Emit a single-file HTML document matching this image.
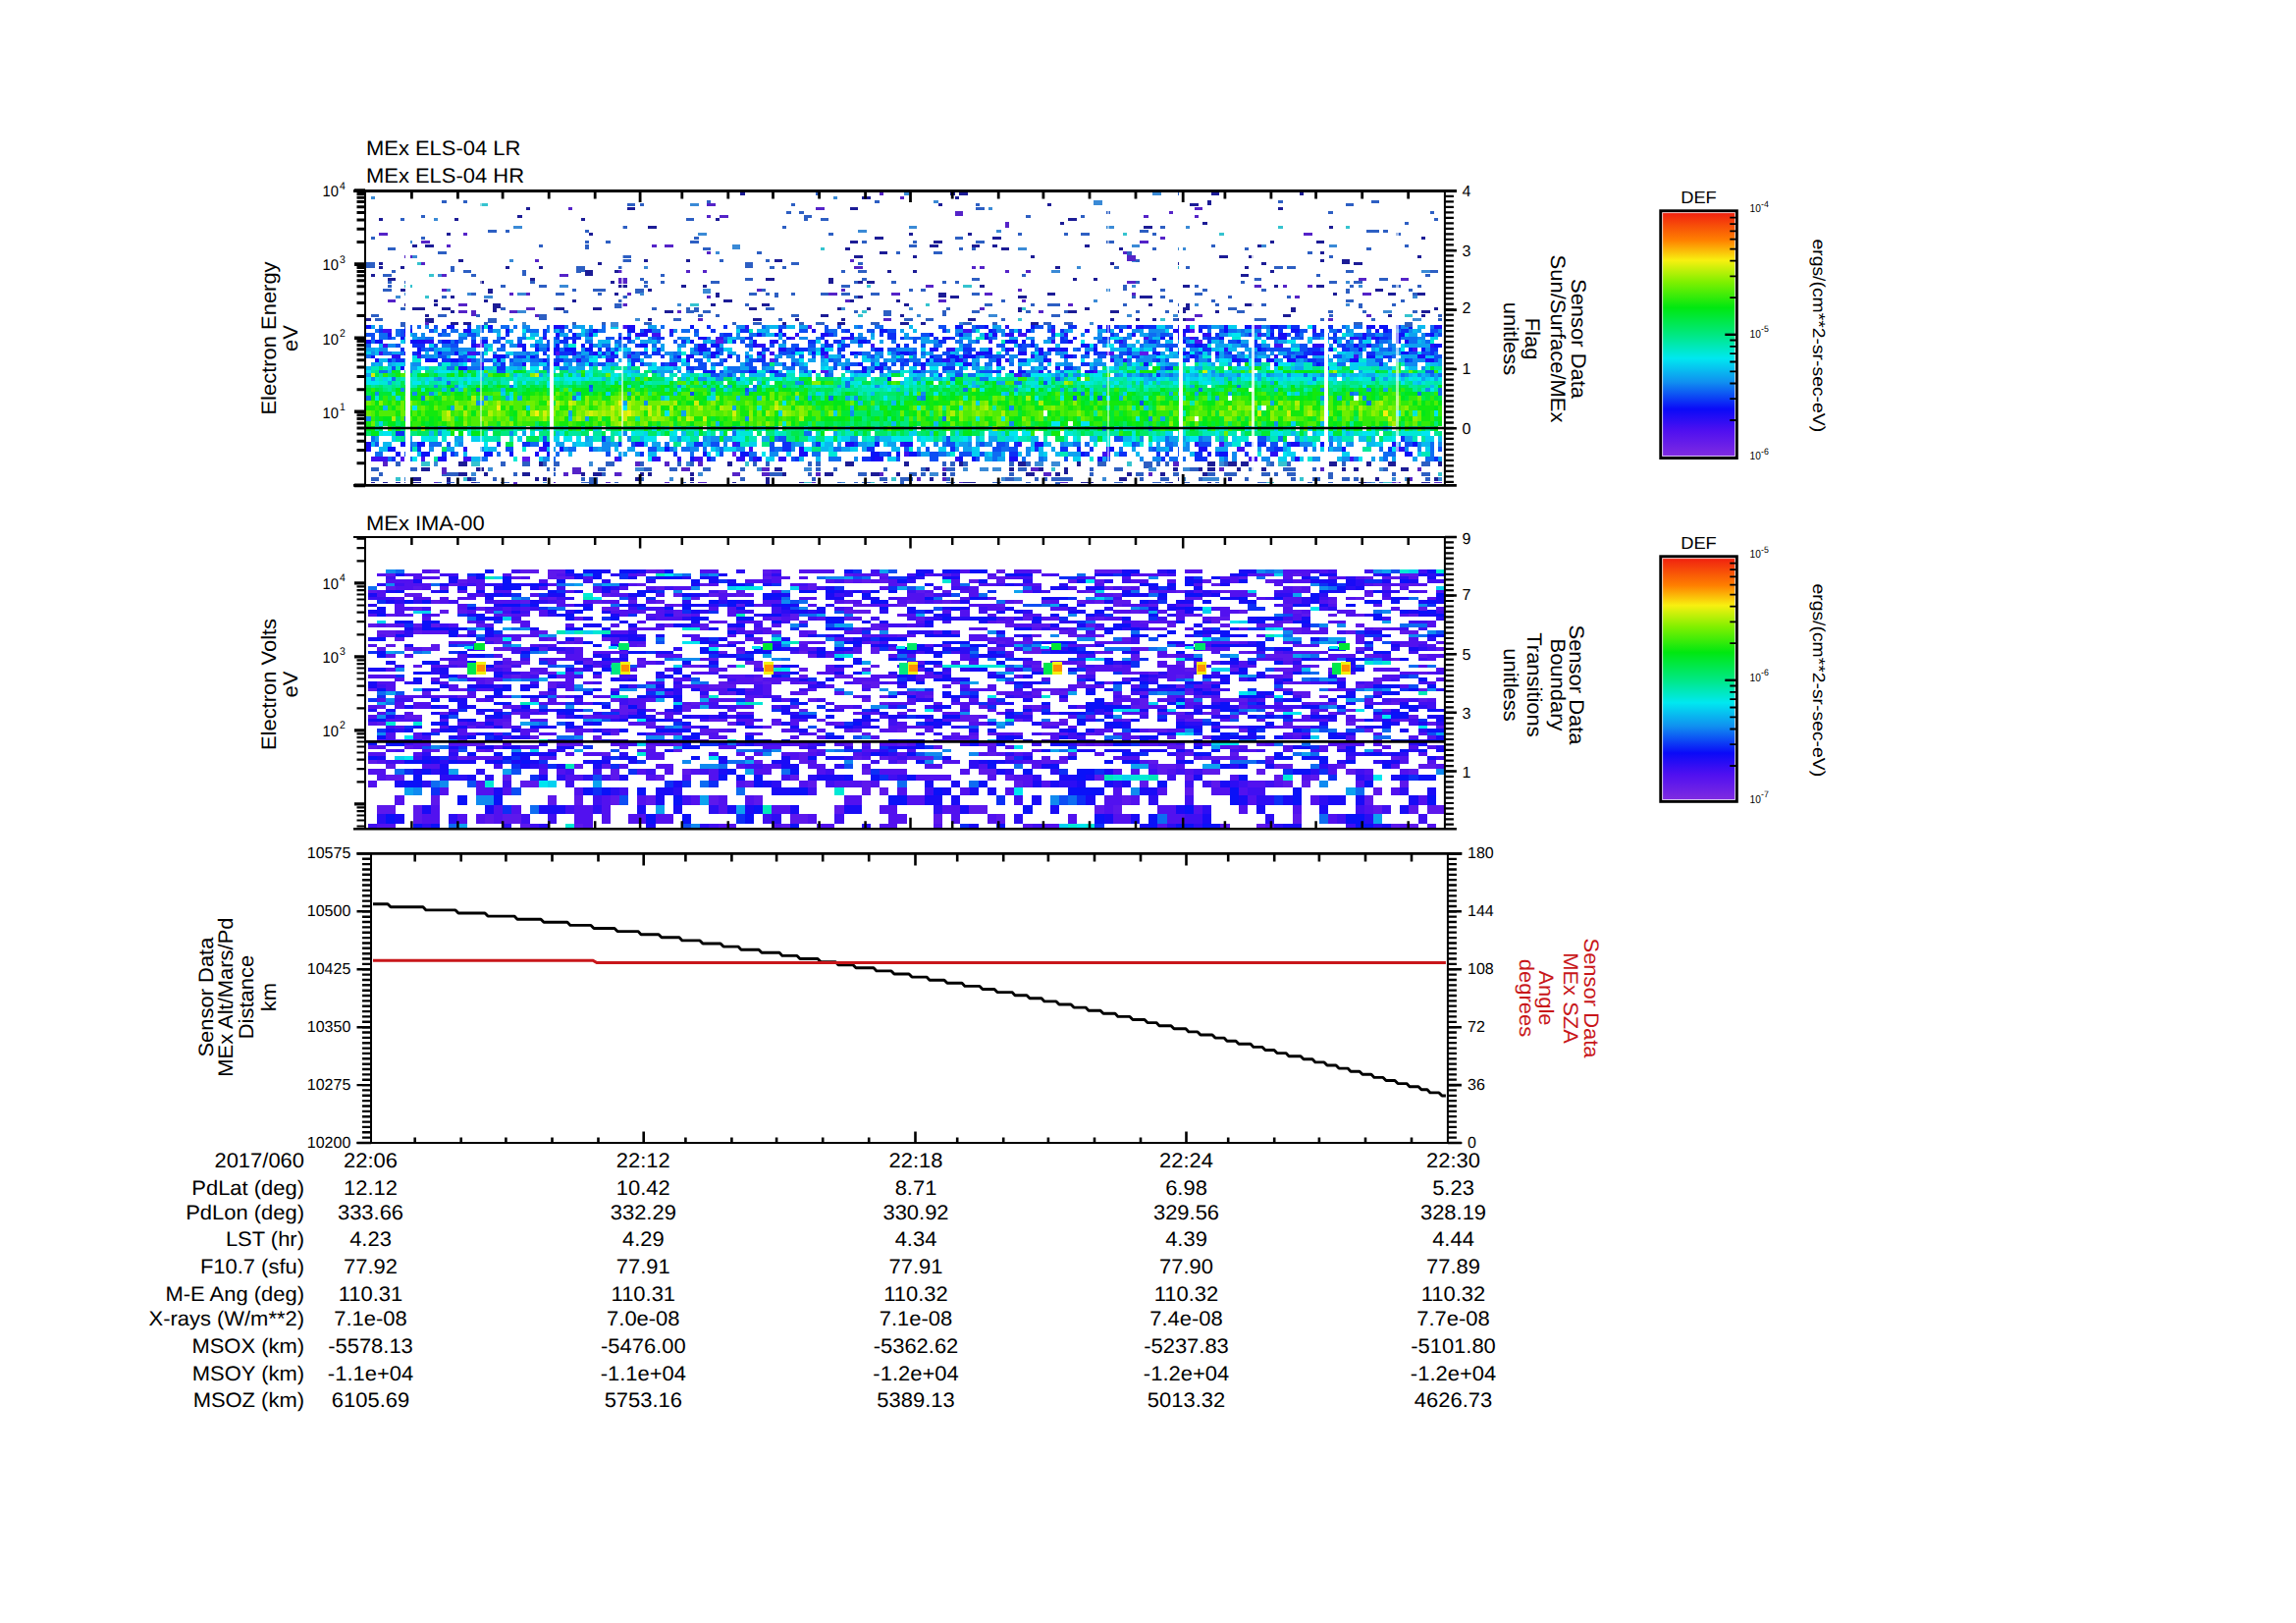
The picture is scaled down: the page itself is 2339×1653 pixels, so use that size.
<!DOCTYPE html>
<html lang="en"><head><meta charset="utf-8"><title>MEx ELS / IMA summary plot</title>
<style>html,body{margin:0;padding:0;background:#fff}svg{display:block}text{font-family:"Liberation Sans",sans-serif}</style></head>
<body>
<svg width="2339" height="1653" viewBox="0 0 2339 1653" text-rendering="geometricPrecision">
<rect width="2339" height="1653" fill="#fff"/>
<g shape-rendering="crispEdges">
<path fill="#00e6f0" d="M1212.4 331.4h4.3v3.8h-4.3zM1332.3 331.4h4.3v3.8h-4.3zM531.6 335.1h4.3v3.8h-4.3zM1255.2 338.9h8.6v3.8h-8.6zM1131.1 342.6h8.6v3.8h-8.6zM1101.1 346.4h4.3v3.8h-4.3zM1285.2 346.4h4.3v3.8h-4.3zM1310.9 346.4h8.6v3.8h-8.6zM1109.6 350.2h4.3v3.8h-4.3zM1126.8 350.2h8.6v3.8h-8.6zM1152.5 353.9h8.6v3.8h-8.6zM1315.2 353.9h4.3v3.8h-4.3zM1426.5 353.9h4.3v3.8h-4.3zM625.8 357.7h4.3v3.8h-4.3zM809.9 357.7h8.6v3.8h-8.6zM831.3 357.7h4.3v3.8h-4.3zM1054 357.7h4.3v3.8h-4.3zM1212.4 357.7h4.3v3.8h-4.3zM604.4 361.4h4.3v3.8h-4.3zM613 361.4h4.3v3.8h-4.3zM1178.1 361.4h8.6v3.8h-8.6zM1268.1 361.4h4.3v3.8h-4.3zM600.1 365.2h8.6v3.8h-8.6zM694.3 365.2h4.3v3.8h-4.3zM814.2 365.2h4.3v3.8h-4.3zM1101.1 365.2h4.3v3.8h-4.3zM1242.4 365.2h8.6v3.8h-8.6zM1272.3 365.2h4.3v3.8h-4.3zM471.7 369h4.3v3.8h-4.3zM595.8 369h4.3v3.8h-4.3zM638.7 369h4.3v3.8h-4.3zM972.6 369h8.6v3.8h-8.6zM1152.5 369h4.3v3.8h-4.3zM1272.3 369h4.3v3.8h-4.3zM1302.3 369h8.6v3.8h-8.6zM1310.9 369h4.3v3.8h-4.3zM1349.4 369h4.3v3.8h-4.3zM424.6 372.7h4.3v3.8h-4.3zM428.9 372.7h4.3v3.8h-4.3zM540.2 372.7h4.3v3.8h-4.3zM544.5 372.7h4.3v3.8h-4.3zM561.6 372.7h4.3v3.8h-4.3zM660.1 372.7h8.6v3.8h-8.6zM737.1 372.7h4.3v3.8h-4.3zM839.9 372.7h4.3v3.8h-4.3zM946.9 372.7h8.6v3.8h-8.6zM1015.4 372.7h4.3v3.8h-4.3zM1126.8 372.7h8.6v3.8h-8.6zM1212.4 372.7h4.3v3.8h-4.3zM1289.5 372.7h4.3v3.8h-4.3zM1353.7 372.7h8.6v3.8h-8.6zM1430.8 372.7h4.3v3.8h-4.3zM373.2 376.5h4.3v3.8h-4.3zM446 376.5h8.6v3.8h-8.6zM454.6 376.5h4.3v3.8h-4.3zM613 376.5h4.3v3.8h-4.3zM801.4 376.5h8.6v3.8h-8.6zM1139.6 376.5h4.3v3.8h-4.3zM1156.7 376.5h4.3v3.8h-4.3zM1195.3 376.5h8.6v3.8h-8.6zM1212.4 376.5h4.3v3.8h-4.3zM1413.6 376.5h4.3v3.8h-4.3zM1465 376.5h4.3v3.8h-4.3zM600.1 380.2h4.3v3.8h-4.3zM625.8 380.2h4.3v3.8h-4.3zM638.7 380.2h4.3v3.8h-4.3zM711.4 380.2h4.3v3.8h-4.3zM865.6 380.2h4.3v3.8h-4.3zM904.1 380.2h4.3v3.8h-4.3zM951.2 380.2h4.3v3.8h-4.3zM1015.4 380.2h4.3v3.8h-4.3zM1049.7 380.2h8.6v3.8h-8.6zM1058.3 380.2h8.6v3.8h-8.6zM1101.1 380.2h4.3v3.8h-4.3zM1113.9 380.2h8.6v3.8h-8.6zM1143.9 380.2h4.3v3.8h-4.3zM1263.8 380.2h4.3v3.8h-4.3zM1285.2 380.2h4.3v3.8h-4.3zM1306.6 380.2h4.3v3.8h-4.3zM1349.4 380.2h4.3v3.8h-4.3zM1362.3 380.2h4.3v3.8h-4.3zM373.2 384h4.3v3.8h-4.3zM394.6 384h4.3v3.8h-4.3zM476 384h4.3v3.8h-4.3zM484.5 384h4.3v3.8h-4.3zM523.1 384h4.3v3.8h-4.3zM565.9 384h4.3v3.8h-4.3zM574.4 384h4.3v3.8h-4.3zM578.7 384h4.3v3.8h-4.3zM583 384h4.3v3.8h-4.3zM587.3 384h4.3v3.8h-4.3zM595.8 384h4.3v3.8h-4.3zM621.5 384h4.3v3.8h-4.3zM754.3 384h4.3v3.8h-4.3zM792.8 384h4.3v3.8h-4.3zM857 384h8.6v3.8h-8.6zM921.2 384h4.3v3.8h-4.3zM959.8 384h4.3v3.8h-4.3zM1006.9 384h8.6v3.8h-8.6zM1156.7 384h4.3v3.8h-4.3zM1178.1 384h4.3v3.8h-4.3zM1208.1 384h4.3v3.8h-4.3zM1221 384h4.3v3.8h-4.3zM1268.1 384h4.3v3.8h-4.3zM1276.6 384h4.3v3.8h-4.3zM1289.5 384h4.3v3.8h-4.3zM1315.2 384h4.3v3.8h-4.3zM1340.9 384h4.3v3.8h-4.3zM1353.7 384h4.3v3.8h-4.3zM1383.7 384h4.3v3.8h-4.3zM1422.2 384h4.3v3.8h-4.3zM1435 384h4.3v3.8h-4.3zM1443.6 384h4.3v3.8h-4.3zM1456.5 384h4.3v3.8h-4.3zM1465 384h4.3v3.8h-4.3zM373.2 387.8h4.3v3.8h-4.3zM377.5 387.8h4.3v3.8h-4.3zM381.8 387.8h4.3v3.8h-4.3zM420.3 387.8h4.3v3.8h-4.3zM424.6 387.8h4.3v3.8h-4.3zM433.1 387.8h4.3v3.8h-4.3zM476 387.8h4.3v3.8h-4.3zM531.6 387.8h4.3v3.8h-4.3zM557.3 387.8h4.3v3.8h-4.3zM758.5 387.8h4.3v3.8h-4.3zM874.2 387.8h4.3v3.8h-4.3zM929.8 387.8h4.3v3.8h-4.3zM1105.4 387.8h4.3v3.8h-4.3zM1135.3 387.8h4.3v3.8h-4.3zM1169.6 387.8h4.3v3.8h-4.3zM1195.3 387.8h4.3v3.8h-4.3zM1225.2 387.8h4.3v3.8h-4.3zM1229.5 387.8h4.3v3.8h-4.3zM1426.5 387.8h4.3v3.8h-4.3zM467.4 391.5h4.3v3.8h-4.3zM523.1 391.5h4.3v3.8h-4.3zM557.3 391.5h4.3v3.8h-4.3zM732.9 391.5h4.3v3.8h-4.3zM887 391.5h4.3v3.8h-4.3zM921.2 391.5h4.3v3.8h-4.3zM964.1 391.5h4.3v3.8h-4.3zM1036.9 391.5h4.3v3.8h-4.3zM1131.1 391.5h4.3v3.8h-4.3zM1387.9 391.5h4.3v3.8h-4.3zM904.1 395.3h4.3v3.8h-4.3zM998.3 395.3h4.3v3.8h-4.3zM1456.5 395.3h4.3v3.8h-4.3zM951.2 399h4.3v3.8h-4.3zM1310.9 399h4.3v3.8h-4.3zM518.8 402.8h4.3v5.2h-4.3zM899.8 402.8h4.3v5.2h-4.3zM1054 402.8h4.3v5.2h-4.3zM1079.7 402.8h4.3v5.2h-4.3zM1126.8 402.8h4.3v5.2h-4.3zM797.1 408h4.3v5.2h-4.3zM420.3 413.2h4.3v5.2h-4.3zM634.4 413.2h4.3v5.2h-4.3zM934.1 413.2h4.3v5.2h-4.3zM677.2 418.4h4.3v5.2h-4.3zM1422.2 418.4h4.3v5.2h-4.3zM1460.7 418.4h4.3v5.2h-4.3zM1019.7 423.6h4.3v5.2h-4.3zM1156.7 423.6h4.3v5.2h-4.3zM1071.1 428.8h4.3v5.2h-4.3zM1075.4 428.8h4.3v5.2h-4.3zM1101.1 428.8h4.3v5.2h-4.3zM1105.4 428.8h4.3v5.2h-4.3zM664.4 434h4.3v5.2h-4.3zM818.5 434h4.3v5.2h-4.3zM1135.3 434h4.3v5.2h-4.3zM1268.1 434h4.3v5.2h-4.3zM1413.6 434h4.3v5.2h-4.3zM390.3 439.2h8.6v5.2h-8.6zM630.1 439.2h4.3v5.2h-4.3zM642.9 439.2h4.3v5.2h-4.3zM685.8 439.2h4.3v5.2h-4.3zM750 439.2h4.3v5.2h-4.3zM1028.3 439.2h8.6v5.2h-8.6zM1041.1 439.2h8.6v5.2h-8.6zM1238.1 439.2h4.3v5.2h-4.3zM1302.3 439.2h4.3v5.2h-4.3zM1340.9 439.2h8.6v5.2h-8.6zM1353.7 439.2h4.3v5.2h-4.3zM1387.9 439.2h8.6v5.2h-8.6zM1396.5 439.2h4.3v5.2h-4.3zM1447.9 439.2h8.6v5.2h-8.6zM428.9 444.4h8.6v5.2h-8.6zM488.8 444.4h4.3v5.2h-4.3zM574.4 444.4h4.3v5.2h-4.3zM578.7 444.4h4.3v5.2h-4.3zM587.3 444.4h4.3v5.2h-4.3zM655.8 444.4h4.3v5.2h-4.3zM660.1 444.4h8.6v5.2h-8.6zM698.6 444.4h4.3v5.2h-4.3zM750 444.4h8.6v5.2h-8.6zM822.8 444.4h4.3v5.2h-4.3zM839.9 444.4h4.3v5.2h-4.3zM844.2 444.4h4.3v5.2h-4.3zM852.7 444.4h4.3v5.2h-4.3zM908.4 444.4h4.3v5.2h-4.3zM912.7 444.4h4.3v5.2h-4.3zM938.4 444.4h4.3v5.2h-4.3zM981.2 444.4h4.3v5.2h-4.3zM1032.6 444.4h4.3v5.2h-4.3zM1092.5 444.4h4.3v5.2h-4.3zM1152.5 444.4h4.3v5.2h-4.3zM1173.9 444.4h4.3v5.2h-4.3zM1212.4 444.4h4.3v5.2h-4.3zM1216.7 444.4h4.3v5.2h-4.3zM1417.9 444.4h4.3v5.2h-4.3zM493.1 449.6h4.3v5.2h-4.3zM835.6 449.6h4.3v5.2h-4.3zM1143.9 449.6h8.6v5.2h-8.6zM1169.6 449.6h4.3v5.2h-4.3zM1336.6 449.6h4.3v5.2h-4.3zM818.5 454.8h8.6v5.2h-8.6zM1417.9 454.8h4.3v5.2h-4.3zM728.6 460h4.3v5.2h-4.3zM775.7 460h4.3v5.2h-4.3zM1306.6 460h4.3v5.2h-4.3zM420.3 465.2h4.3v5.2h-4.3zM660.1 465.2h4.3v5.2h-4.3zM1383.7 465.2h4.3v5.2h-4.3z"/>
<path fill="#00e81a" d="M1178.1 372.7h4.3v3.8h-4.3zM1250.9 372.7h4.3v3.8h-4.3zM467.4 376.5h4.3v3.8h-4.3zM523.1 376.5h8.6v3.8h-8.6zM1306.6 376.5h4.3v3.8h-4.3zM1310.9 376.5h4.3v3.8h-4.3zM1323.7 376.5h4.3v3.8h-4.3zM1328 376.5h8.6v3.8h-8.6zM1400.8 376.5h4.3v3.8h-4.3zM467.4 380.2h4.3v3.8h-4.3zM660.1 384h4.3v3.8h-4.3zM634.4 387.8h4.3v3.8h-4.3zM651.5 387.8h4.3v3.8h-4.3zM715.7 387.8h4.3v3.8h-4.3zM818.5 387.8h4.3v3.8h-4.3zM835.6 387.8h4.3v3.8h-4.3zM904.1 387.8h4.3v3.8h-4.3zM942.7 387.8h8.6v3.8h-8.6zM972.6 387.8h8.6v3.8h-8.6zM1002.6 387.8h4.3v3.8h-4.3zM1011.2 387.8h4.3v3.8h-4.3zM1250.9 387.8h4.3v3.8h-4.3zM1298 387.8h4.3v3.8h-4.3zM454.6 391.5h4.3v3.8h-4.3zM493.1 391.5h4.3v3.8h-4.3zM634.4 391.5h4.3v3.8h-4.3zM677.2 391.5h4.3v3.8h-4.3zM728.6 391.5h4.3v3.8h-4.3zM745.7 391.5h4.3v3.8h-4.3zM1011.2 391.5h4.3v3.8h-4.3zM1216.7 391.5h4.3v3.8h-4.3zM1285.2 391.5h4.3v3.8h-4.3zM1315.2 391.5h4.3v3.8h-4.3zM1465 391.5h4.3v3.8h-4.3zM403.2 395.3h4.3v3.8h-4.3zM433.1 395.3h4.3v3.8h-4.3zM480.2 395.3h4.3v3.8h-4.3zM488.8 395.3h4.3v3.8h-4.3zM493.1 395.3h4.3v3.8h-4.3zM514.5 395.3h4.3v3.8h-4.3zM518.8 395.3h4.3v3.8h-4.3zM535.9 395.3h4.3v3.8h-4.3zM544.5 395.3h4.3v3.8h-4.3zM591.6 395.3h4.3v3.8h-4.3zM595.8 395.3h4.3v3.8h-4.3zM617.3 395.3h4.3v3.8h-4.3zM625.8 395.3h4.3v3.8h-4.3zM634.4 395.3h4.3v3.8h-4.3zM651.5 395.3h4.3v3.8h-4.3zM698.6 395.3h4.3v3.8h-4.3zM750 395.3h4.3v3.8h-4.3zM771.4 395.3h4.3v3.8h-4.3zM797.1 395.3h4.3v3.8h-4.3zM801.4 395.3h4.3v3.8h-4.3zM1006.9 395.3h4.3v3.8h-4.3zM1011.2 395.3h4.3v3.8h-4.3zM1049.7 395.3h4.3v3.8h-4.3zM1058.3 395.3h4.3v3.8h-4.3zM1105.4 395.3h4.3v3.8h-4.3zM1182.4 395.3h4.3v3.8h-4.3zM1268.1 395.3h4.3v3.8h-4.3zM1276.6 395.3h4.3v3.8h-4.3zM1302.3 395.3h4.3v3.8h-4.3zM1366.5 395.3h4.3v3.8h-4.3zM1396.5 395.3h4.3v3.8h-4.3zM1422.2 395.3h4.3v3.8h-4.3zM377.5 399h4.3v3.8h-4.3zM416 399h4.3v3.8h-4.3zM428.9 399h4.3v3.8h-4.3zM450.3 399h4.3v3.8h-4.3zM463.1 399h4.3v3.8h-4.3zM467.4 399h4.3v3.8h-4.3zM484.5 399h4.3v3.8h-4.3zM531.6 399h4.3v3.8h-4.3zM535.9 399h4.3v3.8h-4.3zM574.4 399h4.3v3.8h-4.3zM591.6 399h4.3v3.8h-4.3zM595.8 399h4.3v3.8h-4.3zM604.4 399h4.3v3.8h-4.3zM613 399h4.3v3.8h-4.3zM720 399h4.3v3.8h-4.3zM762.8 399h4.3v3.8h-4.3zM775.7 399h4.3v3.8h-4.3zM780 399h4.3v3.8h-4.3zM805.6 399h4.3v3.8h-4.3zM861.3 399h4.3v3.8h-4.3zM968.3 399h4.3v3.8h-4.3zM989.8 399h4.3v3.8h-4.3zM994 399h4.3v3.8h-4.3zM1002.6 399h4.3v3.8h-4.3zM1006.9 399h4.3v3.8h-4.3zM1011.2 399h4.3v3.8h-4.3zM1015.4 399h4.3v3.8h-4.3zM1066.8 399h4.3v3.8h-4.3zM1096.8 399h4.3v3.8h-4.3zM1135.3 399h4.3v3.8h-4.3zM1152.5 399h4.3v3.8h-4.3zM1173.9 399h4.3v3.8h-4.3zM1178.1 399h4.3v3.8h-4.3zM1212.4 399h4.3v3.8h-4.3zM1225.2 399h4.3v3.8h-4.3zM1233.8 399h4.3v3.8h-4.3zM1263.8 399h4.3v3.8h-4.3zM1306.6 399h4.3v3.8h-4.3zM1332.3 399h4.3v3.8h-4.3zM1358 399h4.3v3.8h-4.3zM1383.7 399h4.3v3.8h-4.3zM1396.5 399h4.3v3.8h-4.3zM1430.8 399h4.3v3.8h-4.3zM1435 399h4.3v3.8h-4.3zM1439.3 399h4.3v3.8h-4.3zM377.5 402.8h4.3v5.2h-4.3zM416 402.8h4.3v5.2h-4.3zM420.3 402.8h4.3v5.2h-4.3zM441.7 402.8h4.3v5.2h-4.3zM476 402.8h4.3v5.2h-4.3zM638.7 402.8h4.3v5.2h-4.3zM647.2 402.8h4.3v5.2h-4.3zM715.7 402.8h4.3v5.2h-4.3zM780 402.8h4.3v5.2h-4.3zM818.5 402.8h4.3v5.2h-4.3zM827.1 402.8h4.3v5.2h-4.3zM848.5 402.8h4.3v5.2h-4.3zM929.8 402.8h4.3v5.2h-4.3zM942.7 402.8h4.3v5.2h-4.3zM959.8 402.8h4.3v5.2h-4.3zM968.3 402.8h4.3v5.2h-4.3zM994 402.8h4.3v5.2h-4.3zM1032.6 402.8h4.3v5.2h-4.3zM1049.7 402.8h4.3v5.2h-4.3zM1062.5 402.8h4.3v5.2h-4.3zM1105.4 402.8h4.3v5.2h-4.3zM1113.9 402.8h4.3v5.2h-4.3zM1122.5 402.8h4.3v5.2h-4.3zM1131.1 402.8h4.3v5.2h-4.3zM1135.3 402.8h4.3v5.2h-4.3zM1148.2 402.8h4.3v5.2h-4.3zM1199.6 402.8h4.3v5.2h-4.3zM1302.3 402.8h4.3v5.2h-4.3zM1315.2 402.8h4.3v5.2h-4.3zM1323.7 402.8h4.3v5.2h-4.3zM1332.3 402.8h4.3v5.2h-4.3zM1358 402.8h4.3v5.2h-4.3zM1396.5 402.8h4.3v5.2h-4.3zM1426.5 402.8h4.3v5.2h-4.3zM381.8 408h4.3v5.2h-4.3zM428.9 408h4.3v5.2h-4.3zM690 408h4.3v5.2h-4.3zM698.6 408h4.3v5.2h-4.3zM702.9 408h4.3v5.2h-4.3zM711.4 408h4.3v5.2h-4.3zM814.2 408h4.3v5.2h-4.3zM822.8 408h4.3v5.2h-4.3zM835.6 408h4.3v5.2h-4.3zM839.9 408h4.3v5.2h-4.3zM848.5 408h4.3v5.2h-4.3zM852.7 408h4.3v5.2h-4.3zM857 408h4.3v5.2h-4.3zM912.7 408h4.3v5.2h-4.3zM942.7 408h4.3v5.2h-4.3zM951.2 408h4.3v5.2h-4.3zM1006.9 408h4.3v5.2h-4.3zM1015.4 408h4.3v5.2h-4.3zM1024 408h4.3v5.2h-4.3zM1041.1 408h4.3v5.2h-4.3zM1071.1 408h4.3v5.2h-4.3zM1075.4 408h4.3v5.2h-4.3zM1101.1 408h4.3v5.2h-4.3zM1113.9 408h4.3v5.2h-4.3zM1156.7 408h4.3v5.2h-4.3zM1165.3 408h4.3v5.2h-4.3zM1173.9 408h4.3v5.2h-4.3zM1182.4 408h4.3v5.2h-4.3zM1186.7 408h4.3v5.2h-4.3zM1229.5 408h4.3v5.2h-4.3zM1233.8 408h4.3v5.2h-4.3zM1298 408h4.3v5.2h-4.3zM1340.9 408h4.3v5.2h-4.3zM1358 408h4.3v5.2h-4.3zM1439.3 408h4.3v5.2h-4.3zM1447.9 408h4.3v5.2h-4.3zM1465 408h4.3v5.2h-4.3zM398.9 413.2h4.3v5.2h-4.3zM454.6 413.2h4.3v5.2h-4.3zM471.7 413.2h4.3v5.2h-4.3zM518.8 413.2h4.3v5.2h-4.3zM672.9 413.2h4.3v5.2h-4.3zM728.6 413.2h4.3v5.2h-4.3zM805.6 413.2h4.3v5.2h-4.3zM848.5 413.2h4.3v5.2h-4.3zM857 413.2h4.3v5.2h-4.3zM908.4 413.2h4.3v5.2h-4.3zM912.7 413.2h4.3v5.2h-4.3zM917 413.2h4.3v5.2h-4.3zM921.2 413.2h4.3v5.2h-4.3zM1024 413.2h4.3v5.2h-4.3zM1036.9 413.2h4.3v5.2h-4.3zM1054 413.2h4.3v5.2h-4.3zM1058.3 413.2h4.3v5.2h-4.3zM1101.1 413.2h4.3v5.2h-4.3zM1109.6 413.2h4.3v5.2h-4.3zM1118.2 413.2h4.3v5.2h-4.3zM1203.8 413.2h4.3v5.2h-4.3zM1302.3 413.2h4.3v5.2h-4.3zM1323.7 413.2h4.3v5.2h-4.3zM1460.7 413.2h4.3v5.2h-4.3zM480.2 418.4h4.3v5.2h-4.3zM523.1 418.4h4.3v5.2h-4.3zM775.7 418.4h4.3v5.2h-4.3zM882.7 418.4h4.3v5.2h-4.3zM904.1 418.4h4.3v5.2h-4.3zM929.8 418.4h4.3v5.2h-4.3zM938.4 418.4h4.3v5.2h-4.3zM1066.8 418.4h4.3v5.2h-4.3zM1161 418.4h4.3v5.2h-4.3zM1165.3 418.4h4.3v5.2h-4.3zM1173.9 418.4h4.3v5.2h-4.3zM1362.3 418.4h4.3v5.2h-4.3zM1430.8 418.4h4.3v5.2h-4.3zM1447.9 418.4h4.3v5.2h-4.3zM390.3 423.6h4.3v5.2h-4.3zM394.6 423.6h4.3v5.2h-4.3zM437.4 423.6h4.3v5.2h-4.3zM446 423.6h4.3v5.2h-4.3zM685.8 423.6h4.3v5.2h-4.3zM788.5 423.6h4.3v5.2h-4.3zM839.9 423.6h4.3v5.2h-4.3zM844.2 423.6h4.3v5.2h-4.3zM852.7 423.6h4.3v5.2h-4.3zM857 423.6h4.3v5.2h-4.3zM869.9 423.6h4.3v5.2h-4.3zM874.2 423.6h4.3v5.2h-4.3zM899.8 423.6h4.3v5.2h-4.3zM908.4 423.6h4.3v5.2h-4.3zM942.7 423.6h4.3v5.2h-4.3zM972.6 423.6h4.3v5.2h-4.3zM1032.6 423.6h4.3v5.2h-4.3zM1036.9 423.6h4.3v5.2h-4.3zM1049.7 423.6h4.3v5.2h-4.3zM1084 423.6h4.3v5.2h-4.3zM1113.9 423.6h4.3v5.2h-4.3zM1118.2 423.6h4.3v5.2h-4.3zM1143.9 423.6h4.3v5.2h-4.3zM1165.3 423.6h4.3v5.2h-4.3zM1203.8 423.6h4.3v5.2h-4.3zM1225.2 423.6h4.3v5.2h-4.3zM1353.7 423.6h4.3v5.2h-4.3zM1426.5 423.6h4.3v5.2h-4.3zM394.6 428.8h4.3v5.2h-4.3zM398.9 428.8h4.3v5.2h-4.3zM428.9 428.8h4.3v5.2h-4.3zM437.4 428.8h4.3v5.2h-4.3zM548.7 428.8h4.3v5.2h-4.3zM591.6 428.8h4.3v5.2h-4.3zM617.3 428.8h4.3v5.2h-4.3zM660.1 428.8h4.3v5.2h-4.3zM702.9 428.8h4.3v5.2h-4.3zM720 428.8h4.3v5.2h-4.3zM732.9 428.8h4.3v5.2h-4.3zM745.7 428.8h4.3v5.2h-4.3zM750 428.8h4.3v5.2h-4.3zM788.5 428.8h4.3v5.2h-4.3zM805.6 428.8h4.3v5.2h-4.3zM929.8 428.8h4.3v5.2h-4.3zM1006.9 428.8h4.3v5.2h-4.3zM1032.6 428.8h4.3v5.2h-4.3zM1062.5 428.8h4.3v5.2h-4.3zM1079.7 428.8h4.3v5.2h-4.3zM1096.8 428.8h4.3v5.2h-4.3zM1126.8 428.8h4.3v5.2h-4.3zM1135.3 428.8h4.3v5.2h-4.3zM1148.2 428.8h4.3v5.2h-4.3zM1156.7 428.8h4.3v5.2h-4.3zM1182.4 428.8h4.3v5.2h-4.3zM1199.6 428.8h4.3v5.2h-4.3zM1212.4 428.8h4.3v5.2h-4.3zM1225.2 428.8h4.3v5.2h-4.3zM1263.8 428.8h4.3v5.2h-4.3zM1268.1 428.8h4.3v5.2h-4.3zM1289.5 428.8h4.3v5.2h-4.3zM1293.8 428.8h4.3v5.2h-4.3zM1340.9 428.8h4.3v5.2h-4.3zM1349.4 428.8h4.3v5.2h-4.3zM1358 428.8h4.3v5.2h-4.3zM1379.4 428.8h4.3v5.2h-4.3zM1383.7 428.8h4.3v5.2h-4.3zM1465 428.8h4.3v5.2h-4.3zM373.2 434h4.3v5.2h-4.3zM711.4 434h4.3v5.2h-4.3zM780 434h4.3v5.2h-4.3zM831.3 434h4.3v5.2h-4.3zM839.9 434h4.3v5.2h-4.3zM899.8 434h4.3v5.2h-4.3zM925.5 434h4.3v5.2h-4.3zM959.8 434h4.3v5.2h-4.3zM1049.7 434h4.3v5.2h-4.3zM1062.5 434h4.3v5.2h-4.3zM1118.2 434h4.3v5.2h-4.3zM1131.1 434h4.3v5.2h-4.3zM1173.9 434h4.3v5.2h-4.3zM1212.4 434h4.3v5.2h-4.3zM1263.8 434h4.3v5.2h-4.3zM1280.9 434h4.3v5.2h-4.3zM1336.6 434h4.3v5.2h-4.3zM1370.8 434h4.3v5.2h-4.3zM377.5 439.2h8.6v5.2h-8.6zM467.4 439.2h4.3v5.2h-4.3zM480.2 439.2h8.6v5.2h-8.6zM835.6 439.2h4.3v5.2h-4.3zM981.2 439.2h8.6v5.2h-8.6z"/>
<path fill="#00e834" d="M1422.2 372.7h4.3v3.8h-4.3zM1456.5 372.7h4.3v3.8h-4.3zM403.2 376.5h4.3v3.8h-4.3zM531.6 376.5h4.3v3.8h-4.3zM1148.2 376.5h8.6v3.8h-8.6zM1289.5 376.5h8.6v3.8h-8.6zM1336.6 376.5h4.3v3.8h-4.3zM1439.3 376.5h4.3v3.8h-4.3zM424.6 380.2h4.3v3.8h-4.3zM441.7 380.2h4.3v3.8h-4.3zM454.6 380.2h4.3v3.8h-4.3zM480.2 380.2h4.3v3.8h-4.3zM908.4 380.2h8.6v3.8h-8.6zM814.2 384h8.6v3.8h-8.6zM972.6 384h8.6v3.8h-8.6zM613 387.8h4.3v3.8h-4.3zM625.8 387.8h4.3v3.8h-4.3zM638.7 387.8h4.3v3.8h-4.3zM724.3 387.8h4.3v3.8h-4.3zM741.4 387.8h8.6v3.8h-8.6zM775.7 387.8h4.3v3.8h-4.3zM788.5 387.8h8.6v3.8h-8.6zM822.8 387.8h4.3v3.8h-4.3zM955.5 387.8h4.3v3.8h-4.3zM1058.3 387.8h4.3v3.8h-4.3zM411.7 391.5h4.3v3.8h-4.3zM458.8 391.5h4.3v3.8h-4.3zM510.2 391.5h4.3v3.8h-4.3zM531.6 391.5h4.3v3.8h-4.3zM540.2 391.5h4.3v3.8h-4.3zM553 391.5h4.3v3.8h-4.3zM561.6 391.5h4.3v3.8h-4.3zM583 391.5h4.3v3.8h-4.3zM613 391.5h4.3v3.8h-4.3zM642.9 391.5h4.3v3.8h-4.3zM660.1 391.5h4.3v3.8h-4.3zM668.6 391.5h4.3v3.8h-4.3zM681.5 391.5h4.3v3.8h-4.3zM720 391.5h4.3v3.8h-4.3zM758.5 391.5h4.3v3.8h-4.3zM771.4 391.5h4.3v3.8h-4.3zM814.2 391.5h4.3v3.8h-4.3zM981.2 391.5h4.3v3.8h-4.3zM1079.7 391.5h4.3v3.8h-4.3zM1088.2 391.5h4.3v3.8h-4.3zM1101.1 391.5h4.3v3.8h-4.3zM1242.4 391.5h4.3v3.8h-4.3zM1246.7 391.5h4.3v3.8h-4.3zM1255.2 391.5h4.3v3.8h-4.3zM1293.8 391.5h4.3v3.8h-4.3zM1340.9 391.5h4.3v3.8h-4.3zM1349.4 391.5h4.3v3.8h-4.3zM1392.2 391.5h4.3v3.8h-4.3zM1422.2 391.5h4.3v3.8h-4.3zM373.2 395.3h4.3v3.8h-4.3zM381.8 395.3h4.3v3.8h-4.3zM411.7 395.3h4.3v3.8h-4.3zM437.4 395.3h4.3v3.8h-4.3zM497.4 395.3h4.3v3.8h-4.3zM523.1 395.3h4.3v3.8h-4.3zM540.2 395.3h4.3v3.8h-4.3zM548.7 395.3h4.3v3.8h-4.3zM561.6 395.3h4.3v3.8h-4.3zM621.5 395.3h4.3v3.8h-4.3zM664.4 395.3h4.3v3.8h-4.3zM668.6 395.3h4.3v3.8h-4.3zM685.8 395.3h4.3v3.8h-4.3zM694.3 395.3h4.3v3.8h-4.3zM728.6 395.3h4.3v3.8h-4.3zM732.9 395.3h4.3v3.8h-4.3zM745.7 395.3h4.3v3.8h-4.3zM754.3 395.3h4.3v3.8h-4.3zM809.9 395.3h4.3v3.8h-4.3zM946.9 395.3h4.3v3.8h-4.3zM959.8 395.3h4.3v3.8h-4.3zM964.1 395.3h4.3v3.8h-4.3zM972.6 395.3h4.3v3.8h-4.3zM985.5 395.3h4.3v3.8h-4.3zM1002.6 395.3h4.3v3.8h-4.3zM1019.7 395.3h4.3v3.8h-4.3zM1024 395.3h4.3v3.8h-4.3zM1071.1 395.3h4.3v3.8h-4.3zM1084 395.3h4.3v3.8h-4.3zM1216.7 395.3h4.3v3.8h-4.3zM1233.8 395.3h4.3v3.8h-4.3zM1280.9 395.3h4.3v3.8h-4.3zM1323.7 395.3h4.3v3.8h-4.3zM1340.9 395.3h4.3v3.8h-4.3zM1387.9 395.3h4.3v3.8h-4.3zM1430.8 395.3h4.3v3.8h-4.3zM1435 395.3h4.3v3.8h-4.3zM386 399h4.3v3.8h-4.3zM390.3 399h4.3v3.8h-4.3zM394.6 399h4.3v3.8h-4.3zM433.1 399h4.3v3.8h-4.3zM707.2 399h4.3v3.8h-4.3zM741.4 399h4.3v3.8h-4.3zM925.5 399h4.3v3.8h-4.3zM942.7 399h4.3v3.8h-4.3zM955.5 399h4.3v3.8h-4.3zM998.3 399h4.3v3.8h-4.3zM1045.4 399h4.3v3.8h-4.3zM1088.2 399h4.3v3.8h-4.3zM1131.1 399h4.3v3.8h-4.3zM1186.7 399h4.3v3.8h-4.3zM1255.2 399h4.3v3.8h-4.3zM1268.1 399h4.3v3.8h-4.3zM1289.5 399h4.3v3.8h-4.3zM1298 399h4.3v3.8h-4.3zM1323.7 399h4.3v3.8h-4.3zM1362.3 399h4.3v3.8h-4.3zM1366.5 399h4.3v3.8h-4.3zM1387.9 399h4.3v3.8h-4.3zM1400.8 399h4.3v3.8h-4.3zM1426.5 399h4.3v3.8h-4.3zM1447.9 399h4.3v3.8h-4.3zM1452.2 399h4.3v3.8h-4.3zM386 402.8h4.3v5.2h-4.3zM407.5 402.8h4.3v5.2h-4.3zM446 402.8h4.3v5.2h-4.3zM613 402.8h4.3v5.2h-4.3zM801.4 402.8h4.3v5.2h-4.3zM857 402.8h4.3v5.2h-4.3zM874.2 402.8h4.3v5.2h-4.3zM925.5 402.8h4.3v5.2h-4.3zM964.1 402.8h4.3v5.2h-4.3zM1006.9 402.8h4.3v5.2h-4.3zM1024 402.8h4.3v5.2h-4.3zM1041.1 402.8h4.3v5.2h-4.3zM1071.1 402.8h4.3v5.2h-4.3zM1101.1 402.8h4.3v5.2h-4.3zM1156.7 402.8h4.3v5.2h-4.3zM1173.9 402.8h4.3v5.2h-4.3zM1186.7 402.8h4.3v5.2h-4.3zM1191 402.8h4.3v5.2h-4.3zM1233.8 402.8h4.3v5.2h-4.3zM1276.6 402.8h4.3v5.2h-4.3zM1293.8 402.8h4.3v5.2h-4.3zM1310.9 402.8h4.3v5.2h-4.3zM1340.9 402.8h4.3v5.2h-4.3zM1430.8 402.8h4.3v5.2h-4.3zM1452.2 402.8h4.3v5.2h-4.3zM1460.7 402.8h4.3v5.2h-4.3zM433.1 408h4.3v5.2h-4.3zM869.9 408h4.3v5.2h-4.3zM878.4 408h4.3v5.2h-4.3zM895.6 408h4.3v5.2h-4.3zM929.8 408h4.3v5.2h-4.3zM938.4 408h4.3v5.2h-4.3zM1054 408h4.3v5.2h-4.3zM1105.4 408h4.3v5.2h-4.3zM882.7 413.2h4.3v5.2h-4.3zM942.7 413.2h4.3v5.2h-4.3zM1122.5 413.2h4.3v5.2h-4.3zM1173.9 413.2h4.3v5.2h-4.3zM857 418.4h4.3v5.2h-4.3zM861.3 418.4h4.3v5.2h-4.3zM908.4 418.4h4.3v5.2h-4.3zM921.2 418.4h4.3v5.2h-4.3zM959.8 418.4h4.3v5.2h-4.3zM1036.9 418.4h4.3v5.2h-4.3zM1131.1 418.4h4.3v5.2h-4.3zM1139.6 418.4h4.3v5.2h-4.3zM1191 418.4h4.3v5.2h-4.3zM1238.1 418.4h4.3v5.2h-4.3zM1285.2 418.4h4.3v5.2h-4.3zM1379.4 418.4h4.3v5.2h-4.3zM381.8 423.6h4.3v5.2h-4.3zM613 423.6h4.3v5.2h-4.3zM724.3 423.6h4.3v5.2h-4.3zM827.1 423.6h4.3v5.2h-4.3zM887 423.6h4.3v5.2h-4.3zM946.9 423.6h4.3v5.2h-4.3zM1131.1 423.6h4.3v5.2h-4.3zM1186.7 423.6h4.3v5.2h-4.3zM1242.4 423.6h4.3v5.2h-4.3zM1259.5 423.6h4.3v5.2h-4.3zM1268.1 423.6h4.3v5.2h-4.3zM1336.6 423.6h4.3v5.2h-4.3zM1460.7 423.6h4.3v5.2h-4.3zM407.5 428.8h4.3v5.2h-4.3zM433.1 428.8h4.3v5.2h-4.3zM505.9 428.8h4.3v5.2h-4.3zM557.3 428.8h4.3v5.2h-4.3zM668.6 428.8h4.3v5.2h-4.3zM685.8 428.8h4.3v5.2h-4.3zM814.2 428.8h4.3v5.2h-4.3zM818.5 428.8h4.3v5.2h-4.3zM839.9 428.8h4.3v5.2h-4.3zM844.2 428.8h4.3v5.2h-4.3zM857 428.8h4.3v5.2h-4.3zM869.9 428.8h4.3v5.2h-4.3zM882.7 428.8h4.3v5.2h-4.3zM912.7 428.8h4.3v5.2h-4.3zM955.5 428.8h4.3v5.2h-4.3zM964.1 428.8h4.3v5.2h-4.3zM985.5 428.8h4.3v5.2h-4.3zM1054 428.8h4.3v5.2h-4.3zM1066.8 428.8h4.3v5.2h-4.3zM1131.1 428.8h4.3v5.2h-4.3zM1139.6 428.8h4.3v5.2h-4.3zM1169.6 428.8h4.3v5.2h-4.3zM1186.7 428.8h4.3v5.2h-4.3zM1221 428.8h4.3v5.2h-4.3zM1233.8 428.8h4.3v5.2h-4.3zM1242.4 428.8h4.3v5.2h-4.3zM1276.6 428.8h4.3v5.2h-4.3zM1319.4 428.8h4.3v5.2h-4.3zM1409.4 428.8h4.3v5.2h-4.3zM1443.6 428.8h4.3v5.2h-4.3zM433.1 434h4.3v5.2h-4.3zM463.1 434h4.3v5.2h-4.3zM724.3 434h4.3v5.2h-4.3zM741.4 434h4.3v5.2h-4.3zM767.1 434h4.3v5.2h-4.3zM797.1 434h4.3v5.2h-4.3zM827.1 434h4.3v5.2h-4.3zM878.4 434h4.3v5.2h-4.3zM917 434h4.3v5.2h-4.3zM938.4 434h4.3v5.2h-4.3zM981.2 434h4.3v5.2h-4.3zM998.3 434h4.3v5.2h-4.3zM1036.9 434h4.3v5.2h-4.3zM1045.4 434h4.3v5.2h-4.3zM1058.3 434h4.3v5.2h-4.3zM1105.4 434h4.3v5.2h-4.3zM1178.1 434h4.3v5.2h-4.3zM1186.7 434h4.3v5.2h-4.3zM1195.3 434h4.3v5.2h-4.3zM1229.5 434h4.3v5.2h-4.3zM1259.5 434h4.3v5.2h-4.3zM1302.3 434h4.3v5.2h-4.3zM1383.7 434h4.3v5.2h-4.3zM488.8 439.2h4.3v5.2h-4.3zM677.2 439.2h4.3v5.2h-4.3zM711.4 439.2h4.3v5.2h-4.3zM737.1 439.2h4.3v5.2h-4.3zM869.9 439.2h4.3v5.2h-4.3zM878.4 439.2h4.3v5.2h-4.3zM1143.9 439.2h8.6v5.2h-8.6zM1156.7 439.2h4.3v5.2h-4.3zM1285.2 439.2h8.6v5.2h-8.6zM1323.7 439.2h4.3v5.2h-4.3zM1358 439.2h8.6v5.2h-8.6zM732.9 444.4h4.3v5.2h-4.3zM784.2 444.4h4.3v5.2h-4.3zM809.9 444.4h4.3v5.2h-4.3zM1118.2 444.4h4.3v5.2h-4.3zM1306.6 444.4h4.3v5.2h-4.3z"/>
<path fill="#00e84d" d="M1422.2 369h4.3v3.8h-4.3zM1195.3 372.7h8.6v3.8h-8.6zM1366.5 372.7h8.6v3.8h-8.6zM480.2 376.5h4.3v3.8h-4.3zM548.7 376.5h8.6v3.8h-8.6zM1208.1 376.5h4.3v3.8h-4.3zM1221 376.5h4.3v3.8h-4.3zM1242.4 376.5h4.3v3.8h-4.3zM1345.1 376.5h4.3v3.8h-4.3zM1405.1 376.5h8.6v3.8h-8.6zM381.8 380.2h4.3v3.8h-4.3zM398.9 380.2h4.3v3.8h-4.3zM561.6 380.2h4.3v3.8h-4.3zM570.2 380.2h4.3v3.8h-4.3zM578.7 380.2h4.3v3.8h-4.3zM707.2 384h4.3v3.8h-4.3zM994 384h4.3v3.8h-4.3zM407.5 387.8h4.3v3.8h-4.3zM595.8 387.8h4.3v3.8h-4.3zM604.4 387.8h4.3v3.8h-4.3zM642.9 387.8h4.3v3.8h-4.3zM647.2 387.8h4.3v3.8h-4.3zM878.4 387.8h8.6v3.8h-8.6zM934.1 387.8h4.3v3.8h-4.3zM1006.9 387.8h4.3v3.8h-4.3zM1071.1 387.8h4.3v3.8h-4.3zM1272.3 387.8h4.3v3.8h-4.3zM407.5 391.5h4.3v3.8h-4.3zM424.6 391.5h4.3v3.8h-4.3zM476 391.5h4.3v3.8h-4.3zM501.6 391.5h4.3v3.8h-4.3zM544.5 391.5h4.3v3.8h-4.3zM570.2 391.5h4.3v3.8h-4.3zM578.7 391.5h4.3v3.8h-4.3zM591.6 391.5h4.3v3.8h-4.3zM595.8 391.5h4.3v3.8h-4.3zM604.4 391.5h4.3v3.8h-4.3zM608.7 391.5h4.3v3.8h-4.3zM617.3 391.5h4.3v3.8h-4.3zM647.2 391.5h4.3v3.8h-4.3zM655.8 391.5h4.3v3.8h-4.3zM707.2 391.5h4.3v3.8h-4.3zM711.4 391.5h4.3v3.8h-4.3zM737.1 391.5h4.3v3.8h-4.3zM788.5 391.5h4.3v3.8h-4.3zM951.2 391.5h4.3v3.8h-4.3zM976.9 391.5h4.3v3.8h-4.3zM998.3 391.5h4.3v3.8h-4.3zM1015.4 391.5h4.3v3.8h-4.3zM1028.3 391.5h4.3v3.8h-4.3zM1161 391.5h4.3v3.8h-4.3zM1203.8 391.5h4.3v3.8h-4.3zM1238.1 391.5h4.3v3.8h-4.3zM1276.6 391.5h4.3v3.8h-4.3zM1323.7 391.5h4.3v3.8h-4.3zM1332.3 391.5h4.3v3.8h-4.3zM1336.6 391.5h4.3v3.8h-4.3zM1366.5 391.5h4.3v3.8h-4.3zM1396.5 391.5h4.3v3.8h-4.3zM1405.1 391.5h4.3v3.8h-4.3zM1417.9 391.5h4.3v3.8h-4.3zM1426.5 391.5h4.3v3.8h-4.3zM1430.8 391.5h4.3v3.8h-4.3zM386 395.3h4.3v3.8h-4.3zM416 395.3h4.3v3.8h-4.3zM420.3 395.3h4.3v3.8h-4.3zM441.7 395.3h4.3v3.8h-4.3zM446 395.3h4.3v3.8h-4.3zM454.6 395.3h4.3v3.8h-4.3zM476 395.3h4.3v3.8h-4.3zM501.6 395.3h4.3v3.8h-4.3zM505.9 395.3h4.3v3.8h-4.3zM531.6 395.3h4.3v3.8h-4.3zM557.3 395.3h4.3v3.8h-4.3zM604.4 395.3h4.3v3.8h-4.3zM608.7 395.3h4.3v3.8h-4.3zM613 395.3h4.3v3.8h-4.3zM647.2 395.3h4.3v3.8h-4.3zM660.1 395.3h4.3v3.8h-4.3zM720 395.3h4.3v3.8h-4.3zM805.6 395.3h4.3v3.8h-4.3zM814.2 395.3h4.3v3.8h-4.3zM831.3 395.3h4.3v3.8h-4.3zM839.9 395.3h4.3v3.8h-4.3zM844.2 395.3h4.3v3.8h-4.3zM951.2 395.3h4.3v3.8h-4.3zM1015.4 395.3h4.3v3.8h-4.3zM1075.4 395.3h4.3v3.8h-4.3zM1126.8 395.3h4.3v3.8h-4.3zM1131.1 395.3h4.3v3.8h-4.3zM1139.6 395.3h4.3v3.8h-4.3zM1143.9 395.3h4.3v3.8h-4.3zM1161 395.3h4.3v3.8h-4.3zM1186.7 395.3h4.3v3.8h-4.3zM1212.4 395.3h4.3v3.8h-4.3zM1229.5 395.3h4.3v3.8h-4.3zM1293.8 395.3h4.3v3.8h-4.3zM1319.4 395.3h4.3v3.8h-4.3zM1370.8 395.3h4.3v3.8h-4.3zM1379.4 395.3h4.3v3.8h-4.3zM1400.8 395.3h4.3v3.8h-4.3zM1417.9 395.3h4.3v3.8h-4.3zM373.2 399h4.3v3.8h-4.3zM411.7 399h4.3v3.8h-4.3zM454.6 399h4.3v3.8h-4.3zM514.5 399h4.3v3.8h-4.3zM527.3 399h4.3v3.8h-4.3zM557.3 399h4.3v3.8h-4.3zM600.1 399h4.3v3.8h-4.3zM737.1 399h4.3v3.8h-4.3zM754.3 399h4.3v3.8h-4.3zM839.9 399h4.3v3.8h-4.3zM857 399h4.3v3.8h-4.3zM865.6 399h4.3v3.8h-4.3zM869.9 399h4.3v3.8h-4.3zM912.7 399h4.3v3.8h-4.3zM917 399h4.3v3.8h-4.3zM946.9 399h4.3v3.8h-4.3zM964.1 399h4.3v3.8h-4.3zM976.9 399h4.3v3.8h-4.3zM981.2 399h4.3v3.8h-4.3zM1036.9 399h4.3v3.8h-4.3zM1054 399h4.3v3.8h-4.3zM1118.2 399h4.3v3.8h-4.3zM1156.7 399h4.3v3.8h-4.3zM1165.3 399h4.3v3.8h-4.3zM1169.6 399h4.3v3.8h-4.3zM1203.8 399h4.3v3.8h-4.3zM1293.8 399h4.3v3.8h-4.3zM1456.5 399h4.3v3.8h-4.3zM394.6 402.8h4.3v5.2h-4.3zM510.2 402.8h4.3v5.2h-4.3zM831.3 402.8h4.3v5.2h-4.3zM852.7 402.8h4.3v5.2h-4.3zM887 402.8h4.3v5.2h-4.3zM912.7 402.8h4.3v5.2h-4.3zM921.2 402.8h4.3v5.2h-4.3zM1058.3 402.8h4.3v5.2h-4.3zM1152.5 402.8h4.3v5.2h-4.3zM1161 402.8h4.3v5.2h-4.3zM1349.4 402.8h4.3v5.2h-4.3zM1400.8 402.8h4.3v5.2h-4.3zM1447.9 402.8h4.3v5.2h-4.3zM1465 402.8h4.3v5.2h-4.3zM561.6 408h4.3v5.2h-4.3zM882.7 408h4.3v5.2h-4.3zM904.1 408h4.3v5.2h-4.3zM1169.6 408h4.3v5.2h-4.3zM1370.8 408h4.3v5.2h-4.3zM831.3 413.2h4.3v5.2h-4.3zM1135.3 413.2h4.3v5.2h-4.3zM835.6 418.4h4.3v5.2h-4.3zM912.7 418.4h4.3v5.2h-4.3zM403.2 423.6h4.3v5.2h-4.3zM463.1 423.6h4.3v5.2h-4.3zM518.8 423.6h4.3v5.2h-4.3zM882.7 423.6h4.3v5.2h-4.3zM895.6 423.6h4.3v5.2h-4.3zM912.7 423.6h4.3v5.2h-4.3zM929.8 423.6h4.3v5.2h-4.3zM955.5 423.6h4.3v5.2h-4.3zM1062.5 423.6h4.3v5.2h-4.3zM1079.7 423.6h4.3v5.2h-4.3zM1096.8 423.6h4.3v5.2h-4.3zM1362.3 423.6h4.3v5.2h-4.3zM390.3 428.8h4.3v5.2h-4.3zM852.7 428.8h4.3v5.2h-4.3zM861.3 428.8h4.3v5.2h-4.3zM874.2 428.8h4.3v5.2h-4.3zM895.6 428.8h4.3v5.2h-4.3zM934.1 428.8h4.3v5.2h-4.3zM1049.7 428.8h4.3v5.2h-4.3zM1122.5 428.8h4.3v5.2h-4.3zM1178.1 428.8h4.3v5.2h-4.3zM1426.5 428.8h4.3v5.2h-4.3zM441.7 434h4.3v5.2h-4.3zM454.6 434h4.3v5.2h-4.3zM471.7 434h4.3v5.2h-4.3zM510.2 434h4.3v5.2h-4.3zM583 434h4.3v5.2h-4.3zM595.8 434h4.3v5.2h-4.3zM621.5 434h4.3v5.2h-4.3zM625.8 434h4.3v5.2h-4.3zM642.9 434h4.3v5.2h-4.3zM737.1 434h4.3v5.2h-4.3zM758.5 434h4.3v5.2h-4.3zM784.2 434h4.3v5.2h-4.3zM874.2 434h4.3v5.2h-4.3zM887 434h4.3v5.2h-4.3zM955.5 434h4.3v5.2h-4.3zM994 434h4.3v5.2h-4.3zM1028.3 434h4.3v5.2h-4.3zM1088.2 434h4.3v5.2h-4.3zM1139.6 434h4.3v5.2h-4.3zM1156.7 434h4.3v5.2h-4.3zM1161 434h4.3v5.2h-4.3zM1255.2 434h4.3v5.2h-4.3zM1323.7 434h4.3v5.2h-4.3zM1345.1 434h4.3v5.2h-4.3zM1400.8 434h4.3v5.2h-4.3zM1447.9 434h4.3v5.2h-4.3zM424.6 439.2h4.3v5.2h-4.3zM501.6 439.2h8.6v5.2h-8.6zM574.4 439.2h4.3v5.2h-4.3zM613 439.2h4.3v5.2h-4.3zM805.6 439.2h8.6v5.2h-8.6zM908.4 439.2h4.3v5.2h-4.3zM917 439.2h4.3v5.2h-4.3zM942.7 439.2h4.3v5.2h-4.3zM989.8 439.2h8.6v5.2h-8.6zM1024 439.2h4.3v5.2h-4.3zM1101.1 439.2h4.3v5.2h-4.3zM1212.4 439.2h8.6v5.2h-8.6zM1268.1 439.2h8.6v5.2h-8.6zM535.9 444.4h4.3v5.2h-4.3zM540.2 444.4h8.6v5.2h-8.6zM848.5 444.4h4.3v5.2h-4.3zM1075.4 444.4h8.6v5.2h-8.6zM514.5 449.6h8.6v5.2h-8.6z"/>
<path fill="#00e867" d="M1143.9 369h4.3v3.8h-4.3zM386 372.7h4.3v3.8h-4.3zM463.1 372.7h4.3v3.8h-4.3zM621.5 372.7h4.3v3.8h-4.3zM1122.5 372.7h4.3v3.8h-4.3zM1139.6 372.7h8.6v3.8h-8.6zM1238.1 372.7h8.6v3.8h-8.6zM570.2 376.5h8.6v3.8h-8.6zM655.8 376.5h4.3v3.8h-4.3zM1096.8 376.5h4.3v3.8h-4.3zM1255.2 376.5h8.6v3.8h-8.6zM1315.2 376.5h4.3v3.8h-4.3zM1362.3 376.5h8.6v3.8h-8.6zM394.6 380.2h4.3v3.8h-4.3zM416 380.2h4.3v3.8h-4.3zM437.4 380.2h4.3v3.8h-4.3zM471.7 380.2h4.3v3.8h-4.3zM604.4 380.2h4.3v3.8h-4.3zM613 380.2h4.3v3.8h-4.3zM664.4 380.2h4.3v3.8h-4.3zM1122.5 380.2h4.3v3.8h-4.3zM638.7 384h4.3v3.8h-4.3zM664.4 384h4.3v3.8h-4.3zM668.6 384h8.6v3.8h-8.6zM698.6 384h4.3v3.8h-4.3zM737.1 384h8.6v3.8h-8.6zM831.3 384h8.6v3.8h-8.6zM839.9 384h8.6v3.8h-8.6zM852.7 384h4.3v3.8h-4.3zM1071.1 384h4.3v3.8h-4.3zM458.8 387.8h4.3v3.8h-4.3zM497.4 387.8h4.3v3.8h-4.3zM505.9 387.8h4.3v3.8h-4.3zM553 387.8h4.3v3.8h-4.3zM583 387.8h4.3v3.8h-4.3zM591.6 387.8h4.3v3.8h-4.3zM600.1 387.8h4.3v3.8h-4.3zM608.7 387.8h4.3v3.8h-4.3zM685.8 387.8h4.3v3.8h-4.3zM801.4 387.8h8.6v3.8h-8.6zM848.5 387.8h8.6v3.8h-8.6zM1152.5 387.8h4.3v3.8h-4.3zM1161 387.8h4.3v3.8h-4.3zM1216.7 387.8h4.3v3.8h-4.3zM1285.2 387.8h4.3v3.8h-4.3zM1349.4 387.8h4.3v3.8h-4.3zM1400.8 387.8h4.3v3.8h-4.3zM1422.2 387.8h4.3v3.8h-4.3zM373.2 391.5h4.3v3.8h-4.3zM386 391.5h4.3v3.8h-4.3zM428.9 391.5h4.3v3.8h-4.3zM433.1 391.5h4.3v3.8h-4.3zM446 391.5h4.3v3.8h-4.3zM480.2 391.5h4.3v3.8h-4.3zM488.8 391.5h4.3v3.8h-4.3zM514.5 391.5h4.3v3.8h-4.3zM527.3 391.5h4.3v3.8h-4.3zM548.7 391.5h4.3v3.8h-4.3zM574.4 391.5h4.3v3.8h-4.3zM587.3 391.5h4.3v3.8h-4.3zM664.4 391.5h4.3v3.8h-4.3zM702.9 391.5h4.3v3.8h-4.3zM754.3 391.5h4.3v3.8h-4.3zM784.2 391.5h4.3v3.8h-4.3zM801.4 391.5h4.3v3.8h-4.3zM942.7 391.5h4.3v3.8h-4.3zM968.3 391.5h4.3v3.8h-4.3zM1006.9 391.5h4.3v3.8h-4.3zM1019.7 391.5h4.3v3.8h-4.3zM1041.1 391.5h4.3v3.8h-4.3zM1075.4 391.5h4.3v3.8h-4.3zM1092.5 391.5h4.3v3.8h-4.3zM1126.8 391.5h4.3v3.8h-4.3zM1221 391.5h4.3v3.8h-4.3zM1272.3 391.5h4.3v3.8h-4.3zM1289.5 391.5h4.3v3.8h-4.3zM1298 391.5h4.3v3.8h-4.3zM1328 391.5h4.3v3.8h-4.3zM1370.8 391.5h4.3v3.8h-4.3zM1383.7 391.5h4.3v3.8h-4.3zM1413.6 391.5h4.3v3.8h-4.3zM398.9 395.3h4.3v3.8h-4.3zM527.3 395.3h4.3v3.8h-4.3zM570.2 395.3h4.3v3.8h-4.3zM822.8 395.3h4.3v3.8h-4.3zM835.6 395.3h4.3v3.8h-4.3zM925.5 395.3h4.3v3.8h-4.3zM934.1 395.3h4.3v3.8h-4.3zM942.7 395.3h4.3v3.8h-4.3zM968.3 395.3h4.3v3.8h-4.3zM976.9 395.3h4.3v3.8h-4.3zM1028.3 395.3h4.3v3.8h-4.3zM1062.5 395.3h4.3v3.8h-4.3zM1113.9 395.3h4.3v3.8h-4.3zM1122.5 395.3h4.3v3.8h-4.3zM1169.6 395.3h4.3v3.8h-4.3zM1191 395.3h4.3v3.8h-4.3zM1195.3 395.3h4.3v3.8h-4.3zM1208.1 395.3h4.3v3.8h-4.3zM1225.2 395.3h4.3v3.8h-4.3zM1238.1 395.3h4.3v3.8h-4.3zM1285.2 395.3h4.3v3.8h-4.3zM1289.5 395.3h4.3v3.8h-4.3zM1306.6 395.3h4.3v3.8h-4.3zM1310.9 395.3h4.3v3.8h-4.3zM1353.7 395.3h4.3v3.8h-4.3zM1362.3 395.3h4.3v3.8h-4.3zM1443.6 395.3h4.3v3.8h-4.3zM476 399h4.3v3.8h-4.3zM583 399h4.3v3.8h-4.3zM827.1 399h4.3v3.8h-4.3zM891.3 399h4.3v3.8h-4.3zM904.1 399h4.3v3.8h-4.3zM908.4 399h4.3v3.8h-4.3zM1041.1 399h4.3v3.8h-4.3zM1058.3 399h4.3v3.8h-4.3zM1062.5 399h4.3v3.8h-4.3zM1139.6 399h4.3v3.8h-4.3zM1161 399h4.3v3.8h-4.3zM1182.4 399h4.3v3.8h-4.3zM1259.5 399h4.3v3.8h-4.3zM1328 399h4.3v3.8h-4.3zM1353.7 399h4.3v3.8h-4.3zM484.5 402.8h4.3v5.2h-4.3zM878.4 402.8h4.3v5.2h-4.3zM891.3 402.8h4.3v5.2h-4.3zM1216.7 402.8h4.3v5.2h-4.3zM827.1 408h4.3v5.2h-4.3zM891.3 408h4.3v5.2h-4.3zM899.8 408h4.3v5.2h-4.3zM887 413.2h4.3v5.2h-4.3zM904.1 413.2h4.3v5.2h-4.3zM1169.6 413.2h4.3v5.2h-4.3zM869.9 418.4h4.3v5.2h-4.3zM874.2 418.4h4.3v5.2h-4.3zM878.4 418.4h4.3v5.2h-4.3zM887 418.4h4.3v5.2h-4.3zM891.3 418.4h4.3v5.2h-4.3zM895.6 418.4h4.3v5.2h-4.3zM865.6 423.6h4.3v5.2h-4.3zM1379.4 423.6h4.3v5.2h-4.3zM381.8 428.8h4.3v5.2h-4.3zM403.2 428.8h4.3v5.2h-4.3zM544.5 428.8h4.3v5.2h-4.3zM831.3 428.8h4.3v5.2h-4.3zM835.6 428.8h4.3v5.2h-4.3zM848.5 428.8h4.3v5.2h-4.3zM878.4 428.8h4.3v5.2h-4.3zM904.1 428.8h4.3v5.2h-4.3zM1143.9 428.8h4.3v5.2h-4.3zM1165.3 428.8h4.3v5.2h-4.3zM1250.9 428.8h4.3v5.2h-4.3zM1285.2 428.8h4.3v5.2h-4.3zM386 434h4.3v5.2h-4.3zM411.7 434h4.3v5.2h-4.3zM424.6 434h4.3v5.2h-4.3zM467.4 434h4.3v5.2h-4.3zM480.2 434h4.3v5.2h-4.3zM488.8 434h4.3v5.2h-4.3zM493.1 434h4.3v5.2h-4.3zM514.5 434h4.3v5.2h-4.3zM553 434h4.3v5.2h-4.3zM634.4 434h4.3v5.2h-4.3zM638.7 434h4.3v5.2h-4.3zM660.1 434h4.3v5.2h-4.3zM694.3 434h4.3v5.2h-4.3zM732.9 434h4.3v5.2h-4.3zM809.9 434h4.3v5.2h-4.3zM814.2 434h4.3v5.2h-4.3zM835.6 434h4.3v5.2h-4.3zM844.2 434h4.3v5.2h-4.3zM852.7 434h4.3v5.2h-4.3zM895.6 434h4.3v5.2h-4.3zM946.9 434h4.3v5.2h-4.3zM968.3 434h4.3v5.2h-4.3zM976.9 434h4.3v5.2h-4.3zM1002.6 434h4.3v5.2h-4.3zM1024 434h4.3v5.2h-4.3zM1071.1 434h4.3v5.2h-4.3zM1096.8 434h4.3v5.2h-4.3zM1101.1 434h4.3v5.2h-4.3zM1126.8 434h4.3v5.2h-4.3zM1216.7 434h4.3v5.2h-4.3zM1285.2 434h4.3v5.2h-4.3zM1289.5 434h4.3v5.2h-4.3zM1315.2 434h4.3v5.2h-4.3zM1349.4 434h4.3v5.2h-4.3zM1375.1 434h4.3v5.2h-4.3zM1435 434h4.3v5.2h-4.3zM1456.5 434h4.3v5.2h-4.3zM373.2 439.2h4.3v5.2h-4.3zM428.9 439.2h8.6v5.2h-8.6zM441.7 439.2h4.3v5.2h-4.3zM557.3 439.2h8.6v5.2h-8.6zM591.6 439.2h8.6v5.2h-8.6zM660.1 439.2h8.6v5.2h-8.6zM771.4 439.2h4.3v5.2h-4.3zM814.2 439.2h4.3v5.2h-4.3zM891.3 439.2h4.3v5.2h-4.3zM895.6 439.2h8.6v5.2h-8.6zM938.4 439.2h4.3v5.2h-4.3zM968.3 439.2h4.3v5.2h-4.3zM976.9 439.2h4.3v5.2h-4.3zM1109.6 439.2h4.3v5.2h-4.3zM1161 439.2h8.6v5.2h-8.6zM1208.1 439.2h4.3v5.2h-4.3zM1409.4 439.2h8.6v5.2h-8.6zM758.5 444.4h4.3v5.2h-4.3zM1169.6 444.4h4.3v5.2h-4.3zM1405.1 444.4h4.3v5.2h-4.3zM450.3 454.8h4.3v5.2h-4.3z"/>
<path fill="#00e880" d="M784.2 369h4.3v3.8h-4.3zM1161 369h4.3v3.8h-4.3zM1216.7 369h4.3v3.8h-4.3zM604.4 372.7h4.3v3.8h-4.3zM642.9 372.7h8.6v3.8h-8.6zM1272.3 372.7h4.3v3.8h-4.3zM1336.6 372.7h8.6v3.8h-8.6zM381.8 376.5h4.3v3.8h-4.3zM411.7 376.5h4.3v3.8h-4.3zM433.1 376.5h8.6v3.8h-8.6zM587.3 376.5h4.3v3.8h-4.3zM604.4 376.5h4.3v3.8h-4.3zM660.1 376.5h4.3v3.8h-4.3zM1268.1 376.5h4.3v3.8h-4.3zM1370.8 376.5h4.3v3.8h-4.3zM1426.5 376.5h8.6v3.8h-8.6zM518.8 380.2h4.3v3.8h-4.3zM535.9 380.2h4.3v3.8h-4.3zM565.9 380.2h4.3v3.8h-4.3zM608.7 380.2h4.3v3.8h-4.3zM1105.4 380.2h4.3v3.8h-4.3zM501.6 384h4.3v3.8h-4.3zM505.9 384h4.3v3.8h-4.3zM617.3 384h4.3v3.8h-4.3zM630.1 384h4.3v3.8h-4.3zM651.5 384h4.3v3.8h-4.3zM690 384h4.3v3.8h-4.3zM762.8 384h8.6v3.8h-8.6zM775.7 384h8.6v3.8h-8.6zM797.1 384h4.3v3.8h-4.3zM891.3 384h4.3v3.8h-4.3zM1024 384h8.6v3.8h-8.6zM1058.3 384h4.3v3.8h-4.3zM1084 384h4.3v3.8h-4.3zM1246.7 384h4.3v3.8h-4.3zM1259.5 384h4.3v3.8h-4.3zM463.1 387.8h4.3v3.8h-4.3zM471.7 387.8h4.3v3.8h-4.3zM527.3 387.8h4.3v3.8h-4.3zM535.9 387.8h4.3v3.8h-4.3zM540.2 387.8h4.3v3.8h-4.3zM548.7 387.8h4.3v3.8h-4.3zM570.2 387.8h4.3v3.8h-4.3zM728.6 387.8h8.6v3.8h-8.6zM762.8 387.8h4.3v3.8h-4.3zM797.1 387.8h4.3v3.8h-4.3zM959.8 387.8h4.3v3.8h-4.3zM1041.1 387.8h4.3v3.8h-4.3zM1092.5 387.8h4.3v3.8h-4.3zM1126.8 387.8h4.3v3.8h-4.3zM1139.6 387.8h4.3v3.8h-4.3zM1173.9 387.8h4.3v3.8h-4.3zM1182.4 387.8h4.3v3.8h-4.3zM1186.7 387.8h4.3v3.8h-4.3zM1212.4 387.8h4.3v3.8h-4.3zM1259.5 387.8h4.3v3.8h-4.3zM1268.1 387.8h4.3v3.8h-4.3zM1276.6 387.8h4.3v3.8h-4.3zM1289.5 387.8h4.3v3.8h-4.3zM1323.7 387.8h4.3v3.8h-4.3zM1340.9 387.8h4.3v3.8h-4.3zM1366.5 387.8h4.3v3.8h-4.3zM1375.1 387.8h4.3v3.8h-4.3zM1379.4 387.8h4.3v3.8h-4.3zM1435 387.8h4.3v3.8h-4.3zM381.8 391.5h4.3v3.8h-4.3zM398.9 391.5h4.3v3.8h-4.3zM437.4 391.5h4.3v3.8h-4.3zM450.3 391.5h4.3v3.8h-4.3zM497.4 391.5h4.3v3.8h-4.3zM535.9 391.5h4.3v3.8h-4.3zM565.9 391.5h4.3v3.8h-4.3zM685.8 391.5h4.3v3.8h-4.3zM724.3 391.5h4.3v3.8h-4.3zM750 391.5h4.3v3.8h-4.3zM805.6 391.5h4.3v3.8h-4.3zM822.8 391.5h4.3v3.8h-4.3zM848.5 391.5h4.3v3.8h-4.3zM865.6 391.5h4.3v3.8h-4.3zM917 391.5h4.3v3.8h-4.3zM959.8 391.5h4.3v3.8h-4.3zM972.6 391.5h4.3v3.8h-4.3zM1002.6 391.5h4.3v3.8h-4.3zM1024 391.5h4.3v3.8h-4.3zM1032.6 391.5h4.3v3.8h-4.3zM1062.5 391.5h4.3v3.8h-4.3zM1066.8 391.5h4.3v3.8h-4.3zM1084 391.5h4.3v3.8h-4.3zM1113.9 391.5h4.3v3.8h-4.3zM1118.2 391.5h4.3v3.8h-4.3zM1135.3 391.5h4.3v3.8h-4.3zM1152.5 391.5h4.3v3.8h-4.3zM1178.1 391.5h4.3v3.8h-4.3zM1225.2 391.5h4.3v3.8h-4.3zM1263.8 391.5h4.3v3.8h-4.3zM1268.1 391.5h4.3v3.8h-4.3zM1302.3 391.5h4.3v3.8h-4.3zM1310.9 391.5h4.3v3.8h-4.3zM1358 391.5h4.3v3.8h-4.3zM1362.3 391.5h4.3v3.8h-4.3zM1400.8 391.5h4.3v3.8h-4.3zM1443.6 391.5h4.3v3.8h-4.3zM1447.9 391.5h4.3v3.8h-4.3zM390.3 395.3h4.3v3.8h-4.3zM463.1 395.3h4.3v3.8h-4.3zM741.4 395.3h4.3v3.8h-4.3zM775.7 395.3h4.3v3.8h-4.3zM788.5 395.3h4.3v3.8h-4.3zM827.1 395.3h4.3v3.8h-4.3zM857 395.3h4.3v3.8h-4.3zM869.9 395.3h4.3v3.8h-4.3zM917 395.3h4.3v3.8h-4.3zM955.5 395.3h4.3v3.8h-4.3zM1101.1 395.3h4.3v3.8h-4.3zM1118.2 395.3h4.3v3.8h-4.3zM1156.7 395.3h4.3v3.8h-4.3zM1173.9 395.3h4.3v3.8h-4.3zM1178.1 395.3h4.3v3.8h-4.3zM1242.4 395.3h4.3v3.8h-4.3zM1255.2 395.3h4.3v3.8h-4.3zM1332.3 395.3h4.3v3.8h-4.3zM660.1 399h4.3v3.8h-4.3zM844.2 399h4.3v3.8h-4.3zM878.4 399h4.3v3.8h-4.3zM895.6 399h4.3v3.8h-4.3zM899.8 399h4.3v3.8h-4.3zM959.8 399h4.3v3.8h-4.3zM972.6 399h4.3v3.8h-4.3zM1229.5 399h4.3v3.8h-4.3zM895.6 402.8h4.3v5.2h-4.3zM904.1 402.8h4.3v5.2h-4.3zM908.4 402.8h4.3v5.2h-4.3zM917 402.8h4.3v5.2h-4.3zM1195.3 402.8h4.3v5.2h-4.3zM946.9 418.4h4.3v5.2h-4.3zM878.4 423.6h4.3v5.2h-4.3zM921.2 423.6h4.3v5.2h-4.3zM822.8 428.8h4.3v5.2h-4.3zM865.6 428.8h4.3v5.2h-4.3zM887 428.8h4.3v5.2h-4.3zM891.3 428.8h4.3v5.2h-4.3zM899.8 428.8h4.3v5.2h-4.3zM917 428.8h4.3v5.2h-4.3zM921.2 428.8h4.3v5.2h-4.3zM1460.7 428.8h4.3v5.2h-4.3zM398.9 434h4.3v5.2h-4.3zM407.5 434h4.3v5.2h-4.3zM437.4 434h4.3v5.2h-4.3zM501.6 434h4.3v5.2h-4.3zM505.9 434h4.3v5.2h-4.3zM518.8 434h4.3v5.2h-4.3zM540.2 434h4.3v5.2h-4.3zM570.2 434h4.3v5.2h-4.3zM617.3 434h4.3v5.2h-4.3zM651.5 434h4.3v5.2h-4.3zM672.9 434h4.3v5.2h-4.3zM728.6 434h4.3v5.2h-4.3zM801.4 434h4.3v5.2h-4.3zM805.6 434h4.3v5.2h-4.3zM822.8 434h4.3v5.2h-4.3zM857 434h4.3v5.2h-4.3zM869.9 434h4.3v5.2h-4.3zM921.2 434h4.3v5.2h-4.3zM942.7 434h4.3v5.2h-4.3zM1032.6 434h4.3v5.2h-4.3zM1066.8 434h4.3v5.2h-4.3zM1075.4 434h4.3v5.2h-4.3zM1113.9 434h4.3v5.2h-4.3zM1165.3 434h4.3v5.2h-4.3zM1293.8 434h4.3v5.2h-4.3zM1405.1 434h4.3v5.2h-4.3zM416 439.2h8.6v5.2h-8.6zM510.2 439.2h8.6v5.2h-8.6zM548.7 439.2h8.6v5.2h-8.6zM672.9 439.2h4.3v5.2h-4.3zM698.6 439.2h8.6v5.2h-8.6zM715.7 439.2h4.3v5.2h-4.3zM780 439.2h8.6v5.2h-8.6zM801.4 439.2h4.3v5.2h-4.3zM857 439.2h4.3v5.2h-4.3zM882.7 439.2h4.3v5.2h-4.3zM921.2 439.2h4.3v5.2h-4.3zM934.1 439.2h4.3v5.2h-4.3zM955.5 439.2h8.6v5.2h-8.6zM1062.5 439.2h8.6v5.2h-8.6zM1105.4 439.2h4.3v5.2h-4.3zM1178.1 439.2h4.3v5.2h-4.3zM1221 439.2h4.3v5.2h-4.3zM1276.6 439.2h8.6v5.2h-8.6zM1465 439.2h4.3v5.2h-4.3zM407.5 444.4h4.3v5.2h-4.3zM630.1 444.4h4.3v5.2h-4.3zM801.4 444.4h8.6v5.2h-8.6zM814.2 444.4h8.6v5.2h-8.6zM831.3 444.4h8.6v5.2h-8.6zM951.2 444.4h4.3v5.2h-4.3zM1246.7 444.4h4.3v5.2h-4.3zM1392.2 444.4h4.3v5.2h-4.3zM685.8 449.6h4.3v5.2h-4.3zM775.7 449.6h8.6v5.2h-8.6zM827.1 454.8h8.6v5.2h-8.6z"/>
<path fill="#00e89d" d="M1285.2 369h8.6v3.8h-8.6zM390.3 372.7h4.3v3.8h-4.3zM437.4 372.7h8.6v3.8h-8.6zM531.6 372.7h4.3v3.8h-4.3zM625.8 372.7h4.3v3.8h-4.3zM630.1 372.7h8.6v3.8h-8.6zM1152.5 372.7h4.3v3.8h-4.3zM1203.8 372.7h8.6v3.8h-8.6zM1225.2 372.7h8.6v3.8h-8.6zM1255.2 372.7h4.3v3.8h-4.3zM1285.2 372.7h4.3v3.8h-4.3zM1306.6 372.7h4.3v3.8h-4.3zM1310.9 372.7h4.3v3.8h-4.3zM1345.1 372.7h4.3v3.8h-4.3zM1396.5 372.7h8.6v3.8h-8.6zM1460.7 372.7h8.6v3.8h-8.6zM377.5 376.5h4.3v3.8h-4.3zM497.4 376.5h8.6v3.8h-8.6zM608.7 376.5h4.3v3.8h-4.3zM1131.1 376.5h8.6v3.8h-8.6zM1143.9 376.5h4.3v3.8h-4.3zM1191 376.5h4.3v3.8h-4.3zM1238.1 376.5h4.3v3.8h-4.3zM1280.9 376.5h8.6v3.8h-8.6zM1443.6 376.5h8.6v3.8h-8.6zM386 380.2h4.3v3.8h-4.3zM446 380.2h4.3v3.8h-4.3zM450.3 380.2h4.3v3.8h-4.3zM463.1 380.2h4.3v3.8h-4.3zM531.6 380.2h4.3v3.8h-4.3zM553 380.2h4.3v3.8h-4.3zM634.4 380.2h4.3v3.8h-4.3zM651.5 380.2h8.6v3.8h-8.6zM702.9 380.2h8.6v3.8h-8.6zM715.7 380.2h8.6v3.8h-8.6zM857 380.2h4.3v3.8h-4.3zM981.2 380.2h4.3v3.8h-4.3zM1088.2 380.2h4.3v3.8h-4.3zM403.2 384h4.3v3.8h-4.3zM424.6 384h4.3v3.8h-4.3zM493.1 384h4.3v3.8h-4.3zM497.4 384h4.3v3.8h-4.3zM514.5 384h4.3v3.8h-4.3zM518.8 384h4.3v3.8h-4.3zM557.3 384h4.3v3.8h-4.3zM634.4 384h4.3v3.8h-4.3zM848.5 384h4.3v3.8h-4.3zM869.9 384h4.3v3.8h-4.3zM874.2 384h8.6v3.8h-8.6zM895.6 384h8.6v3.8h-8.6zM938.4 384h4.3v3.8h-4.3zM981.2 384h8.6v3.8h-8.6zM989.8 384h4.3v3.8h-4.3zM1015.4 384h8.6v3.8h-8.6zM1045.4 384h4.3v3.8h-4.3zM1049.7 384h4.3v3.8h-4.3zM1143.9 384h4.3v3.8h-4.3zM1233.8 384h4.3v3.8h-4.3zM1285.2 384h4.3v3.8h-4.3zM1370.8 384h4.3v3.8h-4.3zM1400.8 384h4.3v3.8h-4.3zM398.9 387.8h4.3v3.8h-4.3zM428.9 387.8h4.3v3.8h-4.3zM437.4 387.8h4.3v3.8h-4.3zM441.7 387.8h4.3v3.8h-4.3zM480.2 387.8h4.3v3.8h-4.3zM484.5 387.8h4.3v3.8h-4.3zM488.8 387.8h4.3v3.8h-4.3zM561.6 387.8h4.3v3.8h-4.3zM565.9 387.8h4.3v3.8h-4.3zM617.3 387.8h4.3v3.8h-4.3zM655.8 387.8h4.3v3.8h-4.3zM664.4 387.8h4.3v3.8h-4.3zM668.6 387.8h4.3v3.8h-4.3zM672.9 387.8h4.3v3.8h-4.3zM698.6 387.8h4.3v3.8h-4.3zM711.4 387.8h4.3v3.8h-4.3zM720 387.8h4.3v3.8h-4.3zM891.3 387.8h8.6v3.8h-8.6zM985.5 387.8h4.3v3.8h-4.3zM994 387.8h8.6v3.8h-8.6zM1075.4 387.8h8.6v3.8h-8.6zM1118.2 387.8h4.3v3.8h-4.3zM1143.9 387.8h4.3v3.8h-4.3zM1191 387.8h4.3v3.8h-4.3zM1246.7 387.8h4.3v3.8h-4.3zM1263.8 387.8h4.3v3.8h-4.3zM1310.9 387.8h4.3v3.8h-4.3zM1345.1 387.8h4.3v3.8h-4.3zM1353.7 387.8h4.3v3.8h-4.3zM1362.3 387.8h4.3v3.8h-4.3zM1370.8 387.8h4.3v3.8h-4.3zM1383.7 387.8h4.3v3.8h-4.3zM1396.5 387.8h4.3v3.8h-4.3zM1413.6 387.8h4.3v3.8h-4.3zM1417.9 387.8h4.3v3.8h-4.3zM1430.8 387.8h4.3v3.8h-4.3zM1460.7 387.8h4.3v3.8h-4.3zM377.5 391.5h4.3v3.8h-4.3zM390.3 391.5h4.3v3.8h-4.3zM394.6 391.5h4.3v3.8h-4.3zM403.2 391.5h4.3v3.8h-4.3zM780 391.5h4.3v3.8h-4.3zM809.9 391.5h4.3v3.8h-4.3zM818.5 391.5h4.3v3.8h-4.3zM835.6 391.5h4.3v3.8h-4.3zM844.2 391.5h4.3v3.8h-4.3zM874.2 391.5h4.3v3.8h-4.3zM925.5 391.5h4.3v3.8h-4.3zM934.1 391.5h4.3v3.8h-4.3zM938.4 391.5h4.3v3.8h-4.3zM955.5 391.5h4.3v3.8h-4.3zM1045.4 391.5h4.3v3.8h-4.3zM1096.8 391.5h4.3v3.8h-4.3zM1109.6 391.5h4.3v3.8h-4.3zM1143.9 391.5h4.3v3.8h-4.3zM1156.7 391.5h4.3v3.8h-4.3zM1186.7 391.5h4.3v3.8h-4.3zM1195.3 391.5h4.3v3.8h-4.3zM1208.1 391.5h4.3v3.8h-4.3zM1233.8 391.5h4.3v3.8h-4.3zM1280.9 391.5h4.3v3.8h-4.3zM1319.4 391.5h4.3v3.8h-4.3zM1353.7 391.5h4.3v3.8h-4.3zM1375.1 391.5h4.3v3.8h-4.3zM1379.4 391.5h4.3v3.8h-4.3zM1409.4 391.5h4.3v3.8h-4.3zM1435 391.5h4.3v3.8h-4.3zM1439.3 391.5h4.3v3.8h-4.3zM1452.2 391.5h4.3v3.8h-4.3zM394.6 395.3h4.3v3.8h-4.3zM578.7 395.3h4.3v3.8h-4.3zM677.2 395.3h4.3v3.8h-4.3zM848.5 395.3h4.3v3.8h-4.3zM861.3 395.3h4.3v3.8h-4.3zM865.6 395.3h4.3v3.8h-4.3zM874.2 395.3h4.3v3.8h-4.3zM895.6 395.3h4.3v3.8h-4.3zM908.4 395.3h4.3v3.8h-4.3zM938.4 395.3h4.3v3.8h-4.3zM1036.9 395.3h4.3v3.8h-4.3zM1041.1 395.3h4.3v3.8h-4.3zM1088.2 395.3h4.3v3.8h-4.3zM1096.8 395.3h4.3v3.8h-4.3zM1358 395.3h4.3v3.8h-4.3zM1439.3 395.3h4.3v3.8h-4.3zM1460.7 395.3h4.3v3.8h-4.3zM441.7 399h4.3v3.8h-4.3zM822.8 399h4.3v3.8h-4.3zM852.7 399h4.3v3.8h-4.3zM1079.7 399h4.3v3.8h-4.3zM1315.2 399h4.3v3.8h-4.3zM497.4 402.8h4.3v5.2h-4.3zM835.6 402.8h4.3v5.2h-4.3zM882.7 402.8h4.3v5.2h-4.3zM1229.5 402.8h4.3v5.2h-4.3zM917 408h4.3v5.2h-4.3zM1345.1 408h4.3v5.2h-4.3zM959.8 413.2h4.3v5.2h-4.3zM1126.8 413.2h4.3v5.2h-4.3zM1113.9 418.4h4.3v5.2h-4.3zM647.2 423.6h4.3v5.2h-4.3zM904.1 423.6h4.3v5.2h-4.3zM1375.1 428.8h4.3v5.2h-4.3zM484.5 434h4.3v5.2h-4.3zM527.3 434h4.3v5.2h-4.3zM565.9 434h4.3v5.2h-4.3zM647.2 434h4.3v5.2h-4.3zM707.2 434h4.3v5.2h-4.3zM720 434h4.3v5.2h-4.3zM771.4 434h4.3v5.2h-4.3zM951.2 434h4.3v5.2h-4.3zM972.6 434h4.3v5.2h-4.3zM989.8 434h4.3v5.2h-4.3zM1109.6 434h4.3v5.2h-4.3zM1152.5 434h4.3v5.2h-4.3zM1208.1 434h4.3v5.2h-4.3zM1238.1 434h4.3v5.2h-4.3zM1246.7 434h4.3v5.2h-4.3zM1306.6 434h4.3v5.2h-4.3zM1340.9 434h4.3v5.2h-4.3zM1358 434h4.3v5.2h-4.3zM1439.3 434h4.3v5.2h-4.3zM1452.2 434h4.3v5.2h-4.3zM398.9 439.2h4.3v5.2h-4.3zM411.7 439.2h4.3v5.2h-4.3zM578.7 439.2h4.3v5.2h-4.3zM583 439.2h8.6v5.2h-8.6zM604.4 439.2h8.6v5.2h-8.6zM621.5 439.2h4.3v5.2h-4.3zM724.3 439.2h4.3v5.2h-4.3zM874.2 439.2h4.3v5.2h-4.3zM904.1 439.2h4.3v5.2h-4.3zM912.7 439.2h4.3v5.2h-4.3zM998.3 439.2h4.3v5.2h-4.3zM1096.8 439.2h4.3v5.2h-4.3zM1126.8 439.2h8.6v5.2h-8.6zM1135.3 439.2h4.3v5.2h-4.3zM1169.6 439.2h4.3v5.2h-4.3zM1182.4 439.2h4.3v5.2h-4.3zM1242.4 439.2h4.3v5.2h-4.3zM1263.8 439.2h4.3v5.2h-4.3zM1328 439.2h4.3v5.2h-4.3zM1400.8 439.2h4.3v5.2h-4.3zM1460.7 439.2h4.3v5.2h-4.3zM403.2 444.4h4.3v5.2h-4.3zM505.9 444.4h4.3v5.2h-4.3zM557.3 444.4h4.3v5.2h-4.3zM621.5 444.4h4.3v5.2h-4.3zM642.9 444.4h8.6v5.2h-8.6zM702.9 444.4h8.6v5.2h-8.6zM1045.4 444.4h4.3v5.2h-4.3zM1156.7 444.4h4.3v5.2h-4.3zM1336.6 444.4h8.6v5.2h-8.6zM1447.9 444.4h4.3v5.2h-4.3zM690 449.6h4.3v5.2h-4.3zM1387.9 454.8h8.6v5.2h-8.6zM441.7 465.2h4.3v5.2h-4.3z"/>
<path fill="#00e8b9" d="M762.8 335.1h4.3v3.8h-4.3zM994 342.6h8.6v3.8h-8.6zM1019.7 346.4h4.3v3.8h-4.3zM925.5 361.4h4.3v3.8h-4.3zM1169.6 369h4.3v3.8h-4.3zM1225.2 369h4.3v3.8h-4.3zM1315.2 369h4.3v3.8h-4.3zM1328 369h8.6v3.8h-8.6zM1426.5 369h4.3v3.8h-4.3zM377.5 372.7h8.6v3.8h-8.6zM403.2 372.7h4.3v3.8h-4.3zM450.3 372.7h4.3v3.8h-4.3zM501.6 372.7h4.3v3.8h-4.3zM565.9 372.7h4.3v3.8h-4.3zM998.3 372.7h4.3v3.8h-4.3zM1233.8 372.7h4.3v3.8h-4.3zM1328 372.7h8.6v3.8h-8.6zM1362.3 372.7h4.3v3.8h-4.3zM1383.7 372.7h8.6v3.8h-8.6zM1392.2 372.7h4.3v3.8h-4.3zM1452.2 372.7h4.3v3.8h-4.3zM420.3 376.5h8.6v3.8h-8.6zM458.8 376.5h4.3v3.8h-4.3zM514.5 376.5h8.6v3.8h-8.6zM535.9 376.5h4.3v3.8h-4.3zM621.5 376.5h4.3v3.8h-4.3zM1126.8 376.5h4.3v3.8h-4.3zM1186.7 376.5h4.3v3.8h-4.3zM1203.8 376.5h4.3v3.8h-4.3zM420.3 380.2h4.3v3.8h-4.3zM476 380.2h4.3v3.8h-4.3zM488.8 380.2h4.3v3.8h-4.3zM630.1 380.2h4.3v3.8h-4.3zM642.9 380.2h4.3v3.8h-4.3zM647.2 380.2h4.3v3.8h-4.3zM668.6 380.2h4.3v3.8h-4.3zM681.5 380.2h8.6v3.8h-8.6zM754.3 380.2h4.3v3.8h-4.3zM801.4 380.2h8.6v3.8h-8.6zM831.3 380.2h4.3v3.8h-4.3zM917 380.2h4.3v3.8h-4.3zM964.1 380.2h4.3v3.8h-4.3zM1024 380.2h8.6v3.8h-8.6zM1405.1 380.2h4.3v3.8h-4.3zM1409.4 380.2h4.3v3.8h-4.3zM386 384h4.3v3.8h-4.3zM407.5 384h4.3v3.8h-4.3zM411.7 384h4.3v3.8h-4.3zM428.9 384h4.3v3.8h-4.3zM454.6 384h4.3v3.8h-4.3zM463.1 384h4.3v3.8h-4.3zM510.2 384h4.3v3.8h-4.3zM527.3 384h4.3v3.8h-4.3zM531.6 384h4.3v3.8h-4.3zM540.2 384h4.3v3.8h-4.3zM544.5 384h4.3v3.8h-4.3zM553 384h4.3v3.8h-4.3zM570.2 384h4.3v3.8h-4.3zM600.1 384h4.3v3.8h-4.3zM625.8 384h4.3v3.8h-4.3zM724.3 384h4.3v3.8h-4.3zM758.5 384h4.3v3.8h-4.3zM771.4 384h4.3v3.8h-4.3zM805.6 384h8.6v3.8h-8.6zM925.5 384h4.3v3.8h-4.3zM942.7 384h8.6v3.8h-8.6zM964.1 384h4.3v3.8h-4.3zM1032.6 384h4.3v3.8h-4.3zM1109.6 384h4.3v3.8h-4.3zM1122.5 384h4.3v3.8h-4.3zM1135.3 384h4.3v3.8h-4.3zM1139.6 384h4.3v3.8h-4.3zM1199.6 384h4.3v3.8h-4.3zM1293.8 384h4.3v3.8h-4.3zM1417.9 384h4.3v3.8h-4.3zM1430.8 384h4.3v3.8h-4.3zM403.2 387.8h4.3v3.8h-4.3zM411.7 387.8h4.3v3.8h-4.3zM416 387.8h4.3v3.8h-4.3zM446 387.8h4.3v3.8h-4.3zM493.1 387.8h4.3v3.8h-4.3zM501.6 387.8h4.3v3.8h-4.3zM510.2 387.8h4.3v3.8h-4.3zM514.5 387.8h4.3v3.8h-4.3zM574.4 387.8h4.3v3.8h-4.3zM587.3 387.8h4.3v3.8h-4.3zM660.1 387.8h4.3v3.8h-4.3zM677.2 387.8h4.3v3.8h-4.3zM750 387.8h8.6v3.8h-8.6zM857 387.8h4.3v3.8h-4.3zM887 387.8h4.3v3.8h-4.3zM925.5 387.8h4.3v3.8h-4.3zM1096.8 387.8h4.3v3.8h-4.3zM1101.1 387.8h4.3v3.8h-4.3zM1113.9 387.8h4.3v3.8h-4.3zM1131.1 387.8h4.3v3.8h-4.3zM1148.2 387.8h4.3v3.8h-4.3zM1199.6 387.8h4.3v3.8h-4.3zM1203.8 387.8h4.3v3.8h-4.3zM1233.8 387.8h4.3v3.8h-4.3zM1238.1 387.8h4.3v3.8h-4.3zM1255.2 387.8h4.3v3.8h-4.3zM1280.9 387.8h4.3v3.8h-4.3zM1306.6 387.8h4.3v3.8h-4.3zM1315.2 387.8h4.3v3.8h-4.3zM1319.4 387.8h4.3v3.8h-4.3zM1328 387.8h4.3v3.8h-4.3zM1387.9 387.8h4.3v3.8h-4.3zM1392.2 387.8h4.3v3.8h-4.3zM1405.1 387.8h4.3v3.8h-4.3zM1409.4 387.8h4.3v3.8h-4.3zM1452.2 387.8h4.3v3.8h-4.3zM1456.5 387.8h4.3v3.8h-4.3zM1465 387.8h4.3v3.8h-4.3zM416 391.5h4.3v3.8h-4.3zM420.3 391.5h4.3v3.8h-4.3zM471.7 391.5h4.3v3.8h-4.3zM651.5 391.5h4.3v3.8h-4.3zM694.3 391.5h4.3v3.8h-4.3zM827.1 391.5h4.3v3.8h-4.3zM839.9 391.5h4.3v3.8h-4.3zM857 391.5h4.3v3.8h-4.3zM882.7 391.5h4.3v3.8h-4.3zM912.7 391.5h4.3v3.8h-4.3zM929.8 391.5h4.3v3.8h-4.3zM946.9 391.5h4.3v3.8h-4.3zM1058.3 391.5h4.3v3.8h-4.3zM1071.1 391.5h4.3v3.8h-4.3zM1105.4 391.5h4.3v3.8h-4.3zM1139.6 391.5h4.3v3.8h-4.3zM1169.6 391.5h4.3v3.8h-4.3zM1173.9 391.5h4.3v3.8h-4.3zM1182.4 391.5h4.3v3.8h-4.3zM1191 391.5h4.3v3.8h-4.3zM1199.6 391.5h4.3v3.8h-4.3zM1460.7 391.5h4.3v3.8h-4.3zM852.7 395.3h4.3v3.8h-4.3zM878.4 395.3h4.3v3.8h-4.3zM882.7 395.3h4.3v3.8h-4.3zM887 395.3h4.3v3.8h-4.3zM891.3 395.3h4.3v3.8h-4.3zM899.8 395.3h4.3v3.8h-4.3zM921.2 395.3h4.3v3.8h-4.3zM929.8 395.3h4.3v3.8h-4.3zM1054 395.3h4.3v3.8h-4.3zM1148.2 395.3h4.3v3.8h-4.3zM1152.5 395.3h4.3v3.8h-4.3zM1165.3 395.3h4.3v3.8h-4.3zM1328 395.3h4.3v3.8h-4.3zM1447.9 395.3h4.3v3.8h-4.3zM724.3 399h4.3v3.8h-4.3zM835.6 399h4.3v3.8h-4.3zM848.5 399h4.3v3.8h-4.3zM874.2 399h4.3v3.8h-4.3zM882.7 399h4.3v3.8h-4.3zM720 402.8h4.3v5.2h-4.3zM865.6 402.8h4.3v5.2h-4.3zM1212.4 408h4.3v5.2h-4.3zM891.3 413.2h4.3v5.2h-4.3zM1011.2 413.2h4.3v5.2h-4.3zM1152.5 413.2h4.3v5.2h-4.3zM1203.8 418.4h4.3v5.2h-4.3zM381.8 434h4.3v5.2h-4.3zM574.4 434h4.3v5.2h-4.3zM608.7 434h4.3v5.2h-4.3zM677.2 434h4.3v5.2h-4.3zM690 434h4.3v5.2h-4.3zM698.6 434h4.3v5.2h-4.3zM702.9 434h4.3v5.2h-4.3zM750 434h4.3v5.2h-4.3zM762.8 434h4.3v5.2h-4.3zM891.3 434h4.3v5.2h-4.3zM929.8 434h4.3v5.2h-4.3zM1006.9 434h4.3v5.2h-4.3zM1041.1 434h4.3v5.2h-4.3zM1084 434h4.3v5.2h-4.3zM1092.5 434h4.3v5.2h-4.3zM1148.2 434h4.3v5.2h-4.3zM1221 434h4.3v5.2h-4.3zM1272.3 434h4.3v5.2h-4.3zM1310.9 434h4.3v5.2h-4.3zM1396.5 434h4.3v5.2h-4.3zM1426.5 434h4.3v5.2h-4.3zM493.1 439.2h4.3v5.2h-4.3zM523.1 439.2h4.3v5.2h-4.3zM625.8 439.2h4.3v5.2h-4.3zM792.8 439.2h8.6v5.2h-8.6zM831.3 439.2h4.3v5.2h-4.3zM852.7 439.2h4.3v5.2h-4.3zM861.3 439.2h8.6v5.2h-8.6zM1015.4 439.2h4.3v5.2h-4.3zM1092.5 439.2h4.3v5.2h-4.3zM1113.9 439.2h4.3v5.2h-4.3zM1118.2 439.2h8.6v5.2h-8.6zM1173.9 439.2h4.3v5.2h-4.3zM1225.2 439.2h8.6v5.2h-8.6zM1233.8 439.2h4.3v5.2h-4.3zM1250.9 439.2h8.6v5.2h-8.6zM1306.6 439.2h8.6v5.2h-8.6zM1319.4 439.2h4.3v5.2h-4.3zM1379.4 439.2h4.3v5.2h-4.3zM1417.9 439.2h8.6v5.2h-8.6zM493.1 444.4h8.6v5.2h-8.6zM501.6 444.4h4.3v5.2h-4.3zM518.8 444.4h4.3v5.2h-4.3zM548.7 444.4h4.3v5.2h-4.3zM604.4 444.4h8.6v5.2h-8.6zM762.8 444.4h8.6v5.2h-8.6zM878.4 444.4h4.3v5.2h-4.3zM887 444.4h4.3v5.2h-4.3zM955.5 444.4h4.3v5.2h-4.3zM968.3 444.4h8.6v5.2h-8.6zM1015.4 444.4h4.3v5.2h-4.3zM1019.7 444.4h4.3v5.2h-4.3zM1036.9 444.4h8.6v5.2h-8.6zM1062.5 444.4h4.3v5.2h-4.3zM1084 444.4h4.3v5.2h-4.3zM1096.8 444.4h4.3v5.2h-4.3zM1199.6 444.4h4.3v5.2h-4.3zM1238.1 444.4h4.3v5.2h-4.3zM1293.8 444.4h4.3v5.2h-4.3zM1298 444.4h4.3v5.2h-4.3zM1323.7 444.4h4.3v5.2h-4.3zM1332.3 444.4h4.3v5.2h-4.3zM1349.4 444.4h4.3v5.2h-4.3zM1366.5 444.4h4.3v5.2h-4.3zM1370.8 444.4h8.6v5.2h-8.6zM1439.3 444.4h4.3v5.2h-4.3zM754.3 449.6h8.6v5.2h-8.6zM420.3 454.8h4.3v5.2h-4.3zM1079.7 460h8.6v5.2h-8.6zM1447.9 460h8.6v5.2h-8.6z"/>
<path fill="#00e8d6" d="M493.1 331.4h4.3v3.8h-4.3zM994 335.1h4.3v3.8h-4.3zM1075.4 338.9h4.3v3.8h-4.3zM1366.5 338.9h4.3v3.8h-4.3zM535.9 342.6h8.6v3.8h-8.6zM1255.2 342.6h8.6v3.8h-8.6zM741.4 346.4h4.3v3.8h-4.3zM1456.5 346.4h4.3v3.8h-4.3zM578.7 350.2h8.6v3.8h-8.6zM1229.5 350.2h4.3v3.8h-4.3zM497.4 353.9h4.3v3.8h-4.3zM1319.4 353.9h4.3v3.8h-4.3zM1358 353.9h4.3v3.8h-4.3zM493.1 357.7h4.3v3.8h-4.3zM694.3 357.7h4.3v3.8h-4.3zM1015.4 357.7h4.3v3.8h-4.3zM912.7 361.4h4.3v3.8h-4.3zM1225.2 361.4h8.6v3.8h-8.6zM420.3 365.2h8.6v3.8h-8.6zM1383.7 365.2h8.6v3.8h-8.6zM450.3 369h8.6v3.8h-8.6zM1178.1 369h4.3v3.8h-4.3zM1199.6 369h8.6v3.8h-8.6zM1242.4 369h8.6v3.8h-8.6zM1353.7 369h8.6v3.8h-8.6zM446 372.7h4.3v3.8h-4.3zM1148.2 372.7h4.3v3.8h-4.3zM1417.9 372.7h4.3v3.8h-4.3zM463.1 376.5h4.3v3.8h-4.3zM484.5 376.5h8.6v3.8h-8.6zM540.2 376.5h4.3v3.8h-4.3zM595.8 376.5h8.6v3.8h-8.6zM617.3 376.5h4.3v3.8h-4.3zM771.4 376.5h8.6v3.8h-8.6zM917 376.5h8.6v3.8h-8.6zM1084 376.5h8.6v3.8h-8.6zM1216.7 376.5h4.3v3.8h-4.3zM1246.7 376.5h4.3v3.8h-4.3zM1298 376.5h8.6v3.8h-8.6zM1349.4 376.5h4.3v3.8h-4.3zM1387.9 376.5h8.6v3.8h-8.6zM1396.5 376.5h4.3v3.8h-4.3zM484.5 380.2h4.3v3.8h-4.3zM527.3 380.2h4.3v3.8h-4.3zM574.4 380.2h4.3v3.8h-4.3zM583 380.2h4.3v3.8h-4.3zM621.5 380.2h4.3v3.8h-4.3zM784.2 380.2h4.3v3.8h-4.3zM814.2 380.2h8.6v3.8h-8.6zM994 380.2h8.6v3.8h-8.6zM1066.8 380.2h4.3v3.8h-4.3zM1109.6 380.2h4.3v3.8h-4.3zM1173.9 380.2h4.3v3.8h-4.3zM1221 380.2h4.3v3.8h-4.3zM381.8 384h4.3v3.8h-4.3zM416 384h4.3v3.8h-4.3zM420.3 384h4.3v3.8h-4.3zM437.4 384h4.3v3.8h-4.3zM458.8 384h4.3v3.8h-4.3zM467.4 384h4.3v3.8h-4.3zM480.2 384h4.3v3.8h-4.3zM535.9 384h4.3v3.8h-4.3zM548.7 384h4.3v3.8h-4.3zM561.6 384h4.3v3.8h-4.3zM604.4 384h4.3v3.8h-4.3zM608.7 384h4.3v3.8h-4.3zM677.2 384h8.6v3.8h-8.6zM702.9 384h4.3v3.8h-4.3zM745.7 384h4.3v3.8h-4.3zM784.2 384h8.6v3.8h-8.6zM801.4 384h4.3v3.8h-4.3zM887 384h4.3v3.8h-4.3zM1113.9 384h4.3v3.8h-4.3zM1118.2 384h4.3v3.8h-4.3zM1152.5 384h4.3v3.8h-4.3zM1161 384h4.3v3.8h-4.3zM1186.7 384h4.3v3.8h-4.3zM1225.2 384h4.3v3.8h-4.3zM1263.8 384h4.3v3.8h-4.3zM1272.3 384h4.3v3.8h-4.3zM1298 384h4.3v3.8h-4.3zM1306.6 384h4.3v3.8h-4.3zM1319.4 384h4.3v3.8h-4.3zM1323.7 384h4.3v3.8h-4.3zM1328 384h4.3v3.8h-4.3zM1332.3 384h4.3v3.8h-4.3zM1345.1 384h4.3v3.8h-4.3zM1379.4 384h4.3v3.8h-4.3zM1387.9 384h4.3v3.8h-4.3zM1392.2 384h4.3v3.8h-4.3zM1405.1 384h4.3v3.8h-4.3zM1413.6 384h4.3v3.8h-4.3zM1439.3 384h4.3v3.8h-4.3zM386 387.8h4.3v3.8h-4.3zM390.3 387.8h4.3v3.8h-4.3zM450.3 387.8h4.3v3.8h-4.3zM467.4 387.8h4.3v3.8h-4.3zM523.1 387.8h4.3v3.8h-4.3zM544.5 387.8h4.3v3.8h-4.3zM578.7 387.8h4.3v3.8h-4.3zM621.5 387.8h4.3v3.8h-4.3zM780 387.8h4.3v3.8h-4.3zM865.6 387.8h8.6v3.8h-8.6zM921.2 387.8h4.3v3.8h-4.3zM968.3 387.8h4.3v3.8h-4.3zM1045.4 387.8h4.3v3.8h-4.3zM1049.7 387.8h8.6v3.8h-8.6zM1066.8 387.8h4.3v3.8h-4.3zM1109.6 387.8h4.3v3.8h-4.3zM1122.5 387.8h4.3v3.8h-4.3zM1208.1 387.8h4.3v3.8h-4.3zM1221 387.8h4.3v3.8h-4.3zM1302.3 387.8h4.3v3.8h-4.3zM1336.6 387.8h4.3v3.8h-4.3zM1358 387.8h4.3v3.8h-4.3zM1447.9 387.8h4.3v3.8h-4.3zM775.7 391.5h4.3v3.8h-4.3zM831.3 391.5h4.3v3.8h-4.3zM869.9 391.5h4.3v3.8h-4.3zM878.4 391.5h4.3v3.8h-4.3zM899.8 391.5h4.3v3.8h-4.3zM908.4 391.5h4.3v3.8h-4.3zM985.5 391.5h4.3v3.8h-4.3zM1049.7 391.5h4.3v3.8h-4.3zM1165.3 391.5h4.3v3.8h-4.3zM1306.6 391.5h4.3v3.8h-4.3zM428.9 395.3h4.3v3.8h-4.3zM690 395.3h4.3v3.8h-4.3zM1045.4 395.3h4.3v3.8h-4.3zM1066.8 395.3h4.3v3.8h-4.3zM398.9 399h4.3v3.8h-4.3zM518.8 399h4.3v3.8h-4.3zM929.8 399h4.3v3.8h-4.3zM1032.6 399h4.3v3.8h-4.3zM381.8 402.8h4.3v5.2h-4.3zM587.3 402.8h4.3v5.2h-4.3zM677.2 402.8h4.3v5.2h-4.3zM981.2 402.8h4.3v5.2h-4.3zM1109.6 402.8h4.3v5.2h-4.3zM1165.3 402.8h4.3v5.2h-4.3zM1203.8 402.8h4.3v5.2h-4.3zM771.4 413.2h4.3v5.2h-4.3zM1280.9 413.2h4.3v5.2h-4.3zM1349.4 418.4h4.3v5.2h-4.3zM1439.3 418.4h4.3v5.2h-4.3zM994 423.6h4.3v5.2h-4.3zM797.1 428.8h4.3v5.2h-4.3zM450.3 434h4.3v5.2h-4.3zM476 434h4.3v5.2h-4.3zM523.1 434h4.3v5.2h-4.3zM531.6 434h4.3v5.2h-4.3zM557.3 434h4.3v5.2h-4.3zM561.6 434h4.3v5.2h-4.3zM591.6 434h4.3v5.2h-4.3zM685.8 434h4.3v5.2h-4.3zM775.7 434h4.3v5.2h-4.3zM1143.9 434h4.3v5.2h-4.3zM1203.8 434h4.3v5.2h-4.3zM1225.2 434h4.3v5.2h-4.3zM1242.4 434h4.3v5.2h-4.3zM1276.6 434h4.3v5.2h-4.3zM386 439.2h4.3v5.2h-4.3zM450.3 439.2h8.6v5.2h-8.6zM476 439.2h4.3v5.2h-4.3zM540.2 439.2h4.3v5.2h-4.3zM570.2 439.2h4.3v5.2h-4.3zM647.2 439.2h8.6v5.2h-8.6zM668.6 439.2h4.3v5.2h-4.3zM681.5 439.2h4.3v5.2h-4.3zM720 439.2h4.3v5.2h-4.3zM754.3 439.2h8.6v5.2h-8.6zM762.8 439.2h4.3v5.2h-4.3zM788.5 439.2h4.3v5.2h-4.3zM1084 439.2h8.6v5.2h-8.6zM1152.5 439.2h4.3v5.2h-4.3zM1199.6 439.2h8.6v5.2h-8.6zM1293.8 439.2h8.6v5.2h-8.6zM1366.5 439.2h4.3v5.2h-4.3zM1383.7 439.2h4.3v5.2h-4.3zM1426.5 439.2h8.6v5.2h-8.6zM1435 439.2h4.3v5.2h-4.3zM1439.3 439.2h8.6v5.2h-8.6zM437.4 444.4h8.6v5.2h-8.6zM450.3 444.4h4.3v5.2h-4.3zM694.3 444.4h4.3v5.2h-4.3zM745.7 444.4h4.3v5.2h-4.3zM882.7 444.4h4.3v5.2h-4.3zM917 444.4h4.3v5.2h-4.3zM921.2 444.4h4.3v5.2h-4.3zM925.5 444.4h4.3v5.2h-4.3zM942.7 444.4h8.6v5.2h-8.6zM976.9 444.4h4.3v5.2h-4.3zM998.3 444.4h4.3v5.2h-4.3zM1122.5 444.4h8.6v5.2h-8.6zM1259.5 444.4h8.6v5.2h-8.6zM1268.1 444.4h4.3v5.2h-4.3zM1409.4 444.4h4.3v5.2h-4.3zM1413.6 444.4h4.3v5.2h-4.3zM1113.9 449.6h4.3v5.2h-4.3zM1126.8 449.6h4.3v5.2h-4.3zM1161 449.6h4.3v5.2h-4.3zM1255.2 449.6h8.6v5.2h-8.6zM531.6 454.8h4.3v5.2h-4.3zM925.5 454.8h4.3v5.2h-4.3zM844.2 460h8.6v5.2h-8.6zM968.3 460h4.3v5.2h-4.3zM1280.9 460h4.3v5.2h-4.3zM523.1 465.2h4.3v5.2h-4.3zM1109.6 465.2h4.3v5.2h-4.3zM1332.3 465.2h4.3v5.2h-4.3z"/>
<path fill="#04d0f0" d="M621.5 331.4h8.6v3.8h-8.6zM1178.1 331.4h8.6v3.8h-8.6zM1250.9 331.4h8.6v3.8h-8.6zM591.6 335.1h4.3v3.8h-4.3zM750 335.1h4.3v3.8h-4.3zM1186.7 335.1h4.3v3.8h-4.3zM604.4 338.9h4.3v3.8h-4.3zM1250.9 338.9h4.3v3.8h-4.3zM1430.8 338.9h4.3v3.8h-4.3zM1332.3 342.6h4.3v3.8h-4.3zM1456.5 342.6h8.6v3.8h-8.6zM407.5 346.4h4.3v3.8h-4.3zM831.3 346.4h4.3v3.8h-4.3zM1349.4 346.4h4.3v3.8h-4.3zM1387.9 346.4h8.6v3.8h-8.6zM437.4 350.2h4.3v3.8h-4.3zM1250.9 350.2h4.3v3.8h-4.3zM1426.5 350.2h4.3v3.8h-4.3zM630.1 353.9h8.6v3.8h-8.6zM655.8 353.9h4.3v3.8h-4.3zM690 353.9h4.3v3.8h-4.3zM737.1 353.9h8.6v3.8h-8.6zM839.9 353.9h8.6v3.8h-8.6zM938.4 353.9h4.3v3.8h-4.3zM1165.3 353.9h8.6v3.8h-8.6zM1221 353.9h4.3v3.8h-4.3zM1242.4 353.9h4.3v3.8h-4.3zM1400.8 353.9h4.3v3.8h-4.3zM373.2 357.7h4.3v3.8h-4.3zM514.5 357.7h8.6v3.8h-8.6zM608.7 357.7h4.3v3.8h-4.3zM904.1 357.7h4.3v3.8h-4.3zM1225.2 357.7h4.3v3.8h-4.3zM1362.3 357.7h8.6v3.8h-8.6zM1443.6 357.7h4.3v3.8h-4.3zM420.3 361.4h4.3v3.8h-4.3zM476 361.4h8.6v3.8h-8.6zM878.4 361.4h4.3v3.8h-4.3zM1148.2 361.4h4.3v3.8h-4.3zM501.6 365.2h4.3v3.8h-4.3zM720 365.2h4.3v3.8h-4.3zM839.9 365.2h4.3v3.8h-4.3zM878.4 365.2h8.6v3.8h-8.6zM1045.4 365.2h8.6v3.8h-8.6zM1250.9 365.2h4.3v3.8h-4.3zM403.2 369h8.6v3.8h-8.6zM548.7 369h8.6v3.8h-8.6zM664.4 369h4.3v3.8h-4.3zM818.5 369h4.3v3.8h-4.3zM891.3 369h4.3v3.8h-4.3zM1045.4 369h4.3v3.8h-4.3zM1066.8 369h4.3v3.8h-4.3zM1156.7 369h4.3v3.8h-4.3zM1221 369h4.3v3.8h-4.3zM1229.5 369h4.3v3.8h-4.3zM1375.1 369h8.6v3.8h-8.6zM1383.7 369h8.6v3.8h-8.6zM1452.2 369h4.3v3.8h-4.3zM394.6 372.7h4.3v3.8h-4.3zM514.5 372.7h4.3v3.8h-4.3zM600.1 372.7h4.3v3.8h-4.3zM613 372.7h8.6v3.8h-8.6zM677.2 372.7h4.3v3.8h-4.3zM681.5 372.7h4.3v3.8h-4.3zM690 372.7h4.3v3.8h-4.3zM724.3 372.7h4.3v3.8h-4.3zM835.6 372.7h4.3v3.8h-4.3zM925.5 372.7h8.6v3.8h-8.6zM981.2 372.7h4.3v3.8h-4.3zM1259.5 372.7h8.6v3.8h-8.6zM1268.1 372.7h4.3v3.8h-4.3zM1298 372.7h4.3v3.8h-4.3zM1375.1 372.7h8.6v3.8h-8.6zM441.7 376.5h4.3v3.8h-4.3zM561.6 376.5h4.3v3.8h-4.3zM634.4 376.5h8.6v3.8h-8.6zM822.8 376.5h4.3v3.8h-4.3zM861.3 376.5h4.3v3.8h-4.3zM1075.4 376.5h4.3v3.8h-4.3zM1092.5 376.5h4.3v3.8h-4.3zM1118.2 376.5h8.6v3.8h-8.6zM1229.5 376.5h4.3v3.8h-4.3zM1250.9 376.5h4.3v3.8h-4.3zM557.3 380.2h4.3v3.8h-4.3zM595.8 380.2h4.3v3.8h-4.3zM694.3 380.2h8.6v3.8h-8.6zM874.2 380.2h8.6v3.8h-8.6zM882.7 380.2h4.3v3.8h-4.3zM925.5 380.2h8.6v3.8h-8.6zM968.3 380.2h4.3v3.8h-4.3zM1002.6 380.2h8.6v3.8h-8.6zM1079.7 380.2h4.3v3.8h-4.3zM1208.1 380.2h4.3v3.8h-4.3zM1229.5 380.2h4.3v3.8h-4.3zM1268.1 380.2h4.3v3.8h-4.3zM1272.3 380.2h4.3v3.8h-4.3zM1315.2 380.2h4.3v3.8h-4.3zM1319.4 380.2h4.3v3.8h-4.3zM1323.7 380.2h4.3v3.8h-4.3zM1332.3 380.2h4.3v3.8h-4.3zM1370.8 380.2h4.3v3.8h-4.3zM1383.7 380.2h4.3v3.8h-4.3zM1400.8 380.2h4.3v3.8h-4.3zM1413.6 380.2h4.3v3.8h-4.3zM1439.3 380.2h4.3v3.8h-4.3zM390.3 384h4.3v3.8h-4.3zM433.1 384h4.3v3.8h-4.3zM450.3 384h4.3v3.8h-4.3zM471.7 384h4.3v3.8h-4.3zM591.6 384h4.3v3.8h-4.3zM720 384h4.3v3.8h-4.3zM1062.5 384h8.6v3.8h-8.6zM1088.2 384h8.6v3.8h-8.6zM1126.8 384h4.3v3.8h-4.3zM1131.1 384h4.3v3.8h-4.3zM1148.2 384h4.3v3.8h-4.3zM1182.4 384h4.3v3.8h-4.3zM1212.4 384h4.3v3.8h-4.3zM1216.7 384h4.3v3.8h-4.3zM1229.5 384h4.3v3.8h-4.3zM1238.1 384h4.3v3.8h-4.3zM1242.4 384h4.3v3.8h-4.3zM1255.2 384h4.3v3.8h-4.3zM1302.3 384h4.3v3.8h-4.3zM1310.9 384h4.3v3.8h-4.3zM1349.4 384h4.3v3.8h-4.3zM1358 384h4.3v3.8h-4.3zM1366.5 384h4.3v3.8h-4.3zM1375.1 384h4.3v3.8h-4.3zM1452.2 384h4.3v3.8h-4.3zM630.1 387.8h4.3v3.8h-4.3zM899.8 387.8h4.3v3.8h-4.3zM938.4 387.8h4.3v3.8h-4.3zM981.2 387.8h4.3v3.8h-4.3zM1156.7 387.8h4.3v3.8h-4.3zM1242.4 387.8h4.3v3.8h-4.3zM1332.3 387.8h4.3v3.8h-4.3zM1439.3 387.8h4.3v3.8h-4.3zM638.7 391.5h4.3v3.8h-4.3zM895.6 391.5h4.3v3.8h-4.3zM904.1 391.5h4.3v3.8h-4.3zM1054 391.5h4.3v3.8h-4.3zM1148.2 391.5h4.3v3.8h-4.3zM737.1 395.3h4.3v3.8h-4.3zM1109.6 395.3h4.3v3.8h-4.3zM510.2 399h4.3v3.8h-4.3zM617.3 399h4.3v3.8h-4.3zM831.3 399h4.3v3.8h-4.3zM921.2 399h4.3v3.8h-4.3zM1019.7 399h4.3v3.8h-4.3zM1122.5 399h4.3v3.8h-4.3zM1143.9 399h4.3v3.8h-4.3zM1199.6 399h4.3v3.8h-4.3zM1319.4 399h4.3v3.8h-4.3zM403.2 402.8h4.3v5.2h-4.3zM724.3 402.8h4.3v5.2h-4.3zM809.9 402.8h4.3v5.2h-4.3zM994 408h4.3v5.2h-4.3zM535.9 413.2h4.3v5.2h-4.3zM976.9 413.2h4.3v5.2h-4.3zM792.8 418.4h4.3v5.2h-4.3zM848.5 418.4h4.3v5.2h-4.3zM386 428.8h4.3v5.2h-4.3zM1315.2 428.8h4.3v5.2h-4.3zM544.5 434h4.3v5.2h-4.3zM548.7 434h4.3v5.2h-4.3zM604.4 434h4.3v5.2h-4.3zM788.5 434h4.3v5.2h-4.3zM861.3 434h4.3v5.2h-4.3zM1298 434h4.3v5.2h-4.3zM1332.3 434h4.3v5.2h-4.3zM1366.5 434h4.3v5.2h-4.3zM655.8 439.2h4.3v5.2h-4.3zM707.2 439.2h4.3v5.2h-4.3zM732.9 439.2h4.3v5.2h-4.3zM925.5 439.2h8.6v5.2h-8.6zM972.6 439.2h4.3v5.2h-4.3zM1006.9 439.2h8.6v5.2h-8.6zM1019.7 439.2h4.3v5.2h-4.3zM1186.7 439.2h8.6v5.2h-8.6zM1375.1 439.2h4.3v5.2h-4.3zM398.9 444.4h4.3v5.2h-4.3zM480.2 444.4h8.6v5.2h-8.6zM527.3 444.4h4.3v5.2h-4.3zM561.6 444.4h8.6v5.2h-8.6zM681.5 444.4h8.6v5.2h-8.6zM827.1 444.4h4.3v5.2h-4.3zM857 444.4h8.6v5.2h-8.6zM934.1 444.4h4.3v5.2h-4.3zM1024 444.4h8.6v5.2h-8.6zM1178.1 444.4h8.6v5.2h-8.6zM1208.1 444.4h4.3v5.2h-4.3zM1255.2 444.4h4.3v5.2h-4.3zM1328 444.4h4.3v5.2h-4.3zM1358 444.4h4.3v5.2h-4.3zM1452.2 444.4h8.6v5.2h-8.6zM587.3 449.6h8.6v5.2h-8.6zM762.8 449.6h8.6v5.2h-8.6zM899.8 449.6h4.3v5.2h-4.3zM938.4 449.6h4.3v5.2h-4.3zM972.6 449.6h4.3v5.2h-4.3zM1400.8 449.6h8.6v5.2h-8.6zM493.1 454.8h4.3v5.2h-4.3zM724.3 454.8h4.3v5.2h-4.3zM737.1 454.8h8.6v5.2h-8.6zM745.7 454.8h4.3v5.2h-4.3zM844.2 454.8h4.3v5.2h-4.3zM865.6 454.8h8.6v5.2h-8.6zM955.5 454.8h8.6v5.2h-8.6zM989.8 454.8h8.6v5.2h-8.6zM1049.7 454.8h4.3v5.2h-4.3zM1310.9 454.8h4.3v5.2h-4.3zM1345.1 454.8h4.3v5.2h-4.3zM1452.2 454.8h4.3v5.2h-4.3zM720 460h4.3v5.2h-4.3zM801.4 460h4.3v5.2h-4.3zM989.8 460h8.6v5.2h-8.6zM1006.9 460h4.3v5.2h-4.3zM1062.5 460h4.3v5.2h-4.3zM1310.9 460h8.6v5.2h-8.6zM1366.5 460h8.6v5.2h-8.6zM1443.6 460h4.3v5.2h-4.3zM548.7 465.2h4.3v5.2h-4.3zM780 465.2h8.6v5.2h-8.6zM904.1 465.2h8.6v5.2h-8.6zM1092.5 465.2h8.6v5.2h-8.6zM1302.3 465.2h8.6v5.2h-8.6zM1323.7 465.2h4.3v5.2h-4.3z"/>
<path fill="#09b9f0" d="M784.2 331.4h8.6v3.8h-8.6zM801.4 331.4h8.6v3.8h-8.6zM925.5 331.4h4.3v3.8h-4.3zM1310.9 331.4h4.3v3.8h-4.3zM1443.6 331.4h8.6v3.8h-8.6zM480.2 335.1h8.6v3.8h-8.6zM565.9 335.1h4.3v3.8h-4.3zM771.4 335.1h8.6v3.8h-8.6zM929.8 335.1h4.3v3.8h-4.3zM1032.6 335.1h4.3v3.8h-4.3zM1439.3 335.1h4.3v3.8h-4.3zM416 338.9h4.3v3.8h-4.3zM505.9 338.9h4.3v3.8h-4.3zM540.2 338.9h8.6v3.8h-8.6zM591.6 338.9h4.3v3.8h-4.3zM780 338.9h8.6v3.8h-8.6zM998.3 338.9h4.3v3.8h-4.3zM1006.9 338.9h4.3v3.8h-4.3zM1289.5 338.9h4.3v3.8h-4.3zM1370.8 338.9h8.6v3.8h-8.6zM411.7 342.6h4.3v3.8h-4.3zM647.2 342.6h4.3v3.8h-4.3zM741.4 342.6h8.6v3.8h-8.6zM887 342.6h4.3v3.8h-4.3zM981.2 342.6h8.6v3.8h-8.6zM1139.6 342.6h4.3v3.8h-4.3zM1173.9 342.6h8.6v3.8h-8.6zM1276.6 342.6h8.6v3.8h-8.6zM1345.1 342.6h4.3v3.8h-4.3zM514.5 346.4h8.6v3.8h-8.6zM544.5 346.4h8.6v3.8h-8.6zM608.7 346.4h8.6v3.8h-8.6zM617.3 346.4h4.3v3.8h-4.3zM664.4 346.4h4.3v3.8h-4.3zM698.6 346.4h4.3v3.8h-4.3zM720 346.4h4.3v3.8h-4.3zM1156.7 346.4h4.3v3.8h-4.3zM1186.7 346.4h8.6v3.8h-8.6zM1212.4 346.4h4.3v3.8h-4.3zM1233.8 346.4h8.6v3.8h-8.6zM1332.3 346.4h4.3v3.8h-4.3zM1362.3 346.4h4.3v3.8h-4.3zM1443.6 346.4h4.3v3.8h-4.3zM386 350.2h4.3v3.8h-4.3zM493.1 350.2h8.6v3.8h-8.6zM608.7 350.2h4.3v3.8h-4.3zM625.8 350.2h4.3v3.8h-4.3zM852.7 350.2h4.3v3.8h-4.3zM1032.6 350.2h4.3v3.8h-4.3zM1075.4 350.2h4.3v3.8h-4.3zM1148.2 350.2h4.3v3.8h-4.3zM381.8 353.9h4.3v3.8h-4.3zM450.3 353.9h8.6v3.8h-8.6zM638.7 353.9h4.3v3.8h-4.3zM664.4 353.9h4.3v3.8h-4.3zM831.3 353.9h4.3v3.8h-4.3zM972.6 353.9h4.3v3.8h-4.3zM976.9 353.9h4.3v3.8h-4.3zM1131.1 353.9h8.6v3.8h-8.6zM1139.6 353.9h8.6v3.8h-8.6zM1186.7 353.9h4.3v3.8h-4.3zM1233.8 353.9h8.6v3.8h-8.6zM1250.9 353.9h4.3v3.8h-4.3zM1255.2 353.9h4.3v3.8h-4.3zM381.8 357.7h4.3v3.8h-4.3zM433.1 357.7h4.3v3.8h-4.3zM471.7 357.7h4.3v3.8h-4.3zM544.5 357.7h4.3v3.8h-4.3zM942.7 357.7h4.3v3.8h-4.3zM968.3 357.7h4.3v3.8h-4.3zM1191 357.7h4.3v3.8h-4.3zM1195.3 357.7h4.3v3.8h-4.3zM1370.8 357.7h8.6v3.8h-8.6zM454.6 361.4h4.3v3.8h-4.3zM535.9 361.4h4.3v3.8h-4.3zM570.2 361.4h4.3v3.8h-4.3zM574.4 361.4h4.3v3.8h-4.3zM600.1 361.4h4.3v3.8h-4.3zM762.8 361.4h4.3v3.8h-4.3zM844.2 361.4h8.6v3.8h-8.6zM891.3 361.4h4.3v3.8h-4.3zM1186.7 361.4h8.6v3.8h-8.6zM1203.8 361.4h4.3v3.8h-4.3zM1280.9 361.4h8.6v3.8h-8.6zM1370.8 361.4h8.6v3.8h-8.6zM1400.8 361.4h8.6v3.8h-8.6zM1452.2 361.4h8.6v3.8h-8.6zM386 365.2h8.6v3.8h-8.6zM510.2 365.2h4.3v3.8h-4.3zM651.5 365.2h4.3v3.8h-4.3zM946.9 365.2h4.3v3.8h-4.3zM1362.3 365.2h4.3v3.8h-4.3zM381.8 369h4.3v3.8h-4.3zM398.9 369h4.3v3.8h-4.3zM467.4 369h4.3v3.8h-4.3zM574.4 369h4.3v3.8h-4.3zM617.3 369h4.3v3.8h-4.3zM694.3 369h4.3v3.8h-4.3zM835.6 369h8.6v3.8h-8.6zM959.8 369h4.3v3.8h-4.3zM1036.9 369h8.6v3.8h-8.6zM1109.6 369h4.3v3.8h-4.3zM1139.6 369h4.3v3.8h-4.3zM1182.4 369h4.3v3.8h-4.3zM1319.4 369h8.6v3.8h-8.6zM1409.4 369h4.3v3.8h-4.3zM1456.5 369h8.6v3.8h-8.6zM373.2 372.7h4.3v3.8h-4.3zM433.1 372.7h4.3v3.8h-4.3zM493.1 372.7h8.6v3.8h-8.6zM518.8 372.7h8.6v3.8h-8.6zM578.7 372.7h8.6v3.8h-8.6zM668.6 372.7h8.6v3.8h-8.6zM844.2 372.7h4.3v3.8h-4.3zM1006.9 372.7h4.3v3.8h-4.3zM1054 372.7h8.6v3.8h-8.6zM1135.3 372.7h4.3v3.8h-4.3zM1315.2 372.7h4.3v3.8h-4.3zM1405.1 372.7h8.6v3.8h-8.6zM1435 372.7h8.6v3.8h-8.6zM394.6 376.5h4.3v3.8h-4.3zM471.7 376.5h4.3v3.8h-4.3zM544.5 376.5h4.3v3.8h-4.3zM578.7 376.5h4.3v3.8h-4.3zM583 376.5h4.3v3.8h-4.3zM642.9 376.5h4.3v3.8h-4.3zM882.7 376.5h4.3v3.8h-4.3zM925.5 376.5h4.3v3.8h-4.3zM1178.1 376.5h8.6v3.8h-8.6zM493.1 380.2h4.3v3.8h-4.3zM523.1 380.2h4.3v3.8h-4.3zM587.3 380.2h4.3v3.8h-4.3zM762.8 380.2h8.6v3.8h-8.6zM771.4 380.2h8.6v3.8h-8.6zM822.8 380.2h4.3v3.8h-4.3zM869.9 380.2h4.3v3.8h-4.3zM899.8 380.2h4.3v3.8h-4.3zM934.1 380.2h8.6v3.8h-8.6zM1071.1 380.2h4.3v3.8h-4.3zM1152.5 380.2h4.3v3.8h-4.3zM1203.8 380.2h4.3v3.8h-4.3zM1212.4 380.2h4.3v3.8h-4.3zM1225.2 380.2h4.3v3.8h-4.3zM1238.1 380.2h4.3v3.8h-4.3zM1246.7 380.2h4.3v3.8h-4.3zM1250.9 380.2h4.3v3.8h-4.3zM1255.2 380.2h4.3v3.8h-4.3zM1276.6 380.2h4.3v3.8h-4.3zM1298 380.2h4.3v3.8h-4.3zM1302.3 380.2h4.3v3.8h-4.3zM1336.6 380.2h4.3v3.8h-4.3zM1340.9 380.2h4.3v3.8h-4.3zM1375.1 380.2h4.3v3.8h-4.3zM1379.4 380.2h4.3v3.8h-4.3zM1387.9 380.2h4.3v3.8h-4.3zM1417.9 380.2h4.3v3.8h-4.3zM1422.2 380.2h4.3v3.8h-4.3zM1435 380.2h4.3v3.8h-4.3zM1447.9 380.2h4.3v3.8h-4.3zM488.8 384h4.3v3.8h-4.3zM613 384h4.3v3.8h-4.3zM642.9 384h4.3v3.8h-4.3zM694.3 384h4.3v3.8h-4.3zM951.2 384h8.6v3.8h-8.6zM1054 384h4.3v3.8h-4.3zM1165.3 384h4.3v3.8h-4.3zM1191 384h4.3v3.8h-4.3zM1195.3 384h4.3v3.8h-4.3zM1203.8 384h4.3v3.8h-4.3zM1426.5 384h4.3v3.8h-4.3zM771.4 387.8h4.3v3.8h-4.3zM917 387.8h4.3v3.8h-4.3zM989.8 387.8h4.3v3.8h-4.3zM1165.3 387.8h4.3v3.8h-4.3zM1178.1 387.8h4.3v3.8h-4.3zM1443.6 387.8h4.3v3.8h-4.3zM715.7 391.5h4.3v3.8h-4.3zM989.8 391.5h4.3v3.8h-4.3zM1456.5 391.5h4.3v3.8h-4.3zM450.3 395.3h4.3v3.8h-4.3zM467.4 395.3h4.3v3.8h-4.3zM510.2 395.3h4.3v3.8h-4.3zM762.8 395.3h4.3v3.8h-4.3zM912.7 395.3h4.3v3.8h-4.3zM1298 395.3h4.3v3.8h-4.3zM685.8 399h4.3v3.8h-4.3zM887 399h4.3v3.8h-4.3zM1024 399h4.3v3.8h-4.3zM1109.6 399h4.3v3.8h-4.3zM672.9 402.8h4.3v5.2h-4.3zM750 402.8h4.3v5.2h-4.3zM771.4 402.8h4.3v5.2h-4.3zM874.2 408h4.3v5.2h-4.3zM908.4 408h4.3v5.2h-4.3zM390.3 413.2h4.3v5.2h-4.3zM865.6 413.2h4.3v5.2h-4.3zM1165.3 413.2h4.3v5.2h-4.3zM578.7 423.6h4.3v5.2h-4.3zM728.6 428.8h4.3v5.2h-4.3zM908.4 428.8h4.3v5.2h-4.3zM951.2 428.8h4.3v5.2h-4.3zM1345.1 428.8h4.3v5.2h-4.3zM446 434h4.3v5.2h-4.3zM754.3 434h4.3v5.2h-4.3zM437.4 439.2h4.3v5.2h-4.3zM565.9 439.2h4.3v5.2h-4.3zM694.3 439.2h4.3v5.2h-4.3zM946.9 439.2h4.3v5.2h-4.3zM1315.2 439.2h4.3v5.2h-4.3zM1336.6 439.2h4.3v5.2h-4.3zM1349.4 439.2h4.3v5.2h-4.3zM1370.8 439.2h4.3v5.2h-4.3zM600.1 444.4h4.3v5.2h-4.3zM651.5 444.4h4.3v5.2h-4.3zM895.6 444.4h4.3v5.2h-4.3zM899.8 444.4h8.6v5.2h-8.6zM959.8 444.4h4.3v5.2h-4.3zM985.5 444.4h4.3v5.2h-4.3zM994 444.4h4.3v5.2h-4.3zM1049.7 444.4h8.6v5.2h-8.6zM1109.6 444.4h8.6v5.2h-8.6zM1143.9 444.4h8.6v5.2h-8.6zM1362.3 444.4h4.3v5.2h-4.3zM1383.7 444.4h4.3v5.2h-4.3zM1387.9 444.4h4.3v5.2h-4.3zM1396.5 444.4h4.3v5.2h-4.3zM1465 444.4h4.3v5.2h-4.3zM377.5 449.6h4.3v5.2h-4.3zM390.3 449.6h8.6v5.2h-8.6zM463.1 449.6h4.3v5.2h-4.3zM583 449.6h4.3v5.2h-4.3zM595.8 449.6h8.6v5.2h-8.6zM655.8 449.6h4.3v5.2h-4.3zM698.6 449.6h8.6v5.2h-8.6zM715.7 449.6h4.3v5.2h-4.3zM839.9 449.6h8.6v5.2h-8.6zM882.7 449.6h8.6v5.2h-8.6zM1049.7 449.6h4.3v5.2h-4.3zM1062.5 449.6h8.6v5.2h-8.6zM1203.8 449.6h4.3v5.2h-4.3zM1306.6 449.6h4.3v5.2h-4.3zM1362.3 449.6h4.3v5.2h-4.3zM1392.2 449.6h8.6v5.2h-8.6zM1447.9 449.6h8.6v5.2h-8.6zM386 454.8h8.6v5.2h-8.6zM497.4 454.8h8.6v5.2h-8.6zM557.3 454.8h4.3v5.2h-4.3zM625.8 454.8h4.3v5.2h-4.3zM668.6 454.8h8.6v5.2h-8.6zM835.6 454.8h8.6v5.2h-8.6zM908.4 454.8h8.6v5.2h-8.6zM1058.3 454.8h4.3v5.2h-4.3zM1186.7 454.8h4.3v5.2h-4.3zM1353.7 454.8h4.3v5.2h-4.3zM424.6 460h4.3v5.2h-4.3zM471.7 460h4.3v5.2h-4.3zM578.7 460h4.3v5.2h-4.3zM660.1 460h8.6v5.2h-8.6zM1002.6 460h4.3v5.2h-4.3zM1019.7 460h4.3v5.2h-4.3zM1036.9 460h4.3v5.2h-4.3zM1058.3 460h4.3v5.2h-4.3zM1075.4 460h4.3v5.2h-4.3zM1135.3 460h4.3v5.2h-4.3zM1156.7 460h4.3v5.2h-4.3zM1212.4 460h4.3v5.2h-4.3zM480.2 465.2h8.6v5.2h-8.6zM814.2 465.2h4.3v5.2h-4.3zM831.3 465.2h4.3v5.2h-4.3zM1362.3 465.2h4.3v5.2h-4.3z"/>
<path fill="#0a11f8" d="M373.2 331.4h4.3v3.8h-4.3zM454.6 331.4h8.6v3.8h-8.6zM497.4 331.4h4.3v3.8h-4.3zM702.9 331.4h4.3v3.8h-4.3zM972.6 331.4h8.6v3.8h-8.6zM1002.6 331.4h4.3v3.8h-4.3zM1049.7 331.4h4.3v3.8h-4.3zM1118.2 331.4h4.3v3.8h-4.3zM1268.1 331.4h8.6v3.8h-8.6zM1293.8 331.4h8.6v3.8h-8.6zM1396.5 331.4h4.3v3.8h-4.3zM1405.1 331.4h8.6v3.8h-8.6zM1435 331.4h4.3v3.8h-4.3zM411.7 335.1h8.6v3.8h-8.6zM514.5 335.1h4.3v3.8h-4.3zM604.4 335.1h4.3v3.8h-4.3zM638.7 335.1h8.6v3.8h-8.6zM792.8 335.1h4.3v3.8h-4.3zM895.6 335.1h8.6v3.8h-8.6zM1006.9 335.1h4.3v3.8h-4.3zM1045.4 335.1h4.3v3.8h-4.3zM1126.8 335.1h4.3v3.8h-4.3zM1139.6 335.1h4.3v3.8h-4.3zM1203.8 335.1h4.3v3.8h-4.3zM1208.1 335.1h4.3v3.8h-4.3zM1221 335.1h4.3v3.8h-4.3zM1246.7 335.1h4.3v3.8h-4.3zM1315.2 335.1h8.6v3.8h-8.6zM1409.4 335.1h4.3v3.8h-4.3zM583 338.9h4.3v3.8h-4.3zM771.4 338.9h4.3v3.8h-4.3zM788.5 338.9h4.3v3.8h-4.3zM865.6 338.9h4.3v3.8h-4.3zM946.9 338.9h4.3v3.8h-4.3zM976.9 338.9h4.3v3.8h-4.3zM1293.8 338.9h4.3v3.8h-4.3zM1426.5 338.9h4.3v3.8h-4.3zM1456.5 338.9h4.3v3.8h-4.3zM407.5 342.6h4.3v3.8h-4.3zM630.1 342.6h8.6v3.8h-8.6zM801.4 342.6h4.3v3.8h-4.3zM1002.6 342.6h4.3v3.8h-4.3zM1092.5 342.6h4.3v3.8h-4.3zM1182.4 342.6h4.3v3.8h-4.3zM1191 342.6h4.3v3.8h-4.3zM1199.6 342.6h4.3v3.8h-4.3zM1242.4 342.6h4.3v3.8h-4.3zM1387.9 342.6h4.3v3.8h-4.3zM1400.8 342.6h4.3v3.8h-4.3zM1422.2 342.6h4.3v3.8h-4.3zM381.8 346.4h8.6v3.8h-8.6zM420.3 346.4h4.3v3.8h-4.3zM450.3 346.4h8.6v3.8h-8.6zM488.8 346.4h8.6v3.8h-8.6zM702.9 346.4h4.3v3.8h-4.3zM874.2 346.4h4.3v3.8h-4.3zM878.4 346.4h4.3v3.8h-4.3zM1024 346.4h4.3v3.8h-4.3zM1028.3 346.4h8.6v3.8h-8.6zM1041.1 346.4h4.3v3.8h-4.3zM1203.8 346.4h4.3v3.8h-4.3zM1358 346.4h4.3v3.8h-4.3zM1422.2 346.4h4.3v3.8h-4.3zM531.6 350.2h4.3v3.8h-4.3zM565.9 350.2h4.3v3.8h-4.3zM591.6 350.2h4.3v3.8h-4.3zM651.5 350.2h8.6v3.8h-8.6zM724.3 350.2h8.6v3.8h-8.6zM912.7 350.2h4.3v3.8h-4.3zM1049.7 350.2h4.3v3.8h-4.3zM1101.1 350.2h8.6v3.8h-8.6zM1216.7 350.2h4.3v3.8h-4.3zM1221 350.2h4.3v3.8h-4.3zM1379.4 350.2h4.3v3.8h-4.3zM1460.7 350.2h8.6v3.8h-8.6zM424.6 353.9h4.3v3.8h-4.3zM531.6 353.9h4.3v3.8h-4.3zM544.5 353.9h4.3v3.8h-4.3zM557.3 353.9h8.6v3.8h-8.6zM574.4 353.9h8.6v3.8h-8.6zM583 353.9h4.3v3.8h-4.3zM595.8 353.9h4.3v3.8h-4.3zM600.1 353.9h4.3v3.8h-4.3zM809.9 353.9h4.3v3.8h-4.3zM891.3 353.9h8.6v3.8h-8.6zM1113.9 353.9h4.3v3.8h-4.3zM1280.9 353.9h4.3v3.8h-4.3zM1353.7 353.9h4.3v3.8h-4.3zM1383.7 353.9h4.3v3.8h-4.3zM1435 353.9h4.3v3.8h-4.3zM1447.9 353.9h4.3v3.8h-4.3zM446 357.7h4.3v3.8h-4.3zM463.1 357.7h4.3v3.8h-4.3zM561.6 357.7h4.3v3.8h-4.3zM724.3 357.7h8.6v3.8h-8.6zM827.1 357.7h4.3v3.8h-4.3zM865.6 357.7h8.6v3.8h-8.6zM917 357.7h8.6v3.8h-8.6zM1002.6 357.7h8.6v3.8h-8.6zM1105.4 357.7h4.3v3.8h-4.3zM1173.9 357.7h8.6v3.8h-8.6zM1199.6 357.7h8.6v3.8h-8.6zM1208.1 357.7h4.3v3.8h-4.3zM1426.5 357.7h8.6v3.8h-8.6zM377.5 361.4h4.3v3.8h-4.3zM505.9 361.4h8.6v3.8h-8.6zM540.2 361.4h4.3v3.8h-4.3zM690 361.4h4.3v3.8h-4.3zM946.9 361.4h4.3v3.8h-4.3zM968.3 361.4h8.6v3.8h-8.6zM985.5 361.4h8.6v3.8h-8.6zM1212.4 361.4h4.3v3.8h-4.3zM1319.4 361.4h8.6v3.8h-8.6zM1328 361.4h4.3v3.8h-4.3zM1392.2 361.4h8.6v3.8h-8.6zM433.1 365.2h8.6v3.8h-8.6zM441.7 365.2h4.3v3.8h-4.3zM458.8 365.2h8.6v3.8h-8.6zM553 365.2h4.3v3.8h-4.3zM942.7 365.2h4.3v3.8h-4.3zM972.6 365.2h4.3v3.8h-4.3zM1062.5 365.2h4.3v3.8h-4.3zM1259.5 365.2h4.3v3.8h-4.3zM1379.4 365.2h4.3v3.8h-4.3zM874.2 369h4.3v3.8h-4.3zM938.4 369h4.3v3.8h-4.3zM981.2 369h4.3v3.8h-4.3zM985.5 369h4.3v3.8h-4.3zM1165.3 369h4.3v3.8h-4.3zM1298 369h4.3v3.8h-4.3zM1340.9 369h4.3v3.8h-4.3zM407.5 372.7h4.3v3.8h-4.3zM488.8 372.7h4.3v3.8h-4.3zM878.4 372.7h4.3v3.8h-4.3zM715.7 376.5h8.6v3.8h-8.6zM724.3 376.5h4.3v3.8h-4.3zM762.8 376.5h8.6v3.8h-8.6zM784.2 376.5h8.6v3.8h-8.6zM1028.3 376.5h4.3v3.8h-4.3zM1036.9 376.5h4.3v3.8h-4.3zM1041.1 376.5h4.3v3.8h-4.3zM904.1 384h4.3v3.8h-4.3zM407.5 449.6h8.6v5.2h-8.6zM424.6 449.6h8.6v5.2h-8.6zM553 449.6h8.6v5.2h-8.6zM891.3 449.6h4.3v5.2h-4.3zM1345.1 449.6h4.3v5.2h-4.3zM1439.3 449.6h4.3v5.2h-4.3zM394.6 454.8h8.6v5.2h-8.6zM570.2 454.8h4.3v5.2h-4.3zM677.2 454.8h4.3v5.2h-4.3zM1096.8 454.8h4.3v5.2h-4.3zM1126.8 454.8h8.6v5.2h-8.6zM1366.5 454.8h4.3v5.2h-4.3zM403.2 460h4.3v5.2h-4.3zM428.9 460h8.6v5.2h-8.6zM493.1 460h8.6v5.2h-8.6zM518.8 460h4.3v5.2h-4.3zM557.3 460h4.3v5.2h-4.3zM715.7 460h4.3v5.2h-4.3zM754.3 460h8.6v5.2h-8.6zM818.5 460h4.3v5.2h-4.3zM887 460h8.6v5.2h-8.6zM912.7 460h4.3v5.2h-4.3zM925.5 460h8.6v5.2h-8.6zM1101.1 460h4.3v5.2h-4.3zM1229.5 460h4.3v5.2h-4.3zM1242.4 460h8.6v5.2h-8.6zM1430.8 460h8.6v5.2h-8.6zM702.9 465.2h4.3v5.2h-4.3zM720 465.2h4.3v5.2h-4.3zM771.4 465.2h4.3v5.2h-4.3zM887 465.2h4.3v5.2h-4.3zM976.9 465.2h4.3v5.2h-4.3zM989.8 465.2h4.3v5.2h-4.3z"/>
<path fill="#0c2ff6" d="M476 331.4h4.3v3.8h-4.3zM488.8 331.4h4.3v3.8h-4.3zM720 331.4h4.3v3.8h-4.3zM737.1 331.4h4.3v3.8h-4.3zM994 331.4h8.6v3.8h-8.6zM1071.1 331.4h4.3v3.8h-4.3zM1088.2 331.4h8.6v3.8h-8.6zM1135.3 331.4h4.3v3.8h-4.3zM1165.3 331.4h4.3v3.8h-4.3zM1169.6 331.4h8.6v3.8h-8.6zM1221 331.4h8.6v3.8h-8.6zM1302.3 331.4h8.6v3.8h-8.6zM1315.2 331.4h4.3v3.8h-4.3zM1319.4 331.4h4.3v3.8h-4.3zM1336.6 331.4h4.3v3.8h-4.3zM1349.4 331.4h8.6v3.8h-8.6zM1422.2 331.4h4.3v3.8h-4.3zM386 335.1h4.3v3.8h-4.3zM553 335.1h4.3v3.8h-4.3zM724.3 335.1h4.3v3.8h-4.3zM754.3 335.1h8.6v3.8h-8.6zM861.3 335.1h4.3v3.8h-4.3zM959.8 335.1h4.3v3.8h-4.3zM1011.2 335.1h4.3v3.8h-4.3zM1036.9 335.1h4.3v3.8h-4.3zM1079.7 335.1h4.3v3.8h-4.3zM1293.8 335.1h4.3v3.8h-4.3zM1302.3 335.1h4.3v3.8h-4.3zM1345.1 335.1h4.3v3.8h-4.3zM1362.3 335.1h4.3v3.8h-4.3zM1413.6 335.1h4.3v3.8h-4.3zM1426.5 335.1h4.3v3.8h-4.3zM1430.8 335.1h4.3v3.8h-4.3zM514.5 338.9h4.3v3.8h-4.3zM553 338.9h4.3v3.8h-4.3zM681.5 338.9h4.3v3.8h-4.3zM737.1 338.9h8.6v3.8h-8.6zM844.2 338.9h4.3v3.8h-4.3zM895.6 338.9h4.3v3.8h-4.3zM904.1 338.9h8.6v3.8h-8.6zM1071.1 338.9h4.3v3.8h-4.3zM1131.1 338.9h4.3v3.8h-4.3zM1238.1 338.9h4.3v3.8h-4.3zM1272.3 338.9h4.3v3.8h-4.3zM1319.4 338.9h4.3v3.8h-4.3zM1336.6 338.9h8.6v3.8h-8.6zM1358 338.9h4.3v3.8h-4.3zM1452.2 338.9h4.3v3.8h-4.3zM394.6 342.6h4.3v3.8h-4.3zM510.2 342.6h4.3v3.8h-4.3zM565.9 342.6h4.3v3.8h-4.3zM574.4 342.6h8.6v3.8h-8.6zM583 342.6h8.6v3.8h-8.6zM668.6 342.6h8.6v3.8h-8.6zM758.5 342.6h8.6v3.8h-8.6zM835.6 342.6h4.3v3.8h-4.3zM904.1 342.6h8.6v3.8h-8.6zM917 342.6h4.3v3.8h-4.3zM951.2 342.6h4.3v3.8h-4.3zM968.3 342.6h4.3v3.8h-4.3zM1079.7 342.6h4.3v3.8h-4.3zM1122.5 342.6h8.6v3.8h-8.6zM1216.7 342.6h4.3v3.8h-4.3zM1229.5 342.6h4.3v3.8h-4.3zM1289.5 342.6h8.6v3.8h-8.6zM1383.7 342.6h4.3v3.8h-4.3zM1405.1 342.6h4.3v3.8h-4.3zM1409.4 342.6h4.3v3.8h-4.3zM463.1 346.4h4.3v3.8h-4.3zM480.2 346.4h4.3v3.8h-4.3zM570.2 346.4h8.6v3.8h-8.6zM694.3 346.4h4.3v3.8h-4.3zM745.7 346.4h4.3v3.8h-4.3zM822.8 346.4h8.6v3.8h-8.6zM848.5 346.4h8.6v3.8h-8.6zM882.7 346.4h4.3v3.8h-4.3zM955.5 346.4h8.6v3.8h-8.6zM1049.7 346.4h4.3v3.8h-4.3zM1079.7 346.4h8.6v3.8h-8.6zM1169.6 346.4h8.6v3.8h-8.6zM1229.5 346.4h4.3v3.8h-4.3zM1259.5 346.4h4.3v3.8h-4.3zM1276.6 346.4h4.3v3.8h-4.3zM1400.8 346.4h4.3v3.8h-4.3zM420.3 350.2h4.3v3.8h-4.3zM424.6 350.2h8.6v3.8h-8.6zM544.5 350.2h4.3v3.8h-4.3zM647.2 350.2h4.3v3.8h-4.3zM839.9 350.2h8.6v3.8h-8.6zM857 350.2h8.6v3.8h-8.6zM921.2 350.2h4.3v3.8h-4.3zM1036.9 350.2h4.3v3.8h-4.3zM1113.9 350.2h4.3v3.8h-4.3zM1208.1 350.2h8.6v3.8h-8.6zM1225.2 350.2h4.3v3.8h-4.3zM1276.6 350.2h8.6v3.8h-8.6zM1366.5 350.2h4.3v3.8h-4.3zM407.5 353.9h4.3v3.8h-4.3zM608.7 353.9h4.3v3.8h-4.3zM617.3 353.9h4.3v3.8h-4.3zM668.6 353.9h4.3v3.8h-4.3zM720 353.9h4.3v3.8h-4.3zM775.7 353.9h8.6v3.8h-8.6zM814.2 353.9h8.6v3.8h-8.6zM852.7 353.9h8.6v3.8h-8.6zM981.2 353.9h8.6v3.8h-8.6zM1075.4 353.9h4.3v3.8h-4.3zM1191 353.9h4.3v3.8h-4.3zM1225.2 353.9h8.6v3.8h-8.6zM1285.2 353.9h4.3v3.8h-4.3zM1332.3 353.9h4.3v3.8h-4.3zM1336.6 353.9h8.6v3.8h-8.6zM1366.5 353.9h8.6v3.8h-8.6zM1456.5 353.9h8.6v3.8h-8.6zM420.3 357.7h4.3v3.8h-4.3zM484.5 357.7h4.3v3.8h-4.3zM553 357.7h4.3v3.8h-4.3zM570.2 357.7h4.3v3.8h-4.3zM574.4 357.7h4.3v3.8h-4.3zM578.7 357.7h4.3v3.8h-4.3zM600.1 357.7h4.3v3.8h-4.3zM613 357.7h4.3v3.8h-4.3zM642.9 357.7h4.3v3.8h-4.3zM651.5 357.7h8.6v3.8h-8.6zM664.4 357.7h8.6v3.8h-8.6zM711.4 357.7h4.3v3.8h-4.3zM805.6 357.7h4.3v3.8h-4.3zM874.2 357.7h4.3v3.8h-4.3zM912.7 357.7h4.3v3.8h-4.3zM925.5 357.7h8.6v3.8h-8.6zM985.5 357.7h4.3v3.8h-4.3zM1113.9 357.7h8.6v3.8h-8.6zM1122.5 357.7h4.3v3.8h-4.3zM1148.2 357.7h4.3v3.8h-4.3zM1221 357.7h4.3v3.8h-4.3zM1250.9 357.7h4.3v3.8h-4.3zM1328 357.7h8.6v3.8h-8.6zM1392.2 357.7h8.6v3.8h-8.6zM1456.5 357.7h4.3v3.8h-4.3zM527.3 361.4h8.6v3.8h-8.6zM621.5 361.4h8.6v3.8h-8.6zM672.9 361.4h4.3v3.8h-4.3zM857 361.4h4.3v3.8h-4.3zM964.1 361.4h4.3v3.8h-4.3zM1002.6 361.4h8.6v3.8h-8.6zM1092.5 361.4h4.3v3.8h-4.3zM1152.5 361.4h4.3v3.8h-4.3zM1156.7 361.4h4.3v3.8h-4.3zM1216.7 361.4h4.3v3.8h-4.3zM1255.2 361.4h4.3v3.8h-4.3zM1306.6 361.4h8.6v3.8h-8.6zM1409.4 361.4h4.3v3.8h-4.3zM1413.6 361.4h4.3v3.8h-4.3zM394.6 365.2h4.3v3.8h-4.3zM403.2 365.2h8.6v3.8h-8.6zM450.3 365.2h8.6v3.8h-8.6zM467.4 365.2h4.3v3.8h-4.3zM565.9 365.2h8.6v3.8h-8.6zM642.9 365.2h8.6v3.8h-8.6zM737.1 365.2h4.3v3.8h-4.3zM771.4 365.2h8.6v3.8h-8.6zM921.2 365.2h4.3v3.8h-4.3zM951.2 365.2h4.3v3.8h-4.3zM955.5 365.2h4.3v3.8h-4.3zM1036.9 365.2h8.6v3.8h-8.6zM1178.1 365.2h4.3v3.8h-4.3zM1203.8 365.2h8.6v3.8h-8.6zM1263.8 365.2h8.6v3.8h-8.6zM1276.6 365.2h8.6v3.8h-8.6zM1332.3 365.2h8.6v3.8h-8.6zM1430.8 365.2h4.3v3.8h-4.3zM510.2 369h4.3v3.8h-4.3zM600.1 369h4.3v3.8h-4.3zM642.9 369h4.3v3.8h-4.3zM651.5 369h4.3v3.8h-4.3zM672.9 369h4.3v3.8h-4.3zM805.6 369h4.3v3.8h-4.3zM895.6 369h8.6v3.8h-8.6zM917 369h4.3v3.8h-4.3zM929.8 369h4.3v3.8h-4.3zM1101.1 369h8.6v3.8h-8.6zM1345.1 369h4.3v3.8h-4.3zM1405.1 369h4.3v3.8h-4.3zM505.9 372.7h8.6v3.8h-8.6zM698.6 372.7h8.6v3.8h-8.6zM959.8 372.7h4.3v3.8h-4.3zM964.1 372.7h8.6v3.8h-8.6zM1084 372.7h8.6v3.8h-8.6zM1186.7 372.7h8.6v3.8h-8.6zM1349.4 372.7h4.3v3.8h-4.3zM887 376.5h4.3v3.8h-4.3zM895.6 376.5h4.3v3.8h-4.3zM929.8 376.5h8.6v3.8h-8.6zM1011.2 376.5h8.6v3.8h-8.6zM955.5 380.2h4.3v3.8h-4.3zM1178.1 380.2h4.3v3.8h-4.3zM403.2 439.2h8.6v5.2h-8.6zM613 444.4h4.3v5.2h-4.3zM1426.5 444.4h4.3v5.2h-4.3zM505.9 449.6h4.3v5.2h-4.3zM531.6 449.6h8.6v5.2h-8.6zM630.1 449.6h4.3v5.2h-4.3zM707.2 449.6h8.6v5.2h-8.6zM750 449.6h4.3v5.2h-4.3zM797.1 449.6h8.6v5.2h-8.6zM831.3 449.6h4.3v5.2h-4.3zM869.9 449.6h4.3v5.2h-4.3zM1032.6 449.6h4.3v5.2h-4.3zM1268.1 449.6h8.6v5.2h-8.6zM1280.9 449.6h8.6v5.2h-8.6zM1310.9 449.6h4.3v5.2h-4.3zM424.6 454.8h4.3v5.2h-4.3zM600.1 454.8h4.3v5.2h-4.3zM797.1 454.8h4.3v5.2h-4.3zM801.4 454.8h4.3v5.2h-4.3zM882.7 454.8h8.6v5.2h-8.6zM968.3 454.8h4.3v5.2h-4.3zM1054 454.8h4.3v5.2h-4.3zM1079.7 454.8h8.6v5.2h-8.6zM1109.6 454.8h4.3v5.2h-4.3zM1298 454.8h8.6v5.2h-8.6zM1413.6 454.8h4.3v5.2h-4.3zM450.3 460h4.3v5.2h-4.3zM458.8 460h4.3v5.2h-4.3zM651.5 460h4.3v5.2h-4.3zM685.8 460h4.3v5.2h-4.3zM904.1 460h4.3v5.2h-4.3zM1028.3 460h8.6v5.2h-8.6zM1105.4 460h4.3v5.2h-4.3zM1139.6 460h8.6v5.2h-8.6zM1178.1 460h4.3v5.2h-4.3zM1186.7 460h4.3v5.2h-4.3zM1216.7 460h8.6v5.2h-8.6zM1238.1 460h4.3v5.2h-4.3zM1268.1 460h4.3v5.2h-4.3zM398.9 465.2h4.3v5.2h-4.3zM630.1 465.2h4.3v5.2h-4.3zM809.9 465.2h4.3v5.2h-4.3zM878.4 465.2h8.6v5.2h-8.6zM1182.4 465.2h4.3v5.2h-4.3zM1216.7 465.2h4.3v5.2h-4.3zM1221 465.2h8.6v5.2h-8.6zM1460.7 465.2h4.3v5.2h-4.3z"/>
<path fill="#0d4ef4" d="M411.7 331.4h8.6v3.8h-8.6zM441.7 331.4h4.3v3.8h-4.3zM792.8 331.4h8.6v3.8h-8.6zM839.9 331.4h4.3v3.8h-4.3zM852.7 331.4h4.3v3.8h-4.3zM955.5 331.4h8.6v3.8h-8.6zM1054 331.4h8.6v3.8h-8.6zM1229.5 331.4h4.3v3.8h-4.3zM407.5 335.1h4.3v3.8h-4.3zM437.4 335.1h4.3v3.8h-4.3zM450.3 335.1h4.3v3.8h-4.3zM497.4 335.1h4.3v3.8h-4.3zM570.2 335.1h4.3v3.8h-4.3zM578.7 335.1h4.3v3.8h-4.3zM600.1 335.1h4.3v3.8h-4.3zM651.5 335.1h4.3v3.8h-4.3zM707.2 335.1h4.3v3.8h-4.3zM814.2 335.1h8.6v3.8h-8.6zM839.9 335.1h4.3v3.8h-4.3zM857 335.1h4.3v3.8h-4.3zM882.7 335.1h8.6v3.8h-8.6zM904.1 335.1h8.6v3.8h-8.6zM1028.3 335.1h4.3v3.8h-4.3zM1066.8 335.1h4.3v3.8h-4.3zM1242.4 335.1h4.3v3.8h-4.3zM1323.7 335.1h4.3v3.8h-4.3zM1328 335.1h4.3v3.8h-4.3zM1456.5 335.1h8.6v3.8h-8.6zM373.2 338.9h8.6v3.8h-8.6zM407.5 338.9h4.3v3.8h-4.3zM446 338.9h4.3v3.8h-4.3zM476 338.9h8.6v3.8h-8.6zM630.1 338.9h4.3v3.8h-4.3zM732.9 338.9h4.3v3.8h-4.3zM938.4 338.9h8.6v3.8h-8.6zM1182.4 338.9h8.6v3.8h-8.6zM1285.2 338.9h4.3v3.8h-4.3zM1310.9 338.9h4.3v3.8h-4.3zM1345.1 338.9h8.6v3.8h-8.6zM1392.2 338.9h8.6v3.8h-8.6zM1409.4 338.9h8.6v3.8h-8.6zM1465 338.9h4.3v3.8h-4.3zM377.5 342.6h4.3v3.8h-4.3zM617.3 342.6h8.6v3.8h-8.6zM664.4 342.6h4.3v3.8h-4.3zM929.8 342.6h8.6v3.8h-8.6zM1006.9 342.6h4.3v3.8h-4.3zM1084 342.6h4.3v3.8h-4.3zM1203.8 342.6h8.6v3.8h-8.6zM1225.2 342.6h4.3v3.8h-4.3zM1233.8 342.6h8.6v3.8h-8.6zM1298 342.6h4.3v3.8h-4.3zM1323.7 342.6h4.3v3.8h-4.3zM1349.4 342.6h4.3v3.8h-4.3zM1353.7 342.6h4.3v3.8h-4.3zM1358 342.6h4.3v3.8h-4.3zM1413.6 342.6h4.3v3.8h-4.3zM446 346.4h4.3v3.8h-4.3zM501.6 346.4h4.3v3.8h-4.3zM505.9 346.4h4.3v3.8h-4.3zM527.3 346.4h4.3v3.8h-4.3zM557.3 346.4h4.3v3.8h-4.3zM638.7 346.4h4.3v3.8h-4.3zM685.8 346.4h4.3v3.8h-4.3zM737.1 346.4h4.3v3.8h-4.3zM754.3 346.4h4.3v3.8h-4.3zM929.8 346.4h4.3v3.8h-4.3zM994 346.4h4.3v3.8h-4.3zM1118.2 346.4h8.6v3.8h-8.6zM1135.3 346.4h4.3v3.8h-4.3zM1143.9 346.4h4.3v3.8h-4.3zM1250.9 346.4h8.6v3.8h-8.6zM1370.8 346.4h4.3v3.8h-4.3zM1383.7 346.4h4.3v3.8h-4.3zM403.2 350.2h4.3v3.8h-4.3zM441.7 350.2h4.3v3.8h-4.3zM458.8 350.2h8.6v3.8h-8.6zM510.2 350.2h4.3v3.8h-4.3zM557.3 350.2h4.3v3.8h-4.3zM758.5 350.2h4.3v3.8h-4.3zM762.8 350.2h4.3v3.8h-4.3zM784.2 350.2h4.3v3.8h-4.3zM805.6 350.2h8.6v3.8h-8.6zM822.8 350.2h8.6v3.8h-8.6zM938.4 350.2h4.3v3.8h-4.3zM981.2 350.2h8.6v3.8h-8.6zM1015.4 350.2h8.6v3.8h-8.6zM1041.1 350.2h8.6v3.8h-8.6zM1139.6 350.2h8.6v3.8h-8.6zM1186.7 350.2h8.6v3.8h-8.6zM1195.3 350.2h4.3v3.8h-4.3zM1323.7 350.2h8.6v3.8h-8.6zM1362.3 350.2h4.3v3.8h-4.3zM428.9 353.9h4.3v3.8h-4.3zM437.4 353.9h4.3v3.8h-4.3zM625.8 353.9h4.3v3.8h-4.3zM707.2 353.9h4.3v3.8h-4.3zM728.6 353.9h8.6v3.8h-8.6zM801.4 353.9h8.6v3.8h-8.6zM887 353.9h4.3v3.8h-4.3zM904.1 353.9h8.6v3.8h-8.6zM989.8 353.9h4.3v3.8h-4.3zM1036.9 353.9h8.6v3.8h-8.6zM1096.8 353.9h4.3v3.8h-4.3zM1148.2 353.9h4.3v3.8h-4.3zM1173.9 353.9h4.3v3.8h-4.3zM1289.5 353.9h8.6v3.8h-8.6zM1298 353.9h8.6v3.8h-8.6zM1306.6 353.9h8.6v3.8h-8.6zM1323.7 353.9h8.6v3.8h-8.6zM1413.6 353.9h4.3v3.8h-4.3zM587.3 357.7h4.3v3.8h-4.3zM792.8 357.7h4.3v3.8h-4.3zM797.1 357.7h8.6v3.8h-8.6zM852.7 357.7h4.3v3.8h-4.3zM959.8 357.7h8.6v3.8h-8.6zM981.2 357.7h4.3v3.8h-4.3zM1024 357.7h4.3v3.8h-4.3zM1139.6 357.7h8.6v3.8h-8.6zM1216.7 357.7h4.3v3.8h-4.3zM1246.7 357.7h4.3v3.8h-4.3zM1310.9 357.7h8.6v3.8h-8.6zM1435 357.7h8.6v3.8h-8.6zM1447.9 357.7h8.6v3.8h-8.6zM446 361.4h8.6v3.8h-8.6zM467.4 361.4h8.6v3.8h-8.6zM523.1 361.4h4.3v3.8h-4.3zM544.5 361.4h4.3v3.8h-4.3zM591.6 361.4h4.3v3.8h-4.3zM617.3 361.4h4.3v3.8h-4.3zM685.8 361.4h4.3v3.8h-4.3zM750 361.4h4.3v3.8h-4.3zM758.5 361.4h4.3v3.8h-4.3zM814.2 361.4h4.3v3.8h-4.3zM827.1 361.4h4.3v3.8h-4.3zM887 361.4h4.3v3.8h-4.3zM951.2 361.4h8.6v3.8h-8.6zM1011.2 361.4h4.3v3.8h-4.3zM1015.4 361.4h8.6v3.8h-8.6zM1062.5 361.4h4.3v3.8h-4.3zM1118.2 361.4h8.6v3.8h-8.6zM1139.6 361.4h4.3v3.8h-4.3zM1238.1 361.4h4.3v3.8h-4.3zM1358 361.4h8.6v3.8h-8.6zM1460.7 361.4h8.6v3.8h-8.6zM471.7 365.2h4.3v3.8h-4.3zM480.2 365.2h4.3v3.8h-4.3zM493.1 365.2h8.6v3.8h-8.6zM518.8 365.2h4.3v3.8h-4.3zM548.7 365.2h4.3v3.8h-4.3zM561.6 365.2h4.3v3.8h-4.3zM707.2 365.2h8.6v3.8h-8.6zM750 365.2h4.3v3.8h-4.3zM762.8 365.2h8.6v3.8h-8.6zM788.5 365.2h4.3v3.8h-4.3zM844.2 365.2h4.3v3.8h-4.3zM912.7 365.2h8.6v3.8h-8.6zM1173.9 365.2h4.3v3.8h-4.3zM1186.7 365.2h4.3v3.8h-4.3zM1216.7 365.2h4.3v3.8h-4.3zM1229.5 365.2h4.3v3.8h-4.3zM1340.9 365.2h8.6v3.8h-8.6zM1400.8 365.2h8.6v3.8h-8.6zM1435 365.2h4.3v3.8h-4.3zM1460.7 365.2h4.3v3.8h-4.3zM557.3 369h4.3v3.8h-4.3zM608.7 369h8.6v3.8h-8.6zM677.2 369h4.3v3.8h-4.3zM711.4 369h8.6v3.8h-8.6zM728.6 369h8.6v3.8h-8.6zM758.5 369h8.6v3.8h-8.6zM775.7 369h8.6v3.8h-8.6zM797.1 369h4.3v3.8h-4.3zM848.5 369h4.3v3.8h-4.3zM865.6 369h8.6v3.8h-8.6zM887 369h4.3v3.8h-4.3zM908.4 369h4.3v3.8h-4.3zM921.2 369h4.3v3.8h-4.3zM934.1 369h4.3v3.8h-4.3zM1259.5 369h4.3v3.8h-4.3zM1336.6 369h4.3v3.8h-4.3zM398.9 372.7h4.3v3.8h-4.3zM707.2 372.7h4.3v3.8h-4.3zM711.4 372.7h8.6v3.8h-8.6zM762.8 372.7h8.6v3.8h-8.6zM848.5 372.7h4.3v3.8h-4.3zM904.1 372.7h4.3v3.8h-4.3zM1036.9 372.7h4.3v3.8h-4.3zM1062.5 372.7h4.3v3.8h-4.3zM1113.9 372.7h4.3v3.8h-4.3zM505.9 376.5h8.6v3.8h-8.6zM702.9 376.5h4.3v3.8h-4.3zM732.9 376.5h4.3v3.8h-4.3zM754.3 376.5h8.6v3.8h-8.6zM818.5 376.5h4.3v3.8h-4.3zM869.9 376.5h8.6v3.8h-8.6zM998.3 376.5h4.3v3.8h-4.3zM1002.6 376.5h8.6v3.8h-8.6zM1066.8 376.5h4.3v3.8h-4.3zM1452.2 376.5h8.6v3.8h-8.6zM724.3 380.2h8.6v3.8h-8.6zM741.4 380.2h4.3v3.8h-4.3zM788.5 380.2h8.6v3.8h-8.6zM797.1 380.2h4.3v3.8h-4.3zM839.9 380.2h4.3v3.8h-4.3zM972.6 380.2h8.6v3.8h-8.6zM1045.4 380.2h4.3v3.8h-4.3zM968.3 384h4.3v3.8h-4.3zM1075.4 384h4.3v3.8h-4.3zM1062.5 387.8h4.3v3.8h-4.3zM600.1 391.5h4.3v3.8h-4.3zM758.5 395.3h4.3v3.8h-4.3zM702.9 399h4.3v3.8h-4.3zM1092.5 402.8h4.3v5.2h-4.3zM1118.2 402.8h4.3v5.2h-4.3zM1161 408h4.3v5.2h-4.3zM553 444.4h4.3v5.2h-4.3zM792.8 444.4h8.6v5.2h-8.6zM964.1 444.4h4.3v5.2h-4.3zM1135.3 444.4h8.6v5.2h-8.6zM1280.9 444.4h8.6v5.2h-8.6zM381.8 449.6h4.3v5.2h-4.3zM454.6 449.6h4.3v5.2h-4.3zM642.9 449.6h4.3v5.2h-4.3zM724.3 449.6h8.6v5.2h-8.6zM784.2 449.6h4.3v5.2h-4.3zM964.1 449.6h8.6v5.2h-8.6zM998.3 449.6h4.3v5.2h-4.3zM1015.4 449.6h8.6v5.2h-8.6zM1152.5 449.6h4.3v5.2h-4.3zM1221 449.6h4.3v5.2h-4.3zM1225.2 449.6h8.6v5.2h-8.6zM1293.8 449.6h8.6v5.2h-8.6zM1430.8 449.6h4.3v5.2h-4.3zM1435 449.6h4.3v5.2h-4.3zM416 454.8h4.3v5.2h-4.3zM514.5 454.8h8.6v5.2h-8.6zM660.1 454.8h8.6v5.2h-8.6zM784.2 454.8h4.3v5.2h-4.3zM921.2 454.8h4.3v5.2h-4.3zM942.7 454.8h4.3v5.2h-4.3zM1011.2 454.8h8.6v5.2h-8.6zM1028.3 454.8h8.6v5.2h-8.6zM1173.9 454.8h4.3v5.2h-4.3zM1191 454.8h4.3v5.2h-4.3zM1199.6 454.8h4.3v5.2h-4.3zM1289.5 454.8h8.6v5.2h-8.6zM1328 454.8h4.3v5.2h-4.3zM1349.4 454.8h4.3v5.2h-4.3zM1465 454.8h4.3v5.2h-4.3zM411.7 460h4.3v5.2h-4.3zM617.3 460h4.3v5.2h-4.3zM732.9 460h4.3v5.2h-4.3zM895.6 460h8.6v5.2h-8.6zM934.1 460h4.3v5.2h-4.3zM946.9 460h8.6v5.2h-8.6zM976.9 460h8.6v5.2h-8.6zM985.5 460h4.3v5.2h-4.3zM998.3 460h4.3v5.2h-4.3zM1199.6 460h4.3v5.2h-4.3zM724.3 465.2h4.3v5.2h-4.3zM762.8 465.2h4.3v5.2h-4.3zM805.6 465.2h4.3v5.2h-4.3zM912.7 465.2h4.3v5.2h-4.3zM946.9 465.2h8.6v5.2h-8.6zM994 465.2h4.3v5.2h-4.3zM1084 465.2h4.3v5.2h-4.3zM1126.8 465.2h4.3v5.2h-4.3z"/>
<path fill="#0da2f0" d="M377.5 331.4h4.3v3.8h-4.3zM484.5 331.4h4.3v3.8h-4.3zM587.3 331.4h8.6v3.8h-8.6zM600.1 331.4h4.3v3.8h-4.3zM660.1 331.4h8.6v3.8h-8.6zM780 331.4h4.3v3.8h-4.3zM814.2 331.4h8.6v3.8h-8.6zM1011.2 331.4h8.6v3.8h-8.6zM1233.8 331.4h8.6v3.8h-8.6zM1370.8 331.4h4.3v3.8h-4.3zM441.7 335.1h4.3v3.8h-4.3zM501.6 335.1h8.6v3.8h-8.6zM518.8 335.1h4.3v3.8h-4.3zM780 335.1h4.3v3.8h-4.3zM917 335.1h4.3v3.8h-4.3zM1088.2 335.1h4.3v3.8h-4.3zM1118.2 335.1h8.6v3.8h-8.6zM1131.1 335.1h4.3v3.8h-4.3zM1161 335.1h4.3v3.8h-4.3zM1268.1 335.1h8.6v3.8h-8.6zM1289.5 335.1h4.3v3.8h-4.3zM1375.1 335.1h4.3v3.8h-4.3zM1443.6 335.1h4.3v3.8h-4.3zM467.4 338.9h8.6v3.8h-8.6zM484.5 338.9h4.3v3.8h-4.3zM531.6 338.9h4.3v3.8h-4.3zM570.2 338.9h8.6v3.8h-8.6zM792.8 338.9h4.3v3.8h-4.3zM887 338.9h4.3v3.8h-4.3zM921.2 338.9h4.3v3.8h-4.3zM1161 338.9h8.6v3.8h-8.6zM1276.6 338.9h4.3v3.8h-4.3zM1435 338.9h8.6v3.8h-8.6zM420.3 342.6h4.3v3.8h-4.3zM548.7 342.6h4.3v3.8h-4.3zM595.8 342.6h8.6v3.8h-8.6zM792.8 342.6h4.3v3.8h-4.3zM938.4 342.6h4.3v3.8h-4.3zM942.7 342.6h4.3v3.8h-4.3zM976.9 342.6h4.3v3.8h-4.3zM1028.3 342.6h8.6v3.8h-8.6zM1045.4 342.6h4.3v3.8h-4.3zM1392.2 342.6h4.3v3.8h-4.3zM651.5 346.4h4.3v3.8h-4.3zM655.8 346.4h8.6v3.8h-8.6zM715.7 346.4h4.3v3.8h-4.3zM857 346.4h4.3v3.8h-4.3zM895.6 346.4h4.3v3.8h-4.3zM938.4 346.4h8.6v3.8h-8.6zM946.9 346.4h4.3v3.8h-4.3zM1062.5 346.4h8.6v3.8h-8.6zM1199.6 346.4h4.3v3.8h-4.3zM1263.8 346.4h8.6v3.8h-8.6zM1302.3 346.4h8.6v3.8h-8.6zM1375.1 346.4h4.3v3.8h-4.3zM1447.9 346.4h4.3v3.8h-4.3zM540.2 350.2h4.3v3.8h-4.3zM672.9 350.2h4.3v3.8h-4.3zM732.9 350.2h4.3v3.8h-4.3zM792.8 350.2h8.6v3.8h-8.6zM835.6 350.2h4.3v3.8h-4.3zM976.9 350.2h4.3v3.8h-4.3zM1152.5 350.2h4.3v3.8h-4.3zM1165.3 350.2h4.3v3.8h-4.3zM1169.6 350.2h8.6v3.8h-8.6zM1238.1 350.2h8.6v3.8h-8.6zM1246.7 350.2h4.3v3.8h-4.3zM1255.2 350.2h8.6v3.8h-8.6zM1315.2 350.2h8.6v3.8h-8.6zM1405.1 350.2h4.3v3.8h-4.3zM1430.8 350.2h8.6v3.8h-8.6zM1439.3 350.2h8.6v3.8h-8.6zM1447.9 350.2h8.6v3.8h-8.6zM373.2 353.9h8.6v3.8h-8.6zM441.7 353.9h8.6v3.8h-8.6zM621.5 353.9h4.3v3.8h-4.3zM672.9 353.9h4.3v3.8h-4.3zM702.9 353.9h4.3v3.8h-4.3zM998.3 353.9h8.6v3.8h-8.6zM1019.7 353.9h4.3v3.8h-4.3zM1161 353.9h4.3v3.8h-4.3zM1268.1 353.9h8.6v3.8h-8.6zM1276.6 353.9h4.3v3.8h-4.3zM1387.9 353.9h4.3v3.8h-4.3zM1396.5 353.9h4.3v3.8h-4.3zM398.9 357.7h8.6v3.8h-8.6zM441.7 357.7h4.3v3.8h-4.3zM467.4 357.7h4.3v3.8h-4.3zM540.2 357.7h4.3v3.8h-4.3zM591.6 357.7h8.6v3.8h-8.6zM715.7 357.7h8.6v3.8h-8.6zM741.4 357.7h8.6v3.8h-8.6zM758.5 357.7h4.3v3.8h-4.3zM822.8 357.7h4.3v3.8h-4.3zM972.6 357.7h4.3v3.8h-4.3zM1084 357.7h4.3v3.8h-4.3zM1182.4 357.7h4.3v3.8h-4.3zM1242.4 357.7h4.3v3.8h-4.3zM1259.5 357.7h4.3v3.8h-4.3zM1302.3 357.7h8.6v3.8h-8.6zM1409.4 357.7h8.6v3.8h-8.6zM1417.9 357.7h8.6v3.8h-8.6zM441.7 361.4h4.3v3.8h-4.3zM557.3 361.4h4.3v3.8h-4.3zM681.5 361.4h4.3v3.8h-4.3zM715.7 361.4h4.3v3.8h-4.3zM728.6 361.4h4.3v3.8h-4.3zM771.4 361.4h4.3v3.8h-4.3zM788.5 361.4h4.3v3.8h-4.3zM852.7 361.4h4.3v3.8h-4.3zM938.4 361.4h4.3v3.8h-4.3zM998.3 361.4h4.3v3.8h-4.3zM1054 361.4h8.6v3.8h-8.6zM1161 361.4h4.3v3.8h-4.3zM1195.3 361.4h8.6v3.8h-8.6zM1242.4 361.4h4.3v3.8h-4.3zM1336.6 361.4h8.6v3.8h-8.6zM1345.1 361.4h4.3v3.8h-4.3zM1349.4 361.4h4.3v3.8h-4.3zM1366.5 361.4h4.3v3.8h-4.3zM1383.7 361.4h4.3v3.8h-4.3zM1426.5 361.4h8.6v3.8h-8.6zM1435 361.4h8.6v3.8h-8.6zM411.7 365.2h4.3v3.8h-4.3zM531.6 365.2h8.6v3.8h-8.6zM630.1 365.2h4.3v3.8h-4.3zM638.7 365.2h4.3v3.8h-4.3zM758.5 365.2h4.3v3.8h-4.3zM822.8 365.2h8.6v3.8h-8.6zM835.6 365.2h4.3v3.8h-4.3zM861.3 365.2h4.3v3.8h-4.3zM891.3 365.2h4.3v3.8h-4.3zM904.1 365.2h8.6v3.8h-8.6zM989.8 365.2h8.6v3.8h-8.6zM1054 365.2h8.6v3.8h-8.6zM1113.9 365.2h8.6v3.8h-8.6zM1135.3 365.2h8.6v3.8h-8.6zM1182.4 365.2h4.3v3.8h-4.3zM1238.1 365.2h4.3v3.8h-4.3zM1298 365.2h8.6v3.8h-8.6zM1323.7 365.2h4.3v3.8h-4.3zM1349.4 365.2h8.6v3.8h-8.6zM1366.5 365.2h4.3v3.8h-4.3zM1392.2 365.2h4.3v3.8h-4.3zM1396.5 365.2h4.3v3.8h-4.3zM1422.2 365.2h8.6v3.8h-8.6zM1465 365.2h4.3v3.8h-4.3zM377.5 369h4.3v3.8h-4.3zM386 369h4.3v3.8h-4.3zM394.6 369h4.3v3.8h-4.3zM411.7 369h8.6v3.8h-8.6zM505.9 369h4.3v3.8h-4.3zM621.5 369h8.6v3.8h-8.6zM698.6 369h4.3v3.8h-4.3zM754.3 369h4.3v3.8h-4.3zM788.5 369h8.6v3.8h-8.6zM814.2 369h4.3v3.8h-4.3zM852.7 369h8.6v3.8h-8.6zM942.7 369h4.3v3.8h-4.3zM946.9 369h4.3v3.8h-4.3zM951.2 369h8.6v3.8h-8.6zM989.8 369h4.3v3.8h-4.3zM1075.4 369h8.6v3.8h-8.6zM1186.7 369h4.3v3.8h-4.3zM1233.8 369h4.3v3.8h-4.3zM1276.6 369h8.6v3.8h-8.6zM1392.2 369h8.6v3.8h-8.6zM1400.8 369h4.3v3.8h-4.3zM1465 369h4.3v3.8h-4.3zM416 372.7h8.6v3.8h-8.6zM527.3 372.7h4.3v3.8h-4.3zM587.3 372.7h8.6v3.8h-8.6zM638.7 372.7h4.3v3.8h-4.3zM685.8 372.7h4.3v3.8h-4.3zM754.3 372.7h8.6v3.8h-8.6zM780 372.7h8.6v3.8h-8.6zM989.8 372.7h4.3v3.8h-4.3zM994 372.7h4.3v3.8h-4.3zM1002.6 372.7h4.3v3.8h-4.3zM1156.7 372.7h4.3v3.8h-4.3zM1161 372.7h8.6v3.8h-8.6zM1216.7 372.7h8.6v3.8h-8.6zM1319.4 372.7h4.3v3.8h-4.3zM1323.7 372.7h4.3v3.8h-4.3zM1413.6 372.7h4.3v3.8h-4.3zM647.2 376.5h4.3v3.8h-4.3zM668.6 376.5h8.6v3.8h-8.6zM677.2 376.5h4.3v3.8h-4.3zM698.6 376.5h4.3v3.8h-4.3zM737.1 376.5h4.3v3.8h-4.3zM792.8 376.5h4.3v3.8h-4.3zM814.2 376.5h4.3v3.8h-4.3zM904.1 376.5h4.3v3.8h-4.3zM942.7 376.5h4.3v3.8h-4.3zM964.1 376.5h8.6v3.8h-8.6zM1383.7 376.5h4.3v3.8h-4.3zM373.2 380.2h4.3v3.8h-4.3zM548.7 380.2h4.3v3.8h-4.3zM672.9 380.2h4.3v3.8h-4.3zM745.7 380.2h4.3v3.8h-4.3zM895.6 380.2h4.3v3.8h-4.3zM1139.6 380.2h4.3v3.8h-4.3zM1156.7 380.2h4.3v3.8h-4.3zM1182.4 380.2h4.3v3.8h-4.3zM1195.3 380.2h4.3v3.8h-4.3zM1199.6 380.2h4.3v3.8h-4.3zM1216.7 380.2h4.3v3.8h-4.3zM1233.8 380.2h4.3v3.8h-4.3zM1280.9 380.2h4.3v3.8h-4.3zM1293.8 380.2h4.3v3.8h-4.3zM1366.5 380.2h4.3v3.8h-4.3zM1392.2 380.2h4.3v3.8h-4.3zM1396.5 380.2h4.3v3.8h-4.3zM1452.2 380.2h4.3v3.8h-4.3zM1460.7 380.2h4.3v3.8h-4.3zM441.7 384h4.3v3.8h-4.3zM934.1 384h4.3v3.8h-4.3zM1079.7 384h4.3v3.8h-4.3zM1169.6 384h4.3v3.8h-4.3zM1173.9 384h4.3v3.8h-4.3zM1250.9 384h4.3v3.8h-4.3zM1280.9 384h4.3v3.8h-4.3zM1409.4 384h4.3v3.8h-4.3zM1447.9 384h4.3v3.8h-4.3zM1460.7 384h4.3v3.8h-4.3zM394.6 387.8h4.3v3.8h-4.3zM1015.4 387.8h8.6v3.8h-8.6zM1293.8 387.8h4.3v3.8h-4.3zM741.4 391.5h4.3v3.8h-4.3zM797.1 391.5h4.3v3.8h-4.3zM852.7 391.5h4.3v3.8h-4.3zM994 391.5h4.3v3.8h-4.3zM1122.5 391.5h4.3v3.8h-4.3zM1212.4 391.5h4.3v3.8h-4.3zM1079.7 395.3h4.3v3.8h-4.3zM1409.4 395.3h4.3v3.8h-4.3zM638.7 399h4.3v3.8h-4.3zM1191 399h4.3v3.8h-4.3zM1216.7 399h4.3v3.8h-4.3zM1250.9 399h4.3v3.8h-4.3zM514.5 402.8h4.3v5.2h-4.3zM527.3 402.8h4.3v5.2h-4.3zM822.8 402.8h4.3v5.2h-4.3zM861.3 402.8h4.3v5.2h-4.3zM1139.6 402.8h4.3v5.2h-4.3zM1238.1 402.8h4.3v5.2h-4.3zM1362.3 402.8h4.3v5.2h-4.3zM488.8 408h4.3v5.2h-4.3zM634.4 408h4.3v5.2h-4.3zM1293.8 408h4.3v5.2h-4.3zM458.8 413.2h4.3v5.2h-4.3zM745.7 413.2h4.3v5.2h-4.3zM578.7 418.4h4.3v5.2h-4.3zM694.3 418.4h4.3v5.2h-4.3zM595.8 423.6h4.3v5.2h-4.3zM1182.4 423.6h4.3v5.2h-4.3zM497.4 434h4.3v5.2h-4.3zM745.7 434h4.3v5.2h-4.3zM1409.4 434h4.3v5.2h-4.3zM531.6 439.2h4.3v5.2h-4.3zM848.5 439.2h4.3v5.2h-4.3zM381.8 444.4h4.3v5.2h-4.3zM411.7 444.4h8.6v5.2h-8.6zM463.1 444.4h8.6v5.2h-8.6zM595.8 444.4h4.3v5.2h-4.3zM617.3 444.4h4.3v5.2h-4.3zM720 444.4h4.3v5.2h-4.3zM737.1 444.4h8.6v5.2h-8.6zM775.7 444.4h8.6v5.2h-8.6zM1006.9 444.4h8.6v5.2h-8.6zM1191 444.4h8.6v5.2h-8.6zM1203.8 444.4h4.3v5.2h-4.3zM1242.4 444.4h4.3v5.2h-4.3zM1289.5 444.4h4.3v5.2h-4.3zM1319.4 444.4h4.3v5.2h-4.3zM1430.8 444.4h8.6v5.2h-8.6zM565.9 449.6h8.6v5.2h-8.6zM621.5 449.6h8.6v5.2h-8.6zM664.4 449.6h8.6v5.2h-8.6zM720 449.6h4.3v5.2h-4.3zM809.9 449.6h8.6v5.2h-8.6zM852.7 449.6h4.3v5.2h-4.3zM874.2 449.6h8.6v5.2h-8.6zM904.1 449.6h4.3v5.2h-4.3zM908.4 449.6h4.3v5.2h-4.3zM976.9 449.6h8.6v5.2h-8.6zM1084 449.6h8.6v5.2h-8.6zM1178.1 449.6h4.3v5.2h-4.3zM1246.7 449.6h8.6v5.2h-8.6zM1370.8 449.6h4.3v5.2h-4.3zM454.6 454.8h8.6v5.2h-8.6zM561.6 454.8h4.3v5.2h-4.3zM608.7 454.8h4.3v5.2h-4.3zM638.7 454.8h8.6v5.2h-8.6zM685.8 454.8h4.3v5.2h-4.3zM728.6 454.8h4.3v5.2h-4.3zM857 454.8h8.6v5.2h-8.6zM878.4 454.8h4.3v5.2h-4.3zM934.1 454.8h4.3v5.2h-4.3zM972.6 454.8h4.3v5.2h-4.3zM981.2 454.8h8.6v5.2h-8.6zM1071.1 454.8h4.3v5.2h-4.3zM1152.5 454.8h4.3v5.2h-4.3zM1178.1 454.8h8.6v5.2h-8.6zM1238.1 454.8h8.6v5.2h-8.6zM1246.7 454.8h4.3v5.2h-4.3zM1280.9 454.8h4.3v5.2h-4.3zM1306.6 454.8h4.3v5.2h-4.3zM630.1 460h8.6v5.2h-8.6zM647.2 460h4.3v5.2h-4.3zM938.4 460h8.6v5.2h-8.6zM964.1 460h4.3v5.2h-4.3zM1088.2 460h8.6v5.2h-8.6zM1096.8 460h4.3v5.2h-4.3zM1002.6 465.2h8.6v5.2h-8.6zM1015.4 465.2h8.6v5.2h-8.6zM1122.5 465.2h4.3v5.2h-4.3zM1242.4 465.2h4.3v5.2h-4.3zM1315.2 465.2h4.3v5.2h-4.3zM1396.5 465.2h4.3v5.2h-4.3zM1405.1 465.2h4.3v5.2h-4.3zM1417.9 465.2h4.3v5.2h-4.3zM1439.3 465.2h4.3v5.2h-4.3zM1465 465.2h4.3v5.2h-4.3z"/>
<path fill="#0e6cf2" d="M424.6 331.4h4.3v3.8h-4.3zM510.2 331.4h8.6v3.8h-8.6zM523.1 331.4h4.3v3.8h-4.3zM557.3 331.4h4.3v3.8h-4.3zM574.4 331.4h4.3v3.8h-4.3zM613 331.4h4.3v3.8h-4.3zM672.9 331.4h4.3v3.8h-4.3zM775.7 331.4h4.3v3.8h-4.3zM874.2 331.4h4.3v3.8h-4.3zM891.3 331.4h8.6v3.8h-8.6zM989.8 331.4h4.3v3.8h-4.3zM1066.8 331.4h4.3v3.8h-4.3zM1139.6 331.4h8.6v3.8h-8.6zM1186.7 331.4h8.6v3.8h-8.6zM1289.5 331.4h4.3v3.8h-4.3zM1366.5 331.4h4.3v3.8h-4.3zM1379.4 331.4h8.6v3.8h-8.6zM1456.5 331.4h4.3v3.8h-4.3zM381.8 335.1h4.3v3.8h-4.3zM403.2 335.1h4.3v3.8h-4.3zM458.8 335.1h8.6v3.8h-8.6zM488.8 335.1h4.3v3.8h-4.3zM535.9 335.1h8.6v3.8h-8.6zM544.5 335.1h4.3v3.8h-4.3zM608.7 335.1h8.6v3.8h-8.6zM664.4 335.1h8.6v3.8h-8.6zM694.3 335.1h8.6v3.8h-8.6zM844.2 335.1h8.6v3.8h-8.6zM989.8 335.1h4.3v3.8h-4.3zM1049.7 335.1h4.3v3.8h-4.3zM1229.5 335.1h4.3v3.8h-4.3zM1250.9 335.1h8.6v3.8h-8.6zM1263.8 335.1h4.3v3.8h-4.3zM1276.6 335.1h8.6v3.8h-8.6zM1353.7 335.1h8.6v3.8h-8.6zM1392.2 335.1h4.3v3.8h-4.3zM1422.2 335.1h4.3v3.8h-4.3zM386 338.9h8.6v3.8h-8.6zM403.2 338.9h4.3v3.8h-4.3zM450.3 338.9h8.6v3.8h-8.6zM595.8 338.9h4.3v3.8h-4.3zM638.7 338.9h4.3v3.8h-4.3zM707.2 338.9h4.3v3.8h-4.3zM762.8 338.9h8.6v3.8h-8.6zM775.7 338.9h4.3v3.8h-4.3zM848.5 338.9h4.3v3.8h-4.3zM972.6 338.9h4.3v3.8h-4.3zM1135.3 338.9h4.3v3.8h-4.3zM1169.6 338.9h8.6v3.8h-8.6zM1191 338.9h4.3v3.8h-4.3zM1268.1 338.9h4.3v3.8h-4.3zM1323.7 338.9h4.3v3.8h-4.3zM1379.4 338.9h8.6v3.8h-8.6zM386 342.6h8.6v3.8h-8.6zM398.9 342.6h4.3v3.8h-4.3zM433.1 342.6h4.3v3.8h-4.3zM437.4 342.6h4.3v3.8h-4.3zM467.4 342.6h8.6v3.8h-8.6zM480.2 342.6h4.3v3.8h-4.3zM488.8 342.6h8.6v3.8h-8.6zM505.9 342.6h4.3v3.8h-4.3zM527.3 342.6h8.6v3.8h-8.6zM561.6 342.6h4.3v3.8h-4.3zM690 342.6h4.3v3.8h-4.3zM720 342.6h4.3v3.8h-4.3zM737.1 342.6h4.3v3.8h-4.3zM831.3 342.6h4.3v3.8h-4.3zM874.2 342.6h8.6v3.8h-8.6zM925.5 342.6h4.3v3.8h-4.3zM1011.2 342.6h4.3v3.8h-4.3zM1066.8 342.6h8.6v3.8h-8.6zM1143.9 342.6h4.3v3.8h-4.3zM1169.6 342.6h4.3v3.8h-4.3zM1315.2 342.6h8.6v3.8h-8.6zM1336.6 342.6h8.6v3.8h-8.6zM1426.5 342.6h4.3v3.8h-4.3zM1430.8 342.6h8.6v3.8h-8.6zM1439.3 342.6h4.3v3.8h-4.3zM377.5 346.4h4.3v3.8h-4.3zM458.8 346.4h4.3v3.8h-4.3zM467.4 346.4h4.3v3.8h-4.3zM595.8 346.4h8.6v3.8h-8.6zM625.8 346.4h8.6v3.8h-8.6zM668.6 346.4h4.3v3.8h-4.3zM797.1 346.4h4.3v3.8h-4.3zM908.4 346.4h4.3v3.8h-4.3zM972.6 346.4h8.6v3.8h-8.6zM1126.8 346.4h4.3v3.8h-4.3zM1165.3 346.4h4.3v3.8h-4.3zM1178.1 346.4h4.3v3.8h-4.3zM1298 346.4h4.3v3.8h-4.3zM1405.1 346.4h8.6v3.8h-8.6zM1435 346.4h8.6v3.8h-8.6zM1452.2 346.4h4.3v3.8h-4.3zM373.2 350.2h4.3v3.8h-4.3zM450.3 350.2h4.3v3.8h-4.3zM454.6 350.2h4.3v3.8h-4.3zM613 350.2h8.6v3.8h-8.6zM630.1 350.2h8.6v3.8h-8.6zM664.4 350.2h4.3v3.8h-4.3zM707.2 350.2h4.3v3.8h-4.3zM951.2 350.2h8.6v3.8h-8.6zM1161 350.2h4.3v3.8h-4.3zM1178.1 350.2h4.3v3.8h-4.3zM1182.4 350.2h4.3v3.8h-4.3zM1263.8 350.2h8.6v3.8h-8.6zM1370.8 350.2h8.6v3.8h-8.6zM1383.7 350.2h8.6v3.8h-8.6zM1396.5 350.2h8.6v3.8h-8.6zM1413.6 350.2h4.3v3.8h-4.3zM433.1 353.9h4.3v3.8h-4.3zM458.8 353.9h8.6v3.8h-8.6zM505.9 353.9h8.6v3.8h-8.6zM548.7 353.9h8.6v3.8h-8.6zM570.2 353.9h4.3v3.8h-4.3zM822.8 353.9h8.6v3.8h-8.6zM929.8 353.9h4.3v3.8h-4.3zM1054 353.9h4.3v3.8h-4.3zM1092.5 353.9h4.3v3.8h-4.3zM1345.1 353.9h8.6v3.8h-8.6zM1375.1 353.9h8.6v3.8h-8.6zM1405.1 353.9h8.6v3.8h-8.6zM390.3 357.7h8.6v3.8h-8.6zM407.5 357.7h4.3v3.8h-4.3zM450.3 357.7h4.3v3.8h-4.3zM454.6 357.7h8.6v3.8h-8.6zM488.8 357.7h4.3v3.8h-4.3zM535.9 357.7h4.3v3.8h-4.3zM638.7 357.7h4.3v3.8h-4.3zM647.2 357.7h4.3v3.8h-4.3zM685.8 357.7h4.3v3.8h-4.3zM732.9 357.7h4.3v3.8h-4.3zM878.4 357.7h8.6v3.8h-8.6zM908.4 357.7h4.3v3.8h-4.3zM938.4 357.7h4.3v3.8h-4.3zM1062.5 357.7h4.3v3.8h-4.3zM1066.8 357.7h4.3v3.8h-4.3zM1229.5 357.7h4.3v3.8h-4.3zM1263.8 357.7h4.3v3.8h-4.3zM1276.6 357.7h4.3v3.8h-4.3zM1319.4 357.7h8.6v3.8h-8.6zM1460.7 357.7h4.3v3.8h-4.3zM373.2 361.4h4.3v3.8h-4.3zM428.9 361.4h4.3v3.8h-4.3zM488.8 361.4h4.3v3.8h-4.3zM514.5 361.4h4.3v3.8h-4.3zM565.9 361.4h4.3v3.8h-4.3zM608.7 361.4h4.3v3.8h-4.3zM642.9 361.4h8.6v3.8h-8.6zM655.8 361.4h8.6v3.8h-8.6zM720 361.4h4.3v3.8h-4.3zM835.6 361.4h4.3v3.8h-4.3zM882.7 361.4h4.3v3.8h-4.3zM895.6 361.4h4.3v3.8h-4.3zM929.8 361.4h4.3v3.8h-4.3zM994 361.4h4.3v3.8h-4.3zM1101.1 361.4h8.6v3.8h-8.6zM1131.1 361.4h4.3v3.8h-4.3zM1208.1 361.4h4.3v3.8h-4.3zM1246.7 361.4h4.3v3.8h-4.3zM1250.9 361.4h4.3v3.8h-4.3zM1417.9 361.4h4.3v3.8h-4.3zM398.9 365.2h4.3v3.8h-4.3zM540.2 365.2h8.6v3.8h-8.6zM557.3 365.2h4.3v3.8h-4.3zM574.4 365.2h8.6v3.8h-8.6zM591.6 365.2h8.6v3.8h-8.6zM685.8 365.2h8.6v3.8h-8.6zM732.9 365.2h4.3v3.8h-4.3zM848.5 365.2h8.6v3.8h-8.6zM925.5 365.2h8.6v3.8h-8.6zM934.1 365.2h4.3v3.8h-4.3zM968.3 365.2h4.3v3.8h-4.3zM981.2 365.2h4.3v3.8h-4.3zM1006.9 365.2h8.6v3.8h-8.6zM1148.2 365.2h4.3v3.8h-4.3zM1328 365.2h4.3v3.8h-4.3zM1413.6 365.2h4.3v3.8h-4.3zM446 369h4.3v3.8h-4.3zM501.6 369h4.3v3.8h-4.3zM523.1 369h8.6v3.8h-8.6zM724.3 369h4.3v3.8h-4.3zM809.9 369h4.3v3.8h-4.3zM964.1 369h8.6v3.8h-8.6zM994 369h4.3v3.8h-4.3zM1002.6 369h8.6v3.8h-8.6zM1028.3 369h4.3v3.8h-4.3zM1058.3 369h4.3v3.8h-4.3zM1362.3 369h8.6v3.8h-8.6zM454.6 372.7h8.6v3.8h-8.6zM476 372.7h4.3v3.8h-4.3zM480.2 372.7h8.6v3.8h-8.6zM553 372.7h8.6v3.8h-8.6zM570.2 372.7h8.6v3.8h-8.6zM741.4 372.7h4.3v3.8h-4.3zM745.7 372.7h8.6v3.8h-8.6zM801.4 372.7h8.6v3.8h-8.6zM814.2 372.7h8.6v3.8h-8.6zM917 372.7h4.3v3.8h-4.3zM976.9 372.7h4.3v3.8h-4.3zM1092.5 372.7h4.3v3.8h-4.3zM1182.4 372.7h4.3v3.8h-4.3zM386 376.5h8.6v3.8h-8.6zM664.4 376.5h4.3v3.8h-4.3zM745.7 376.5h8.6v3.8h-8.6zM780 376.5h4.3v3.8h-4.3zM938.4 376.5h4.3v3.8h-4.3zM959.8 376.5h4.3v3.8h-4.3zM972.6 376.5h8.6v3.8h-8.6zM1079.7 376.5h4.3v3.8h-4.3zM844.2 380.2h4.3v3.8h-4.3zM985.5 380.2h8.6v3.8h-8.6zM1041.1 380.2h4.3v3.8h-4.3zM1084 380.2h4.3v3.8h-4.3zM1161 380.2h4.3v3.8h-4.3zM1169.6 380.2h4.3v3.8h-4.3zM1191 380.2h4.3v3.8h-4.3zM1328 380.2h4.3v3.8h-4.3zM1426.5 380.2h4.3v3.8h-4.3zM1456.5 380.2h4.3v3.8h-4.3zM1465 380.2h4.3v3.8h-4.3zM398.9 384h4.3v3.8h-4.3zM750 384h4.3v3.8h-4.3zM998.3 384h8.6v3.8h-8.6zM1336.6 384h4.3v3.8h-4.3zM1396.5 384h4.3v3.8h-4.3zM454.6 387.8h4.3v3.8h-4.3zM861.3 387.8h4.3v3.8h-4.3zM1032.6 387.8h8.6v3.8h-8.6zM518.8 391.5h4.3v3.8h-4.3zM767.1 391.5h4.3v3.8h-4.3zM861.3 391.5h4.3v3.8h-4.3zM1259.5 391.5h4.3v3.8h-4.3zM458.8 395.3h4.3v3.8h-4.3zM484.5 395.3h4.3v3.8h-4.3zM600.1 395.3h4.3v3.8h-4.3zM981.2 395.3h4.3v3.8h-4.3zM1221 395.3h4.3v3.8h-4.3zM1465 395.3h4.3v3.8h-4.3zM758.5 399h4.3v3.8h-4.3zM1101.1 399h4.3v3.8h-4.3zM1375.1 399h4.3v3.8h-4.3zM1443.6 399h4.3v3.8h-4.3zM1465 399h4.3v3.8h-4.3zM373.2 402.8h4.3v5.2h-4.3zM428.9 402.8h4.3v5.2h-4.3zM583 402.8h4.3v5.2h-4.3zM844.2 402.8h4.3v5.2h-4.3zM938.4 402.8h4.3v5.2h-4.3zM1392.2 408h4.3v5.2h-4.3zM411.7 423.6h4.3v5.2h-4.3zM959.8 423.6h4.3v5.2h-4.3zM1122.5 434h4.3v5.2h-4.3zM745.7 439.2h4.3v5.2h-4.3zM818.5 439.2h8.6v5.2h-8.6zM377.5 444.4h4.3v5.2h-4.3zM788.5 444.4h4.3v5.2h-4.3zM1186.7 444.4h4.3v5.2h-4.3zM1221 444.4h4.3v5.2h-4.3zM1302.3 444.4h4.3v5.2h-4.3zM416 449.6h4.3v5.2h-4.3zM437.4 449.6h4.3v5.2h-4.3zM441.7 449.6h8.6v5.2h-8.6zM540.2 449.6h8.6v5.2h-8.6zM677.2 449.6h4.3v5.2h-4.3zM959.8 449.6h4.3v5.2h-4.3zM1024 449.6h4.3v5.2h-4.3zM1092.5 449.6h8.6v5.2h-8.6zM1105.4 449.6h4.3v5.2h-4.3zM1156.7 449.6h4.3v5.2h-4.3zM1186.7 449.6h4.3v5.2h-4.3zM1191 449.6h4.3v5.2h-4.3zM1353.7 449.6h4.3v5.2h-4.3zM1456.5 449.6h4.3v5.2h-4.3zM578.7 454.8h8.6v5.2h-8.6zM681.5 454.8h4.3v5.2h-4.3zM694.3 454.8h8.6v5.2h-8.6zM715.7 454.8h4.3v5.2h-4.3zM732.9 454.8h4.3v5.2h-4.3zM788.5 454.8h8.6v5.2h-8.6zM848.5 454.8h8.6v5.2h-8.6zM1019.7 454.8h8.6v5.2h-8.6zM1139.6 454.8h4.3v5.2h-4.3zM1169.6 454.8h4.3v5.2h-4.3zM1405.1 454.8h4.3v5.2h-4.3zM1456.5 454.8h4.3v5.2h-4.3zM381.8 460h8.6v5.2h-8.6zM463.1 460h4.3v5.2h-4.3zM505.9 460h4.3v5.2h-4.3zM565.9 460h4.3v5.2h-4.3zM702.9 460h4.3v5.2h-4.3zM762.8 460h8.6v5.2h-8.6zM827.1 460h8.6v5.2h-8.6zM955.5 460h8.6v5.2h-8.6zM1011.2 460h8.6v5.2h-8.6zM1409.4 460h4.3v5.2h-4.3zM1413.6 460h8.6v5.2h-8.6zM1456.5 460h4.3v5.2h-4.3zM394.6 465.2h4.3v5.2h-4.3zM416 465.2h4.3v5.2h-4.3zM488.8 465.2h8.6v5.2h-8.6zM561.6 465.2h4.3v5.2h-4.3zM844.2 465.2h4.3v5.2h-4.3zM848.5 465.2h8.6v5.2h-8.6zM1011.2 465.2h4.3v5.2h-4.3zM1041.1 465.2h4.3v5.2h-4.3zM1058.3 465.2h4.3v5.2h-4.3zM1191 465.2h8.6v5.2h-8.6zM1203.8 465.2h4.3v5.2h-4.3zM1246.7 465.2h4.3v5.2h-4.3zM1379.4 465.2h4.3v5.2h-4.3zM1409.4 465.2h4.3v5.2h-4.3zM1452.2 465.2h8.6v5.2h-8.6z"/>
<path fill="#108af0" d="M386 331.4h4.3v3.8h-4.3zM433.1 331.4h4.3v3.8h-4.3zM531.6 331.4h8.6v3.8h-8.6zM583 331.4h4.3v3.8h-4.3zM750 331.4h8.6v3.8h-8.6zM869.9 331.4h4.3v3.8h-4.3zM1242.4 331.4h4.3v3.8h-4.3zM1285.2 331.4h4.3v3.8h-4.3zM1426.5 331.4h8.6v3.8h-8.6zM557.3 335.1h8.6v3.8h-8.6zM595.8 335.1h4.3v3.8h-4.3zM685.8 335.1h4.3v3.8h-4.3zM964.1 335.1h4.3v3.8h-4.3zM972.6 335.1h8.6v3.8h-8.6zM1015.4 335.1h8.6v3.8h-8.6zM1084 335.1h4.3v3.8h-4.3zM1152.5 335.1h8.6v3.8h-8.6zM1169.6 335.1h8.6v3.8h-8.6zM1178.1 335.1h8.6v3.8h-8.6zM1259.5 335.1h4.3v3.8h-4.3zM1370.8 335.1h4.3v3.8h-4.3zM1435 335.1h4.3v3.8h-4.3zM1465 335.1h4.3v3.8h-4.3zM420.3 338.9h4.3v3.8h-4.3zM428.9 338.9h4.3v3.8h-4.3zM587.3 338.9h4.3v3.8h-4.3zM750 338.9h4.3v3.8h-4.3zM874.2 338.9h4.3v3.8h-4.3zM981.2 338.9h8.6v3.8h-8.6zM1019.7 338.9h4.3v3.8h-4.3zM1079.7 338.9h4.3v3.8h-4.3zM1101.1 338.9h4.3v3.8h-4.3zM1118.2 338.9h4.3v3.8h-4.3zM1148.2 338.9h4.3v3.8h-4.3zM1178.1 338.9h4.3v3.8h-4.3zM1242.4 338.9h8.6v3.8h-8.6zM1263.8 338.9h4.3v3.8h-4.3zM1400.8 338.9h8.6v3.8h-8.6zM1447.9 338.9h4.3v3.8h-4.3zM1460.7 338.9h4.3v3.8h-4.3zM424.6 342.6h8.6v3.8h-8.6zM660.1 342.6h4.3v3.8h-4.3zM694.3 342.6h8.6v3.8h-8.6zM750 342.6h8.6v3.8h-8.6zM814.2 342.6h8.6v3.8h-8.6zM869.9 342.6h4.3v3.8h-4.3zM921.2 342.6h4.3v3.8h-4.3zM1049.7 342.6h4.3v3.8h-4.3zM1113.9 342.6h8.6v3.8h-8.6zM1148.2 342.6h4.3v3.8h-4.3zM1362.3 342.6h8.6v3.8h-8.6zM1443.6 342.6h8.6v3.8h-8.6zM411.7 346.4h4.3v3.8h-4.3zM561.6 346.4h4.3v3.8h-4.3zM565.9 346.4h4.3v3.8h-4.3zM642.9 346.4h4.3v3.8h-4.3zM724.3 346.4h4.3v3.8h-4.3zM762.8 346.4h4.3v3.8h-4.3zM865.6 346.4h8.6v3.8h-8.6zM951.2 346.4h4.3v3.8h-4.3zM985.5 346.4h8.6v3.8h-8.6zM1208.1 346.4h4.3v3.8h-4.3zM1242.4 346.4h4.3v3.8h-4.3zM1413.6 346.4h4.3v3.8h-4.3zM394.6 350.2h4.3v3.8h-4.3zM398.9 350.2h4.3v3.8h-4.3zM518.8 350.2h8.6v3.8h-8.6zM548.7 350.2h8.6v3.8h-8.6zM561.6 350.2h4.3v3.8h-4.3zM574.4 350.2h4.3v3.8h-4.3zM604.4 350.2h4.3v3.8h-4.3zM690 350.2h8.6v3.8h-8.6zM874.2 350.2h4.3v3.8h-4.3zM1054 350.2h4.3v3.8h-4.3zM1122.5 350.2h4.3v3.8h-4.3zM1285.2 350.2h8.6v3.8h-8.6zM1353.7 350.2h4.3v3.8h-4.3zM1417.9 350.2h4.3v3.8h-4.3zM386 353.9h8.6v3.8h-8.6zM467.4 353.9h4.3v3.8h-4.3zM471.7 353.9h8.6v3.8h-8.6zM480.2 353.9h4.3v3.8h-4.3zM493.1 353.9h4.3v3.8h-4.3zM591.6 353.9h4.3v3.8h-4.3zM762.8 353.9h4.3v3.8h-4.3zM912.7 353.9h8.6v3.8h-8.6zM921.2 353.9h4.3v3.8h-4.3zM925.5 353.9h4.3v3.8h-4.3zM1105.4 353.9h8.6v3.8h-8.6zM1199.6 353.9h8.6v3.8h-8.6zM1212.4 353.9h8.6v3.8h-8.6zM1417.9 353.9h8.6v3.8h-8.6zM1452.2 353.9h4.3v3.8h-4.3zM377.5 357.7h4.3v3.8h-4.3zM501.6 357.7h4.3v3.8h-4.3zM523.1 357.7h4.3v3.8h-4.3zM527.3 357.7h8.6v3.8h-8.6zM617.3 357.7h4.3v3.8h-4.3zM634.4 357.7h4.3v3.8h-4.3zM677.2 357.7h8.6v3.8h-8.6zM690 357.7h4.3v3.8h-4.3zM702.9 357.7h8.6v3.8h-8.6zM775.7 357.7h4.3v3.8h-4.3zM891.3 357.7h8.6v3.8h-8.6zM946.9 357.7h4.3v3.8h-4.3zM1049.7 357.7h4.3v3.8h-4.3zM1075.4 357.7h8.6v3.8h-8.6zM1152.5 357.7h8.6v3.8h-8.6zM1272.3 357.7h4.3v3.8h-4.3zM1280.9 357.7h8.6v3.8h-8.6zM1293.8 357.7h4.3v3.8h-4.3zM1379.4 357.7h8.6v3.8h-8.6zM1400.8 357.7h8.6v3.8h-8.6zM433.1 361.4h8.6v3.8h-8.6zM583 361.4h8.6v3.8h-8.6zM595.8 361.4h4.3v3.8h-4.3zM634.4 361.4h4.3v3.8h-4.3zM792.8 361.4h4.3v3.8h-4.3zM801.4 361.4h8.6v3.8h-8.6zM869.9 361.4h4.3v3.8h-4.3zM908.4 361.4h4.3v3.8h-4.3zM917 361.4h4.3v3.8h-4.3zM976.9 361.4h4.3v3.8h-4.3zM1028.3 361.4h4.3v3.8h-4.3zM1032.6 361.4h4.3v3.8h-4.3zM1079.7 361.4h4.3v3.8h-4.3zM1135.3 361.4h4.3v3.8h-4.3zM1165.3 361.4h4.3v3.8h-4.3zM1169.6 361.4h8.6v3.8h-8.6zM1221 361.4h4.3v3.8h-4.3zM1259.5 361.4h8.6v3.8h-8.6zM1272.3 361.4h8.6v3.8h-8.6zM1289.5 361.4h4.3v3.8h-4.3zM1315.2 361.4h4.3v3.8h-4.3zM484.5 365.2h8.6v3.8h-8.6zM523.1 365.2h4.3v3.8h-4.3zM527.3 365.2h4.3v3.8h-4.3zM583 365.2h4.3v3.8h-4.3zM681.5 365.2h4.3v3.8h-4.3zM805.6 365.2h8.6v3.8h-8.6zM887 365.2h4.3v3.8h-4.3zM899.8 365.2h4.3v3.8h-4.3zM1028.3 365.2h4.3v3.8h-4.3zM1084 365.2h4.3v3.8h-4.3zM1156.7 365.2h8.6v3.8h-8.6zM1165.3 365.2h8.6v3.8h-8.6zM1221 365.2h8.6v3.8h-8.6zM1319.4 365.2h4.3v3.8h-4.3zM1370.8 365.2h4.3v3.8h-4.3zM1439.3 365.2h4.3v3.8h-4.3zM1443.6 365.2h8.6v3.8h-8.6zM420.3 369h4.3v3.8h-4.3zM424.6 369h4.3v3.8h-4.3zM458.8 369h8.6v3.8h-8.6zM480.2 369h8.6v3.8h-8.6zM518.8 369h4.3v3.8h-4.3zM540.2 369h8.6v3.8h-8.6zM578.7 369h4.3v3.8h-4.3zM587.3 369h8.6v3.8h-8.6zM604.4 369h4.3v3.8h-4.3zM655.8 369h8.6v3.8h-8.6zM861.3 369h4.3v3.8h-4.3zM1084 369h8.6v3.8h-8.6zM1113.9 369h4.3v3.8h-4.3zM1118.2 369h8.6v3.8h-8.6zM1135.3 369h4.3v3.8h-4.3zM1148.2 369h4.3v3.8h-4.3zM1191 369h8.6v3.8h-8.6zM1250.9 369h4.3v3.8h-4.3zM1430.8 369h4.3v3.8h-4.3zM1435 369h8.6v3.8h-8.6zM775.7 372.7h4.3v3.8h-4.3zM797.1 372.7h4.3v3.8h-4.3zM857 372.7h4.3v3.8h-4.3zM882.7 372.7h8.6v3.8h-8.6zM899.8 372.7h4.3v3.8h-4.3zM1019.7 372.7h4.3v3.8h-4.3zM1049.7 372.7h4.3v3.8h-4.3zM1096.8 372.7h4.3v3.8h-4.3zM1109.6 372.7h4.3v3.8h-4.3zM1447.9 372.7h4.3v3.8h-4.3zM416 376.5h4.3v3.8h-4.3zM557.3 376.5h4.3v3.8h-4.3zM681.5 376.5h4.3v3.8h-4.3zM690 376.5h4.3v3.8h-4.3zM741.4 376.5h4.3v3.8h-4.3zM844.2 376.5h4.3v3.8h-4.3zM865.6 376.5h4.3v3.8h-4.3zM908.4 376.5h8.6v3.8h-8.6zM946.9 376.5h4.3v3.8h-4.3zM951.2 376.5h4.3v3.8h-4.3zM994 376.5h4.3v3.8h-4.3zM1045.4 376.5h8.6v3.8h-8.6zM1054 376.5h4.3v3.8h-4.3zM1233.8 376.5h4.3v3.8h-4.3zM732.9 380.2h4.3v3.8h-4.3zM737.1 380.2h4.3v3.8h-4.3zM946.9 380.2h4.3v3.8h-4.3zM1075.4 380.2h4.3v3.8h-4.3zM1092.5 380.2h8.6v3.8h-8.6zM1135.3 380.2h4.3v3.8h-4.3zM1148.2 380.2h4.3v3.8h-4.3zM1165.3 380.2h4.3v3.8h-4.3zM1186.7 380.2h4.3v3.8h-4.3zM1242.4 380.2h4.3v3.8h-4.3zM1259.5 380.2h4.3v3.8h-4.3zM1289.5 380.2h4.3v3.8h-4.3zM1310.9 380.2h4.3v3.8h-4.3zM1345.1 380.2h4.3v3.8h-4.3zM1353.7 380.2h4.3v3.8h-4.3zM1358 380.2h4.3v3.8h-4.3zM1430.8 380.2h4.3v3.8h-4.3zM1443.6 380.2h4.3v3.8h-4.3zM377.5 384h4.3v3.8h-4.3zM446 384h4.3v3.8h-4.3zM711.4 384h8.6v3.8h-8.6zM728.6 384h8.6v3.8h-8.6zM865.6 384h4.3v3.8h-4.3zM929.8 384h4.3v3.8h-4.3zM809.9 387.8h8.6v3.8h-8.6zM441.7 391.5h4.3v3.8h-4.3zM463.1 391.5h4.3v3.8h-4.3zM690 391.5h4.3v3.8h-4.3zM891.3 391.5h4.3v3.8h-4.3zM407.5 395.3h4.3v3.8h-4.3zM724.3 395.3h4.3v3.8h-4.3zM767.1 395.3h4.3v3.8h-4.3zM1032.6 395.3h4.3v3.8h-4.3zM1092.5 395.3h4.3v3.8h-4.3zM1345.1 395.3h4.3v3.8h-4.3zM1392.2 395.3h4.3v3.8h-4.3zM1452.2 395.3h4.3v3.8h-4.3zM381.8 399h4.3v3.8h-4.3zM420.3 399h4.3v3.8h-4.3zM437.4 399h4.3v3.8h-4.3zM587.3 399h4.3v3.8h-4.3zM938.4 399h4.3v3.8h-4.3zM1379.4 399h4.3v3.8h-4.3zM493.1 402.8h4.3v5.2h-4.3zM869.9 402.8h4.3v5.2h-4.3zM934.1 402.8h4.3v5.2h-4.3zM1345.1 402.8h4.3v5.2h-4.3zM1387.9 402.8h4.3v5.2h-4.3zM484.5 408h4.3v5.2h-4.3zM655.8 408h4.3v5.2h-4.3zM1028.3 413.2h4.3v5.2h-4.3zM865.6 418.4h4.3v5.2h-4.3zM373.2 423.6h4.3v5.2h-4.3zM758.5 423.6h4.3v5.2h-4.3zM1169.6 423.6h4.3v5.2h-4.3zM1028.3 428.8h4.3v5.2h-4.3zM1298 428.8h4.3v5.2h-4.3zM1169.6 434h4.3v5.2h-4.3zM446 439.2h4.3v5.2h-4.3zM518.8 439.2h4.3v5.2h-4.3zM634.4 439.2h4.3v5.2h-4.3zM638.7 444.4h4.3v5.2h-4.3zM690 444.4h4.3v5.2h-4.3zM715.7 444.4h4.3v5.2h-4.3zM724.3 444.4h8.6v5.2h-8.6zM865.6 444.4h8.6v5.2h-8.6zM891.3 444.4h4.3v5.2h-4.3zM1161 444.4h4.3v5.2h-4.3zM1225.2 444.4h8.6v5.2h-8.6zM1353.7 444.4h4.3v5.2h-4.3zM420.3 449.6h4.3v5.2h-4.3zM467.4 449.6h4.3v5.2h-4.3zM613 449.6h8.6v5.2h-8.6zM737.1 449.6h4.3v5.2h-4.3zM805.6 449.6h4.3v5.2h-4.3zM827.1 449.6h4.3v5.2h-4.3zM951.2 449.6h4.3v5.2h-4.3zM985.5 449.6h4.3v5.2h-4.3zM994 449.6h4.3v5.2h-4.3zM1002.6 449.6h4.3v5.2h-4.3zM1006.9 449.6h4.3v5.2h-4.3zM1079.7 449.6h4.3v5.2h-4.3zM1195.3 449.6h4.3v5.2h-4.3zM1208.1 449.6h4.3v5.2h-4.3zM1323.7 449.6h4.3v5.2h-4.3zM1328 449.6h4.3v5.2h-4.3zM1332.3 449.6h4.3v5.2h-4.3zM1375.1 449.6h4.3v5.2h-4.3zM1422.2 449.6h4.3v5.2h-4.3zM1443.6 449.6h4.3v5.2h-4.3zM1465 449.6h4.3v5.2h-4.3zM437.4 454.8h4.3v5.2h-4.3zM488.8 454.8h4.3v5.2h-4.3zM574.4 454.8h4.3v5.2h-4.3zM604.4 454.8h4.3v5.2h-4.3zM613 454.8h8.6v5.2h-8.6zM702.9 454.8h8.6v5.2h-8.6zM750 454.8h8.6v5.2h-8.6zM805.6 454.8h4.3v5.2h-4.3zM1045.4 454.8h4.3v5.2h-4.3zM1203.8 454.8h8.6v5.2h-8.6zM1336.6 454.8h4.3v5.2h-4.3zM1358 454.8h8.6v5.2h-8.6zM1430.8 454.8h4.3v5.2h-4.3zM1443.6 454.8h4.3v5.2h-4.3zM784.2 460h8.6v5.2h-8.6zM1045.4 460h4.3v5.2h-4.3zM1255.2 460h4.3v5.2h-4.3zM553 465.2h8.6v5.2h-8.6zM869.9 465.2h4.3v5.2h-4.3zM1062.5 465.2h4.3v5.2h-4.3zM1161 465.2h4.3v5.2h-4.3zM1173.9 465.2h8.6v5.2h-8.6zM1255.2 465.2h4.3v5.2h-4.3zM1285.2 465.2h8.6v5.2h-8.6zM1336.6 465.2h8.6v5.2h-8.6zM1366.5 465.2h8.6v5.2h-8.6z"/>
<path fill="#12e90e" d="M1268.1 369h4.3v3.8h-4.3zM1173.9 372.7h4.3v3.8h-4.3zM1276.6 372.7h8.6v3.8h-8.6zM1302.3 372.7h4.3v3.8h-4.3zM398.9 376.5h4.3v3.8h-4.3zM476 376.5h4.3v3.8h-4.3zM1161 376.5h8.6v3.8h-8.6zM1169.6 376.5h8.6v3.8h-8.6zM1319.4 376.5h4.3v3.8h-4.3zM1340.9 376.5h4.3v3.8h-4.3zM1375.1 376.5h4.3v3.8h-4.3zM403.2 380.2h4.3v3.8h-4.3zM428.9 380.2h4.3v3.8h-4.3zM433.1 380.2h4.3v3.8h-4.3zM458.8 380.2h4.3v3.8h-4.3zM501.6 380.2h4.3v3.8h-4.3zM505.9 380.2h4.3v3.8h-4.3zM510.2 380.2h4.3v3.8h-4.3zM591.6 380.2h4.3v3.8h-4.3zM822.8 384h4.3v3.8h-4.3zM1096.8 384h4.3v3.8h-4.3zM681.5 387.8h4.3v3.8h-4.3zM702.9 387.8h4.3v3.8h-4.3zM484.5 391.5h4.3v3.8h-4.3zM505.9 391.5h4.3v3.8h-4.3zM621.5 391.5h4.3v3.8h-4.3zM625.8 391.5h4.3v3.8h-4.3zM630.1 391.5h4.3v3.8h-4.3zM672.9 391.5h4.3v3.8h-4.3zM792.8 391.5h4.3v3.8h-4.3zM1250.9 391.5h4.3v3.8h-4.3zM424.6 395.3h4.3v3.8h-4.3zM553 395.3h4.3v3.8h-4.3zM565.9 395.3h4.3v3.8h-4.3zM583 395.3h4.3v3.8h-4.3zM587.3 395.3h4.3v3.8h-4.3zM638.7 395.3h4.3v3.8h-4.3zM672.9 395.3h4.3v3.8h-4.3zM681.5 395.3h4.3v3.8h-4.3zM780 395.3h4.3v3.8h-4.3zM784.2 395.3h4.3v3.8h-4.3zM792.8 395.3h4.3v3.8h-4.3zM818.5 395.3h4.3v3.8h-4.3zM994 395.3h4.3v3.8h-4.3zM1199.6 395.3h4.3v3.8h-4.3zM1203.8 395.3h4.3v3.8h-4.3zM1246.7 395.3h4.3v3.8h-4.3zM1259.5 395.3h4.3v3.8h-4.3zM1263.8 395.3h4.3v3.8h-4.3zM1315.2 395.3h4.3v3.8h-4.3zM1336.6 395.3h4.3v3.8h-4.3zM1349.4 395.3h4.3v3.8h-4.3zM1375.1 395.3h4.3v3.8h-4.3zM1383.7 395.3h4.3v3.8h-4.3zM1405.1 395.3h4.3v3.8h-4.3zM403.2 399h4.3v3.8h-4.3zM407.5 399h4.3v3.8h-4.3zM424.6 399h4.3v3.8h-4.3zM540.2 399h4.3v3.8h-4.3zM548.7 399h4.3v3.8h-4.3zM561.6 399h4.3v3.8h-4.3zM621.5 399h4.3v3.8h-4.3zM651.5 399h4.3v3.8h-4.3zM668.6 399h4.3v3.8h-4.3zM672.9 399h4.3v3.8h-4.3zM677.2 399h4.3v3.8h-4.3zM681.5 399h4.3v3.8h-4.3zM690 399h4.3v3.8h-4.3zM711.4 399h4.3v3.8h-4.3zM728.6 399h4.3v3.8h-4.3zM732.9 399h4.3v3.8h-4.3zM767.1 399h4.3v3.8h-4.3zM771.4 399h4.3v3.8h-4.3zM788.5 399h4.3v3.8h-4.3zM814.2 399h4.3v3.8h-4.3zM818.5 399h4.3v3.8h-4.3zM985.5 399h4.3v3.8h-4.3zM1028.3 399h4.3v3.8h-4.3zM1049.7 399h4.3v3.8h-4.3zM1071.1 399h4.3v3.8h-4.3zM1084 399h4.3v3.8h-4.3zM1092.5 399h4.3v3.8h-4.3zM1113.9 399h4.3v3.8h-4.3zM1126.8 399h4.3v3.8h-4.3zM1148.2 399h4.3v3.8h-4.3zM1221 399h4.3v3.8h-4.3zM1238.1 399h4.3v3.8h-4.3zM1246.7 399h4.3v3.8h-4.3zM1272.3 399h4.3v3.8h-4.3zM1276.6 399h4.3v3.8h-4.3zM1336.6 399h4.3v3.8h-4.3zM1340.9 399h4.3v3.8h-4.3zM1345.1 399h4.3v3.8h-4.3zM1349.4 399h4.3v3.8h-4.3zM1392.2 399h4.3v3.8h-4.3zM1409.4 399h4.3v3.8h-4.3zM424.6 402.8h4.3v5.2h-4.3zM463.1 402.8h4.3v5.2h-4.3zM467.4 402.8h4.3v5.2h-4.3zM535.9 402.8h4.3v5.2h-4.3zM570.2 402.8h4.3v5.2h-4.3zM591.6 402.8h4.3v5.2h-4.3zM617.3 402.8h4.3v5.2h-4.3zM664.4 402.8h4.3v5.2h-4.3zM694.3 402.8h4.3v5.2h-4.3zM707.2 402.8h4.3v5.2h-4.3zM711.4 402.8h4.3v5.2h-4.3zM732.9 402.8h4.3v5.2h-4.3zM767.1 402.8h4.3v5.2h-4.3zM788.5 402.8h4.3v5.2h-4.3zM839.9 402.8h4.3v5.2h-4.3zM946.9 402.8h4.3v5.2h-4.3zM955.5 402.8h4.3v5.2h-4.3zM972.6 402.8h4.3v5.2h-4.3zM985.5 402.8h4.3v5.2h-4.3zM998.3 402.8h4.3v5.2h-4.3zM1002.6 402.8h4.3v5.2h-4.3zM1066.8 402.8h4.3v5.2h-4.3zM1084 402.8h4.3v5.2h-4.3zM1088.2 402.8h4.3v5.2h-4.3zM1169.6 402.8h4.3v5.2h-4.3zM1208.1 402.8h4.3v5.2h-4.3zM1212.4 402.8h4.3v5.2h-4.3zM1272.3 402.8h4.3v5.2h-4.3zM1280.9 402.8h4.3v5.2h-4.3zM1285.2 402.8h4.3v5.2h-4.3zM1319.4 402.8h4.3v5.2h-4.3zM1328 402.8h4.3v5.2h-4.3zM1336.6 402.8h4.3v5.2h-4.3zM1366.5 402.8h4.3v5.2h-4.3zM1375.1 402.8h4.3v5.2h-4.3zM1392.2 402.8h4.3v5.2h-4.3zM1405.1 402.8h4.3v5.2h-4.3zM394.6 408h4.3v5.2h-4.3zM403.2 408h4.3v5.2h-4.3zM411.7 408h4.3v5.2h-4.3zM437.4 408h4.3v5.2h-4.3zM446 408h4.3v5.2h-4.3zM548.7 408h4.3v5.2h-4.3zM553 408h4.3v5.2h-4.3zM715.7 408h4.3v5.2h-4.3zM732.9 408h4.3v5.2h-4.3zM767.1 408h4.3v5.2h-4.3zM809.9 408h4.3v5.2h-4.3zM831.3 408h4.3v5.2h-4.3zM844.2 408h4.3v5.2h-4.3zM921.2 408h4.3v5.2h-4.3zM925.5 408h4.3v5.2h-4.3zM934.1 408h4.3v5.2h-4.3zM946.9 408h4.3v5.2h-4.3zM955.5 408h4.3v5.2h-4.3zM959.8 408h4.3v5.2h-4.3zM964.1 408h4.3v5.2h-4.3zM1019.7 408h4.3v5.2h-4.3zM1032.6 408h4.3v5.2h-4.3zM1049.7 408h4.3v5.2h-4.3zM1062.5 408h4.3v5.2h-4.3zM1066.8 408h4.3v5.2h-4.3zM1084 408h4.3v5.2h-4.3zM1131.1 408h4.3v5.2h-4.3zM1135.3 408h4.3v5.2h-4.3zM1139.6 408h4.3v5.2h-4.3zM1143.9 408h4.3v5.2h-4.3zM1152.5 408h4.3v5.2h-4.3zM1195.3 408h4.3v5.2h-4.3zM1199.6 408h4.3v5.2h-4.3zM1225.2 408h4.3v5.2h-4.3zM1246.7 408h4.3v5.2h-4.3zM1250.9 408h4.3v5.2h-4.3zM1280.9 408h4.3v5.2h-4.3zM1323.7 408h4.3v5.2h-4.3zM1362.3 408h4.3v5.2h-4.3zM1387.9 408h4.3v5.2h-4.3zM1456.5 408h4.3v5.2h-4.3zM373.2 413.2h4.3v5.2h-4.3zM377.5 413.2h4.3v5.2h-4.3zM386 413.2h4.3v5.2h-4.3zM411.7 413.2h4.3v5.2h-4.3zM437.4 413.2h4.3v5.2h-4.3zM510.2 413.2h4.3v5.2h-4.3zM531.6 413.2h4.3v5.2h-4.3zM570.2 413.2h4.3v5.2h-4.3zM574.4 413.2h4.3v5.2h-4.3zM600.1 413.2h4.3v5.2h-4.3zM677.2 413.2h4.3v5.2h-4.3zM685.8 413.2h4.3v5.2h-4.3zM754.3 413.2h4.3v5.2h-4.3zM835.6 413.2h4.3v5.2h-4.3zM861.3 413.2h4.3v5.2h-4.3zM869.9 413.2h4.3v5.2h-4.3zM895.6 413.2h4.3v5.2h-4.3zM899.8 413.2h4.3v5.2h-4.3zM946.9 413.2h4.3v5.2h-4.3zM968.3 413.2h4.3v5.2h-4.3zM972.6 413.2h4.3v5.2h-4.3zM1088.2 413.2h4.3v5.2h-4.3zM1105.4 413.2h4.3v5.2h-4.3zM1131.1 413.2h4.3v5.2h-4.3zM1156.7 413.2h4.3v5.2h-4.3zM1208.1 413.2h4.3v5.2h-4.3zM1229.5 413.2h4.3v5.2h-4.3zM1336.6 413.2h4.3v5.2h-4.3zM1340.9 413.2h4.3v5.2h-4.3zM1358 413.2h4.3v5.2h-4.3zM1443.6 413.2h4.3v5.2h-4.3zM1447.9 413.2h4.3v5.2h-4.3zM1452.2 413.2h4.3v5.2h-4.3zM1456.5 413.2h4.3v5.2h-4.3zM381.8 418.4h4.3v5.2h-4.3zM403.2 418.4h4.3v5.2h-4.3zM416 418.4h4.3v5.2h-4.3zM424.6 418.4h4.3v5.2h-4.3zM433.1 418.4h4.3v5.2h-4.3zM437.4 418.4h4.3v5.2h-4.3zM441.7 418.4h4.3v5.2h-4.3zM518.8 418.4h4.3v5.2h-4.3zM535.9 418.4h4.3v5.2h-4.3zM655.8 418.4h4.3v5.2h-4.3zM754.3 418.4h4.3v5.2h-4.3zM758.5 418.4h4.3v5.2h-4.3zM767.1 418.4h4.3v5.2h-4.3zM788.5 418.4h4.3v5.2h-4.3zM822.8 418.4h4.3v5.2h-4.3zM899.8 418.4h4.3v5.2h-4.3zM925.5 418.4h4.3v5.2h-4.3zM1041.1 418.4h4.3v5.2h-4.3zM1075.4 418.4h4.3v5.2h-4.3zM1105.4 418.4h4.3v5.2h-4.3zM1126.8 418.4h4.3v5.2h-4.3zM1143.9 418.4h4.3v5.2h-4.3zM1208.1 418.4h4.3v5.2h-4.3zM1229.5 418.4h4.3v5.2h-4.3zM1276.6 418.4h4.3v5.2h-4.3zM1289.5 418.4h4.3v5.2h-4.3zM1315.2 418.4h4.3v5.2h-4.3zM1319.4 418.4h4.3v5.2h-4.3zM1323.7 418.4h4.3v5.2h-4.3zM1358 418.4h4.3v5.2h-4.3zM1452.2 418.4h4.3v5.2h-4.3zM386 423.6h4.3v5.2h-4.3zM420.3 423.6h4.3v5.2h-4.3zM428.9 423.6h4.3v5.2h-4.3zM441.7 423.6h4.3v5.2h-4.3zM467.4 423.6h4.3v5.2h-4.3zM523.1 423.6h4.3v5.2h-4.3zM574.4 423.6h4.3v5.2h-4.3zM600.1 423.6h4.3v5.2h-4.3zM617.3 423.6h4.3v5.2h-4.3zM707.2 423.6h4.3v5.2h-4.3zM711.4 423.6h4.3v5.2h-4.3zM720 423.6h4.3v5.2h-4.3zM728.6 423.6h4.3v5.2h-4.3zM737.1 423.6h4.3v5.2h-4.3zM780 423.6h4.3v5.2h-4.3zM805.6 423.6h4.3v5.2h-4.3zM818.5 423.6h4.3v5.2h-4.3zM822.8 423.6h4.3v5.2h-4.3zM835.6 423.6h4.3v5.2h-4.3zM848.5 423.6h4.3v5.2h-4.3zM861.3 423.6h4.3v5.2h-4.3zM891.3 423.6h4.3v5.2h-4.3zM917 423.6h4.3v5.2h-4.3zM968.3 423.6h4.3v5.2h-4.3zM1002.6 423.6h4.3v5.2h-4.3zM1006.9 423.6h4.3v5.2h-4.3zM1028.3 423.6h4.3v5.2h-4.3zM1071.1 423.6h4.3v5.2h-4.3zM1092.5 423.6h4.3v5.2h-4.3zM1135.3 423.6h4.3v5.2h-4.3zM1139.6 423.6h4.3v5.2h-4.3zM1148.2 423.6h4.3v5.2h-4.3zM1161 423.6h4.3v5.2h-4.3zM1195.3 423.6h4.3v5.2h-4.3zM1233.8 423.6h4.3v5.2h-4.3zM1238.1 423.6h4.3v5.2h-4.3zM1280.9 423.6h4.3v5.2h-4.3zM1289.5 423.6h4.3v5.2h-4.3zM1302.3 423.6h4.3v5.2h-4.3zM1332.3 423.6h4.3v5.2h-4.3zM1435 423.6h4.3v5.2h-4.3zM1447.9 423.6h4.3v5.2h-4.3zM1452.2 423.6h4.3v5.2h-4.3zM1465 423.6h4.3v5.2h-4.3zM373.2 428.8h4.3v5.2h-4.3zM411.7 428.8h4.3v5.2h-4.3zM416 428.8h4.3v5.2h-4.3zM441.7 428.8h4.3v5.2h-4.3zM450.3 428.8h4.3v5.2h-4.3zM463.1 428.8h4.3v5.2h-4.3zM467.4 428.8h4.3v5.2h-4.3zM523.1 428.8h4.3v5.2h-4.3zM553 428.8h4.3v5.2h-4.3zM570.2 428.8h4.3v5.2h-4.3zM574.4 428.8h4.3v5.2h-4.3zM587.3 428.8h4.3v5.2h-4.3zM600.1 428.8h4.3v5.2h-4.3zM608.7 428.8h4.3v5.2h-4.3zM758.5 428.8h4.3v5.2h-4.3zM925.5 428.8h4.3v5.2h-4.3zM946.9 428.8h4.3v5.2h-4.3zM959.8 428.8h4.3v5.2h-4.3zM972.6 428.8h4.3v5.2h-4.3zM981.2 428.8h4.3v5.2h-4.3zM1011.2 428.8h4.3v5.2h-4.3zM1036.9 428.8h4.3v5.2h-4.3zM1058.3 428.8h4.3v5.2h-4.3zM1084 428.8h4.3v5.2h-4.3zM1092.5 428.8h4.3v5.2h-4.3zM1109.6 428.8h4.3v5.2h-4.3zM1152.5 428.8h4.3v5.2h-4.3zM1161 428.8h4.3v5.2h-4.3zM1195.3 428.8h4.3v5.2h-4.3zM1229.5 428.8h4.3v5.2h-4.3zM1238.1 428.8h4.3v5.2h-4.3zM1302.3 428.8h4.3v5.2h-4.3zM1310.9 428.8h4.3v5.2h-4.3zM1323.7 428.8h4.3v5.2h-4.3zM1353.7 428.8h4.3v5.2h-4.3zM1362.3 428.8h4.3v5.2h-4.3zM1370.8 428.8h4.3v5.2h-4.3zM1396.5 428.8h4.3v5.2h-4.3zM1405.1 428.8h4.3v5.2h-4.3zM1422.2 428.8h4.3v5.2h-4.3zM1456.5 428.8h4.3v5.2h-4.3zM377.5 434h4.3v5.2h-4.3zM403.2 434h4.3v5.2h-4.3zM416 434h4.3v5.2h-4.3zM578.7 434h4.3v5.2h-4.3zM600.1 434h4.3v5.2h-4.3zM630.1 434h4.3v5.2h-4.3zM655.8 434h4.3v5.2h-4.3zM668.6 434h4.3v5.2h-4.3zM882.7 434h4.3v5.2h-4.3zM908.4 434h4.3v5.2h-4.3zM912.7 434h4.3v5.2h-4.3zM985.5 434h4.3v5.2h-4.3zM1019.7 434h4.3v5.2h-4.3zM1191 434h4.3v5.2h-4.3zM1353.7 434h4.3v5.2h-4.3zM1379.4 434h4.3v5.2h-4.3zM1392.2 434h4.3v5.2h-4.3zM1422.2 434h4.3v5.2h-4.3zM1460.7 434h4.3v5.2h-4.3zM458.8 439.2h4.3v5.2h-4.3zM951.2 439.2h4.3v5.2h-4.3zM1071.1 439.2h8.6v5.2h-8.6z"/>
<path fill="#190bf6" d="M561.6 331.4h8.6v3.8h-8.6zM570.2 331.4h4.3v3.8h-4.3zM638.7 331.4h8.6v3.8h-8.6zM1126.8 331.4h4.3v3.8h-4.3zM1148.2 331.4h4.3v3.8h-4.3zM1156.7 331.4h4.3v3.8h-4.3zM1161 331.4h4.3v3.8h-4.3zM1246.7 331.4h4.3v3.8h-4.3zM1392.2 331.4h4.3v3.8h-4.3zM1460.7 331.4h8.6v3.8h-8.6zM471.7 335.1h8.6v3.8h-8.6zM655.8 335.1h8.6v3.8h-8.6zM827.1 335.1h4.3v3.8h-4.3zM1105.4 335.1h4.3v3.8h-4.3zM1195.3 335.1h8.6v3.8h-8.6zM1400.8 335.1h4.3v3.8h-4.3zM394.6 338.9h4.3v3.8h-4.3zM565.9 338.9h4.3v3.8h-4.3zM600.1 338.9h4.3v3.8h-4.3zM651.5 338.9h8.6v3.8h-8.6zM797.1 338.9h4.3v3.8h-4.3zM835.6 338.9h8.6v3.8h-8.6zM1011.2 338.9h4.3v3.8h-4.3zM1152.5 338.9h4.3v3.8h-4.3zM1302.3 338.9h8.6v3.8h-8.6zM1387.9 338.9h4.3v3.8h-4.3zM1422.2 338.9h4.3v3.8h-4.3zM638.7 342.6h4.3v3.8h-4.3zM711.4 342.6h8.6v3.8h-8.6zM959.8 342.6h8.6v3.8h-8.6zM1302.3 342.6h8.6v3.8h-8.6zM373.2 346.4h4.3v3.8h-4.3zM416 346.4h4.3v3.8h-4.3zM424.6 346.4h8.6v3.8h-8.6zM583 346.4h4.3v3.8h-4.3zM767.1 346.4h4.3v3.8h-4.3zM784.2 346.4h8.6v3.8h-8.6zM839.9 346.4h4.3v3.8h-4.3zM1088.2 346.4h4.3v3.8h-4.3zM1430.8 346.4h4.3v3.8h-4.3zM480.2 350.2h4.3v3.8h-4.3zM600.1 350.2h4.3v3.8h-4.3zM711.4 350.2h8.6v3.8h-8.6zM767.1 350.2h4.3v3.8h-4.3zM1392.2 350.2h4.3v3.8h-4.3zM565.9 353.9h4.3v3.8h-4.3zM711.4 353.9h8.6v3.8h-8.6zM792.8 353.9h8.6v3.8h-8.6zM835.6 353.9h4.3v3.8h-4.3zM946.9 353.9h8.6v3.8h-8.6zM1006.9 353.9h4.3v3.8h-4.3zM1024 353.9h4.3v3.8h-4.3zM1058.3 353.9h4.3v3.8h-4.3zM1066.8 353.9h8.6v3.8h-8.6zM1079.7 353.9h8.6v3.8h-8.6zM424.6 357.7h4.3v3.8h-4.3zM583 357.7h4.3v3.8h-4.3zM604.4 357.7h4.3v3.8h-4.3zM621.5 357.7h4.3v3.8h-4.3zM771.4 357.7h4.3v3.8h-4.3zM835.6 357.7h8.6v3.8h-8.6zM994 357.7h8.6v3.8h-8.6zM1036.9 357.7h8.6v3.8h-8.6zM1058.3 357.7h4.3v3.8h-4.3zM1238.1 357.7h4.3v3.8h-4.3zM1336.6 357.7h8.6v3.8h-8.6zM1345.1 357.7h4.3v3.8h-4.3zM501.6 361.4h4.3v3.8h-4.3zM698.6 361.4h8.6v3.8h-8.6zM724.3 361.4h4.3v3.8h-4.3zM741.4 361.4h4.3v3.8h-4.3zM981.2 361.4h4.3v3.8h-4.3zM1084 361.4h4.3v3.8h-4.3zM1088.2 361.4h4.3v3.8h-4.3zM1443.6 361.4h8.6v3.8h-8.6zM381.8 365.2h4.3v3.8h-4.3zM505.9 365.2h4.3v3.8h-4.3zM698.6 365.2h4.3v3.8h-4.3zM1015.4 365.2h4.3v3.8h-4.3zM1255.2 365.2h4.3v3.8h-4.3zM1289.5 365.2h8.6v3.8h-8.6zM1310.9 365.2h8.6v3.8h-8.6zM1375.1 365.2h4.3v3.8h-4.3zM1452.2 365.2h8.6v3.8h-8.6zM531.6 369h4.3v3.8h-4.3zM561.6 369h8.6v3.8h-8.6zM1015.4 369h4.3v3.8h-4.3zM467.4 372.7h8.6v3.8h-8.6zM861.3 372.7h4.3v3.8h-4.3zM891.3 372.7h8.6v3.8h-8.6zM1075.4 372.7h4.3v3.8h-4.3zM827.1 376.5h4.3v3.8h-4.3zM878.4 376.5h4.3v3.8h-4.3zM1105.4 376.5h8.6v3.8h-8.6zM373.2 449.6h4.3v5.2h-4.3zM647.2 449.6h8.6v5.2h-8.6zM861.3 449.6h8.6v5.2h-8.6zM921.2 449.6h8.6v5.2h-8.6zM1054 449.6h8.6v5.2h-8.6zM1315.2 449.6h8.6v5.2h-8.6zM1417.9 449.6h4.3v5.2h-4.3zM373.2 454.8h4.3v5.2h-4.3zM814.2 454.8h4.3v5.2h-4.3zM1221 454.8h8.6v5.2h-8.6zM544.5 460h4.3v5.2h-4.3zM814.2 460h4.3v5.2h-4.3zM446 465.2h8.6v5.2h-8.6zM891.3 465.2h8.6v5.2h-8.6zM1028.3 465.2h8.6v5.2h-8.6zM1118.2 465.2h4.3v5.2h-4.3zM1319.4 465.2h4.3v5.2h-4.3z"/>
<path fill="#1c1c96" d="M754.3 196h4.3v3h-4.3zM968.3 196h4.3v3h-4.3zM976.9 196h8.6v3h-8.6zM1233.8 196h8.6v3h-8.6zM1323.7 196h4.3v3h-4.3zM878.4 199.8h8.6v3h-8.6zM972.6 199.8h4.3v3h-4.3zM1229.5 203.5h4.3v5.6h-4.3zM955.5 207.3h4.3v3h-4.3zM1066.8 207.3h4.3v3h-4.3zM1212.4 207.3h8.6v3h-8.6zM535.9 211h4.3v3h-4.3zM638.7 211h8.6v3h-8.6zM865.6 211h8.6v3h-8.6zM1302.3 211h4.3v3h-4.3zM527.3 218.6h4.3v3h-4.3zM386 222.3h4.3v3h-4.3zM463.1 222.3h4.3v3h-4.3zM591.6 222.3h4.3v3h-4.3zM728.6 222.3h4.3v3h-4.3zM1088.2 222.3h8.6v3h-8.6zM1079.7 226.1h4.3v3h-4.3zM1225.2 226.1h4.3v3h-4.3zM660.1 229.8h8.6v3h-8.6zM1165.3 229.8h8.6v3h-8.6zM1353.7 229.8h4.3v3h-4.3zM454.6 237.4h4.3v3h-4.3zM600.1 237.4h4.3v3h-4.3zM925.5 237.4h4.3v3h-4.3zM985.5 237.4h4.3v3h-4.3zM891.3 241.1h8.6v3h-8.6zM1011.2 241.1h8.6v3h-8.6zM1447.9 241.1h4.3v3h-4.3zM865.6 244.9h8.6v3h-8.6zM951.2 244.9h8.6v3h-8.6zM1293.8 244.9h4.3v3h-4.3zM1340.9 244.9h8.6v3h-8.6zM420.3 248.6h4.3v3h-4.3zM433.1 248.6h8.6v3h-8.6zM946.9 248.6h8.6v3h-8.6zM989.8 248.6h8.6v3h-8.6zM1011.2 248.6h4.3v3h-4.3zM1105.4 248.6h4.3v3h-4.3zM1280.9 248.6h4.3v3h-4.3zM861.3 252.4h4.3v3h-4.3zM1019.7 252.4h8.6v3h-8.6zM1139.6 252.4h4.3v3h-4.3zM895.6 256.2h8.6v3h-8.6zM1345.1 256.2h4.3v3h-4.3zM869.9 259.9h8.6v3h-8.6zM929.8 259.9h4.3v3h-4.3zM1049.7 259.9h4.3v3h-4.3zM1242.4 259.9h8.6v3h-8.6zM1272.3 259.9h4.3v3h-4.3zM1443.6 259.9h4.3v3h-4.3zM467.4 263.7h4.3v3h-4.3zM655.8 263.7h4.3v3h-4.3zM698.6 263.7h4.3v3h-4.3zM788.5 263.7h8.6v3h-8.6zM1345.1 263.7h4.3v3h-4.3zM1366.5 263.7h8.6v5.6h-8.6zM386 267.4h4.3v3h-4.3zM608.7 267.4h4.3v3h-4.3zM1131.1 267.4h4.3v3h-4.3zM1199.6 267.4h4.3v3h-4.3zM1285.2 267.4h4.3v3h-4.3zM1379.4 267.4h8.6v3h-8.6zM386 271.2h4.3v3h-4.3zM407.5 271.2h4.3v3h-4.3zM514.5 271.2h4.3v3h-4.3zM548.7 271.2h4.3v3h-4.3zM1075.4 271.2h4.3v3h-4.3zM1268.1 271.2h4.3v3h-4.3zM595.8 275h8.6v5.6h-8.6zM625.8 275h4.3v3h-4.3zM904.1 275h4.3v3h-4.3zM929.8 275h4.3v3h-4.3zM1293.8 275h4.3v3h-4.3zM377.5 278.7h4.3v3h-4.3zM1263.8 278.7h8.6v3h-8.6zM394.6 282.5h8.6v3h-8.6zM540.2 282.5h4.3v3h-4.3zM780 282.5h8.6v3h-8.6zM844.2 282.5h4.3v3h-4.3zM1092.5 282.5h4.3v3h-4.3zM1113.9 282.5h4.3v3h-4.3zM1173.9 282.5h4.3v3h-4.3zM488.8 286.2h4.3v3h-4.3zM621.5 286.2h4.3v3h-4.3zM844.2 286.2h4.3v3h-4.3zM874.2 286.2h4.3v3h-4.3zM882.7 286.2h8.6v3h-8.6zM630.1 290h8.6v3h-8.6zM694.3 290h4.3v3h-4.3zM715.7 290h4.3v3h-4.3zM998.3 290h4.3v3h-4.3zM1203.8 290h8.6v3h-8.6zM1298 290h4.3v3h-4.3zM1340.9 290h8.6v3h-8.6zM407.5 293.8h8.6v3h-8.6zM497.4 293.8h4.3v5.6h-4.3zM660.1 293.8h4.3v3h-4.3zM1400.8 293.8h8.6v3h-8.6zM625.8 297.5h4.3v3h-4.3zM728.6 297.5h4.3v5.6h-4.3zM955.5 297.5h8.6v5.6h-8.6zM1066.8 297.5h8.6v3h-8.6zM1358 297.5h4.3v3h-4.3zM1413.6 297.5h8.6v3h-8.6zM1443.6 297.5h8.6v3h-8.6zM458.8 301.3h4.3v3h-4.3zM874.2 301.3h4.3v3h-4.3zM968.3 301.3h4.3v3h-4.3zM972.6 301.3h4.3v3h-4.3zM1036.9 301.3h8.6v3h-8.6zM1161 301.3h4.3v3h-4.3zM1165.3 301.3h8.6v3h-8.6zM441.7 305h4.3v3h-4.3zM493.1 305h4.3v3h-4.3zM583 305h4.3v3h-4.3zM737.1 305h8.6v3h-8.6zM865.6 305h4.3v3h-4.3zM912.7 305h4.3v3h-4.3zM411.7 308.8h4.3v3h-4.3zM441.7 308.8h4.3v3h-4.3zM501.6 308.8h8.6v5.6h-8.6zM724.3 308.8h4.3v3h-4.3zM775.7 308.8h8.6v3h-8.6zM921.2 308.8h4.3v3h-4.3zM1169.6 308.8h4.3v3h-4.3zM1208.1 308.8h4.3v5.6h-4.3zM1268.1 308.8h4.3v3h-4.3zM1272.3 308.8h4.3v3h-4.3zM420.3 312.6h4.3v3h-4.3zM424.6 312.6h8.6v3h-8.6zM450.3 312.6h8.6v3h-8.6zM501.6 312.6h4.3v5.6h-4.3zM565.9 312.6h8.6v3h-8.6zM604.4 312.6h8.6v3h-8.6zM762.8 312.6h8.6v3h-8.6zM852.7 312.6h4.3v3h-4.3zM882.7 312.6h4.3v3h-4.3zM1036.9 312.6h4.3v5.6h-4.3zM1105.4 312.6h4.3v3h-4.3zM1203.8 312.6h8.6v3h-8.6zM1315.2 312.6h4.3v5.6h-4.3zM1460.7 312.6h4.3v3h-4.3zM458.8 316.3h4.3v3h-4.3zM677.2 316.3h8.6v3h-8.6zM1088.2 316.3h8.6v3h-8.6zM1131.1 316.3h8.6v3h-8.6zM1199.6 316.3h8.6v3h-8.6zM1238.1 316.3h4.3v3h-4.3zM1447.9 316.3h8.6v3h-8.6zM433.1 320.1h4.3v3h-4.3zM835.6 320.1h8.6v3h-8.6zM917 320.1h4.3v3h-4.3zM1306.6 320.1h8.6v3h-8.6zM1413.6 320.1h4.3v3h-4.3zM1447.9 320.1h4.3v3h-4.3zM373.2 323.8h4.3v3h-4.3zM433.1 323.8h8.6v5.6h-8.6zM660.1 323.8h4.3v3h-4.3zM767.1 323.8h4.3v3h-4.3zM771.4 323.8h4.3v3h-4.3zM809.9 323.8h4.3v3h-4.3zM857 323.8h4.3v3h-4.3zM985.5 323.8h8.6v3h-8.6zM1131.1 323.8h4.3v3h-4.3zM1156.7 323.8h4.3v3h-4.3zM1173.9 323.8h4.3v3h-4.3zM1199.6 323.8h8.6v3h-8.6zM458.8 327.6h8.6v3h-8.6zM471.7 327.6h8.6v3h-8.6zM797.1 327.6h4.3v3h-4.3zM852.7 327.6h8.6v3h-8.6zM917 327.6h8.6v3h-8.6zM938.4 327.6h4.3v3h-4.3zM1049.7 327.6h8.6v3h-8.6zM467.4 470.4h8.6v4.4h-8.6zM548.7 470.4h4.3v4.4h-4.3zM741.4 470.4h4.3v4.4h-4.3zM861.3 470.4h4.3v4.4h-4.3zM865.6 470.4h4.3v4.4h-4.3zM921.2 470.4h4.3v4.4h-4.3zM976.9 470.4h4.3v4.4h-4.3zM1036.9 470.4h8.6v4.4h-8.6zM1096.8 470.4h4.3v4.4h-4.3zM1229.5 470.4h8.6v4.4h-8.6zM1250.9 470.4h8.6v4.4h-8.6zM1263.8 470.4h8.6v4.4h-8.6zM1353.7 470.4h8.6v4.4h-8.6zM1392.2 470.4h4.3v4.4h-4.3zM1413.6 470.4h8.6v4.4h-8.6zM1465 470.4h4.3v4.4h-4.3zM428.9 475.6h8.6v4.4h-8.6zM484.5 475.6h8.6v4.4h-8.6zM788.5 475.6h8.6v4.4h-8.6zM942.7 475.6h4.3v4.4h-4.3zM1028.3 475.6h4.3v4.4h-4.3zM1058.3 475.6h4.3v4.4h-4.3zM1084 475.6h4.3v7h-4.3zM1195.3 475.6h4.3v4.4h-4.3zM1221 475.6h4.3v4.4h-4.3zM1229.5 475.6h8.6v4.4h-8.6zM1259.5 475.6h4.3v4.4h-4.3zM1285.2 475.6h4.3v4.4h-4.3zM1366.5 475.6h4.3v4.4h-4.3zM1379.4 475.6h4.3v4.4h-4.3zM1426.5 475.6h8.6v4.4h-8.6zM467.4 480.8h8.6v4.4h-8.6zM493.1 480.8h4.3v4.4h-4.3zM531.6 480.8h8.6v4.4h-8.6zM591.6 480.8h4.3v4.4h-4.3zM604.4 480.8h8.6v4.4h-8.6zM651.5 480.8h4.3v4.4h-4.3zM660.1 480.8h4.3v4.4h-4.3zM702.9 480.8h4.3v4.4h-4.3zM797.1 480.8h4.3v4.4h-4.3zM839.9 480.8h8.6v4.4h-8.6zM887 480.8h8.6v4.4h-8.6zM912.7 480.8h4.3v4.4h-4.3zM959.8 480.8h4.3v4.4h-4.3zM1045.4 480.8h8.6v4.4h-8.6zM1075.4 480.8h4.3v4.4h-4.3zM1148.2 480.8h4.3v4.4h-4.3zM1182.4 480.8h4.3v4.4h-4.3zM1225.2 480.8h4.3v4.4h-4.3zM420.3 486h8.6v4.4h-8.6zM454.6 486h4.3v7h-4.3zM476 486h4.3v4.4h-4.3zM544.5 486h4.3v4.4h-4.3zM553 486h4.3v4.4h-4.3zM647.2 486h4.3v4.4h-4.3zM702.9 486h4.3v4.4h-4.3zM780 486h4.3v7h-4.3zM946.9 486h4.3v4.4h-4.3zM1139.6 486h8.6v4.4h-8.6zM1199.6 486h4.3v4.4h-4.3zM1250.9 486h4.3v4.4h-4.3zM1400.8 486h4.3v4.4h-4.3zM1460.7 486h4.3v4.4h-4.3zM377.5 491.2h4.3v1.1h-4.3zM390.3 491.2h4.3v1.1h-4.3zM403.2 491.2h4.3v1.1h-4.3zM411.7 491.2h4.3v1.1h-4.3zM420.3 491.2h8.6v1.1h-8.6zM480.2 491.2h4.3v1.1h-4.3zM702.9 491.2h4.3v1.1h-4.3zM745.7 491.2h4.3v1.1h-4.3zM814.2 491.2h4.3v1.1h-4.3zM899.8 491.2h4.3v1.1h-4.3zM917 491.2h4.3v1.1h-4.3zM981.2 491.2h4.3v1.1h-4.3zM985.5 491.2h8.6v1.1h-8.6zM1101.1 491.2h8.6v1.1h-8.6zM1109.6 491.2h4.3v1.1h-4.3zM1191 491.2h4.3v1.1h-4.3zM1229.5 491.2h4.3v1.1h-4.3zM1383.7 491.2h8.6v1.1h-8.6zM1447.9 491.2h8.6v1.1h-8.6z"/>
<path fill="#2c0df4" d="M758.5 331.4h4.3v3.8h-4.3zM1024 331.4h4.3v3.8h-4.3zM1199.6 331.4h4.3v3.8h-4.3zM681.5 335.1h4.3v3.8h-4.3zM1336.6 335.1h4.3v3.8h-4.3zM647.2 338.9h4.3v3.8h-4.3zM809.9 338.9h4.3v3.8h-4.3zM1002.6 338.9h4.3v3.8h-4.3zM1024 338.9h8.6v3.8h-8.6zM1084 338.9h4.3v3.8h-4.3zM1199.6 338.9h8.6v3.8h-8.6zM1225.2 338.9h4.3v3.8h-4.3zM1229.5 338.9h4.3v3.8h-4.3zM553 342.6h4.3v3.8h-4.3zM857 342.6h8.6v3.8h-8.6zM865.6 342.6h4.3v3.8h-4.3zM1375.1 342.6h8.6v3.8h-8.6zM1396.5 342.6h4.3v3.8h-4.3zM433.1 346.4h8.6v3.8h-8.6zM1006.9 346.4h4.3v3.8h-4.3zM1071.1 346.4h4.3v3.8h-4.3zM1139.6 346.4h4.3v3.8h-4.3zM527.3 350.2h4.3v3.8h-4.3zM771.4 350.2h8.6v3.8h-8.6zM1336.6 350.2h8.6v3.8h-8.6zM1345.1 350.2h4.3v3.8h-4.3zM1456.5 350.2h4.3v3.8h-4.3zM964.1 353.9h8.6v3.8h-8.6zM1028.3 353.9h4.3v3.8h-4.3zM1246.7 353.9h4.3v3.8h-4.3zM411.7 357.7h4.3v3.8h-4.3zM398.9 361.4h8.6v3.8h-8.6zM775.7 361.4h4.3v3.8h-4.3zM1049.7 361.4h4.3v3.8h-4.3zM1298 361.4h4.3v3.8h-4.3zM587.3 365.2h4.3v3.8h-4.3zM617.3 365.2h8.6v3.8h-8.6zM959.8 365.2h8.6v3.8h-8.6zM976.9 365.2h4.3v3.8h-4.3zM1024 365.2h4.3v3.8h-4.3zM1066.8 365.2h4.3v3.8h-4.3zM1131.1 365.2h4.3v3.8h-4.3zM1143.9 365.2h4.3v3.8h-4.3zM681.5 369h8.6v3.8h-8.6zM938.4 372.7h4.3v3.8h-4.3zM1058.3 376.5h4.3v3.8h-4.3zM917 449.6h4.3v5.2h-4.3zM1036.9 449.6h4.3v5.2h-4.3zM1216.7 449.6h4.3v5.2h-4.3zM471.7 454.8h4.3v5.2h-4.3zM548.7 454.8h8.6v5.2h-8.6zM1422.2 454.8h8.6v5.2h-8.6zM1293.8 460h8.6v5.2h-8.6zM664.4 465.2h8.6v5.2h-8.6zM690 465.2h4.3v5.2h-4.3zM750 465.2h8.6v5.2h-8.6zM767.1 465.2h4.3v5.2h-4.3zM792.8 465.2h8.6v5.2h-8.6zM972.6 465.2h4.3v5.2h-4.3z"/>
<path fill="#2d5fc3" d="M831.3 196h4.3v3h-4.3zM1199.6 196h4.3v3h-4.3zM450.3 203.5h4.3v3h-4.3zM471.7 203.5h4.3v3h-4.3zM720 203.5h4.3v3h-4.3zM891.3 203.5h4.3v3h-4.3zM1302.3 203.5h4.3v3h-4.3zM1396.5 203.5h8.6v3h-8.6zM638.7 207.3h8.6v3h-8.6zM651.5 207.3h4.3v3h-4.3zM805.6 207.3h4.3v3h-4.3zM994 207.3h4.3v3h-4.3zM1370.8 207.3h8.6v3h-8.6zM994 211h8.6v3h-8.6zM801.4 214.8h4.3v3h-4.3zM814.2 214.8h4.3v3h-4.3zM1126.8 214.8h4.3v3h-4.3zM1349.4 214.8h8.6v3h-8.6zM1456.5 214.8h4.3v3h-4.3zM428.9 218.6h4.3v3h-4.3zM818.5 218.6h8.6v3h-8.6zM1045.4 218.6h4.3v3h-4.3zM1101.1 218.6h4.3v3h-4.3zM407.5 222.3h4.3v3h-4.3zM698.6 222.3h8.6v3h-8.6zM818.5 222.3h4.3v3h-4.3zM835.6 222.3h8.6v3h-8.6zM1460.7 222.3h4.3v3h-4.3zM1430.8 226.1h4.3v3h-4.3zM634.4 229.8h4.3v3h-4.3zM797.1 229.8h4.3v3h-4.3zM1182.4 229.8h4.3v3h-4.3zM497.4 233.6h8.6v3h-8.6zM514.5 233.6h4.3v3h-4.3zM595.8 233.6h4.3v3h-4.3zM1161 233.6h8.6v3h-8.6zM1392.2 233.6h8.6v3h-8.6zM1400.8 233.6h4.3v3h-4.3zM1409.4 233.6h4.3v3h-4.3zM844.2 237.4h4.3v3h-4.3zM1036.9 237.4h4.3v3h-4.3zM1084 237.4h4.3v3h-4.3zM1101.1 237.4h8.6v3h-8.6zM1173.9 237.4h4.3v3h-4.3zM1422.2 237.4h4.3v3h-4.3zM377.5 241.1h4.3v3h-4.3zM428.9 241.1h4.3v3h-4.3zM707.2 241.1h4.3v3h-4.3zM972.6 241.1h8.6v3h-8.6zM595.8 244.9h4.3v3h-4.3zM617.3 244.9h4.3v3h-4.3zM702.9 244.9h8.6v3h-8.6zM878.4 244.9h4.3v3h-4.3zM929.8 244.9h4.3v3h-4.3zM994 244.9h8.6v3h-8.6zM1126.8 244.9h8.6v3h-8.6zM548.7 248.6h4.3v3h-4.3zM595.8 248.6h4.3v5.6h-4.3zM925.5 248.6h8.6v3h-8.6zM1233.8 248.6h4.3v3h-4.3zM1430.8 248.6h4.3v3h-4.3zM394.6 252.4h8.6v3h-8.6zM715.7 252.4h8.6v3h-8.6zM976.9 252.4h4.3v3h-4.3zM989.8 252.4h4.3v3h-4.3zM1173.9 252.4h4.3v3h-4.3zM1268.1 252.4h4.3v3h-4.3zM1392.2 252.4h4.3v3h-4.3zM446 256.2h8.6v3h-8.6zM771.4 256.2h4.3v3h-4.3zM912.7 256.2h4.3v3h-4.3zM951.2 256.2h8.6v3h-8.6zM1148.2 256.2h4.3v5.6h-4.3zM1332.3 256.2h4.3v3h-4.3zM634.4 259.9h8.6v3h-8.6zM1353.7 259.9h4.3v3h-4.3zM634.4 263.7h8.6v3h-8.6zM732.9 263.7h4.3v3h-4.3zM780 263.7h4.3v3h-4.3zM1156.7 263.7h4.3v3h-4.3zM373.2 267.4h8.6v5.6h-8.6zM758.5 267.4h8.6v5.6h-8.6zM805.6 267.4h8.6v3h-8.6zM874.2 267.4h4.3v3h-4.3zM458.8 271.2h4.3v5.6h-4.3zM587.3 271.2h8.6v5.6h-8.6zM630.1 271.2h4.3v3h-4.3zM784.2 271.2h4.3v3h-4.3zM797.1 271.2h4.3v3h-4.3zM1135.3 271.2h4.3v3h-4.3zM1208.1 271.2h4.3v3h-4.3zM1298 271.2h8.6v3h-8.6zM1310.9 271.2h8.6v3h-8.6zM398.9 275h4.3v3h-4.3zM471.7 275h8.6v3h-8.6zM531.6 275h4.3v5.6h-4.3zM587.3 275h4.3v3h-4.3zM857 275h4.3v3h-4.3zM874.2 275h8.6v3h-8.6zM1370.8 275h8.6v3h-8.6zM1456.5 275h8.6v3h-8.6zM390.3 278.7h8.6v3h-8.6zM480.2 278.7h4.3v3h-4.3zM672.9 278.7h4.3v3h-4.3zM1041.1 278.7h4.3v3h-4.3zM1340.9 278.7h4.3v3h-4.3zM1452.2 278.7h4.3v3h-4.3zM651.5 282.5h4.3v3h-4.3zM758.5 282.5h8.6v3h-8.6zM878.4 282.5h4.3v3h-4.3zM989.8 282.5h8.6v3h-8.6zM1276.6 282.5h8.6v3h-8.6zM1405.1 282.5h8.6v3h-8.6zM394.6 286.2h4.3v3h-4.3zM411.7 286.2h4.3v3h-4.3zM540.2 286.2h4.3v3h-4.3zM655.8 286.2h4.3v3h-4.3zM672.9 286.2h4.3v3h-4.3zM724.3 286.2h4.3v3h-4.3zM728.6 286.2h4.3v3h-4.3zM869.9 286.2h4.3v3h-4.3zM908.4 286.2h4.3v3h-4.3zM959.8 286.2h4.3v3h-4.3zM972.6 286.2h4.3v3h-4.3zM1156.7 286.2h4.3v3h-4.3zM1263.8 286.2h4.3v3h-4.3zM1353.7 286.2h8.6v3h-8.6zM1379.4 286.2h8.6v3h-8.6zM394.6 290h4.3v3h-4.3zM510.2 290h4.3v3h-4.3zM548.7 290h8.6v3h-8.6zM655.8 290h4.3v3h-4.3zM857 290h8.6v3h-8.6zM1143.9 290h4.3v5.6h-4.3zM1216.7 290h4.3v3h-4.3zM1375.1 290h4.3v3h-4.3zM1417.9 290h8.6v3h-8.6zM1443.6 290h4.3v3h-4.3zM390.3 293.8h8.6v3h-8.6zM583 293.8h4.3v3h-4.3zM604.4 293.8h8.6v3h-8.6zM613 293.8h4.3v3h-4.3zM647.2 293.8h8.6v5.6h-8.6zM775.7 293.8h4.3v3h-4.3zM925.5 293.8h4.3v3h-4.3zM938.4 293.8h4.3v3h-4.3zM1182.4 293.8h4.3v3h-4.3zM1225.2 293.8h4.3v3h-4.3zM1285.2 293.8h4.3v3h-4.3zM1370.8 293.8h4.3v5.6h-4.3zM1435 293.8h4.3v3h-4.3zM480.2 297.5h4.3v3h-4.3zM565.9 297.5h4.3v3h-4.3zM570.2 297.5h4.3v3h-4.3zM608.7 297.5h4.3v3h-4.3zM762.8 297.5h8.6v3h-8.6zM780 297.5h4.3v3h-4.3zM788.5 297.5h4.3v5.6h-4.3zM805.6 297.5h4.3v3h-4.3zM835.6 297.5h4.3v3h-4.3zM839.9 297.5h4.3v3h-4.3zM857 297.5h8.6v3h-8.6zM887 297.5h8.6v3h-8.6zM989.8 297.5h8.6v3h-8.6zM1216.7 297.5h8.6v3h-8.6zM1439.3 297.5h4.3v3h-4.3zM450.3 301.3h4.3v3h-4.3zM634.4 301.3h4.3v3h-4.3zM869.9 301.3h4.3v3h-4.3zM1152.5 301.3h4.3v3h-4.3zM1182.4 301.3h4.3v3h-4.3zM1250.9 301.3h4.3v3h-4.3zM1310.9 301.3h4.3v3h-4.3zM630.1 305h4.3v3h-4.3zM1019.7 305h4.3v3h-4.3zM1191 305h4.3v3h-4.3zM1233.8 305h4.3v3h-4.3zM1370.8 305h8.6v3h-8.6zM1426.5 305h4.3v3h-4.3zM625.8 308.8h8.6v5.6h-8.6zM758.5 308.8h4.3v3h-4.3zM1002.6 308.8h8.6v3h-8.6zM1049.7 308.8h4.3v3h-4.3zM1066.8 308.8h4.3v3h-4.3zM1071.1 308.8h8.6v3h-8.6zM1143.9 308.8h4.3v3h-4.3zM1199.6 308.8h4.3v3h-4.3zM1238.1 308.8h4.3v3h-4.3zM1285.2 308.8h4.3v3h-4.3zM1383.7 308.8h4.3v5.6h-4.3zM1417.9 308.8h4.3v3h-4.3zM407.5 312.6h8.6v3h-8.6zM510.2 312.6h4.3v3h-4.3zM561.6 312.6h4.3v3h-4.3zM664.4 312.6h4.3v3h-4.3zM698.6 312.6h4.3v5.6h-4.3zM707.2 312.6h4.3v5.6h-4.3zM780 312.6h8.6v3h-8.6zM964.1 312.6h4.3v3h-4.3zM1250.9 312.6h8.6v3h-8.6zM574.4 316.3h4.3v3h-4.3zM698.6 316.3h8.6v3h-8.6zM715.7 316.3h8.6v3h-8.6zM869.9 316.3h4.3v3h-4.3zM899.8 316.3h8.6v5.6h-8.6zM959.8 316.3h4.3v5.6h-4.3zM989.8 316.3h4.3v3h-4.3zM994 316.3h4.3v3h-4.3zM1045.4 316.3h4.3v3h-4.3zM1084 316.3h4.3v3h-4.3zM1156.7 316.3h4.3v3h-4.3zM1186.7 316.3h4.3v3h-4.3zM1259.5 316.3h8.6v3h-8.6zM1349.4 316.3h8.6v3h-8.6zM1387.9 316.3h4.3v3h-4.3zM1439.3 316.3h4.3v3h-4.3zM377.5 320.1h8.6v3h-8.6zM446 320.1h8.6v3h-8.6zM484.5 320.1h4.3v3h-4.3zM548.7 320.1h8.6v5.6h-8.6zM711.4 320.1h4.3v3h-4.3zM728.6 320.1h4.3v3h-4.3zM805.6 320.1h8.6v3h-8.6zM1071.1 320.1h8.6v3h-8.6zM1353.7 320.1h4.3v3h-4.3zM1465 320.1h4.3v3h-4.3zM381.8 323.8h4.3v3h-4.3zM386 323.8h4.3v3h-4.3zM497.4 323.8h8.6v5.6h-8.6zM685.8 323.8h8.6v3h-8.6zM792.8 323.8h4.3v3h-4.3zM921.2 323.8h8.6v3h-8.6zM942.7 323.8h8.6v3h-8.6zM1019.7 323.8h4.3v3h-4.3zM1195.3 323.8h4.3v3h-4.3zM1276.6 323.8h8.6v3h-8.6zM1285.2 323.8h4.3v3h-4.3zM1345.1 323.8h4.3v3h-4.3zM1396.5 323.8h4.3v3h-4.3zM1465 323.8h4.3v3h-4.3zM407.5 327.6h8.6v5.6h-8.6zM493.1 327.6h4.3v3h-4.3zM583 327.6h4.3v3h-4.3zM613 327.6h4.3v3h-4.3zM655.8 327.6h8.6v3h-8.6zM745.7 327.6h4.3v3h-4.3zM767.1 327.6h8.6v3h-8.6zM814.2 327.6h4.3v3h-4.3zM831.3 327.6h8.6v3h-8.6zM887 327.6h8.6v3h-8.6zM981.2 327.6h8.6v3h-8.6zM1011.2 327.6h4.3v3h-4.3zM1062.5 327.6h8.6v3h-8.6zM1084 327.6h8.6v3h-8.6zM1379.4 327.6h8.6v3h-8.6zM1430.8 327.6h8.6v5.6h-8.6zM403.2 470.4h4.3v4.4h-4.3zM510.2 470.4h4.3v4.4h-4.3zM531.6 470.4h8.6v4.4h-8.6zM553 470.4h4.3v4.4h-4.3zM561.6 470.4h8.6v4.4h-8.6zM617.3 470.4h8.6v4.4h-8.6zM651.5 470.4h4.3v4.4h-4.3zM690 470.4h4.3v4.4h-4.3zM702.9 470.4h4.3v4.4h-4.3zM767.1 470.4h4.3v4.4h-4.3zM780 470.4h4.3v4.4h-4.3zM822.8 470.4h4.3v4.4h-4.3zM831.3 470.4h4.3v4.4h-4.3zM959.8 470.4h4.3v4.4h-4.3zM968.3 470.4h4.3v4.4h-4.3zM981.2 470.4h4.3v4.4h-4.3zM1028.3 470.4h4.3v4.4h-4.3zM1045.4 470.4h4.3v4.4h-4.3zM1118.2 470.4h8.6v4.4h-8.6zM1165.3 470.4h8.6v7h-8.6zM1178.1 470.4h4.3v4.4h-4.3zM1186.7 470.4h4.3v4.4h-4.3zM1246.7 470.4h4.3v4.4h-4.3zM1293.8 470.4h4.3v4.4h-4.3zM1310.9 470.4h4.3v4.4h-4.3zM1366.5 470.4h4.3v4.4h-4.3zM1447.9 470.4h8.6v4.4h-8.6zM377.5 475.6h8.6v4.4h-8.6zM416 475.6h8.6v4.4h-8.6zM557.3 475.6h8.6v4.4h-8.6zM608.7 475.6h8.6v4.4h-8.6zM655.8 475.6h8.6v4.4h-8.6zM681.5 475.6h8.6v4.4h-8.6zM715.7 475.6h8.6v4.4h-8.6zM754.3 475.6h4.3v4.4h-4.3zM831.3 475.6h4.3v4.4h-4.3zM848.5 475.6h4.3v4.4h-4.3zM899.8 475.6h4.3v4.4h-4.3zM938.4 475.6h4.3v4.4h-4.3zM964.1 475.6h8.6v4.4h-8.6zM1036.9 475.6h8.6v4.4h-8.6zM1109.6 475.6h4.3v4.4h-4.3zM1135.3 475.6h8.6v4.4h-8.6zM1212.4 475.6h8.6v4.4h-8.6zM1272.3 475.6h4.3v4.4h-4.3zM1306.6 475.6h4.3v4.4h-4.3zM1310.9 475.6h8.6v4.4h-8.6zM1336.6 475.6h4.3v4.4h-4.3zM1409.4 475.6h4.3v4.4h-4.3zM386 480.8h4.3v4.4h-4.3zM450.3 480.8h8.6v4.4h-8.6zM458.8 480.8h8.6v4.4h-8.6zM523.1 480.8h4.3v4.4h-4.3zM561.6 480.8h4.3v4.4h-4.3zM613 480.8h4.3v4.4h-4.3zM784.2 480.8h8.6v4.4h-8.6zM792.8 480.8h4.3v4.4h-4.3zM822.8 480.8h4.3v4.4h-4.3zM874.2 480.8h8.6v4.4h-8.6zM925.5 480.8h8.6v4.4h-8.6zM938.4 480.8h4.3v4.4h-4.3zM968.3 480.8h4.3v4.4h-4.3zM1028.3 480.8h4.3v4.4h-4.3zM1109.6 480.8h4.3v4.4h-4.3zM1156.7 480.8h8.6v4.4h-8.6zM1195.3 480.8h8.6v4.4h-8.6zM1229.5 480.8h8.6v4.4h-8.6zM1246.7 480.8h4.3v4.4h-4.3zM1250.9 480.8h8.6v4.4h-8.6zM1285.2 480.8h8.6v4.4h-8.6zM1298 480.8h4.3v4.4h-4.3zM1310.9 480.8h8.6v4.4h-8.6zM1349.4 480.8h8.6v7h-8.6zM1417.9 480.8h4.3v4.4h-4.3zM1447.9 480.8h8.6v4.4h-8.6zM377.5 486h8.6v4.4h-8.6zM480.2 486h4.3v4.4h-4.3zM501.6 486h4.3v4.4h-4.3zM591.6 486h4.3v4.4h-4.3zM600.1 486h8.6v7h-8.6zM651.5 486h4.3v4.4h-4.3zM754.3 486h4.3v4.4h-4.3zM827.1 486h4.3v4.4h-4.3zM895.6 486h8.6v4.4h-8.6zM917 486h4.3v7h-4.3zM921.2 486h8.6v4.4h-8.6zM964.1 486h4.3v4.4h-4.3zM1024 486h8.6v4.4h-8.6zM1054 486h4.3v4.4h-4.3zM1062.5 486h4.3v4.4h-4.3zM1071.1 486h8.6v4.4h-8.6zM1079.7 486h8.6v4.4h-8.6zM1088.2 486h4.3v4.4h-4.3zM1161 486h4.3v4.4h-4.3zM1182.4 486h8.6v4.4h-8.6zM1221 486h4.3v4.4h-4.3zM1268.1 486h4.3v4.4h-4.3zM1315.2 486h4.3v4.4h-4.3zM1336.6 486h8.6v4.4h-8.6zM1366.5 486h8.6v4.4h-8.6zM1379.4 486h4.3v4.4h-4.3zM1452.2 486h4.3v4.4h-4.3zM446 491.2h4.3v1.1h-4.3zM454.6 491.2h8.6v1.1h-8.6zM484.5 491.2h4.3v1.1h-4.3zM510.2 491.2h8.6v1.1h-8.6zM591.6 491.2h8.6v1.1h-8.6zM625.8 491.2h4.3v1.1h-4.3zM694.3 491.2h4.3v1.1h-4.3zM852.7 491.2h4.3v1.1h-4.3zM869.9 491.2h4.3v1.1h-4.3zM878.4 491.2h8.6v1.1h-8.6zM964.1 491.2h8.6v1.1h-8.6zM1011.2 491.2h8.6v1.1h-8.6zM1045.4 491.2h4.3v1.1h-4.3zM1075.4 491.2h4.3v3.7h-4.3zM1135.3 491.2h8.6v1.1h-8.6zM1173.9 491.2h8.6v1.1h-8.6zM1186.7 491.2h4.3v1.1h-4.3zM1203.8 491.2h8.6v1.1h-8.6zM1238.1 491.2h4.3v1.1h-4.3zM1280.9 491.2h8.6v1.1h-8.6zM1332.3 491.2h4.3v1.1h-4.3zM1349.4 491.2h8.6v1.1h-8.6zM1392.2 491.2h4.3v1.1h-4.3zM1405.1 491.2h4.3v1.1h-4.3z"/>
<path fill="#31eb0a" d="M591.6 376.5h4.3v3.8h-4.3zM1263.8 376.5h4.3v3.8h-4.3zM1460.7 376.5h4.3v3.8h-4.3zM390.3 380.2h4.3v3.8h-4.3zM1126.8 380.2h4.3v3.8h-4.3zM647.2 384h4.3v3.8h-4.3zM1036.9 384h8.6v3.8h-8.6zM839.9 387.8h8.6v3.8h-8.6zM912.7 387.8h4.3v3.8h-4.3zM964.1 387.8h4.3v3.8h-4.3zM698.6 391.5h4.3v3.8h-4.3zM1345.1 391.5h4.3v3.8h-4.3zM377.5 395.3h4.3v3.8h-4.3zM630.1 395.3h4.3v3.8h-4.3zM655.8 395.3h4.3v3.8h-4.3zM707.2 395.3h4.3v3.8h-4.3zM711.4 395.3h4.3v3.8h-4.3zM715.7 395.3h4.3v3.8h-4.3zM1135.3 395.3h4.3v3.8h-4.3zM1250.9 395.3h4.3v3.8h-4.3zM1413.6 395.3h4.3v3.8h-4.3zM1426.5 395.3h4.3v3.8h-4.3zM458.8 399h4.3v3.8h-4.3zM471.7 399h4.3v3.8h-4.3zM480.2 399h4.3v3.8h-4.3zM488.8 399h4.3v3.8h-4.3zM493.1 399h4.3v3.8h-4.3zM497.4 399h4.3v3.8h-4.3zM523.1 399h4.3v3.8h-4.3zM544.5 399h4.3v3.8h-4.3zM553 399h4.3v3.8h-4.3zM570.2 399h4.3v3.8h-4.3zM608.7 399h4.3v3.8h-4.3zM625.8 399h4.3v3.8h-4.3zM642.9 399h4.3v3.8h-4.3zM745.7 399h4.3v3.8h-4.3zM750 399h4.3v3.8h-4.3zM801.4 399h4.3v3.8h-4.3zM1105.4 399h4.3v3.8h-4.3zM1195.3 399h4.3v3.8h-4.3zM1208.1 399h4.3v3.8h-4.3zM1242.4 399h4.3v3.8h-4.3zM1280.9 399h4.3v3.8h-4.3zM1302.3 399h4.3v3.8h-4.3zM1370.8 399h4.3v3.8h-4.3zM1405.1 399h4.3v3.8h-4.3zM1413.6 399h4.3v3.8h-4.3zM1422.2 399h4.3v3.8h-4.3zM1460.7 399h4.3v3.8h-4.3zM390.3 402.8h4.3v5.2h-4.3zM398.9 402.8h4.3v5.2h-4.3zM437.4 402.8h4.3v5.2h-4.3zM454.6 402.8h4.3v5.2h-4.3zM471.7 402.8h4.3v5.2h-4.3zM501.6 402.8h4.3v5.2h-4.3zM505.9 402.8h4.3v5.2h-4.3zM523.1 402.8h4.3v5.2h-4.3zM531.6 402.8h4.3v5.2h-4.3zM548.7 402.8h4.3v5.2h-4.3zM565.9 402.8h4.3v5.2h-4.3zM574.4 402.8h4.3v5.2h-4.3zM600.1 402.8h4.3v5.2h-4.3zM604.4 402.8h4.3v5.2h-4.3zM660.1 402.8h4.3v5.2h-4.3zM668.6 402.8h4.3v5.2h-4.3zM681.5 402.8h4.3v5.2h-4.3zM685.8 402.8h4.3v5.2h-4.3zM690 402.8h4.3v5.2h-4.3zM741.4 402.8h4.3v5.2h-4.3zM745.7 402.8h4.3v5.2h-4.3zM754.3 402.8h4.3v5.2h-4.3zM758.5 402.8h4.3v5.2h-4.3zM762.8 402.8h4.3v5.2h-4.3zM797.1 402.8h4.3v5.2h-4.3zM805.6 402.8h4.3v5.2h-4.3zM814.2 402.8h4.3v5.2h-4.3zM976.9 402.8h4.3v5.2h-4.3zM1028.3 402.8h4.3v5.2h-4.3zM1036.9 402.8h4.3v5.2h-4.3zM1075.4 402.8h4.3v5.2h-4.3zM1096.8 402.8h4.3v5.2h-4.3zM1221 402.8h4.3v5.2h-4.3zM1242.4 402.8h4.3v5.2h-4.3zM1246.7 402.8h4.3v5.2h-4.3zM1255.2 402.8h4.3v5.2h-4.3zM1263.8 402.8h4.3v5.2h-4.3zM1268.1 402.8h4.3v5.2h-4.3zM1289.5 402.8h4.3v5.2h-4.3zM1298 402.8h4.3v5.2h-4.3zM1306.6 402.8h4.3v5.2h-4.3zM1370.8 402.8h4.3v5.2h-4.3zM1413.6 402.8h4.3v5.2h-4.3zM1417.9 402.8h4.3v5.2h-4.3zM1435 402.8h4.3v5.2h-4.3zM1439.3 402.8h4.3v5.2h-4.3zM1456.5 402.8h4.3v5.2h-4.3zM390.3 408h4.3v5.2h-4.3zM424.6 408h4.3v5.2h-4.3zM441.7 408h4.3v5.2h-4.3zM450.3 408h4.3v5.2h-4.3zM454.6 408h4.3v5.2h-4.3zM458.8 408h4.3v5.2h-4.3zM574.4 408h4.3v5.2h-4.3zM591.6 408h4.3v5.2h-4.3zM600.1 408h4.3v5.2h-4.3zM617.3 408h4.3v5.2h-4.3zM694.3 408h4.3v5.2h-4.3zM728.6 408h4.3v5.2h-4.3zM750 408h4.3v5.2h-4.3zM754.3 408h4.3v5.2h-4.3zM780 408h4.3v5.2h-4.3zM784.2 408h4.3v5.2h-4.3zM792.8 408h4.3v5.2h-4.3zM801.4 408h4.3v5.2h-4.3zM818.5 408h4.3v5.2h-4.3zM861.3 408h4.3v5.2h-4.3zM972.6 408h4.3v5.2h-4.3zM981.2 408h4.3v5.2h-4.3zM985.5 408h4.3v5.2h-4.3zM1036.9 408h4.3v5.2h-4.3zM1045.4 408h4.3v5.2h-4.3zM1088.2 408h4.3v5.2h-4.3zM1096.8 408h4.3v5.2h-4.3zM1109.6 408h4.3v5.2h-4.3zM1122.5 408h4.3v5.2h-4.3zM1126.8 408h4.3v5.2h-4.3zM1148.2 408h4.3v5.2h-4.3zM1178.1 408h4.3v5.2h-4.3zM1221 408h4.3v5.2h-4.3zM1268.1 408h4.3v5.2h-4.3zM1272.3 408h4.3v5.2h-4.3zM1315.2 408h4.3v5.2h-4.3zM1328 408h4.3v5.2h-4.3zM1332.3 408h4.3v5.2h-4.3zM1383.7 408h4.3v5.2h-4.3zM1413.6 408h4.3v5.2h-4.3zM1426.5 408h4.3v5.2h-4.3zM1430.8 408h4.3v5.2h-4.3zM1452.2 408h4.3v5.2h-4.3zM381.8 413.2h4.3v5.2h-4.3zM394.6 413.2h4.3v5.2h-4.3zM433.1 413.2h4.3v5.2h-4.3zM446 413.2h4.3v5.2h-4.3zM450.3 413.2h4.3v5.2h-4.3zM484.5 413.2h4.3v5.2h-4.3zM544.5 413.2h4.3v5.2h-4.3zM583 413.2h4.3v5.2h-4.3zM604.4 413.2h4.3v5.2h-4.3zM758.5 413.2h4.3v5.2h-4.3zM767.1 413.2h4.3v5.2h-4.3zM775.7 413.2h4.3v5.2h-4.3zM780 413.2h4.3v5.2h-4.3zM827.1 413.2h4.3v5.2h-4.3zM844.2 413.2h4.3v5.2h-4.3zM852.7 413.2h4.3v5.2h-4.3zM874.2 413.2h4.3v5.2h-4.3zM878.4 413.2h4.3v5.2h-4.3zM925.5 413.2h4.3v5.2h-4.3zM1019.7 413.2h4.3v5.2h-4.3zM1032.6 413.2h4.3v5.2h-4.3zM1041.1 413.2h4.3v5.2h-4.3zM1084 413.2h4.3v5.2h-4.3zM1092.5 413.2h4.3v5.2h-4.3zM1143.9 413.2h4.3v5.2h-4.3zM1195.3 413.2h4.3v5.2h-4.3zM1212.4 413.2h4.3v5.2h-4.3zM1225.2 413.2h4.3v5.2h-4.3zM1233.8 413.2h4.3v5.2h-4.3zM1242.4 413.2h4.3v5.2h-4.3zM1246.7 413.2h4.3v5.2h-4.3zM1255.2 413.2h4.3v5.2h-4.3zM1289.5 413.2h4.3v5.2h-4.3zM1293.8 413.2h4.3v5.2h-4.3zM1315.2 413.2h4.3v5.2h-4.3zM1349.4 413.2h4.3v5.2h-4.3zM1379.4 413.2h4.3v5.2h-4.3zM1435 413.2h4.3v5.2h-4.3zM1439.3 413.2h4.3v5.2h-4.3zM1465 413.2h4.3v5.2h-4.3zM446 418.4h4.3v5.2h-4.3zM458.8 418.4h4.3v5.2h-4.3zM467.4 418.4h4.3v5.2h-4.3zM488.8 418.4h4.3v5.2h-4.3zM493.1 418.4h4.3v5.2h-4.3zM514.5 418.4h4.3v5.2h-4.3zM565.9 418.4h4.3v5.2h-4.3zM583 418.4h4.3v5.2h-4.3zM672.9 418.4h4.3v5.2h-4.3zM690 418.4h4.3v5.2h-4.3zM839.9 418.4h4.3v5.2h-4.3zM951.2 418.4h4.3v5.2h-4.3zM972.6 418.4h4.3v5.2h-4.3zM1024 418.4h4.3v5.2h-4.3zM1045.4 418.4h4.3v5.2h-4.3zM1071.1 418.4h4.3v5.2h-4.3zM1084 418.4h4.3v5.2h-4.3zM1109.6 418.4h4.3v5.2h-4.3zM1122.5 418.4h4.3v5.2h-4.3zM1135.3 418.4h4.3v5.2h-4.3zM1148.2 418.4h4.3v5.2h-4.3zM1178.1 418.4h4.3v5.2h-4.3zM1182.4 418.4h4.3v5.2h-4.3zM1186.7 418.4h4.3v5.2h-4.3zM1199.6 418.4h4.3v5.2h-4.3zM1263.8 418.4h4.3v5.2h-4.3zM1340.9 418.4h4.3v5.2h-4.3zM1387.9 418.4h4.3v5.2h-4.3zM1405.1 418.4h4.3v5.2h-4.3zM1456.5 418.4h4.3v5.2h-4.3zM1465 418.4h4.3v5.2h-4.3zM377.5 423.6h4.3v5.2h-4.3zM433.1 423.6h4.3v5.2h-4.3zM476 423.6h4.3v5.2h-4.3zM501.6 423.6h4.3v5.2h-4.3zM604.4 423.6h4.3v5.2h-4.3zM630.1 423.6h4.3v5.2h-4.3zM681.5 423.6h4.3v5.2h-4.3zM694.3 423.6h4.3v5.2h-4.3zM732.9 423.6h4.3v5.2h-4.3zM741.4 423.6h4.3v5.2h-4.3zM754.3 423.6h4.3v5.2h-4.3zM767.1 423.6h4.3v5.2h-4.3zM784.2 423.6h4.3v5.2h-4.3zM792.8 423.6h4.3v5.2h-4.3zM801.4 423.6h4.3v5.2h-4.3zM809.9 423.6h4.3v5.2h-4.3zM938.4 423.6h4.3v5.2h-4.3zM951.2 423.6h4.3v5.2h-4.3zM985.5 423.6h4.3v5.2h-4.3zM1066.8 423.6h4.3v5.2h-4.3zM1075.4 423.6h4.3v5.2h-4.3zM1088.2 423.6h4.3v5.2h-4.3zM1109.6 423.6h4.3v5.2h-4.3zM1122.5 423.6h4.3v5.2h-4.3zM1126.8 423.6h4.3v5.2h-4.3zM1152.5 423.6h4.3v5.2h-4.3zM1178.1 423.6h4.3v5.2h-4.3zM1229.5 423.6h4.3v5.2h-4.3zM1285.2 423.6h4.3v5.2h-4.3zM1328 423.6h4.3v5.2h-4.3zM1349.4 423.6h4.3v5.2h-4.3zM1375.1 423.6h4.3v5.2h-4.3zM1387.9 423.6h4.3v5.2h-4.3zM1392.2 423.6h4.3v5.2h-4.3zM1396.5 423.6h4.3v5.2h-4.3zM1430.8 423.6h4.3v5.2h-4.3zM1456.5 423.6h4.3v5.2h-4.3zM420.3 428.8h4.3v5.2h-4.3zM424.6 428.8h4.3v5.2h-4.3zM446 428.8h4.3v5.2h-4.3zM476 428.8h4.3v5.2h-4.3zM488.8 428.8h4.3v5.2h-4.3zM497.4 428.8h4.3v5.2h-4.3zM501.6 428.8h4.3v5.2h-4.3zM531.6 428.8h4.3v5.2h-4.3zM535.9 428.8h4.3v5.2h-4.3zM540.2 428.8h4.3v5.2h-4.3zM565.9 428.8h4.3v5.2h-4.3zM583 428.8h4.3v5.2h-4.3zM595.8 428.8h4.3v5.2h-4.3zM647.2 428.8h4.3v5.2h-4.3zM664.4 428.8h4.3v5.2h-4.3zM690 428.8h4.3v5.2h-4.3zM698.6 428.8h4.3v5.2h-4.3zM737.1 428.8h4.3v5.2h-4.3zM741.4 428.8h4.3v5.2h-4.3zM767.1 428.8h4.3v5.2h-4.3zM775.7 428.8h4.3v5.2h-4.3zM809.9 428.8h4.3v5.2h-4.3zM827.1 428.8h4.3v5.2h-4.3zM938.4 428.8h4.3v5.2h-4.3zM942.7 428.8h4.3v5.2h-4.3zM976.9 428.8h4.3v5.2h-4.3zM994 428.8h4.3v5.2h-4.3zM1113.9 428.8h4.3v5.2h-4.3zM1118.2 428.8h4.3v5.2h-4.3zM1173.9 428.8h4.3v5.2h-4.3zM1208.1 428.8h4.3v5.2h-4.3zM1255.2 428.8h4.3v5.2h-4.3zM1306.6 428.8h4.3v5.2h-4.3zM1328 428.8h4.3v5.2h-4.3zM1387.9 428.8h4.3v5.2h-4.3zM1392.2 428.8h4.3v5.2h-4.3zM1435 428.8h4.3v5.2h-4.3zM1447.9 428.8h4.3v5.2h-4.3zM1452.2 428.8h4.3v5.2h-4.3zM587.3 434h4.3v5.2h-4.3zM865.6 434h4.3v5.2h-4.3zM964.1 434h4.3v5.2h-4.3zM1015.4 434h4.3v5.2h-4.3zM1182.4 434h4.3v5.2h-4.3zM1199.6 434h4.3v5.2h-4.3zM1233.8 434h4.3v5.2h-4.3zM1250.9 434h4.3v5.2h-4.3zM1362.3 434h4.3v5.2h-4.3zM1430.8 434h4.3v5.2h-4.3zM1049.7 439.2h4.3v5.2h-4.3zM1139.6 439.2h4.3v5.2h-4.3z"/>
<path fill="#35c3cf" d="M488.8 207.3h8.6v3h-8.6zM1302.3 229.8h4.3v3h-4.3zM1370.8 229.8h4.3v3h-4.3zM1143.9 237.4h4.3v3h-4.3zM1242.4 237.4h4.3v3h-4.3zM835.6 252.4h4.3v3h-4.3zM424.6 267.4h4.3v3h-4.3zM1199.6 271.2h4.3v3h-4.3zM437.4 278.7h4.3v3h-4.3zM411.7 290h8.6v3h-8.6zM882.7 290h4.3v3h-4.3zM981.2 290h8.6v3h-8.6zM433.1 301.3h4.3v3h-4.3zM702.9 308.8h8.6v3h-8.6zM942.7 308.8h4.3v3h-4.3zM1041.1 312.6h4.3v3h-4.3zM878.4 316.3h4.3v3h-4.3zM874.2 320.1h4.3v3h-4.3zM1430.8 320.1h8.6v3h-8.6zM518.8 323.8h4.3v3h-4.3zM1036.9 323.8h4.3v3h-4.3zM1182.4 323.8h4.3v3h-4.3zM428.9 470.4h8.6v4.4h-8.6zM480.2 470.4h8.6v4.4h-8.6zM758.5 470.4h4.3v4.4h-4.3zM1148.2 470.4h4.3v4.4h-4.3zM1302.3 470.4h8.6v4.4h-8.6zM1071.1 475.6h4.3v4.4h-4.3zM1465 480.8h4.3v4.4h-4.3zM403.2 486h4.3v4.4h-4.3zM471.7 486h4.3v4.4h-4.3zM908.4 486h4.3v4.4h-4.3zM1323.7 486h4.3v4.4h-4.3zM818.5 491.2h8.6v1.1h-8.6zM887 491.2h4.3v1.1h-4.3zM1289.5 491.2h8.6v1.1h-8.6zM1409.4 491.2h8.6v1.1h-8.6z"/>
<path fill="#3a8ad6" d="M921.2 196h4.3v3h-4.3zM1173.9 196h8.6v3h-8.6zM377.5 199.8h4.3v3h-4.3zM848.5 199.8h4.3v3h-4.3zM951.2 203.5h4.3v3h-4.3zM1113.9 203.5h8.6v5.6h-8.6zM702.9 207.3h8.6v3h-8.6zM1006.9 211h4.3v3h-4.3zM441.7 222.3h4.3v3h-4.3zM523.1 229.8h8.6v3h-8.6zM925.5 229.8h8.6v3h-8.6zM1126.8 229.8h8.6v3h-8.6zM1208.1 229.8h4.3v3h-4.3zM874.2 233.6h8.6v3h-8.6zM1015.4 233.6h4.3v3h-4.3zM711.4 237.4h8.6v3h-8.6zM416 244.9h4.3v3h-4.3zM745.7 248.6h8.6v5.6h-8.6zM1152.5 248.6h8.6v3h-8.6zM1285.2 248.6h4.3v3h-4.3zM1353.7 248.6h8.6v3h-8.6zM1036.9 252.4h8.6v3h-8.6zM1199.6 252.4h8.6v3h-8.6zM728.6 256.2h4.3v3h-4.3zM420.3 259.9h4.3v3h-4.3zM518.8 263.7h4.3v3h-4.3zM1152.5 263.7h4.3v3h-4.3zM655.8 271.2h4.3v3h-4.3zM1096.8 271.2h4.3v3h-4.3zM1071.1 275h8.6v3h-8.6zM1447.9 275h8.6v3h-8.6zM446 278.7h4.3v3h-4.3zM1370.8 286.2h4.3v3h-4.3zM570.2 290h8.6v3h-8.6zM1152.5 290h4.3v3h-4.3zM1383.7 290h4.3v3h-4.3zM454.6 293.8h4.3v3h-4.3zM715.7 293.8h8.6v5.6h-8.6zM1126.8 293.8h4.3v3h-4.3zM411.7 297.5h4.3v3h-4.3zM476 297.5h4.3v3h-4.3zM527.3 297.5h8.6v3h-8.6zM651.5 297.5h4.3v3h-4.3zM403.2 301.3h4.3v3h-4.3zM493.1 301.3h8.6v3h-8.6zM1439.3 301.3h4.3v3h-4.3zM1113.9 305h4.3v3h-4.3zM690 308.8h4.3v3h-4.3zM1216.7 308.8h4.3v3h-4.3zM1370.8 308.8h4.3v3h-4.3zM857 312.6h4.3v3h-4.3zM925.5 312.6h4.3v3h-4.3zM527.3 316.3h8.6v3h-8.6zM1409.4 316.3h8.6v3h-8.6zM934.1 320.1h4.3v3h-4.3zM1006.9 320.1h8.6v3h-8.6zM1148.2 320.1h4.3v3h-4.3zM1195.3 320.1h4.3v3h-4.3zM647.2 323.8h4.3v3h-4.3zM1439.3 323.8h8.6v3h-8.6zM531.6 327.6h4.3v3h-4.3zM621.5 327.6h8.6v5.6h-8.6zM976.9 327.6h4.3v3h-4.3zM1109.6 327.6h4.3v3h-4.3zM441.7 470.4h4.3v4.4h-4.3zM600.1 470.4h4.3v4.4h-4.3zM698.6 470.4h4.3v4.4h-4.3zM1054 470.4h8.6v4.4h-8.6zM1071.1 470.4h8.6v4.4h-8.6zM1242.4 470.4h4.3v4.4h-4.3zM1289.5 470.4h4.3v4.4h-4.3zM497.4 475.6h4.3v4.4h-4.3zM647.2 475.6h8.6v4.4h-8.6zM771.4 475.6h4.3v4.4h-4.3zM818.5 475.6h8.6v4.4h-8.6zM981.2 475.6h4.3v4.4h-4.3zM998.3 475.6h8.6v4.4h-8.6zM1011.2 475.6h8.6v4.4h-8.6zM1169.6 475.6h8.6v4.4h-8.6zM1203.8 475.6h8.6v4.4h-8.6zM1405.1 475.6h4.3v4.4h-4.3zM480.2 480.8h4.3v4.4h-4.3zM711.4 480.8h4.3v4.4h-4.3zM946.9 480.8h8.6v4.4h-8.6zM411.7 486h8.6v4.4h-8.6zM681.5 486h4.3v4.4h-4.3zM1019.7 486h4.3v4.4h-4.3zM1032.6 486h8.6v4.4h-8.6zM1122.5 486h4.3v4.4h-4.3zM1203.8 486h4.3v4.4h-4.3zM1225.2 486h8.6v4.4h-8.6zM1233.8 486h4.3v4.4h-4.3zM1238.1 486h4.3v4.4h-4.3zM1417.9 486h4.3v4.4h-4.3zM1430.8 486h4.3v4.4h-4.3zM1465 486h4.3v4.4h-4.3zM553 491.2h4.3v1.1h-4.3zM857 491.2h4.3v1.1h-4.3zM1396.5 491.2h4.3v1.1h-4.3z"/>
<path fill="#400ff2" d="M634.4 331.4h4.3v3.8h-4.3zM1276.6 331.4h8.6v3.8h-8.6zM390.3 335.1h8.6v3.8h-8.6zM981.2 335.1h8.6v3.8h-8.6zM1071.1 335.1h4.3v3.8h-4.3zM411.7 338.9h4.3v3.8h-4.3zM664.4 338.9h8.6v3.8h-8.6zM1036.9 338.9h8.6v3.8h-8.6zM1280.9 338.9h4.3v3.8h-4.3zM728.6 342.6h8.6v3.8h-8.6zM805.6 342.6h4.3v3.8h-4.3zM1165.3 342.6h4.3v3.8h-4.3zM1212.4 342.6h4.3v3.8h-4.3zM390.3 350.2h4.3v3.8h-4.3zM887 350.2h4.3v3.8h-4.3zM1298 350.2h8.6v3.8h-8.6zM1439.3 353.9h4.3v3.8h-4.3zM386 357.7h4.3v3.8h-4.3zM476 357.7h8.6v3.8h-8.6zM784.2 357.7h4.3v3.8h-4.3zM424.6 361.4h4.3v3.8h-4.3zM638.7 361.4h4.3v3.8h-4.3zM1379.4 361.4h4.3v3.8h-4.3zM476 365.2h4.3v3.8h-4.3zM488.8 369h4.3v3.8h-4.3zM1113.9 376.5h4.3v3.8h-4.3zM1032.6 380.2h8.6v3.8h-8.6zM745.7 449.6h4.3v5.2h-4.3zM1242.4 449.6h4.3v5.2h-4.3zM762.8 454.8h4.3v5.2h-4.3zM1259.5 454.8h8.6v5.2h-8.6zM921.2 460h4.3v5.2h-4.3zM1122.5 460h8.6v5.2h-8.6zM377.5 465.2h8.6v5.2h-8.6zM386 465.2h8.6v5.2h-8.6zM428.9 465.2h4.3v5.2h-4.3zM471.7 465.2h8.6v5.2h-8.6zM625.8 465.2h4.3v5.2h-4.3zM707.2 465.2h8.6v5.2h-8.6zM1272.3 465.2h8.6v5.2h-8.6zM1375.1 465.2h4.3v5.2h-4.3z"/>
<path fill="#4fed06" d="M493.1 376.5h4.3v3.8h-4.3zM1353.7 376.5h4.3v3.8h-4.3zM1417.9 376.5h8.6v3.8h-8.6zM407.5 380.2h4.3v3.8h-4.3zM497.4 380.2h4.3v3.8h-4.3zM655.8 384h4.3v3.8h-4.3zM1105.4 384h4.3v3.8h-4.3zM690 387.8h4.3v3.8h-4.3zM694.3 387.8h4.3v3.8h-4.3zM707.2 387.8h4.3v3.8h-4.3zM908.4 387.8h4.3v3.8h-4.3zM1024 387.8h8.6v3.8h-8.6zM471.7 395.3h4.3v3.8h-4.3zM574.4 395.3h4.3v3.8h-4.3zM642.9 395.3h4.3v3.8h-4.3zM446 399h4.3v3.8h-4.3zM501.6 399h4.3v3.8h-4.3zM505.9 399h4.3v3.8h-4.3zM578.7 399h4.3v3.8h-4.3zM634.4 399h4.3v3.8h-4.3zM655.8 399h4.3v3.8h-4.3zM664.4 399h4.3v3.8h-4.3zM694.3 399h4.3v3.8h-4.3zM698.6 399h4.3v3.8h-4.3zM715.7 399h4.3v3.8h-4.3zM792.8 399h4.3v3.8h-4.3zM797.1 399h4.3v3.8h-4.3zM934.1 399h4.3v3.8h-4.3zM1075.4 399h4.3v3.8h-4.3zM1285.2 399h4.3v3.8h-4.3zM1417.9 399h4.3v3.8h-4.3zM411.7 402.8h4.3v5.2h-4.3zM458.8 402.8h4.3v5.2h-4.3zM540.2 402.8h4.3v5.2h-4.3zM544.5 402.8h4.3v5.2h-4.3zM557.3 402.8h4.3v5.2h-4.3zM578.7 402.8h4.3v5.2h-4.3zM608.7 402.8h4.3v5.2h-4.3zM655.8 402.8h4.3v5.2h-4.3zM698.6 402.8h4.3v5.2h-4.3zM702.9 402.8h4.3v5.2h-4.3zM737.1 402.8h4.3v5.2h-4.3zM951.2 402.8h4.3v5.2h-4.3zM989.8 402.8h4.3v5.2h-4.3zM1015.4 402.8h4.3v5.2h-4.3zM1143.9 402.8h4.3v5.2h-4.3zM1182.4 402.8h4.3v5.2h-4.3zM1225.2 402.8h4.3v5.2h-4.3zM1259.5 402.8h4.3v5.2h-4.3zM1353.7 402.8h4.3v5.2h-4.3zM377.5 408h4.3v5.2h-4.3zM398.9 408h4.3v5.2h-4.3zM420.3 408h4.3v5.2h-4.3zM467.4 408h4.3v5.2h-4.3zM471.7 408h4.3v5.2h-4.3zM497.4 408h4.3v5.2h-4.3zM510.2 408h4.3v5.2h-4.3zM514.5 408h4.3v5.2h-4.3zM523.1 408h4.3v5.2h-4.3zM527.3 408h4.3v5.2h-4.3zM531.6 408h4.3v5.2h-4.3zM544.5 408h4.3v5.2h-4.3zM587.3 408h4.3v5.2h-4.3zM608.7 408h4.3v5.2h-4.3zM621.5 408h4.3v5.2h-4.3zM720 408h4.3v5.2h-4.3zM737.1 408h4.3v5.2h-4.3zM745.7 408h4.3v5.2h-4.3zM762.8 408h4.3v5.2h-4.3zM771.4 408h4.3v5.2h-4.3zM775.7 408h4.3v5.2h-4.3zM887 408h4.3v5.2h-4.3zM1011.2 408h4.3v5.2h-4.3zM1028.3 408h4.3v5.2h-4.3zM1118.2 408h4.3v5.2h-4.3zM1191 408h4.3v5.2h-4.3zM1208.1 408h4.3v5.2h-4.3zM1238.1 408h4.3v5.2h-4.3zM1255.2 408h4.3v5.2h-4.3zM1306.6 408h4.3v5.2h-4.3zM1336.6 408h4.3v5.2h-4.3zM1349.4 408h4.3v5.2h-4.3zM1353.7 408h4.3v5.2h-4.3zM1396.5 408h4.3v5.2h-4.3zM1409.4 408h4.3v5.2h-4.3zM1417.9 408h4.3v5.2h-4.3zM1435 408h4.3v5.2h-4.3zM1443.6 408h4.3v5.2h-4.3zM1460.7 408h4.3v5.2h-4.3zM403.2 413.2h4.3v5.2h-4.3zM416 413.2h4.3v5.2h-4.3zM424.6 413.2h4.3v5.2h-4.3zM480.2 413.2h4.3v5.2h-4.3zM493.1 413.2h4.3v5.2h-4.3zM523.1 413.2h4.3v5.2h-4.3zM527.3 413.2h4.3v5.2h-4.3zM548.7 413.2h4.3v5.2h-4.3zM553 413.2h4.3v5.2h-4.3zM664.4 413.2h4.3v5.2h-4.3zM694.3 413.2h4.3v5.2h-4.3zM702.9 413.2h4.3v5.2h-4.3zM715.7 413.2h4.3v5.2h-4.3zM724.3 413.2h4.3v5.2h-4.3zM750 413.2h4.3v5.2h-4.3zM818.5 413.2h4.3v5.2h-4.3zM839.9 413.2h4.3v5.2h-4.3zM951.2 413.2h4.3v5.2h-4.3zM985.5 413.2h4.3v5.2h-4.3zM994 413.2h4.3v5.2h-4.3zM1006.9 413.2h4.3v5.2h-4.3zM1015.4 413.2h4.3v5.2h-4.3zM1045.4 413.2h4.3v5.2h-4.3zM1049.7 413.2h4.3v5.2h-4.3zM1075.4 413.2h4.3v5.2h-4.3zM1079.7 413.2h4.3v5.2h-4.3zM1096.8 413.2h4.3v5.2h-4.3zM1113.9 413.2h4.3v5.2h-4.3zM1139.6 413.2h4.3v5.2h-4.3zM1161 413.2h4.3v5.2h-4.3zM1186.7 413.2h4.3v5.2h-4.3zM1191 413.2h4.3v5.2h-4.3zM1199.6 413.2h4.3v5.2h-4.3zM1216.7 413.2h4.3v5.2h-4.3zM1238.1 413.2h4.3v5.2h-4.3zM1276.6 413.2h4.3v5.2h-4.3zM1310.9 413.2h4.3v5.2h-4.3zM1353.7 413.2h4.3v5.2h-4.3zM1370.8 413.2h4.3v5.2h-4.3zM1392.2 413.2h4.3v5.2h-4.3zM1409.4 413.2h4.3v5.2h-4.3zM1422.2 413.2h4.3v5.2h-4.3zM377.5 418.4h4.3v5.2h-4.3zM386 418.4h4.3v5.2h-4.3zM390.3 418.4h4.3v5.2h-4.3zM394.6 418.4h4.3v5.2h-4.3zM398.9 418.4h4.3v5.2h-4.3zM411.7 418.4h4.3v5.2h-4.3zM420.3 418.4h4.3v5.2h-4.3zM428.9 418.4h4.3v5.2h-4.3zM463.1 418.4h4.3v5.2h-4.3zM476 418.4h4.3v5.2h-4.3zM570.2 418.4h4.3v5.2h-4.3zM685.8 418.4h4.3v5.2h-4.3zM702.9 418.4h4.3v5.2h-4.3zM715.7 418.4h4.3v5.2h-4.3zM720 418.4h4.3v5.2h-4.3zM728.6 418.4h4.3v5.2h-4.3zM732.9 418.4h4.3v5.2h-4.3zM741.4 418.4h4.3v5.2h-4.3zM750 418.4h4.3v5.2h-4.3zM809.9 418.4h4.3v5.2h-4.3zM827.1 418.4h4.3v5.2h-4.3zM831.3 418.4h4.3v5.2h-4.3zM852.7 418.4h4.3v5.2h-4.3zM942.7 418.4h4.3v5.2h-4.3zM981.2 418.4h4.3v5.2h-4.3zM985.5 418.4h4.3v5.2h-4.3zM1002.6 418.4h4.3v5.2h-4.3zM1011.2 418.4h4.3v5.2h-4.3zM1015.4 418.4h4.3v5.2h-4.3zM1028.3 418.4h4.3v5.2h-4.3zM1032.6 418.4h4.3v5.2h-4.3zM1049.7 418.4h4.3v5.2h-4.3zM1054 418.4h4.3v5.2h-4.3zM1079.7 418.4h4.3v5.2h-4.3zM1088.2 418.4h4.3v5.2h-4.3zM1092.5 418.4h4.3v5.2h-4.3zM1101.1 418.4h4.3v5.2h-4.3zM1152.5 418.4h4.3v5.2h-4.3zM1156.7 418.4h4.3v5.2h-4.3zM1169.6 418.4h4.3v5.2h-4.3zM1212.4 418.4h4.3v5.2h-4.3zM1221 418.4h4.3v5.2h-4.3zM1225.2 418.4h4.3v5.2h-4.3zM1246.7 418.4h4.3v5.2h-4.3zM1250.9 418.4h4.3v5.2h-4.3zM1259.5 418.4h4.3v5.2h-4.3zM1272.3 418.4h4.3v5.2h-4.3zM1298 418.4h4.3v5.2h-4.3zM1302.3 418.4h4.3v5.2h-4.3zM1306.6 418.4h4.3v5.2h-4.3zM1375.1 418.4h4.3v5.2h-4.3zM1392.2 418.4h4.3v5.2h-4.3zM1413.6 418.4h4.3v5.2h-4.3zM1435 418.4h4.3v5.2h-4.3zM407.5 423.6h4.3v5.2h-4.3zM416 423.6h4.3v5.2h-4.3zM424.6 423.6h4.3v5.2h-4.3zM480.2 423.6h4.3v5.2h-4.3zM484.5 423.6h4.3v5.2h-4.3zM510.2 423.6h4.3v5.2h-4.3zM531.6 423.6h4.3v5.2h-4.3zM540.2 423.6h4.3v5.2h-4.3zM544.5 423.6h4.3v5.2h-4.3zM557.3 423.6h4.3v5.2h-4.3zM561.6 423.6h4.3v5.2h-4.3zM565.9 423.6h4.3v5.2h-4.3zM638.7 423.6h4.3v5.2h-4.3zM642.9 423.6h4.3v5.2h-4.3zM655.8 423.6h4.3v5.2h-4.3zM750 423.6h4.3v5.2h-4.3zM771.4 423.6h4.3v5.2h-4.3zM775.7 423.6h4.3v5.2h-4.3zM797.1 423.6h4.3v5.2h-4.3zM831.3 423.6h4.3v5.2h-4.3zM925.5 423.6h4.3v5.2h-4.3zM981.2 423.6h4.3v5.2h-4.3zM989.8 423.6h4.3v5.2h-4.3zM998.3 423.6h4.3v5.2h-4.3zM1011.2 423.6h4.3v5.2h-4.3zM1045.4 423.6h4.3v5.2h-4.3zM1054 423.6h4.3v5.2h-4.3zM1105.4 423.6h4.3v5.2h-4.3zM1173.9 423.6h4.3v5.2h-4.3zM1191 423.6h4.3v5.2h-4.3zM1199.6 423.6h4.3v5.2h-4.3zM1255.2 423.6h4.3v5.2h-4.3zM1263.8 423.6h4.3v5.2h-4.3zM1272.3 423.6h4.3v5.2h-4.3zM1276.6 423.6h4.3v5.2h-4.3zM1319.4 423.6h4.3v5.2h-4.3zM1323.7 423.6h4.3v5.2h-4.3zM1340.9 423.6h4.3v5.2h-4.3zM1358 423.6h4.3v5.2h-4.3zM1366.5 423.6h4.3v5.2h-4.3zM1400.8 423.6h4.3v5.2h-4.3zM1405.1 423.6h4.3v5.2h-4.3zM1409.4 423.6h4.3v5.2h-4.3zM1422.2 423.6h4.3v5.2h-4.3zM454.6 428.8h4.3v5.2h-4.3zM480.2 428.8h4.3v5.2h-4.3zM484.5 428.8h4.3v5.2h-4.3zM514.5 428.8h4.3v5.2h-4.3zM527.3 428.8h4.3v5.2h-4.3zM561.6 428.8h4.3v5.2h-4.3zM578.7 428.8h4.3v5.2h-4.3zM604.4 428.8h4.3v5.2h-4.3zM613 428.8h4.3v5.2h-4.3zM634.4 428.8h4.3v5.2h-4.3zM672.9 428.8h4.3v5.2h-4.3zM677.2 428.8h4.3v5.2h-4.3zM694.3 428.8h4.3v5.2h-4.3zM707.2 428.8h4.3v5.2h-4.3zM711.4 428.8h4.3v5.2h-4.3zM724.3 428.8h4.3v5.2h-4.3zM754.3 428.8h4.3v5.2h-4.3zM762.8 428.8h4.3v5.2h-4.3zM784.2 428.8h4.3v5.2h-4.3zM989.8 428.8h4.3v5.2h-4.3zM998.3 428.8h4.3v5.2h-4.3zM1024 428.8h4.3v5.2h-4.3zM1041.1 428.8h4.3v5.2h-4.3zM1246.7 428.8h4.3v5.2h-4.3zM1259.5 428.8h4.3v5.2h-4.3zM1280.9 428.8h4.3v5.2h-4.3zM1332.3 428.8h4.3v5.2h-4.3zM1336.6 428.8h4.3v5.2h-4.3zM1366.5 428.8h4.3v5.2h-4.3zM1400.8 428.8h4.3v5.2h-4.3zM1430.8 428.8h4.3v5.2h-4.3zM394.6 434h4.3v5.2h-4.3zM420.3 434h4.3v5.2h-4.3zM458.8 434h4.3v5.2h-4.3zM848.5 434h4.3v5.2h-4.3zM904.1 434h4.3v5.2h-4.3zM1054 434h4.3v5.2h-4.3zM1443.6 434h4.3v5.2h-4.3z"/>
<path fill="#5211ef" d="M822.8 331.4h4.3v3.8h-4.3zM1208.1 331.4h4.3v3.8h-4.3zM1212.4 335.1h4.3v3.8h-4.3zM1216.7 346.4h8.6v3.8h-8.6zM484.5 350.2h8.6v3.8h-8.6zM565.9 357.7h4.3v3.8h-4.3zM1126.8 357.7h8.6v3.8h-8.6zM839.9 361.4h4.3v3.8h-4.3zM835.6 376.5h8.6v3.8h-8.6zM407.5 465.2h4.3v5.2h-4.3z"/>
<path fill="#5523c8" d="M895.6 196h4.3v3h-4.3zM917 199.8h4.3v3h-4.3zM720 207.3h8.6v3h-8.6zM578.7 211h4.3v3h-4.3zM831.3 211h8.6v3h-8.6zM1216.7 211h8.6v3h-8.6zM972.6 214.8h8.6v5.6h-8.6zM1191 214.8h4.3v3h-4.3zM720 218.6h4.3v3h-4.3zM732.9 218.6h8.6v3h-8.6zM1165.3 218.6h4.3v3h-4.3zM1216.7 218.6h4.3v3h-4.3zM1024 226.1h4.3v5.6h-4.3zM386 237.4h8.6v3h-8.6zM471.7 237.4h4.3v3h-4.3zM1328 237.4h8.6v3h-8.6zM1182.4 241.1h4.3v3h-4.3zM428.9 244.9h8.6v3h-8.6zM1161 244.9h8.6v3h-8.6zM454.6 248.6h4.3v3h-4.3zM664.4 248.6h4.3v3h-4.3zM677.2 248.6h8.6v3h-8.6zM720 256.2h4.3v3h-4.3zM1143.9 256.2h4.3v3h-4.3zM411.7 259.9h8.6v3h-8.6zM1148.2 259.9h8.6v5.6h-8.6zM544.5 263.7h4.3v3h-4.3zM865.6 263.7h4.3v3h-4.3zM428.9 267.4h4.3v3h-4.3zM869.9 271.2h8.6v3h-8.6zM989.8 271.2h4.3v3h-4.3zM998.3 271.2h4.3v3h-4.3zM630.1 275h4.3v3h-4.3zM698.6 275h4.3v3h-4.3zM715.7 275h4.3v3h-4.3zM1024 275h4.3v3h-4.3zM1045.4 275h4.3v3h-4.3zM450.3 278.7h4.3v3h-4.3zM570.2 278.7h8.6v3h-8.6zM630.1 282.5h8.6v3h-8.6zM1383.7 282.5h8.6v3h-8.6zM1426.5 282.5h8.6v3h-8.6zM630.1 286.2h8.6v3h-8.6zM1148.2 286.2h8.6v3h-8.6zM942.7 290h8.6v3h-8.6zM1276.6 290h8.6v3h-8.6zM1306.6 290h4.3v3h-4.3zM1332.3 290h4.3v3h-4.3zM450.3 293.8h4.3v3h-4.3zM771.4 293.8h4.3v3h-4.3zM857 293.8h4.3v3h-4.3zM1036.9 293.8h4.3v3h-4.3zM518.8 297.5h4.3v3h-4.3zM535.9 297.5h4.3v3h-4.3zM638.7 297.5h4.3v3h-4.3zM844.2 297.5h8.6v3h-8.6zM908.4 297.5h8.6v3h-8.6zM1002.6 297.5h8.6v3h-8.6zM1152.5 297.5h4.3v3h-4.3zM1387.9 297.5h8.6v3h-8.6zM720 301.3h4.3v3h-4.3zM1319.4 301.3h4.3v3h-4.3zM394.6 305h8.6v3h-8.6zM861.3 305h4.3v3h-4.3zM955.5 305h8.6v3h-8.6zM1041.1 305h4.3v3h-4.3zM467.4 308.8h8.6v3h-8.6zM634.4 308.8h4.3v3h-4.3zM1088.2 308.8h4.3v3h-4.3zM535.9 312.6h8.6v3h-8.6zM998.3 312.6h4.3v3h-4.3zM467.4 316.3h8.6v3h-8.6zM480.2 316.3h4.3v5.6h-4.3zM518.8 316.3h8.6v3h-8.6zM690 316.3h4.3v3h-4.3zM1058.3 316.3h4.3v3h-4.3zM544.5 320.1h4.3v3h-4.3zM1216.7 320.1h8.6v3h-8.6zM1392.2 320.1h4.3v3h-4.3zM711.4 323.8h4.3v3h-4.3zM899.8 323.8h8.6v3h-8.6zM1208.1 323.8h8.6v3h-8.6zM1349.4 323.8h8.6v3h-8.6zM433.1 327.6h4.3v3h-4.3zM390.3 470.4h4.3v4.4h-4.3zM647.2 470.4h4.3v4.4h-4.3zM677.2 470.4h4.3v4.4h-4.3zM711.4 470.4h4.3v4.4h-4.3zM1195.3 470.4h8.6v4.4h-8.6zM450.3 475.6h4.3v7h-4.3zM583 475.6h8.6v7h-8.6zM694.3 475.6h8.6v4.4h-8.6zM775.7 475.6h8.6v4.4h-8.6zM959.8 475.6h4.3v4.4h-4.3zM1049.7 475.6h8.6v4.4h-8.6zM1242.4 475.6h4.3v4.4h-4.3zM1345.1 475.6h4.3v4.4h-4.3zM1443.6 475.6h4.3v4.4h-4.3zM574.4 480.8h4.3v4.4h-4.3zM625.8 480.8h8.6v4.4h-8.6zM745.7 480.8h8.6v4.4h-8.6zM775.7 480.8h8.6v4.4h-8.6zM831.3 480.8h4.3v4.4h-4.3zM895.6 480.8h4.3v4.4h-4.3zM1062.5 480.8h8.6v4.4h-8.6zM1169.6 480.8h4.3v4.4h-4.3zM934.1 486h4.3v4.4h-4.3zM959.8 486h4.3v4.4h-4.3zM1435 486h4.3v4.4h-4.3zM441.7 491.2h4.3v1.1h-4.3zM523.1 491.2h4.3v3.7h-4.3zM561.6 491.2h4.3v1.1h-4.3zM617.3 491.2h4.3v1.1h-4.3zM677.2 491.2h4.3v1.1h-4.3zM711.4 491.2h8.6v1.1h-8.6zM827.1 491.2h4.3v1.1h-4.3zM976.9 491.2h4.3v1.1h-4.3zM1079.7 491.2h8.6v1.1h-8.6zM1417.9 491.2h8.6v1.1h-8.6zM1460.7 491.2h8.6v1.1h-8.6z"/>
<path fill="#5d18ec" d="M728.6 346.4h8.6v3.8h-8.6zM1161 357.7h8.6v3.8h-8.6zM784.2 365.2h4.3v3.8h-4.3zM531.6 465.2h8.6v5.2h-8.6z"/>
<path fill="#691fe8" d="M745.7 460h4.3v5.2h-4.3z"/>
<path fill="#6eef02" d="M1272.3 376.5h4.3v3.8h-4.3zM1435 376.5h4.3v3.8h-4.3zM411.7 380.2h4.3v3.8h-4.3zM514.5 380.2h4.3v3.8h-4.3zM617.3 380.2h4.3v3.8h-4.3zM1088.2 387.8h4.3v3.8h-4.3zM702.9 395.3h4.3v3.8h-4.3zM565.9 399h4.3v3.8h-4.3zM630.1 399h4.3v3.8h-4.3zM647.2 399h4.3v3.8h-4.3zM784.2 399h4.3v3.8h-4.3zM433.1 402.8h4.3v5.2h-4.3zM450.3 402.8h4.3v5.2h-4.3zM488.8 402.8h4.3v5.2h-4.3zM553 402.8h4.3v5.2h-4.3zM561.6 402.8h4.3v5.2h-4.3zM621.5 402.8h4.3v5.2h-4.3zM625.8 402.8h4.3v5.2h-4.3zM634.4 402.8h4.3v5.2h-4.3zM651.5 402.8h4.3v5.2h-4.3zM775.7 402.8h4.3v5.2h-4.3zM784.2 402.8h4.3v5.2h-4.3zM792.8 402.8h4.3v5.2h-4.3zM1011.2 402.8h4.3v5.2h-4.3zM1019.7 402.8h4.3v5.2h-4.3zM1178.1 402.8h4.3v5.2h-4.3zM1383.7 402.8h4.3v5.2h-4.3zM1409.4 402.8h4.3v5.2h-4.3zM1422.2 402.8h4.3v5.2h-4.3zM1443.6 402.8h4.3v5.2h-4.3zM373.2 408h4.3v5.2h-4.3zM407.5 408h4.3v5.2h-4.3zM476 408h4.3v5.2h-4.3zM501.6 408h4.3v5.2h-4.3zM518.8 408h4.3v5.2h-4.3zM535.9 408h4.3v5.2h-4.3zM540.2 408h4.3v5.2h-4.3zM570.2 408h4.3v5.2h-4.3zM647.2 408h4.3v5.2h-4.3zM651.5 408h4.3v5.2h-4.3zM660.1 408h4.3v5.2h-4.3zM664.4 408h4.3v5.2h-4.3zM668.6 408h4.3v5.2h-4.3zM681.5 408h4.3v5.2h-4.3zM741.4 408h4.3v5.2h-4.3zM758.5 408h4.3v5.2h-4.3zM805.6 408h4.3v5.2h-4.3zM865.6 408h4.3v5.2h-4.3zM968.3 408h4.3v5.2h-4.3zM998.3 408h4.3v5.2h-4.3zM1079.7 408h4.3v5.2h-4.3zM1203.8 408h4.3v5.2h-4.3zM1216.7 408h4.3v5.2h-4.3zM1242.4 408h4.3v5.2h-4.3zM1259.5 408h4.3v5.2h-4.3zM1263.8 408h4.3v5.2h-4.3zM1285.2 408h4.3v5.2h-4.3zM1289.5 408h4.3v5.2h-4.3zM1310.9 408h4.3v5.2h-4.3zM1366.5 408h4.3v5.2h-4.3zM1375.1 408h4.3v5.2h-4.3zM1379.4 408h4.3v5.2h-4.3zM1422.2 408h4.3v5.2h-4.3zM407.5 413.2h4.3v5.2h-4.3zM428.9 413.2h4.3v5.2h-4.3zM441.7 413.2h4.3v5.2h-4.3zM476 413.2h4.3v5.2h-4.3zM488.8 413.2h4.3v5.2h-4.3zM497.4 413.2h4.3v5.2h-4.3zM501.6 413.2h4.3v5.2h-4.3zM514.5 413.2h4.3v5.2h-4.3zM540.2 413.2h4.3v5.2h-4.3zM557.3 413.2h4.3v5.2h-4.3zM561.6 413.2h4.3v5.2h-4.3zM587.3 413.2h4.3v5.2h-4.3zM595.8 413.2h4.3v5.2h-4.3zM608.7 413.2h4.3v5.2h-4.3zM617.3 413.2h4.3v5.2h-4.3zM642.9 413.2h4.3v5.2h-4.3zM647.2 413.2h4.3v5.2h-4.3zM690 413.2h4.3v5.2h-4.3zM707.2 413.2h4.3v5.2h-4.3zM720 413.2h4.3v5.2h-4.3zM762.8 413.2h4.3v5.2h-4.3zM784.2 413.2h4.3v5.2h-4.3zM797.1 413.2h4.3v5.2h-4.3zM801.4 413.2h4.3v5.2h-4.3zM809.9 413.2h4.3v5.2h-4.3zM822.8 413.2h4.3v5.2h-4.3zM929.8 413.2h4.3v5.2h-4.3zM938.4 413.2h4.3v5.2h-4.3zM964.1 413.2h4.3v5.2h-4.3zM981.2 413.2h4.3v5.2h-4.3zM1062.5 413.2h4.3v5.2h-4.3zM1066.8 413.2h4.3v5.2h-4.3zM1148.2 413.2h4.3v5.2h-4.3zM1178.1 413.2h4.3v5.2h-4.3zM1221 413.2h4.3v5.2h-4.3zM1263.8 413.2h4.3v5.2h-4.3zM1306.6 413.2h4.3v5.2h-4.3zM1328 413.2h4.3v5.2h-4.3zM1345.1 413.2h4.3v5.2h-4.3zM1362.3 413.2h4.3v5.2h-4.3zM1387.9 413.2h4.3v5.2h-4.3zM1396.5 413.2h4.3v5.2h-4.3zM1405.1 413.2h4.3v5.2h-4.3zM1417.9 413.2h4.3v5.2h-4.3zM1426.5 413.2h4.3v5.2h-4.3zM373.2 418.4h4.3v5.2h-4.3zM407.5 418.4h4.3v5.2h-4.3zM484.5 418.4h4.3v5.2h-4.3zM501.6 418.4h4.3v5.2h-4.3zM510.2 418.4h4.3v5.2h-4.3zM527.3 418.4h4.3v5.2h-4.3zM548.7 418.4h4.3v5.2h-4.3zM574.4 418.4h4.3v5.2h-4.3zM591.6 418.4h4.3v5.2h-4.3zM625.8 418.4h4.3v5.2h-4.3zM651.5 418.4h4.3v5.2h-4.3zM664.4 418.4h4.3v5.2h-4.3zM707.2 418.4h4.3v5.2h-4.3zM711.4 418.4h4.3v5.2h-4.3zM724.3 418.4h4.3v5.2h-4.3zM737.1 418.4h4.3v5.2h-4.3zM771.4 418.4h4.3v5.2h-4.3zM784.2 418.4h4.3v5.2h-4.3zM805.6 418.4h4.3v5.2h-4.3zM818.5 418.4h4.3v5.2h-4.3zM917 418.4h4.3v5.2h-4.3zM934.1 418.4h4.3v5.2h-4.3zM955.5 418.4h4.3v5.2h-4.3zM964.1 418.4h4.3v5.2h-4.3zM989.8 418.4h4.3v5.2h-4.3zM998.3 418.4h4.3v5.2h-4.3zM1006.9 418.4h4.3v5.2h-4.3zM1058.3 418.4h4.3v5.2h-4.3zM1118.2 418.4h4.3v5.2h-4.3zM1195.3 418.4h4.3v5.2h-4.3zM1216.7 418.4h4.3v5.2h-4.3zM1233.8 418.4h4.3v5.2h-4.3zM1268.1 418.4h4.3v5.2h-4.3zM1328 418.4h4.3v5.2h-4.3zM1336.6 418.4h4.3v5.2h-4.3zM1353.7 418.4h4.3v5.2h-4.3zM1366.5 418.4h4.3v5.2h-4.3zM1370.8 418.4h4.3v5.2h-4.3zM1400.8 418.4h4.3v5.2h-4.3zM1417.9 418.4h4.3v5.2h-4.3zM1426.5 418.4h4.3v5.2h-4.3zM1443.6 418.4h4.3v5.2h-4.3zM458.8 423.6h4.3v5.2h-4.3zM471.7 423.6h4.3v5.2h-4.3zM493.1 423.6h4.3v5.2h-4.3zM497.4 423.6h4.3v5.2h-4.3zM505.9 423.6h4.3v5.2h-4.3zM514.5 423.6h4.3v5.2h-4.3zM527.3 423.6h4.3v5.2h-4.3zM535.9 423.6h4.3v5.2h-4.3zM548.7 423.6h4.3v5.2h-4.3zM570.2 423.6h4.3v5.2h-4.3zM583 423.6h4.3v5.2h-4.3zM591.6 423.6h4.3v5.2h-4.3zM651.5 423.6h4.3v5.2h-4.3zM660.1 423.6h4.3v5.2h-4.3zM677.2 423.6h4.3v5.2h-4.3zM934.1 423.6h4.3v5.2h-4.3zM1015.4 423.6h4.3v5.2h-4.3zM1024 423.6h4.3v5.2h-4.3zM1058.3 423.6h4.3v5.2h-4.3zM1101.1 423.6h4.3v5.2h-4.3zM1208.1 423.6h4.3v5.2h-4.3zM1221 423.6h4.3v5.2h-4.3zM1298 423.6h4.3v5.2h-4.3zM1306.6 423.6h4.3v5.2h-4.3zM1315.2 423.6h4.3v5.2h-4.3zM1370.8 423.6h4.3v5.2h-4.3zM1383.7 423.6h4.3v5.2h-4.3zM1417.9 423.6h4.3v5.2h-4.3zM1443.6 423.6h4.3v5.2h-4.3zM377.5 428.8h4.3v5.2h-4.3zM458.8 428.8h4.3v5.2h-4.3zM510.2 428.8h4.3v5.2h-4.3zM621.5 428.8h4.3v5.2h-4.3zM642.9 428.8h4.3v5.2h-4.3zM651.5 428.8h4.3v5.2h-4.3zM681.5 428.8h4.3v5.2h-4.3zM715.7 428.8h4.3v5.2h-4.3zM771.4 428.8h4.3v5.2h-4.3zM792.8 428.8h4.3v5.2h-4.3zM801.4 428.8h4.3v5.2h-4.3zM968.3 428.8h4.3v5.2h-4.3zM1002.6 428.8h4.3v5.2h-4.3zM1015.4 428.8h4.3v5.2h-4.3zM1019.7 428.8h4.3v5.2h-4.3zM1045.4 428.8h4.3v5.2h-4.3zM1203.8 428.8h4.3v5.2h-4.3zM1216.7 428.8h4.3v5.2h-4.3zM1413.6 428.8h4.3v5.2h-4.3zM1439.3 428.8h4.3v5.2h-4.3zM1079.7 434h4.3v5.2h-4.3zM1328 434h4.3v5.2h-4.3zM1246.7 439.2h4.3v5.2h-4.3z"/>
<path fill="#8df002" d="M540.2 380.2h4.3v3.8h-4.3zM827.1 387.8h8.6v3.8h-8.6zM989.8 395.3h4.3v3.8h-4.3zM809.9 399h4.3v3.8h-4.3zM595.8 402.8h4.3v5.2h-4.3zM630.1 402.8h4.3v5.2h-4.3zM642.9 402.8h4.3v5.2h-4.3zM728.6 402.8h4.3v5.2h-4.3zM386 408h4.3v5.2h-4.3zM416 408h4.3v5.2h-4.3zM463.1 408h4.3v5.2h-4.3zM480.2 408h4.3v5.2h-4.3zM493.1 408h4.3v5.2h-4.3zM595.8 408h4.3v5.2h-4.3zM604.4 408h4.3v5.2h-4.3zM613 408h4.3v5.2h-4.3zM625.8 408h4.3v5.2h-4.3zM642.9 408h4.3v5.2h-4.3zM672.9 408h4.3v5.2h-4.3zM677.2 408h4.3v5.2h-4.3zM724.3 408h4.3v5.2h-4.3zM976.9 408h4.3v5.2h-4.3zM989.8 408h4.3v5.2h-4.3zM1002.6 408h4.3v5.2h-4.3zM1092.5 408h4.3v5.2h-4.3zM1276.6 408h4.3v5.2h-4.3zM1302.3 408h4.3v5.2h-4.3zM1400.8 408h4.3v5.2h-4.3zM463.1 413.2h4.3v5.2h-4.3zM467.4 413.2h4.3v5.2h-4.3zM565.9 413.2h4.3v5.2h-4.3zM578.7 413.2h4.3v5.2h-4.3zM591.6 413.2h4.3v5.2h-4.3zM613 413.2h4.3v5.2h-4.3zM625.8 413.2h4.3v5.2h-4.3zM655.8 413.2h4.3v5.2h-4.3zM698.6 413.2h4.3v5.2h-4.3zM737.1 413.2h4.3v5.2h-4.3zM741.4 413.2h4.3v5.2h-4.3zM792.8 413.2h4.3v5.2h-4.3zM814.2 413.2h4.3v5.2h-4.3zM955.5 413.2h4.3v5.2h-4.3zM989.8 413.2h4.3v5.2h-4.3zM998.3 413.2h4.3v5.2h-4.3zM1071.1 413.2h4.3v5.2h-4.3zM1182.4 413.2h4.3v5.2h-4.3zM1259.5 413.2h4.3v5.2h-4.3zM1268.1 413.2h4.3v5.2h-4.3zM1272.3 413.2h4.3v5.2h-4.3zM1298 413.2h4.3v5.2h-4.3zM1319.4 413.2h4.3v5.2h-4.3zM1332.3 413.2h4.3v5.2h-4.3zM1366.5 413.2h4.3v5.2h-4.3zM1375.1 413.2h4.3v5.2h-4.3zM1400.8 413.2h4.3v5.2h-4.3zM1413.6 413.2h4.3v5.2h-4.3zM1430.8 413.2h4.3v5.2h-4.3zM450.3 418.4h4.3v5.2h-4.3zM505.9 418.4h4.3v5.2h-4.3zM531.6 418.4h4.3v5.2h-4.3zM557.3 418.4h4.3v5.2h-4.3zM561.6 418.4h4.3v5.2h-4.3zM587.3 418.4h4.3v5.2h-4.3zM608.7 418.4h4.3v5.2h-4.3zM617.3 418.4h4.3v5.2h-4.3zM647.2 418.4h4.3v5.2h-4.3zM681.5 418.4h4.3v5.2h-4.3zM698.6 418.4h4.3v5.2h-4.3zM762.8 418.4h4.3v5.2h-4.3zM801.4 418.4h4.3v5.2h-4.3zM814.2 418.4h4.3v5.2h-4.3zM844.2 418.4h4.3v5.2h-4.3zM976.9 418.4h4.3v5.2h-4.3zM994 418.4h4.3v5.2h-4.3zM1096.8 418.4h4.3v5.2h-4.3zM1242.4 418.4h4.3v5.2h-4.3zM1255.2 418.4h4.3v5.2h-4.3zM1293.8 418.4h4.3v5.2h-4.3zM1345.1 418.4h4.3v5.2h-4.3zM1383.7 418.4h4.3v5.2h-4.3zM1396.5 418.4h4.3v5.2h-4.3zM450.3 423.6h4.3v5.2h-4.3zM488.8 423.6h4.3v5.2h-4.3zM608.7 423.6h4.3v5.2h-4.3zM625.8 423.6h4.3v5.2h-4.3zM668.6 423.6h4.3v5.2h-4.3zM672.9 423.6h4.3v5.2h-4.3zM690 423.6h4.3v5.2h-4.3zM745.7 423.6h4.3v5.2h-4.3zM762.8 423.6h4.3v5.2h-4.3zM964.1 423.6h4.3v5.2h-4.3zM976.9 423.6h4.3v5.2h-4.3zM1041.1 423.6h4.3v5.2h-4.3zM1212.4 423.6h4.3v5.2h-4.3zM1246.7 423.6h4.3v5.2h-4.3zM1250.9 423.6h4.3v5.2h-4.3zM1293.8 423.6h4.3v5.2h-4.3zM1310.9 423.6h4.3v5.2h-4.3zM1439.3 423.6h4.3v5.2h-4.3zM471.7 428.8h4.3v5.2h-4.3zM493.1 428.8h4.3v5.2h-4.3zM518.8 428.8h4.3v5.2h-4.3zM625.8 428.8h4.3v5.2h-4.3zM638.7 428.8h4.3v5.2h-4.3zM655.8 428.8h4.3v5.2h-4.3zM780 428.8h4.3v5.2h-4.3zM1191 428.8h4.3v5.2h-4.3zM1272.3 428.8h4.3v5.2h-4.3zM681.5 434h4.3v5.2h-4.3z"/>
<path fill="#aff006" d="M1358 376.5h4.3v3.8h-4.3zM1084 387.8h4.3v3.8h-4.3zM480.2 402.8h4.3v5.2h-4.3zM1045.4 402.8h4.3v5.2h-4.3zM505.9 408h4.3v5.2h-4.3zM557.3 408h4.3v5.2h-4.3zM565.9 408h4.3v5.2h-4.3zM583 408h4.3v5.2h-4.3zM638.7 408h4.3v5.2h-4.3zM685.8 408h4.3v5.2h-4.3zM788.5 408h4.3v5.2h-4.3zM1058.3 408h4.3v5.2h-4.3zM1319.4 408h4.3v5.2h-4.3zM1405.1 408h4.3v5.2h-4.3zM630.1 413.2h4.3v5.2h-4.3zM638.7 413.2h4.3v5.2h-4.3zM651.5 413.2h4.3v5.2h-4.3zM668.6 413.2h4.3v5.2h-4.3zM681.5 413.2h4.3v5.2h-4.3zM711.4 413.2h4.3v5.2h-4.3zM732.9 413.2h4.3v5.2h-4.3zM1002.6 413.2h4.3v5.2h-4.3zM1250.9 413.2h4.3v5.2h-4.3zM1383.7 413.2h4.3v5.2h-4.3zM471.7 418.4h4.3v5.2h-4.3zM497.4 418.4h4.3v5.2h-4.3zM540.2 418.4h4.3v5.2h-4.3zM595.8 418.4h4.3v5.2h-4.3zM604.4 418.4h4.3v5.2h-4.3zM613 418.4h4.3v5.2h-4.3zM621.5 418.4h4.3v5.2h-4.3zM630.1 418.4h4.3v5.2h-4.3zM642.9 418.4h4.3v5.2h-4.3zM668.6 418.4h4.3v5.2h-4.3zM780 418.4h4.3v5.2h-4.3zM797.1 418.4h4.3v5.2h-4.3zM968.3 418.4h4.3v5.2h-4.3zM1019.7 418.4h4.3v5.2h-4.3zM1332.3 418.4h4.3v5.2h-4.3zM398.9 423.6h4.3v5.2h-4.3zM454.6 423.6h4.3v5.2h-4.3zM553 423.6h4.3v5.2h-4.3zM587.3 423.6h4.3v5.2h-4.3zM621.5 423.6h4.3v5.2h-4.3zM664.4 423.6h4.3v5.2h-4.3zM702.9 423.6h4.3v5.2h-4.3zM814.2 423.6h4.3v5.2h-4.3zM1345.1 423.6h4.3v5.2h-4.3zM630.1 428.8h4.3v5.2h-4.3zM1417.9 428.8h4.3v5.2h-4.3zM428.9 434h4.3v5.2h-4.3zM1011.2 434h4.3v5.2h-4.3z"/>
<path fill="#d1f00b" d="M1225.2 376.5h4.3v3.8h-4.3zM377.5 380.2h4.3v3.8h-4.3zM544.5 380.2h4.3v3.8h-4.3zM578.7 408h4.3v5.2h-4.3zM707.2 408h4.3v5.2h-4.3zM621.5 413.2h4.3v5.2h-4.3zM660.1 413.2h4.3v5.2h-4.3zM788.5 413.2h4.3v5.2h-4.3zM454.6 418.4h4.3v5.2h-4.3zM553 418.4h4.3v5.2h-4.3zM600.1 418.4h4.3v5.2h-4.3zM634.4 418.4h4.3v5.2h-4.3zM660.1 418.4h4.3v5.2h-4.3zM745.7 418.4h4.3v5.2h-4.3zM1280.9 418.4h4.3v5.2h-4.3zM1310.9 418.4h4.3v5.2h-4.3zM634.4 423.6h4.3v5.2h-4.3zM698.6 423.6h4.3v5.2h-4.3zM715.7 423.6h4.3v5.2h-4.3zM1413.6 423.6h4.3v5.2h-4.3z"/>
<path fill="#f3f00f" d="M630.1 408h4.3v5.2h-4.3zM505.9 413.2h4.3v5.2h-4.3zM544.5 418.4h4.3v5.2h-4.3zM638.7 418.4h4.3v5.2h-4.3zM1409.4 418.4h4.3v5.2h-4.3z"/>
<rect x="413" y="195.8" width="4.5" height="297.2" fill="#fff" fill-opacity="1"/>
<rect x="488.5" y="195.8" width="2" height="297.2" fill="#fff" fill-opacity="0.5"/>
<rect x="559.5" y="195.8" width="4.5" height="297.2" fill="#fff" fill-opacity="1"/>
<rect x="632.5" y="195.8" width="2.5" height="297.2" fill="#fff" fill-opacity="0.6"/>
<rect x="1127.5" y="195.8" width="2" height="297.2" fill="#fff" fill-opacity="0.5"/>
<rect x="1200.5" y="195.8" width="4.5" height="297.2" fill="#fff" fill-opacity="1"/>
<rect x="1274.5" y="195.8" width="3" height="297.2" fill="#fff" fill-opacity="0.8"/>
<rect x="1348.5" y="195.8" width="4" height="297.2" fill="#fff" fill-opacity="1"/>
<rect x="1422" y="195.8" width="2.5" height="297.2" fill="#fff" fill-opacity="0.6"/>
</g>
<path d="M372 436L1471.9 436" stroke="#000" stroke-width="2.6" fill="none"/>
<path d="M360 194.4L1483.9 194.4" stroke="#000" stroke-width="3" fill="none"/>
<path d="M360 494.4L1483.9 494.4" stroke="#000" stroke-width="2.7" fill="none"/>
<path d="M372 194.4L372 494.4" stroke="#000" stroke-width="2" fill="none"/>
<path d="M1471.9 194.4L1471.9 494.4" stroke="#000" stroke-width="2" fill="none"/>
<path d="M419.4 194.4v8M466.4 194.4v8M512.1 194.4v8M559.2 194.4v8M606.2 194.4v8M694.8 194.4v8M741.8 194.4v8M787.5 194.4v8M834.6 194.4v8M881.6 194.4v8M970.2 194.4v8M1017.2 194.4v8M1062.9 194.4v8M1110 194.4v8M1157 194.4v8M1247.9 194.4v8M1294.9 194.4v8M1340.6 194.4v8M1387.7 194.4v8M1434.7 194.4v8" stroke="#000" stroke-width="2.8" fill="none"/>
<path d="M652.1 194.4v11.5M927.5 194.4v11.5M1205.2 194.4v11.5" stroke="#000" stroke-width="2.8" fill="none"/>
<path d="M419.4 494.4v-8M466.4 494.4v-8M512.1 494.4v-8M559.2 494.4v-8M606.2 494.4v-8M694.8 494.4v-8M741.8 494.4v-8M787.5 494.4v-8M834.6 494.4v-8M881.6 494.4v-8M970.2 494.4v-8M1017.2 494.4v-8M1062.9 494.4v-8M1110 494.4v-8M1157 494.4v-8M1247.9 494.4v-8M1294.9 494.4v-8M1340.6 494.4v-8M1387.7 494.4v-8M1434.7 494.4v-8" stroke="#000" stroke-width="2.8" fill="none"/>
<path d="M652.1 494.4v-11.5M927.5 494.4v-11.5M1205.2 494.4v-11.5" stroke="#000" stroke-width="2.8" fill="none"/>
<path d="M372 471.8h-8.5M372 458.6h-8.5M372 449.2h-8.5M372 441.9h-8.5M372 436h-8.5M372 430.9h-8.5M372 426.6h-8.5M372 422.7h-8.5M372 396.7h-8.5M372 383.5h-8.5M372 374.1h-8.5M372 366.8h-8.5M372 360.9h-8.5M372 355.8h-8.5M372 351.5h-8.5M372 347.6h-8.5M372 321.6h-8.5M372 308.4h-8.5M372 299h-8.5M372 291.7h-8.5M372 285.8h-8.5M372 280.7h-8.5M372 276.4h-8.5M372 272.5h-8.5M372 246.5h-8.5M372 233.3h-8.5M372 223.9h-8.5M372 216.6h-8.5M372 210.7h-8.5M372 205.6h-8.5M372 201.3h-8.5M372 197.4h-8.5" stroke="#000" stroke-width="3" fill="none"/>
<path d="M372 494.4h-11M372 419.3h-11M372 344.2h-11M372 269.1h-11M372 194h-11" stroke="#000" stroke-width="3.6" fill="none"/>
<text transform="translate(344.9,200.3) scale(0.950,1)" font-size="15.5" text-anchor="end" fill="#000">10</text>
<text transform="translate(345.9,192.5) scale(0.950,1)" font-size="11" text-anchor="start" fill="#000">4</text>
<text transform="translate(344.9,275.4) scale(0.950,1)" font-size="15.5" text-anchor="end" fill="#000">10</text>
<text transform="translate(345.9,267.6) scale(0.950,1)" font-size="11" text-anchor="start" fill="#000">3</text>
<text transform="translate(344.9,350.5) scale(0.950,1)" font-size="15.5" text-anchor="end" fill="#000">10</text>
<text transform="translate(345.9,342.7) scale(0.950,1)" font-size="11" text-anchor="start" fill="#000">2</text>
<text transform="translate(344.9,425.6) scale(0.950,1)" font-size="15.5" text-anchor="end" fill="#000">10</text>
<text transform="translate(345.9,417.8) scale(0.950,1)" font-size="11" text-anchor="start" fill="#000">1</text>
<path d="M1471.9 199.9h9M1471.9 205.4h9M1471.9 210.9h9M1471.9 216.4h9M1471.9 221.9h9M1471.9 227.3h9M1471.9 232.8h9M1471.9 238.3h9M1471.9 243.8h9M1471.9 249.3h9M1471.9 254.8h9M1471.9 260.3h9M1471.9 265.8h9M1471.9 271.3h9M1471.9 276.8h9M1471.9 282.2h9M1471.9 287.7h9M1471.9 293.2h9M1471.9 298.7h9M1471.9 304.2h9M1471.9 309.7h9M1471.9 315.2h9M1471.9 320.7h9M1471.9 326.2h9M1471.9 331.7h9M1471.9 337.1h9M1471.9 342.6h9M1471.9 348.1h9M1471.9 353.6h9M1471.9 359.1h9M1471.9 364.6h9M1471.9 370.1h9M1471.9 375.6h9M1471.9 381.1h9M1471.9 386.6h9M1471.9 392h9M1471.9 397.5h9M1471.9 403h9M1471.9 408.5h9M1471.9 414h9M1471.9 419.5h9M1471.9 425h9M1471.9 430.5h9M1471.9 436h9M1471.9 441.5h9M1471.9 446.9h9M1471.9 452.4h9M1471.9 457.9h9M1471.9 463.4h9M1471.9 468.9h9M1471.9 474.4h9M1471.9 479.9h9M1471.9 485.4h9M1471.9 490.9h9" stroke="#000" stroke-width="2.3" fill="none"/>
<path d="M1471.9 194.8h12M1471.9 255.2h12M1471.9 315.6h12M1471.9 376h12M1471.9 436.3h12" stroke="#000" stroke-width="2.6" fill="none"/>
<text transform="translate(1489.5,200.4)" font-size="16" text-anchor="start" fill="#000">4</text>
<text transform="translate(1489.5,260.8)" font-size="16" text-anchor="start" fill="#000">3</text>
<text transform="translate(1489.5,319.4)" font-size="16" text-anchor="start" fill="#000">2</text>
<text transform="translate(1489.5,380.6)" font-size="16" text-anchor="start" fill="#000">1</text>
<text transform="translate(1489.5,441.9)" font-size="16" text-anchor="start" fill="#000">0</text>
<text transform="translate(373,158) scale(1.045,1)" font-size="21" text-anchor="start" fill="#000">MEx ELS-04 LR</text>
<text transform="translate(373,186) scale(1.045,1)" font-size="21" text-anchor="start" fill="#000">MEx ELS-04 HR</text>
<text transform="translate(280.5,344.5) rotate(-90) scale(1.045,1)" font-size="21" text-anchor="middle" fill="#000">Electron Energy</text>
<text transform="translate(303,344.5) rotate(-90) scale(1.045,1)" font-size="21" text-anchor="middle" fill="#000">eV</text>
<text transform="translate(1601,345) rotate(90) scale(1.045,1)" font-size="21" text-anchor="middle" fill="#000">Sensor Data</text>
<text transform="translate(1579.5,345) rotate(90) scale(1.045,1)" font-size="21" text-anchor="middle" fill="#000">Sun/Surface/MEx</text>
<text transform="translate(1554,345) rotate(90) scale(1.045,1)" font-size="21" text-anchor="middle" fill="#000">Flag</text>
<text transform="translate(1532,345) rotate(90) scale(1.045,1)" font-size="21" text-anchor="middle" fill="#000">unitless</text>
<g shape-rendering="crispEdges">
<path fill="#00e6f0" d="M676.6 583.5h9.2v3.5h-9.2zM1106.3 590.4h9.2v3.5h-9.2zM749.8 597.3h9.2v3.5h-9.2zM768.1 597.3h9.2v3.5h-9.2zM603.5 607.6h9.2v3.5h-9.2zM1225.1 618h9.2v3.5h-9.2zM1334.8 618h9.2v3.5h-9.2zM1252.5 631.8h9.2v3.5h-9.2zM1298.2 638.7h9.2v3.5h-9.2zM1298.2 645.6h9.2v3.5h-9.2zM512.1 649h9.2v3.5h-9.2zM1225.1 649h9.2v3.5h-9.2zM694.9 652.5h9.2v3.5h-9.2zM704.1 652.5h9.2v3.5h-9.2zM722.4 659.4h9.2v3.5h-9.2zM859.5 666.3h9.2v3.5h-9.2zM1106.3 669.7h9.2v3.5h-9.2zM978.3 676.6h9.2v3.5h-9.2zM987.4 676.6h9.2v3.5h-9.2zM996.6 676.6h9.2v3.5h-9.2zM795.5 680.1h9.2v3.5h-9.2zM567 683.5h9.2v3.5h-9.2zM1261.7 704.2h9.2v3.5h-9.2zM1005.7 707.7h9.2v3.5h-9.2zM1298.2 707.7h9.2v3.5h-9.2zM539.5 714.6h9.2v3.5h-9.2zM941.7 721.5h9.2v3.5h-9.2zM1133.7 721.5h9.2v3.5h-9.2zM1380.5 721.5h9.2v3.5h-9.2zM1307.4 724.9h9.2v3.5h-9.2zM1316.5 724.9h9.2v3.5h-9.2zM1407.9 728.4h9.2v3.5h-9.2zM649.2 731.8h9.2v3.5h-9.2zM1444.5 738.7h9.2v3.5h-9.2zM1197.7 745.6h9.2v3.5h-9.2zM411.6 749.1h9.2v3.5h-9.2zM1252.5 756h9.2v3.5h-9.2zM1033.1 759.4h9.2v3.5h-9.2zM411.6 769.8h9.2v3.9h-9.2zM722.4 769.8h9.2v3.9h-9.2zM1398.8 788.7h9.2v6.4h-9.2zM548.7 795h9.2v7.2h-9.2zM1033.1 802.2h9.2v8.2h-9.2zM1097.1 838.5h9.2v4.5h-9.2z"/>
<path fill="#00e8b9" d="M667.5 583.5h9.2v3.5h-9.2zM493.8 586.9h9.2v3.5h-9.2zM594.4 607.6h9.2v3.5h-9.2zM749.8 624.9h9.2v3.5h-9.2zM567 642.1h9.2v3.5h-9.2zM585.2 642.1h9.2v3.5h-9.2zM612.7 642.1h9.2v3.5h-9.2zM1289.1 645.6h9.2v3.5h-9.2zM804.6 652.5h9.2v3.5h-9.2zM749.8 676.6h9.2v3.5h-9.2zM1444.5 704.2h9.2v3.5h-9.2zM630.9 707.7h9.2v3.5h-9.2zM530.4 714.6h9.2v3.5h-9.2zM758.9 714.6h9.2v3.5h-9.2zM1024 731.8h9.2v3.5h-9.2zM548.7 752.5h9.2v3.5h-9.2zM576.1 778.1h9.2v5h-9.2zM1124.5 788.7h9.2v6.4h-9.2zM1170.3 788.7h9.2v6.4h-9.2zM777.2 819.5h9.2v9.6h-9.2z"/>
<path fill="#00e8d6" d="M1426.2 580h9.2v3.5h-9.2zM1462.8 580h9.2v3.5h-9.2zM960 590.4h9.2v3.5h-9.2zM758.9 597.3h9.2v3.5h-9.2zM594.4 604.2h9.2v3.5h-9.2zM694.9 638.7h9.2v3.5h-9.2zM704.1 638.7h9.2v3.5h-9.2zM603.5 642.1h9.2v3.5h-9.2zM786.3 649h9.2v3.5h-9.2zM1197.7 669.7h9.2v3.5h-9.2zM1389.6 673.2h9.2v3.5h-9.2zM1407.9 673.2h9.2v3.5h-9.2zM960 676.6h9.2v3.5h-9.2zM969.2 676.6h9.2v3.5h-9.2zM1005.7 676.6h9.2v3.5h-9.2zM1014.9 676.6h9.2v3.5h-9.2zM786.3 680.1h9.2v3.5h-9.2zM621.8 707.7h9.2v3.5h-9.2zM722.4 707.7h9.2v3.5h-9.2zM1060.6 707.7h9.2v3.5h-9.2zM768.1 714.6h9.2v3.5h-9.2zM393.3 735.3h9.2v3.5h-9.2zM420.7 735.3h9.2v3.5h-9.2zM740.6 752.5h9.2v3.5h-9.2zM1243.4 756h9.2v3.5h-9.2zM649.2 766.3h9.2v3.5h-9.2zM1133.7 788.7h9.2v6.4h-9.2zM1152 788.7h9.2v6.4h-9.2zM1161.1 788.7h9.2v6.4h-9.2zM1307.4 788.7h9.2v6.4h-9.2zM493.8 795h9.2v7.2h-9.2zM850.3 802.2h9.2v8.2h-9.2zM576.1 838.5h9.2v4.5h-9.2zM1088 838.5h9.2v4.5h-9.2zM1106.3 838.5h9.2v4.5h-9.2z"/>
<path fill="#04d0f0" d="M1435.3 580h9.2v3.5h-9.2zM1298.2 583.5h9.2v3.5h-9.2zM503 586.9h9.2v3.5h-9.2zM740.6 597.3h9.2v3.5h-9.2zM804.6 597.3h9.2v3.5h-9.2zM1462.8 597.3h9.2v3.5h-9.2zM1115.4 600.7h9.2v3.5h-9.2zM1270.8 600.7h9.2v3.5h-9.2zM1115.4 607.6h9.2v3.5h-9.2zM420.7 621.4h9.2v3.5h-9.2zM429.8 621.4h9.2v3.5h-9.2zM1225.1 621.4h9.2v3.5h-9.2zM512.1 628.3h9.2v3.5h-9.2zM384.1 631.8h9.2v3.5h-9.2zM1261.7 631.8h9.2v3.5h-9.2zM1289.1 638.7h9.2v3.5h-9.2zM576.1 642.1h9.2v3.5h-9.2zM594.4 642.1h9.2v3.5h-9.2zM795.5 652.5h9.2v3.5h-9.2zM850.3 666.3h9.2v3.5h-9.2zM1398.8 673.2h9.2v3.5h-9.2zM685.8 676.6h9.2v3.5h-9.2zM1234.2 680.1h9.2v3.5h-9.2zM1243.4 680.1h9.2v3.5h-9.2zM877.7 683.5h9.2v3.5h-9.2zM1270.8 704.2h9.2v3.5h-9.2zM685.8 714.6h9.2v3.5h-9.2zM749.8 714.6h9.2v3.5h-9.2zM1170.3 714.6h9.2v3.5h-9.2zM1197.7 714.6h9.2v3.5h-9.2zM1142.8 721.5h9.2v3.5h-9.2zM1152 721.5h9.2v3.5h-9.2zM1188.5 721.5h9.2v3.5h-9.2zM1206.8 745.6h9.2v3.5h-9.2zM1334.8 749.1h9.2v3.5h-9.2zM649.2 756h9.2v3.5h-9.2zM1234.2 756h9.2v3.5h-9.2zM539.5 762.9h9.2v3.5h-9.2zM1088 762.9h9.2v3.5h-9.2zM402.4 769.8h9.2v3.9h-9.2zM1142.8 788.7h9.2v6.4h-9.2zM557.8 795h9.2v7.2h-9.2zM1078.8 838.5h9.2v4.5h-9.2z"/>
<path fill="#09b9f0" d="M1115.4 669.7h9.2v3.5h-9.2zM1325.6 680.1h9.2v3.5h-9.2z"/>
<path fill="#0a11f8" d="M493.8 580h9.2v3.5h-9.2zM576.1 580h9.2v3.5h-9.2zM594.4 580h9.2v3.5h-9.2zM603.5 580h9.2v3.5h-9.2zM630.9 580h9.2v3.5h-9.2zM640.1 580h9.2v3.5h-9.2zM676.6 580h9.2v3.5h-9.2zM859.5 580h9.2v3.5h-9.2zM960 580h9.2v3.5h-9.2zM987.4 580h9.2v3.5h-9.2zM996.6 580h9.2v3.5h-9.2zM1152 580h9.2v3.5h-9.2zM1453.6 580h9.2v3.5h-9.2zM402.4 583.5h9.2v3.5h-9.2zM484.7 583.5h9.2v3.5h-9.2zM585.2 583.5h9.2v3.5h-9.2zM603.5 583.5h9.2v3.5h-9.2zM932.6 583.5h9.2v3.5h-9.2zM1024 583.5h9.2v3.5h-9.2zM1033.1 583.5h9.2v3.5h-9.2zM1042.3 583.5h9.2v3.5h-9.2zM1142.8 583.5h9.2v3.5h-9.2zM1261.7 583.5h9.2v3.5h-9.2zM484.7 586.9h9.2v3.5h-9.2zM512.1 586.9h9.2v3.5h-9.2zM603.5 586.9h9.2v3.5h-9.2zM676.6 586.9h9.2v3.5h-9.2zM685.8 586.9h9.2v3.5h-9.2zM1234.2 586.9h9.2v3.5h-9.2zM512.1 590.4h9.2v3.5h-9.2zM567 590.4h9.2v3.5h-9.2zM704.1 590.4h9.2v3.5h-9.2zM914.3 590.4h9.2v3.5h-9.2zM996.6 590.4h9.2v3.5h-9.2zM1097.1 590.4h9.2v3.5h-9.2zM1206.8 590.4h9.2v3.5h-9.2zM1261.7 590.4h9.2v3.5h-9.2zM1426.2 590.4h9.2v3.5h-9.2zM512.1 593.8h9.2v3.5h-9.2zM521.3 593.8h9.2v3.5h-9.2zM539.5 593.8h9.2v3.5h-9.2zM548.7 593.8h9.2v3.5h-9.2zM740.6 593.8h9.2v3.5h-9.2zM749.8 593.8h9.2v3.5h-9.2zM1161.1 593.8h9.2v3.5h-9.2zM1170.3 593.8h9.2v3.5h-9.2zM1188.5 593.8h9.2v3.5h-9.2zM1206.8 593.8h9.2v3.5h-9.2zM1353.1 593.8h9.2v3.5h-9.2zM466.4 597.3h9.2v3.5h-9.2zM512.1 597.3h9.2v3.5h-9.2zM521.3 597.3h9.2v3.5h-9.2zM1115.4 597.3h9.2v3.5h-9.2zM1362.2 597.3h9.2v3.5h-9.2zM402.4 600.7h9.2v3.5h-9.2zM448.1 600.7h9.2v3.5h-9.2zM557.8 600.7h9.2v3.5h-9.2zM649.2 600.7h9.2v3.5h-9.2zM658.4 600.7h9.2v3.5h-9.2zM813.8 600.7h9.2v3.5h-9.2zM822.9 600.7h9.2v3.5h-9.2zM841.2 600.7h9.2v3.5h-9.2zM886.9 600.7h9.2v3.5h-9.2zM905.2 600.7h9.2v3.5h-9.2zM1343.9 600.7h9.2v3.5h-9.2zM1398.8 600.7h9.2v3.5h-9.2zM503 604.2h9.2v3.5h-9.2zM649.2 604.2h9.2v3.5h-9.2zM694.9 604.2h9.2v3.5h-9.2zM777.2 604.2h9.2v3.5h-9.2zM786.3 604.2h9.2v3.5h-9.2zM877.7 604.2h9.2v3.5h-9.2zM1142.8 604.2h9.2v3.5h-9.2zM1179.4 604.2h9.2v3.5h-9.2zM1206.8 604.2h9.2v3.5h-9.2zM1216 604.2h9.2v3.5h-9.2zM1334.8 604.2h9.2v3.5h-9.2zM1462.8 604.2h9.2v3.5h-9.2zM777.2 607.6h9.2v3.5h-9.2zM941.7 607.6h9.2v3.5h-9.2zM987.4 607.6h9.2v3.5h-9.2zM1060.6 607.6h9.2v3.5h-9.2zM1078.8 607.6h9.2v3.5h-9.2zM1243.4 607.6h9.2v3.5h-9.2zM1261.7 607.6h9.2v3.5h-9.2zM1298.2 607.6h9.2v3.5h-9.2zM1334.8 607.6h9.2v3.5h-9.2zM1417.1 607.6h9.2v3.5h-9.2zM411.6 611.1h9.2v3.5h-9.2zM429.8 611.1h9.2v3.5h-9.2zM722.4 611.1h9.2v3.5h-9.2zM740.6 611.1h9.2v3.5h-9.2zM886.9 611.1h9.2v3.5h-9.2zM896 611.1h9.2v3.5h-9.2zM1161.1 611.1h9.2v3.5h-9.2zM1225.1 611.1h9.2v3.5h-9.2zM1270.8 611.1h9.2v3.5h-9.2zM1389.6 611.1h9.2v3.5h-9.2zM1398.8 611.1h9.2v3.5h-9.2zM1417.1 611.1h9.2v3.5h-9.2zM1453.6 611.1h9.2v3.5h-9.2zM512.1 614.5h9.2v3.5h-9.2zM521.3 614.5h9.2v3.5h-9.2zM539.5 614.5h9.2v3.5h-9.2zM630.9 614.5h9.2v3.5h-9.2zM694.9 614.5h9.2v3.5h-9.2zM740.6 614.5h9.2v3.5h-9.2zM758.9 614.5h9.2v3.5h-9.2zM795.5 614.5h9.2v3.5h-9.2zM1078.8 614.5h9.2v3.5h-9.2zM1316.5 614.5h9.2v3.5h-9.2zM1371.4 614.5h9.2v3.5h-9.2zM384.1 618h9.2v3.5h-9.2zM475.5 618h9.2v3.5h-9.2zM594.4 618h9.2v3.5h-9.2zM676.6 618h9.2v3.5h-9.2zM694.9 618h9.2v3.5h-9.2zM749.8 618h9.2v3.5h-9.2zM832 618h9.2v3.5h-9.2zM896 618h9.2v3.5h-9.2zM923.5 618h9.2v3.5h-9.2zM969.2 618h9.2v3.5h-9.2zM1206.8 618h9.2v3.5h-9.2zM1216 618h9.2v3.5h-9.2zM585.2 621.4h9.2v3.5h-9.2zM1115.4 621.4h9.2v3.5h-9.2zM1426.2 621.4h9.2v3.5h-9.2zM1444.5 621.4h9.2v3.5h-9.2zM1453.6 621.4h9.2v3.5h-9.2zM384.1 624.9h9.2v3.5h-9.2zM484.7 624.9h9.2v3.5h-9.2zM567 624.9h9.2v3.5h-9.2zM576.1 624.9h9.2v3.5h-9.2zM676.6 624.9h9.2v3.5h-9.2zM786.3 624.9h9.2v3.5h-9.2zM1069.7 624.9h9.2v3.5h-9.2zM1106.3 624.9h9.2v3.5h-9.2zM1170.3 624.9h9.2v3.5h-9.2zM1398.8 624.9h9.2v3.5h-9.2zM1462.8 624.9h9.2v3.5h-9.2zM484.7 628.3h9.2v3.5h-9.2zM493.8 628.3h9.2v3.5h-9.2zM576.1 628.3h9.2v3.5h-9.2zM621.8 628.3h9.2v3.5h-9.2zM704.1 628.3h9.2v3.5h-9.2zM713.2 628.3h9.2v3.5h-9.2zM749.8 628.3h9.2v3.5h-9.2zM758.9 628.3h9.2v3.5h-9.2zM841.2 628.3h9.2v3.5h-9.2zM850.3 628.3h9.2v3.5h-9.2zM960 628.3h9.2v3.5h-9.2zM987.4 628.3h9.2v3.5h-9.2zM996.6 628.3h9.2v3.5h-9.2zM1005.7 628.3h9.2v3.5h-9.2zM1051.4 628.3h9.2v3.5h-9.2zM1142.8 628.3h9.2v3.5h-9.2zM1279.9 628.3h9.2v3.5h-9.2zM1289.1 628.3h9.2v3.5h-9.2zM1298.2 628.3h9.2v3.5h-9.2zM1398.8 628.3h9.2v3.5h-9.2zM402.4 631.8h9.2v3.5h-9.2zM411.6 631.8h9.2v3.5h-9.2zM429.8 631.8h9.2v3.5h-9.2zM439 631.8h9.2v3.5h-9.2zM786.3 631.8h9.2v3.5h-9.2zM841.2 631.8h9.2v3.5h-9.2zM850.3 631.8h9.2v3.5h-9.2zM941.7 631.8h9.2v3.5h-9.2zM1197.7 631.8h9.2v3.5h-9.2zM1270.8 631.8h9.2v3.5h-9.2zM1279.9 631.8h9.2v3.5h-9.2zM1316.5 631.8h9.2v3.5h-9.2zM1325.6 631.8h9.2v3.5h-9.2zM429.8 635.2h9.2v3.5h-9.2zM685.8 635.2h9.2v3.5h-9.2zM749.8 635.2h9.2v3.5h-9.2zM1133.7 635.2h9.2v3.5h-9.2zM1142.8 635.2h9.2v3.5h-9.2zM429.8 638.7h9.2v3.5h-9.2zM439 638.7h9.2v3.5h-9.2zM448.1 638.7h9.2v3.5h-9.2zM466.4 638.7h9.2v3.5h-9.2zM493.8 638.7h9.2v3.5h-9.2zM585.2 638.7h9.2v3.5h-9.2zM841.2 638.7h9.2v3.5h-9.2zM1033.1 638.7h9.2v3.5h-9.2zM1042.3 638.7h9.2v3.5h-9.2zM1124.5 638.7h9.2v3.5h-9.2zM1133.7 638.7h9.2v3.5h-9.2zM1152 638.7h9.2v3.5h-9.2zM457.3 642.1h9.2v3.5h-9.2zM740.6 642.1h9.2v3.5h-9.2zM960 642.1h9.2v3.5h-9.2zM1124.5 642.1h9.2v3.5h-9.2zM1188.5 642.1h9.2v3.5h-9.2zM1216 642.1h9.2v3.5h-9.2zM1243.4 642.1h9.2v3.5h-9.2zM402.4 645.6h9.2v3.5h-9.2zM457.3 645.6h9.2v3.5h-9.2zM612.7 645.6h9.2v3.5h-9.2zM758.9 645.6h9.2v3.5h-9.2zM941.7 645.6h9.2v3.5h-9.2zM969.2 645.6h9.2v3.5h-9.2zM1152 645.6h9.2v3.5h-9.2zM1161.1 645.6h9.2v3.5h-9.2zM1179.4 645.6h9.2v3.5h-9.2zM1243.4 645.6h9.2v3.5h-9.2zM1261.7 645.6h9.2v3.5h-9.2zM1407.9 645.6h9.2v3.5h-9.2zM1453.6 645.6h9.2v3.5h-9.2zM1462.8 645.6h9.2v3.5h-9.2zM384.1 649h9.2v3.5h-9.2zM649.2 649h9.2v3.5h-9.2zM896 649h9.2v3.5h-9.2zM914.3 649h9.2v3.5h-9.2zM1334.8 649h9.2v3.5h-9.2zM594.4 652.5h9.2v3.5h-9.2zM713.2 652.5h9.2v3.5h-9.2zM859.5 652.5h9.2v3.5h-9.2zM868.6 652.5h9.2v3.5h-9.2zM960 652.5h9.2v3.5h-9.2zM969.2 652.5h9.2v3.5h-9.2zM978.3 652.5h9.2v3.5h-9.2zM1069.7 652.5h9.2v3.5h-9.2zM1078.8 652.5h9.2v3.5h-9.2zM1279.9 652.5h9.2v3.5h-9.2zM1389.6 652.5h9.2v3.5h-9.2zM603.5 655.9h9.2v3.5h-9.2zM621.8 655.9h9.2v3.5h-9.2zM896 655.9h9.2v3.5h-9.2zM932.6 655.9h9.2v3.5h-9.2zM987.4 655.9h9.2v3.5h-9.2zM996.6 655.9h9.2v3.5h-9.2zM1234.2 655.9h9.2v3.5h-9.2zM1243.4 655.9h9.2v3.5h-9.2zM1252.5 655.9h9.2v3.5h-9.2zM1279.9 655.9h9.2v3.5h-9.2zM539.5 659.4h9.2v3.5h-9.2zM713.2 659.4h9.2v3.5h-9.2zM768.1 659.4h9.2v3.5h-9.2zM786.3 659.4h9.2v3.5h-9.2zM850.3 659.4h9.2v3.5h-9.2zM914.3 659.4h9.2v3.5h-9.2zM923.5 659.4h9.2v3.5h-9.2zM969.2 659.4h9.2v3.5h-9.2zM1088 659.4h9.2v3.5h-9.2zM1307.4 659.4h9.2v3.5h-9.2zM1353.1 659.4h9.2v3.5h-9.2zM1362.2 659.4h9.2v3.5h-9.2zM384.1 662.8h9.2v3.5h-9.2zM466.4 662.8h9.2v3.5h-9.2zM530.4 662.8h9.2v3.5h-9.2zM640.1 662.8h9.2v3.5h-9.2zM649.2 662.8h9.2v3.5h-9.2zM713.2 662.8h9.2v3.5h-9.2zM768.1 662.8h9.2v3.5h-9.2zM777.2 662.8h9.2v3.5h-9.2zM832 662.8h9.2v3.5h-9.2zM1005.7 662.8h9.2v3.5h-9.2zM1078.8 662.8h9.2v3.5h-9.2zM1097.1 662.8h9.2v3.5h-9.2zM1106.3 662.8h9.2v3.5h-9.2zM1197.7 662.8h9.2v3.5h-9.2zM1398.8 662.8h9.2v3.5h-9.2zM1407.9 662.8h9.2v3.5h-9.2zM384.1 666.3h9.2v3.5h-9.2zM484.7 666.3h9.2v3.5h-9.2zM950.9 666.3h9.2v3.5h-9.2zM612.7 669.7h9.2v3.5h-9.2zM758.9 669.7h9.2v3.5h-9.2zM850.3 669.7h9.2v3.5h-9.2zM905.2 669.7h9.2v3.5h-9.2zM1033.1 669.7h9.2v3.5h-9.2zM1124.5 669.7h9.2v3.5h-9.2zM1252.5 669.7h9.2v3.5h-9.2zM1325.6 669.7h9.2v3.5h-9.2zM1380.5 669.7h9.2v3.5h-9.2zM1426.2 669.7h9.2v3.5h-9.2zM429.8 673.2h9.2v3.5h-9.2zM439 673.2h9.2v3.5h-9.2zM475.5 673.2h9.2v3.5h-9.2zM694.9 673.2h9.2v3.5h-9.2zM868.6 673.2h9.2v3.5h-9.2zM941.7 673.2h9.2v3.5h-9.2zM950.9 673.2h9.2v3.5h-9.2zM1014.9 673.2h9.2v3.5h-9.2zM1124.5 673.2h9.2v3.5h-9.2zM1298.2 673.2h9.2v3.5h-9.2zM484.7 676.6h9.2v3.5h-9.2zM493.8 676.6h9.2v3.5h-9.2zM795.5 676.6h9.2v3.5h-9.2zM612.7 680.1h9.2v3.5h-9.2zM941.7 680.1h9.2v3.5h-9.2zM996.6 680.1h9.2v3.5h-9.2zM1261.7 680.1h9.2v3.5h-9.2zM1362.2 680.1h9.2v3.5h-9.2zM1380.5 680.1h9.2v3.5h-9.2zM420.7 683.5h9.2v3.5h-9.2zM429.8 683.5h9.2v3.5h-9.2zM484.7 683.5h9.2v3.5h-9.2zM603.5 683.5h9.2v3.5h-9.2zM685.8 683.5h9.2v3.5h-9.2zM804.6 683.5h9.2v3.5h-9.2zM868.6 683.5h9.2v3.5h-9.2zM950.9 683.5h9.2v3.5h-9.2zM1051.4 683.5h9.2v3.5h-9.2zM1316.5 683.5h9.2v3.5h-9.2zM457.3 687h9.2v3.5h-9.2zM503 687h9.2v3.5h-9.2zM557.8 687h9.2v3.5h-9.2zM694.9 687h9.2v3.5h-9.2zM786.3 687h9.2v3.5h-9.2zM914.3 687h9.2v3.5h-9.2zM1243.4 687h9.2v3.5h-9.2zM420.7 690.4h9.2v3.5h-9.2zM841.2 690.4h9.2v3.5h-9.2zM950.9 690.4h9.2v3.5h-9.2zM960 690.4h9.2v3.5h-9.2zM1307.4 690.4h9.2v3.5h-9.2zM1444.5 690.4h9.2v3.5h-9.2zM932.6 693.9h9.2v3.5h-9.2zM1033.1 693.9h9.2v3.5h-9.2zM1115.4 693.9h9.2v3.5h-9.2zM1133.7 693.9h9.2v3.5h-9.2zM1142.8 693.9h9.2v3.5h-9.2zM1161.1 693.9h9.2v3.5h-9.2zM1216 693.9h9.2v3.5h-9.2zM1243.4 693.9h9.2v3.5h-9.2zM512.1 697.3h9.2v3.5h-9.2zM630.9 697.3h9.2v3.5h-9.2zM1179.4 697.3h9.2v3.5h-9.2zM1234.2 697.3h9.2v3.5h-9.2zM1398.8 697.3h9.2v3.5h-9.2zM1407.9 697.3h9.2v3.5h-9.2zM1417.1 697.3h9.2v3.5h-9.2zM1453.6 697.3h9.2v3.5h-9.2zM384.1 700.8h9.2v3.5h-9.2zM503 700.8h9.2v3.5h-9.2zM512.1 700.8h9.2v3.5h-9.2zM530.4 700.8h9.2v3.5h-9.2zM603.5 700.8h9.2v3.5h-9.2zM676.6 700.8h9.2v3.5h-9.2zM740.6 700.8h9.2v3.5h-9.2zM1197.7 700.8h9.2v3.5h-9.2zM1435.3 700.8h9.2v3.5h-9.2zM503 704.2h9.2v3.5h-9.2zM594.4 704.2h9.2v3.5h-9.2zM960 704.2h9.2v3.5h-9.2zM1106.3 704.2h9.2v3.5h-9.2zM1225.1 704.2h9.2v3.5h-9.2zM1289.1 704.2h9.2v3.5h-9.2zM1307.4 704.2h9.2v3.5h-9.2zM1407.9 704.2h9.2v3.5h-9.2zM1417.1 704.2h9.2v3.5h-9.2zM530.4 707.7h9.2v3.5h-9.2zM539.5 707.7h9.2v3.5h-9.2zM548.7 707.7h9.2v3.5h-9.2zM649.2 707.7h9.2v3.5h-9.2zM685.8 707.7h9.2v3.5h-9.2zM923.5 707.7h9.2v3.5h-9.2zM969.2 707.7h9.2v3.5h-9.2zM987.4 707.7h9.2v3.5h-9.2zM1261.7 707.7h9.2v3.5h-9.2zM1270.8 707.7h9.2v3.5h-9.2zM1279.9 707.7h9.2v3.5h-9.2zM1362.2 707.7h9.2v3.5h-9.2zM1371.4 707.7h9.2v3.5h-9.2zM439 711.1h9.2v3.5h-9.2zM457.3 711.1h9.2v3.5h-9.2zM804.6 711.1h9.2v3.5h-9.2zM1115.4 711.1h9.2v3.5h-9.2zM1197.7 711.1h9.2v3.5h-9.2zM1316.5 711.1h9.2v3.5h-9.2zM503 714.6h9.2v3.5h-9.2zM512.1 714.6h9.2v3.5h-9.2zM603.5 714.6h9.2v3.5h-9.2zM813.8 714.6h9.2v3.5h-9.2zM1060.6 714.6h9.2v3.5h-9.2zM1106.3 714.6h9.2v3.5h-9.2zM1115.4 714.6h9.2v3.5h-9.2zM1188.5 714.6h9.2v3.5h-9.2zM1243.4 714.6h9.2v3.5h-9.2zM1279.9 714.6h9.2v3.5h-9.2zM439 718h9.2v3.5h-9.2zM530.4 718h9.2v3.5h-9.2zM612.7 718h9.2v3.5h-9.2zM640.1 718h9.2v3.5h-9.2zM685.8 718h9.2v3.5h-9.2zM960 718h9.2v3.5h-9.2zM1106.3 718h9.2v3.5h-9.2zM1115.4 718h9.2v3.5h-9.2zM1124.5 718h9.2v3.5h-9.2zM1133.7 718h9.2v3.5h-9.2zM1197.7 718h9.2v3.5h-9.2zM1234.2 718h9.2v3.5h-9.2zM1243.4 718h9.2v3.5h-9.2zM1325.6 718h9.2v3.5h-9.2zM1334.8 718h9.2v3.5h-9.2zM1362.2 718h9.2v3.5h-9.2zM1389.6 718h9.2v3.5h-9.2zM1426.2 718h9.2v3.5h-9.2zM1435.3 718h9.2v3.5h-9.2zM493.8 721.5h9.2v3.5h-9.2zM548.7 721.5h9.2v3.5h-9.2zM567 721.5h9.2v3.5h-9.2zM576.1 721.5h9.2v3.5h-9.2zM1042.3 721.5h9.2v3.5h-9.2zM1106.3 721.5h9.2v3.5h-9.2zM1124.5 721.5h9.2v3.5h-9.2zM1179.4 721.5h9.2v3.5h-9.2zM1243.4 721.5h9.2v3.5h-9.2zM1252.5 721.5h9.2v3.5h-9.2zM1453.6 721.5h9.2v3.5h-9.2zM503 724.9h9.2v3.5h-9.2zM576.1 724.9h9.2v3.5h-9.2zM649.2 724.9h9.2v3.5h-9.2zM1024 724.9h9.2v3.5h-9.2zM1060.6 724.9h9.2v3.5h-9.2zM1097.1 724.9h9.2v3.5h-9.2zM1417.1 724.9h9.2v3.5h-9.2zM1426.2 724.9h9.2v3.5h-9.2zM448.1 728.4h9.2v3.5h-9.2zM503 728.4h9.2v3.5h-9.2zM585.2 728.4h9.2v3.5h-9.2zM640.1 728.4h9.2v3.5h-9.2zM822.9 728.4h9.2v3.5h-9.2zM841.2 728.4h9.2v3.5h-9.2zM877.7 728.4h9.2v3.5h-9.2zM932.6 728.4h9.2v3.5h-9.2zM960 728.4h9.2v3.5h-9.2zM969.2 728.4h9.2v3.5h-9.2zM1124.5 728.4h9.2v3.5h-9.2zM1270.8 728.4h9.2v3.5h-9.2zM1289.1 728.4h9.2v3.5h-9.2zM1334.8 728.4h9.2v3.5h-9.2zM1417.1 728.4h9.2v3.5h-9.2zM1426.2 728.4h9.2v3.5h-9.2zM384.1 731.8h9.2v3.5h-9.2zM475.5 731.8h9.2v3.5h-9.2zM667.5 731.8h9.2v3.5h-9.2zM950.9 731.8h9.2v3.5h-9.2zM1097.1 731.8h9.2v3.5h-9.2zM1152 731.8h9.2v3.5h-9.2zM1389.6 731.8h9.2v3.5h-9.2zM439 735.3h9.2v3.5h-9.2zM448.1 735.3h9.2v3.5h-9.2zM576.1 735.3h9.2v3.5h-9.2zM603.5 735.3h9.2v3.5h-9.2zM694.9 735.3h9.2v3.5h-9.2zM868.6 735.3h9.2v3.5h-9.2zM941.7 735.3h9.2v3.5h-9.2zM960 735.3h9.2v3.5h-9.2zM1097.1 735.3h9.2v3.5h-9.2zM1124.5 735.3h9.2v3.5h-9.2zM1133.7 735.3h9.2v3.5h-9.2zM1234.2 735.3h9.2v3.5h-9.2zM1289.1 735.3h9.2v3.5h-9.2zM1407.9 735.3h9.2v3.5h-9.2zM539.5 738.7h9.2v3.5h-9.2zM576.1 738.7h9.2v3.5h-9.2zM758.9 738.7h9.2v3.5h-9.2zM859.5 738.7h9.2v3.5h-9.2zM1133.7 738.7h9.2v3.5h-9.2zM1197.7 738.7h9.2v3.5h-9.2zM1279.9 738.7h9.2v3.5h-9.2zM1407.9 738.7h9.2v3.5h-9.2zM411.6 742.2h9.2v3.5h-9.2zM457.3 742.2h9.2v3.5h-9.2zM630.9 742.2h9.2v3.5h-9.2zM667.5 742.2h9.2v3.5h-9.2zM676.6 742.2h9.2v3.5h-9.2zM685.8 742.2h9.2v3.5h-9.2zM694.9 742.2h9.2v3.5h-9.2zM1005.7 742.2h9.2v3.5h-9.2zM1088 742.2h9.2v3.5h-9.2zM1152 742.2h9.2v3.5h-9.2zM1216 742.2h9.2v3.5h-9.2zM1234.2 742.2h9.2v3.5h-9.2zM1270.8 742.2h9.2v3.5h-9.2zM1316.5 742.2h9.2v3.5h-9.2zM1453.6 742.2h9.2v3.5h-9.2zM1462.8 742.2h9.2v3.5h-9.2zM493.8 745.6h9.2v3.5h-9.2zM704.1 745.6h9.2v3.5h-9.2zM1188.5 745.6h9.2v3.5h-9.2zM1243.4 745.6h9.2v3.5h-9.2zM1353.1 745.6h9.2v3.5h-9.2zM384.1 749.1h9.2v3.5h-9.2zM475.5 749.1h9.2v3.5h-9.2zM503 749.1h9.2v3.5h-9.2zM704.1 749.1h9.2v3.5h-9.2zM758.9 749.1h9.2v3.5h-9.2zM841.2 749.1h9.2v3.5h-9.2zM850.3 749.1h9.2v3.5h-9.2zM1024 749.1h9.2v3.5h-9.2zM1078.8 749.1h9.2v3.5h-9.2zM1161.1 749.1h9.2v3.5h-9.2zM1170.3 749.1h9.2v3.5h-9.2zM1234.2 749.1h9.2v3.5h-9.2zM1243.4 749.1h9.2v3.5h-9.2zM1252.5 749.1h9.2v3.5h-9.2zM1298.2 749.1h9.2v3.5h-9.2zM1353.1 749.1h9.2v3.5h-9.2zM1362.2 749.1h9.2v3.5h-9.2zM420.7 752.5h9.2v3.5h-9.2zM612.7 752.5h9.2v3.5h-9.2zM667.5 752.5h9.2v3.5h-9.2zM694.9 752.5h9.2v3.5h-9.2zM758.9 752.5h9.2v3.5h-9.2zM795.5 752.5h9.2v3.5h-9.2zM905.2 752.5h9.2v3.5h-9.2zM1014.9 752.5h9.2v3.5h-9.2zM1097.1 752.5h9.2v3.5h-9.2zM1124.5 752.5h9.2v3.5h-9.2zM1161.1 752.5h9.2v3.5h-9.2zM1216 752.5h9.2v3.5h-9.2zM1234.2 752.5h9.2v3.5h-9.2zM1417.1 752.5h9.2v3.5h-9.2zM1435.3 752.5h9.2v3.5h-9.2zM1453.6 752.5h9.2v3.5h-9.2zM1462.8 752.5h9.2v3.5h-9.2zM375 756h9.2v3.5h-9.2zM393.3 756h9.2v3.5h-9.2zM402.4 756h9.2v3.5h-9.2zM694.9 756h9.2v3.5h-9.2zM932.6 756h9.2v3.5h-9.2zM987.4 756h9.2v3.5h-9.2zM1014.9 756h9.2v3.5h-9.2zM1078.8 756h9.2v3.5h-9.2zM1133.7 756h9.2v3.5h-9.2zM694.9 759.4h9.2v3.5h-9.2zM704.1 759.4h9.2v3.5h-9.2zM932.6 759.4h9.2v3.5h-9.2zM1216 759.4h9.2v3.5h-9.2zM1325.6 759.4h9.2v3.5h-9.2zM1371.4 759.4h9.2v3.5h-9.2zM1060.6 762.9h9.2v3.5h-9.2zM1133.7 762.9h9.2v3.5h-9.2zM1234.2 762.9h9.2v3.5h-9.2zM1426.2 762.9h9.2v3.5h-9.2zM1444.5 762.9h9.2v3.5h-9.2zM475.5 766.3h9.2v3.5h-9.2zM503 766.3h9.2v3.5h-9.2zM521.3 766.3h9.2v3.5h-9.2zM530.4 766.3h9.2v3.5h-9.2zM557.8 766.3h9.2v3.5h-9.2zM886.9 766.3h9.2v3.5h-9.2zM923.5 766.3h9.2v3.5h-9.2zM1142.8 766.3h9.2v3.5h-9.2zM1216 766.3h9.2v3.5h-9.2zM1225.1 766.3h9.2v3.5h-9.2zM1298.2 766.3h9.2v3.5h-9.2zM1398.8 766.3h9.2v3.5h-9.2zM375 769.8h9.2v3.9h-9.2zM512.1 769.8h9.2v3.9h-9.2zM640.1 769.8h9.2v3.9h-9.2zM704.1 769.8h9.2v3.9h-9.2zM822.9 769.8h9.2v3.9h-9.2zM1088 769.8h9.2v3.9h-9.2zM1298.2 769.8h9.2v3.9h-9.2zM1307.4 769.8h9.2v3.9h-9.2zM1325.6 769.8h9.2v3.9h-9.2zM1343.9 769.8h9.2v3.9h-9.2zM411.6 773.7h9.2v4.5h-9.2zM420.7 773.7h9.2v4.5h-9.2zM429.8 773.7h9.2v4.5h-9.2zM457.3 773.7h9.2v4.5h-9.2zM503 773.7h9.2v4.5h-9.2zM530.4 773.7h9.2v4.5h-9.2zM603.5 773.7h9.2v4.5h-9.2zM932.6 773.7h9.2v4.5h-9.2zM1005.7 773.7h9.2v4.5h-9.2zM1124.5 773.7h9.2v4.5h-9.2zM1142.8 773.7h9.2v4.5h-9.2zM1152 773.7h9.2v4.5h-9.2zM1206.8 773.7h9.2v4.5h-9.2zM1343.9 773.7h9.2v4.5h-9.2zM1371.4 773.7h9.2v4.5h-9.2zM1005.7 778.1h9.2v5h-9.2zM1069.7 778.1h9.2v5h-9.2zM1243.4 778.1h9.2v5h-9.2zM1261.7 778.1h9.2v5h-9.2zM1407.9 778.1h9.2v5h-9.2zM429.8 783h9.2v5.7h-9.2zM740.6 783h9.2v5.7h-9.2zM804.6 783h9.2v5.7h-9.2zM1042.3 783h9.2v5.7h-9.2zM1097.1 783h9.2v5.7h-9.2zM1106.3 783h9.2v5.7h-9.2zM1316.5 783h9.2v5.7h-9.2zM1325.6 783h9.2v5.7h-9.2zM420.7 788.7h9.2v6.4h-9.2zM731.5 788.7h9.2v6.4h-9.2zM749.8 788.7h9.2v6.4h-9.2zM768.1 788.7h9.2v6.4h-9.2zM859.5 788.7h9.2v6.4h-9.2zM886.9 788.7h9.2v6.4h-9.2zM923.5 788.7h9.2v6.4h-9.2zM1097.1 788.7h9.2v6.4h-9.2zM1261.7 788.7h9.2v6.4h-9.2zM1426.2 788.7h9.2v6.4h-9.2zM1444.5 788.7h9.2v6.4h-9.2zM1453.6 788.7h9.2v6.4h-9.2zM411.6 795h9.2v7.2h-9.2zM420.7 795h9.2v7.2h-9.2zM768.1 795h9.2v7.2h-9.2zM996.6 795h9.2v7.2h-9.2zM1179.4 795h9.2v7.2h-9.2zM1389.6 795h9.2v7.2h-9.2zM594.4 802.2h9.2v8.2h-9.2zM612.7 802.2h9.2v8.2h-9.2zM649.2 802.2h9.2v8.2h-9.2zM804.6 802.2h9.2v8.2h-9.2zM813.8 802.2h9.2v8.2h-9.2zM950.9 802.2h9.2v8.2h-9.2zM1088 802.2h9.2v8.2h-9.2zM1097.1 802.2h9.2v8.2h-9.2zM1106.3 802.2h9.2v8.2h-9.2zM1115.4 802.2h9.2v8.2h-9.2zM1252.5 802.2h9.2v8.2h-9.2zM1316.5 802.2h9.2v8.2h-9.2zM466.4 810.3h9.2v9.2h-9.2zM503 810.3h9.2v9.2h-9.2zM685.8 810.3h9.2v9.2h-9.2zM905.2 810.3h9.2v9.2h-9.2zM914.3 810.3h9.2v9.2h-9.2zM1252.5 810.3h9.2v9.2h-9.2zM1316.5 810.3h9.2v9.2h-9.2zM1453.6 810.3h9.2v9.2h-9.2zM768.1 819.5h9.2v9.6h-9.2zM1042.3 819.5h9.2v9.6h-9.2zM1206.8 819.5h9.2v9.6h-9.2zM393.3 829h9.2v9.6h-9.2zM658.4 829h9.2v9.6h-9.2zM694.9 829h9.2v9.6h-9.2zM758.9 829h9.2v9.6h-9.2zM1115.4 829h9.2v9.6h-9.2zM1170.3 829h9.2v9.6h-9.2zM1371.4 829h9.2v9.6h-9.2zM1380.5 829h9.2v9.6h-9.2zM420.7 838.5h9.2v4.5h-9.2zM439 838.5h9.2v4.5h-9.2zM804.6 838.5h9.2v4.5h-9.2zM1014.9 838.5h9.2v4.5h-9.2zM1170.3 838.5h9.2v4.5h-9.2zM1197.7 838.5h9.2v4.5h-9.2zM1206.8 838.5h9.2v4.5h-9.2zM1225.1 838.5h9.2v4.5h-9.2zM1234.2 838.5h9.2v4.5h-9.2zM1380.5 838.5h9.2v4.5h-9.2zM1389.6 838.5h9.2v4.5h-9.2z"/>
<path fill="#0c2ff6" d="M868.6 580h9.2v3.5h-9.2zM475.5 583.5h9.2v3.5h-9.2zM630.9 583.5h9.2v3.5h-9.2zM1133.7 583.5h9.2v3.5h-9.2zM630.9 586.9h9.2v3.5h-9.2zM658.4 586.9h9.2v3.5h-9.2zM905.2 586.9h9.2v3.5h-9.2zM914.3 586.9h9.2v3.5h-9.2zM1078.8 586.9h9.2v3.5h-9.2zM1088 586.9h9.2v3.5h-9.2zM1216 586.9h9.2v3.5h-9.2zM1334.8 586.9h9.2v3.5h-9.2zM731.5 590.4h9.2v3.5h-9.2zM1389.6 590.4h9.2v3.5h-9.2zM1398.8 590.4h9.2v3.5h-9.2zM758.9 593.8h9.2v3.5h-9.2zM786.3 593.8h9.2v3.5h-9.2zM1343.9 593.8h9.2v3.5h-9.2zM1362.2 593.8h9.2v3.5h-9.2zM850.3 597.3h9.2v3.5h-9.2zM905.2 597.3h9.2v3.5h-9.2zM1179.4 597.3h9.2v3.5h-9.2zM567 600.7h9.2v3.5h-9.2zM667.5 600.7h9.2v3.5h-9.2zM1005.7 600.7h9.2v3.5h-9.2zM521.3 604.2h9.2v3.5h-9.2zM548.7 604.2h9.2v3.5h-9.2zM658.4 607.6h9.2v3.5h-9.2zM1088 607.6h9.2v3.5h-9.2zM384.1 611.1h9.2v3.5h-9.2zM1179.4 611.1h9.2v3.5h-9.2zM530.4 614.5h9.2v3.5h-9.2zM731.5 614.5h9.2v3.5h-9.2zM1270.8 614.5h9.2v3.5h-9.2zM1453.6 614.5h9.2v3.5h-9.2zM548.7 618h9.2v3.5h-9.2zM649.2 618h9.2v3.5h-9.2zM1270.8 618h9.2v3.5h-9.2zM1279.9 618h9.2v3.5h-9.2zM694.9 621.4h9.2v3.5h-9.2zM722.4 621.4h9.2v3.5h-9.2zM932.6 621.4h9.2v3.5h-9.2zM466.4 624.9h9.2v3.5h-9.2zM640.1 624.9h9.2v3.5h-9.2zM1124.5 624.9h9.2v3.5h-9.2zM612.7 628.3h9.2v3.5h-9.2zM1078.8 628.3h9.2v3.5h-9.2zM1170.3 628.3h9.2v3.5h-9.2zM503 631.8h9.2v3.5h-9.2zM1097.1 631.8h9.2v3.5h-9.2zM411.6 635.2h9.2v3.5h-9.2zM813.8 635.2h9.2v3.5h-9.2zM804.6 638.7h9.2v3.5h-9.2zM859.5 638.7h9.2v3.5h-9.2zM1234.2 638.7h9.2v3.5h-9.2zM1270.8 638.7h9.2v3.5h-9.2zM1279.9 638.7h9.2v3.5h-9.2zM503 642.1h9.2v3.5h-9.2zM877.7 642.1h9.2v3.5h-9.2zM1380.5 642.1h9.2v3.5h-9.2zM832 645.6h9.2v3.5h-9.2zM1216 645.6h9.2v3.5h-9.2zM1389.6 645.6h9.2v3.5h-9.2zM1398.8 645.6h9.2v3.5h-9.2zM484.7 649h9.2v3.5h-9.2zM722.4 649h9.2v3.5h-9.2zM886.9 649h9.2v3.5h-9.2zM1289.1 649h9.2v3.5h-9.2zM1051.4 652.5h9.2v3.5h-9.2zM1316.5 652.5h9.2v3.5h-9.2zM457.3 655.9h9.2v3.5h-9.2zM896 659.4h9.2v3.5h-9.2zM987.4 659.4h9.2v3.5h-9.2zM1097.1 659.4h9.2v3.5h-9.2zM1289.1 659.4h9.2v3.5h-9.2zM375 662.8h9.2v3.5h-9.2zM457.3 662.8h9.2v3.5h-9.2zM658.4 662.8h9.2v3.5h-9.2zM960 662.8h9.2v3.5h-9.2zM1014.9 662.8h9.2v3.5h-9.2zM1060.6 662.8h9.2v3.5h-9.2zM493.8 666.3h9.2v3.5h-9.2zM530.4 666.3h9.2v3.5h-9.2zM722.4 666.3h9.2v3.5h-9.2zM749.8 666.3h9.2v3.5h-9.2zM758.9 666.3h9.2v3.5h-9.2zM987.4 666.3h9.2v3.5h-9.2zM914.3 669.7h9.2v3.5h-9.2zM1024 669.7h9.2v3.5h-9.2zM1088 669.7h9.2v3.5h-9.2zM1097.1 669.7h9.2v3.5h-9.2zM1161.1 669.7h9.2v3.5h-9.2zM1206.8 669.7h9.2v3.5h-9.2zM548.7 673.2h9.2v3.5h-9.2zM1152 673.2h9.2v3.5h-9.2zM722.4 676.6h9.2v3.5h-9.2zM1152 676.6h9.2v3.5h-9.2zM621.8 680.1h9.2v3.5h-9.2zM1097.1 680.1h9.2v3.5h-9.2zM1133.7 683.5h9.2v3.5h-9.2zM402.4 687h9.2v3.5h-9.2zM795.5 687h9.2v3.5h-9.2zM1426.2 687h9.2v3.5h-9.2zM822.9 690.4h9.2v3.5h-9.2zM914.3 690.4h9.2v3.5h-9.2zM1097.1 690.4h9.2v3.5h-9.2zM1060.6 693.9h9.2v3.5h-9.2zM1033.1 697.3h9.2v3.5h-9.2zM1161.1 697.3h9.2v3.5h-9.2zM1206.8 697.3h9.2v3.5h-9.2zM475.5 700.8h9.2v3.5h-9.2zM941.7 700.8h9.2v3.5h-9.2zM1270.8 700.8h9.2v3.5h-9.2zM1426.2 700.8h9.2v3.5h-9.2zM658.4 704.2h9.2v3.5h-9.2zM987.4 704.2h9.2v3.5h-9.2zM384.1 707.7h9.2v3.5h-9.2zM375 711.1h9.2v3.5h-9.2zM749.8 711.1h9.2v3.5h-9.2zM1014.9 711.1h9.2v3.5h-9.2zM1298.2 711.1h9.2v3.5h-9.2zM576.1 714.6h9.2v3.5h-9.2zM612.7 714.6h9.2v3.5h-9.2zM804.6 714.6h9.2v3.5h-9.2zM996.6 714.6h9.2v3.5h-9.2zM1270.8 714.6h9.2v3.5h-9.2zM832 718h9.2v3.5h-9.2zM914.3 718h9.2v3.5h-9.2zM1005.7 718h9.2v3.5h-9.2zM466.4 721.5h9.2v3.5h-9.2zM786.3 721.5h9.2v3.5h-9.2zM877.7 721.5h9.2v3.5h-9.2zM1060.6 721.5h9.2v3.5h-9.2zM512.1 724.9h9.2v3.5h-9.2zM612.7 724.9h9.2v3.5h-9.2zM621.8 724.9h9.2v3.5h-9.2zM1033.1 724.9h9.2v3.5h-9.2zM1106.3 724.9h9.2v3.5h-9.2zM923.5 728.4h9.2v3.5h-9.2zM1179.4 728.4h9.2v3.5h-9.2zM1279.9 728.4h9.2v3.5h-9.2zM1298.2 728.4h9.2v3.5h-9.2zM1115.4 731.8h9.2v3.5h-9.2zM1307.4 731.8h9.2v3.5h-9.2zM1444.5 731.8h9.2v3.5h-9.2zM685.8 735.3h9.2v3.5h-9.2zM859.5 735.3h9.2v3.5h-9.2zM932.6 735.3h9.2v3.5h-9.2zM1225.1 735.3h9.2v3.5h-9.2zM411.6 738.7h9.2v3.5h-9.2zM978.3 738.7h9.2v3.5h-9.2zM1343.9 738.7h9.2v3.5h-9.2zM384.1 742.2h9.2v3.5h-9.2zM1279.9 742.2h9.2v3.5h-9.2zM1325.6 742.2h9.2v3.5h-9.2zM439 745.6h9.2v3.5h-9.2zM512.1 745.6h9.2v3.5h-9.2zM841.2 745.6h9.2v3.5h-9.2zM1216 745.6h9.2v3.5h-9.2zM1252.5 745.6h9.2v3.5h-9.2zM493.8 749.1h9.2v3.5h-9.2zM1279.9 749.1h9.2v3.5h-9.2zM576.1 752.5h9.2v3.5h-9.2zM685.8 752.5h9.2v3.5h-9.2zM768.1 752.5h9.2v3.5h-9.2zM987.4 752.5h9.2v3.5h-9.2zM1426.2 752.5h9.2v3.5h-9.2zM713.2 756h9.2v3.5h-9.2zM722.4 756h9.2v3.5h-9.2zM1152 756h9.2v3.5h-9.2zM466.4 759.4h9.2v3.5h-9.2zM594.4 759.4h9.2v3.5h-9.2zM896 759.4h9.2v3.5h-9.2zM941.7 759.4h9.2v3.5h-9.2zM1088 759.4h9.2v3.5h-9.2zM1334.8 759.4h9.2v3.5h-9.2zM859.5 762.9h9.2v3.5h-9.2zM868.6 762.9h9.2v3.5h-9.2zM905.2 762.9h9.2v3.5h-9.2zM1161.1 766.3h9.2v3.5h-9.2zM448.1 769.8h9.2v3.9h-9.2zM521.3 769.8h9.2v3.9h-9.2zM621.8 769.8h9.2v3.9h-9.2zM1033.1 769.8h9.2v3.9h-9.2zM512.1 773.7h9.2v4.5h-9.2zM548.7 773.7h9.2v4.5h-9.2zM649.2 773.7h9.2v4.5h-9.2zM1279.9 773.7h9.2v4.5h-9.2zM521.3 778.1h9.2v5h-9.2zM557.8 778.1h9.2v5h-9.2zM621.8 778.1h9.2v5h-9.2zM411.6 783h9.2v5.7h-9.2zM640.1 783h9.2v5.7h-9.2zM886.9 783h9.2v5.7h-9.2zM1078.8 783h9.2v5.7h-9.2zM1115.4 783h9.2v5.7h-9.2zM1307.4 783h9.2v5.7h-9.2zM1343.9 783h9.2v5.7h-9.2zM539.5 788.7h9.2v6.4h-9.2zM896 788.7h9.2v6.4h-9.2zM1353.1 788.7h9.2v6.4h-9.2zM1435.3 788.7h9.2v6.4h-9.2zM676.6 795h9.2v7.2h-9.2zM694.9 795h9.2v7.2h-9.2zM722.4 795h9.2v7.2h-9.2zM439 802.2h9.2v8.2h-9.2zM603.5 802.2h9.2v8.2h-9.2zM1014.9 810.3h9.2v9.2h-9.2zM1097.1 810.3h9.2v9.2h-9.2zM1298.2 810.3h9.2v9.2h-9.2zM512.1 819.5h9.2v9.6h-9.2zM749.8 829h9.2v9.6h-9.2zM978.3 838.5h9.2v4.5h-9.2zM1115.4 838.5h9.2v4.5h-9.2z"/>
<path fill="#0d4ef4" d="M905.2 580h9.2v3.5h-9.2zM1417.1 580h9.2v3.5h-9.2zM868.6 586.9h9.2v3.5h-9.2zM923.5 597.3h9.2v3.5h-9.2zM969.2 604.2h9.2v3.5h-9.2zM630.9 607.6h9.2v3.5h-9.2zM804.6 611.1h9.2v3.5h-9.2zM475.5 614.5h9.2v3.5h-9.2zM1042.3 614.5h9.2v3.5h-9.2zM1051.4 614.5h9.2v3.5h-9.2zM804.6 618h9.2v3.5h-9.2zM950.9 618h9.2v3.5h-9.2zM850.3 621.4h9.2v3.5h-9.2zM1307.4 624.9h9.2v3.5h-9.2zM841.2 635.2h9.2v3.5h-9.2zM1334.8 635.2h9.2v3.5h-9.2zM1462.8 642.1h9.2v3.5h-9.2zM1014.9 645.6h9.2v3.5h-9.2zM1170.3 649h9.2v3.5h-9.2zM1343.9 649h9.2v3.5h-9.2zM667.5 652.5h9.2v3.5h-9.2zM1407.9 652.5h9.2v3.5h-9.2zM466.4 655.9h9.2v3.5h-9.2zM475.5 655.9h9.2v3.5h-9.2zM1042.3 655.9h9.2v3.5h-9.2zM1078.8 655.9h9.2v3.5h-9.2zM1389.6 655.9h9.2v3.5h-9.2zM1279.9 666.3h9.2v3.5h-9.2zM923.5 669.7h9.2v3.5h-9.2zM1270.8 669.7h9.2v3.5h-9.2zM1389.6 669.7h9.2v3.5h-9.2zM557.8 676.6h9.2v3.5h-9.2zM576.1 676.6h9.2v3.5h-9.2zM640.1 676.6h9.2v3.5h-9.2zM1024 676.6h9.2v3.5h-9.2zM1380.5 676.6h9.2v3.5h-9.2zM1289.1 680.1h9.2v3.5h-9.2zM1325.6 683.5h9.2v3.5h-9.2zM1435.3 687h9.2v3.5h-9.2zM704.1 690.4h9.2v3.5h-9.2zM1024 690.4h9.2v3.5h-9.2zM1197.7 690.4h9.2v3.5h-9.2zM1334.8 690.4h9.2v3.5h-9.2zM649.2 697.3h9.2v3.5h-9.2zM1298.2 697.3h9.2v3.5h-9.2zM1435.3 697.3h9.2v3.5h-9.2zM402.4 704.2h9.2v3.5h-9.2zM978.3 704.2h9.2v3.5h-9.2zM548.7 718h9.2v3.5h-9.2zM1279.9 721.5h9.2v3.5h-9.2zM457.3 728.4h9.2v3.5h-9.2zM1097.1 728.4h9.2v3.5h-9.2zM612.7 731.8h9.2v3.5h-9.2zM1225.1 731.8h9.2v3.5h-9.2zM1252.5 731.8h9.2v3.5h-9.2zM567 735.3h9.2v3.5h-9.2zM1024 735.3h9.2v3.5h-9.2zM822.9 738.7h9.2v3.5h-9.2zM987.4 738.7h9.2v3.5h-9.2zM1142.8 742.2h9.2v3.5h-9.2zM1343.9 742.2h9.2v3.5h-9.2zM1371.4 742.2h9.2v3.5h-9.2zM1380.5 742.2h9.2v3.5h-9.2zM1453.6 745.6h9.2v3.5h-9.2zM868.6 749.1h9.2v3.5h-9.2zM429.8 759.4h9.2v3.5h-9.2zM466.4 762.9h9.2v3.5h-9.2zM621.8 762.9h9.2v3.5h-9.2zM768.1 762.9h9.2v3.5h-9.2zM777.2 762.9h9.2v3.5h-9.2zM932.6 766.3h9.2v3.5h-9.2zM859.5 778.1h9.2v5h-9.2zM521.3 783h9.2v5.7h-9.2zM603.5 788.7h9.2v6.4h-9.2zM475.5 795h9.2v7.2h-9.2zM521.3 802.2h9.2v8.2h-9.2zM630.9 810.3h9.2v9.2h-9.2zM1078.8 810.3h9.2v9.2h-9.2zM694.9 838.5h9.2v4.5h-9.2z"/>
<path fill="#0da2f0" d="M896 580h9.2v3.5h-9.2zM1407.9 580h9.2v3.5h-9.2zM685.8 583.5h9.2v3.5h-9.2zM859.5 586.9h9.2v3.5h-9.2zM585.2 593.8h9.2v3.5h-9.2zM612.7 593.8h9.2v3.5h-9.2zM914.3 597.3h9.2v3.5h-9.2zM932.6 597.3h9.2v3.5h-9.2zM1033.1 600.7h9.2v3.5h-9.2zM1316.5 604.2h9.2v3.5h-9.2zM1069.7 614.5h9.2v3.5h-9.2zM1170.3 621.4h9.2v3.5h-9.2zM832 624.9h9.2v3.5h-9.2zM932.6 624.9h9.2v3.5h-9.2zM1407.9 631.8h9.2v3.5h-9.2zM850.3 635.2h9.2v3.5h-9.2zM859.5 635.2h9.2v3.5h-9.2zM484.7 638.7h9.2v3.5h-9.2zM512.1 638.7h9.2v3.5h-9.2zM548.7 645.6h9.2v3.5h-9.2zM1307.4 649h9.2v3.5h-9.2zM1353.1 649h9.2v3.5h-9.2zM1362.2 649h9.2v3.5h-9.2zM850.3 652.5h9.2v3.5h-9.2zM1343.9 652.5h9.2v3.5h-9.2zM521.3 655.9h9.2v3.5h-9.2zM1033.1 655.9h9.2v3.5h-9.2zM393.3 662.8h9.2v3.5h-9.2zM777.2 666.3h9.2v3.5h-9.2zM1252.5 666.3h9.2v3.5h-9.2zM1316.5 666.3h9.2v3.5h-9.2zM877.7 673.2h9.2v3.5h-9.2zM621.8 676.6h9.2v3.5h-9.2zM1033.1 676.6h9.2v3.5h-9.2zM585.2 683.5h9.2v3.5h-9.2zM621.8 683.5h9.2v3.5h-9.2zM1024 683.5h9.2v3.5h-9.2zM1069.7 683.5h9.2v3.5h-9.2zM1261.7 687h9.2v3.5h-9.2zM548.7 690.4h9.2v3.5h-9.2zM1014.9 690.4h9.2v3.5h-9.2zM987.4 693.9h9.2v3.5h-9.2zM420.7 700.8h9.2v3.5h-9.2zM1389.6 700.8h9.2v3.5h-9.2zM393.3 704.2h9.2v3.5h-9.2zM667.5 704.2h9.2v3.5h-9.2zM1088 704.2h9.2v3.5h-9.2zM667.5 711.1h9.2v3.5h-9.2zM713.2 711.1h9.2v3.5h-9.2zM1371.4 711.1h9.2v3.5h-9.2zM384.1 714.6h9.2v3.5h-9.2zM713.2 718h9.2v3.5h-9.2zM603.5 731.8h9.2v3.5h-9.2zM1005.7 731.8h9.2v3.5h-9.2zM530.4 735.3h9.2v3.5h-9.2zM1014.9 735.3h9.2v3.5h-9.2zM1334.8 742.2h9.2v3.5h-9.2zM1462.8 745.6h9.2v3.5h-9.2zM685.8 749.1h9.2v3.5h-9.2zM1005.7 752.5h9.2v3.5h-9.2zM685.8 759.4h9.2v3.5h-9.2zM1234.2 759.4h9.2v3.5h-9.2zM585.2 762.9h9.2v3.5h-9.2zM1069.7 762.9h9.2v3.5h-9.2zM1389.6 762.9h9.2v3.5h-9.2zM1325.6 766.3h9.2v3.5h-9.2zM758.9 773.7h9.2v4.5h-9.2zM1152 778.1h9.2v5h-9.2zM1161.1 778.1h9.2v5h-9.2zM1225.1 778.1h9.2v5h-9.2zM1234.2 778.1h9.2v5h-9.2zM457.3 783h9.2v5.7h-9.2zM512.1 783h9.2v5.7h-9.2zM758.9 783h9.2v5.7h-9.2zM603.5 795h9.2v7.2h-9.2zM411.6 802.2h9.2v8.2h-9.2zM1371.4 802.2h9.2v8.2h-9.2zM713.2 810.3h9.2v9.2h-9.2zM667.5 819.5h9.2v9.6h-9.2zM749.8 819.5h9.2v9.6h-9.2zM1398.8 829h9.2v9.6h-9.2zM466.4 838.5h9.2v4.5h-9.2z"/>
<path fill="#0e6cf2" d="M402.4 580h9.2v3.5h-9.2zM1289.1 580h9.2v3.5h-9.2zM694.9 583.5h9.2v3.5h-9.2zM713.2 583.5h9.2v3.5h-9.2zM1097.1 583.5h9.2v3.5h-9.2zM832 586.9h9.2v3.5h-9.2zM877.7 586.9h9.2v3.5h-9.2zM1279.9 586.9h9.2v3.5h-9.2zM439 593.8h9.2v3.5h-9.2zM567 593.8h9.2v3.5h-9.2zM603.5 593.8h9.2v3.5h-9.2zM978.3 593.8h9.2v3.5h-9.2zM375 597.3h9.2v3.5h-9.2zM1042.3 597.3h9.2v3.5h-9.2zM1353.1 597.3h9.2v3.5h-9.2zM1152 600.7h9.2v3.5h-9.2zM996.6 604.2h9.2v3.5h-9.2zM1170.3 604.2h9.2v3.5h-9.2zM530.4 607.6h9.2v3.5h-9.2zM795.5 607.6h9.2v3.5h-9.2zM950.9 607.6h9.2v3.5h-9.2zM1435.3 607.6h9.2v3.5h-9.2zM813.8 611.1h9.2v3.5h-9.2zM1014.9 611.1h9.2v3.5h-9.2zM621.8 614.5h9.2v3.5h-9.2zM1060.6 614.5h9.2v3.5h-9.2zM557.8 618h9.2v3.5h-9.2zM567 618h9.2v3.5h-9.2zM1161.1 618h9.2v3.5h-9.2zM1398.8 621.4h9.2v3.5h-9.2zM813.8 624.9h9.2v3.5h-9.2zM822.9 624.9h9.2v3.5h-9.2zM859.5 624.9h9.2v3.5h-9.2zM1298.2 624.9h9.2v3.5h-9.2zM475.5 628.3h9.2v3.5h-9.2zM1106.3 631.8h9.2v3.5h-9.2zM1426.2 635.2h9.2v3.5h-9.2zM1435.3 635.2h9.2v3.5h-9.2zM1444.5 635.2h9.2v3.5h-9.2zM475.5 638.7h9.2v3.5h-9.2zM521.3 638.7h9.2v3.5h-9.2zM1097.1 638.7h9.2v3.5h-9.2zM1106.3 638.7h9.2v3.5h-9.2zM1152 642.1h9.2v3.5h-9.2zM484.7 645.6h9.2v3.5h-9.2zM786.3 645.6h9.2v3.5h-9.2zM1307.4 645.6h9.2v3.5h-9.2zM1444.5 645.6h9.2v3.5h-9.2zM667.5 649h9.2v3.5h-9.2zM841.2 649h9.2v3.5h-9.2zM1133.7 649h9.2v3.5h-9.2zM1234.2 649h9.2v3.5h-9.2zM1334.8 652.5h9.2v3.5h-9.2zM512.1 655.9h9.2v3.5h-9.2zM978.3 655.9h9.2v3.5h-9.2zM1188.5 655.9h9.2v3.5h-9.2zM1124.5 659.4h9.2v3.5h-9.2zM1133.7 659.4h9.2v3.5h-9.2zM1142.8 659.4h9.2v3.5h-9.2zM1170.3 659.4h9.2v3.5h-9.2zM420.7 662.8h9.2v3.5h-9.2zM539.5 662.8h9.2v3.5h-9.2zM987.4 662.8h9.2v3.5h-9.2zM914.3 666.3h9.2v3.5h-9.2zM1243.4 666.3h9.2v3.5h-9.2zM1334.8 666.3h9.2v3.5h-9.2zM676.6 669.7h9.2v3.5h-9.2zM795.5 669.7h9.2v3.5h-9.2zM1005.7 669.7h9.2v3.5h-9.2zM1362.2 669.7h9.2v3.5h-9.2zM1398.8 669.7h9.2v3.5h-9.2zM567 676.6h9.2v3.5h-9.2zM1435.3 676.6h9.2v3.5h-9.2zM1453.6 676.6h9.2v3.5h-9.2zM1042.3 680.1h9.2v3.5h-9.2zM1088 683.5h9.2v3.5h-9.2zM1334.8 683.5h9.2v3.5h-9.2zM466.4 690.4h9.2v3.5h-9.2zM512.1 690.4h9.2v3.5h-9.2zM530.4 690.4h9.2v3.5h-9.2zM539.5 690.4h9.2v3.5h-9.2zM1225.1 690.4h9.2v3.5h-9.2zM1325.6 690.4h9.2v3.5h-9.2zM713.2 693.9h9.2v3.5h-9.2zM978.3 693.9h9.2v3.5h-9.2zM1133.7 697.3h9.2v3.5h-9.2zM585.2 700.8h9.2v3.5h-9.2zM594.4 700.8h9.2v3.5h-9.2zM850.3 700.8h9.2v3.5h-9.2zM923.5 700.8h9.2v3.5h-9.2zM1133.7 700.8h9.2v3.5h-9.2zM1343.9 700.8h9.2v3.5h-9.2zM1380.5 700.8h9.2v3.5h-9.2zM1398.8 700.8h9.2v3.5h-9.2zM384.1 704.2h9.2v3.5h-9.2zM1170.3 704.2h9.2v3.5h-9.2zM1188.5 704.2h9.2v3.5h-9.2zM1197.7 704.2h9.2v3.5h-9.2zM557.8 707.7h9.2v3.5h-9.2zM1389.6 707.7h9.2v3.5h-9.2zM1216 711.1h9.2v3.5h-9.2zM393.3 714.6h9.2v3.5h-9.2zM1343.9 718h9.2v3.5h-9.2zM594.4 721.5h9.2v3.5h-9.2zM1261.7 721.5h9.2v3.5h-9.2zM1362.2 721.5h9.2v3.5h-9.2zM1398.8 721.5h9.2v3.5h-9.2zM393.3 724.9h9.2v3.5h-9.2zM813.8 724.9h9.2v3.5h-9.2zM822.9 724.9h9.2v3.5h-9.2zM1252.5 724.9h9.2v3.5h-9.2zM1060.6 731.8h9.2v3.5h-9.2zM548.7 735.3h9.2v3.5h-9.2zM676.6 738.7h9.2v3.5h-9.2zM1353.1 742.2h9.2v3.5h-9.2zM1407.9 742.2h9.2v3.5h-9.2zM567 749.1h9.2v3.5h-9.2zM576.1 749.1h9.2v3.5h-9.2zM1124.5 749.1h9.2v3.5h-9.2zM1133.7 749.1h9.2v3.5h-9.2zM1398.8 749.1h9.2v3.5h-9.2zM1407.9 749.1h9.2v3.5h-9.2zM1261.7 752.5h9.2v3.5h-9.2zM1270.8 752.5h9.2v3.5h-9.2zM740.6 756h9.2v3.5h-9.2zM1298.2 756h9.2v3.5h-9.2zM1325.6 756h9.2v3.5h-9.2zM448.1 759.4h9.2v3.5h-9.2zM749.8 762.9h9.2v3.5h-9.2zM758.9 762.9h9.2v3.5h-9.2zM850.3 762.9h9.2v3.5h-9.2zM1078.8 762.9h9.2v3.5h-9.2zM1316.5 766.3h9.2v3.5h-9.2zM1334.8 766.3h9.2v3.5h-9.2zM950.9 769.8h9.2v3.9h-9.2zM740.6 773.7h9.2v4.5h-9.2zM749.8 773.7h9.2v4.5h-9.2zM1252.5 773.7h9.2v4.5h-9.2zM1261.7 773.7h9.2v4.5h-9.2zM1270.8 773.7h9.2v4.5h-9.2zM731.5 778.1h9.2v5h-9.2zM1033.1 778.1h9.2v5h-9.2zM1334.8 778.1h9.2v5h-9.2zM402.4 783h9.2v5.7h-9.2zM795.5 783h9.2v5.7h-9.2zM439 795h9.2v7.2h-9.2zM713.2 795h9.2v7.2h-9.2zM914.3 795h9.2v7.2h-9.2zM987.4 795h9.2v7.2h-9.2zM749.8 802.2h9.2v8.2h-9.2zM1380.5 802.2h9.2v8.2h-9.2zM1088 810.3h9.2v9.2h-9.2zM539.5 819.5h9.2v9.6h-9.2zM1179.4 829h9.2v9.6h-9.2zM1343.9 829h9.2v9.6h-9.2zM457.3 838.5h9.2v4.5h-9.2z"/>
<path fill="#108af0" d="M393.3 580h9.2v3.5h-9.2zM1279.9 580h9.2v3.5h-9.2zM1298.2 580h9.2v3.5h-9.2zM1398.8 580h9.2v3.5h-9.2zM594.4 583.5h9.2v3.5h-9.2zM722.4 583.5h9.2v3.5h-9.2zM841.2 586.9h9.2v3.5h-9.2zM850.3 586.9h9.2v3.5h-9.2zM1170.3 586.9h9.2v3.5h-9.2zM393.3 593.8h9.2v3.5h-9.2zM576.1 593.8h9.2v3.5h-9.2zM621.8 593.8h9.2v3.5h-9.2zM1334.8 593.8h9.2v3.5h-9.2zM704.1 597.3h9.2v3.5h-9.2zM1343.9 597.3h9.2v3.5h-9.2zM685.8 600.7h9.2v3.5h-9.2zM795.5 600.7h9.2v3.5h-9.2zM521.3 607.6h9.2v3.5h-9.2zM694.9 607.6h9.2v3.5h-9.2zM1106.3 607.6h9.2v3.5h-9.2zM1124.5 607.6h9.2v3.5h-9.2zM795.5 611.1h9.2v3.5h-9.2zM1444.5 614.5h9.2v3.5h-9.2zM813.8 618h9.2v3.5h-9.2zM1152 618h9.2v3.5h-9.2zM503 621.4h9.2v3.5h-9.2zM1407.9 621.4h9.2v3.5h-9.2zM1088 624.9h9.2v3.5h-9.2zM804.6 635.2h9.2v3.5h-9.2zM1343.9 635.2h9.2v3.5h-9.2zM1362.2 635.2h9.2v3.5h-9.2zM530.4 638.7h9.2v3.5h-9.2zM896 642.1h9.2v3.5h-9.2zM1005.7 642.1h9.2v3.5h-9.2zM1307.4 642.1h9.2v3.5h-9.2zM1453.6 642.1h9.2v3.5h-9.2zM557.8 645.6h9.2v3.5h-9.2zM1069.7 645.6h9.2v3.5h-9.2zM1435.3 645.6h9.2v3.5h-9.2zM1097.1 649h9.2v3.5h-9.2zM1106.3 649h9.2v3.5h-9.2zM1243.4 649h9.2v3.5h-9.2zM1316.5 649h9.2v3.5h-9.2zM1353.1 652.5h9.2v3.5h-9.2zM795.5 655.9h9.2v3.5h-9.2zM850.3 655.9h9.2v3.5h-9.2zM1051.4 655.9h9.2v3.5h-9.2zM1042.3 659.4h9.2v3.5h-9.2zM1179.4 659.4h9.2v3.5h-9.2zM402.4 662.8h9.2v3.5h-9.2zM429.8 662.8h9.2v3.5h-9.2zM548.7 662.8h9.2v3.5h-9.2zM1216 666.3h9.2v3.5h-9.2zM1325.6 666.3h9.2v3.5h-9.2zM685.8 669.7h9.2v3.5h-9.2zM694.9 669.7h9.2v3.5h-9.2zM704.1 669.7h9.2v3.5h-9.2zM786.3 669.7h9.2v3.5h-9.2zM1142.8 669.7h9.2v3.5h-9.2zM630.9 676.6h9.2v3.5h-9.2zM402.4 680.1h9.2v3.5h-9.2zM630.9 683.5h9.2v3.5h-9.2zM1014.9 683.5h9.2v3.5h-9.2zM1270.8 687h9.2v3.5h-9.2zM457.3 690.4h9.2v3.5h-9.2zM521.3 690.4h9.2v3.5h-9.2zM667.5 690.4h9.2v3.5h-9.2zM1206.8 690.4h9.2v3.5h-9.2zM1343.9 690.4h9.2v3.5h-9.2zM1353.1 690.4h9.2v3.5h-9.2zM704.1 693.9h9.2v3.5h-9.2zM585.2 697.3h9.2v3.5h-9.2zM658.4 697.3h9.2v3.5h-9.2zM630.9 700.8h9.2v3.5h-9.2zM640.1 700.8h9.2v3.5h-9.2zM896 700.8h9.2v3.5h-9.2zM932.6 700.8h9.2v3.5h-9.2zM1407.9 700.8h9.2v3.5h-9.2zM1453.6 700.8h9.2v3.5h-9.2zM859.5 704.2h9.2v3.5h-9.2zM905.2 704.2h9.2v3.5h-9.2zM1179.4 704.2h9.2v3.5h-9.2zM521.3 707.7h9.2v3.5h-9.2zM393.3 711.1h9.2v3.5h-9.2zM1380.5 711.1h9.2v3.5h-9.2zM576.1 718h9.2v3.5h-9.2zM886.9 718h9.2v3.5h-9.2zM896 718h9.2v3.5h-9.2zM1353.1 718h9.2v3.5h-9.2zM1270.8 721.5h9.2v3.5h-9.2zM978.3 724.9h9.2v3.5h-9.2zM384.1 728.4h9.2v3.5h-9.2zM1133.7 728.4h9.2v3.5h-9.2zM594.4 731.8h9.2v3.5h-9.2zM539.5 735.3h9.2v3.5h-9.2zM685.8 738.7h9.2v3.5h-9.2zM1014.9 738.7h9.2v3.5h-9.2zM1206.8 742.2h9.2v3.5h-9.2zM384.1 745.6h9.2v3.5h-9.2zM585.2 749.1h9.2v3.5h-9.2zM658.4 749.1h9.2v3.5h-9.2zM667.5 749.1h9.2v3.5h-9.2zM877.7 749.1h9.2v3.5h-9.2zM457.3 752.5h9.2v3.5h-9.2zM439 759.4h9.2v3.5h-9.2zM521.3 762.9h9.2v3.5h-9.2zM786.3 762.9h9.2v3.5h-9.2zM841.2 762.9h9.2v3.5h-9.2zM960 762.9h9.2v3.5h-9.2zM777.2 766.3h9.2v3.5h-9.2zM941.7 766.3h9.2v3.5h-9.2zM950.9 766.3h9.2v3.5h-9.2zM987.4 766.3h9.2v3.5h-9.2zM694.9 773.7h9.2v4.5h-9.2zM859.5 773.7h9.2v4.5h-9.2zM941.7 773.7h9.2v4.5h-9.2zM713.2 778.1h9.2v5h-9.2zM722.4 778.1h9.2v5h-9.2zM1462.8 783h9.2v5.7h-9.2zM448.1 795h9.2v7.2h-9.2zM1343.9 795h9.2v7.2h-9.2zM420.7 802.2h9.2v8.2h-9.2zM1152 802.2h9.2v8.2h-9.2zM484.7 810.3h9.2v9.2h-9.2zM493.8 810.3h9.2v9.2h-9.2zM1069.7 810.3h9.2v9.2h-9.2zM704.1 838.5h9.2v4.5h-9.2z"/>
<path fill="#190bf6" d="M612.7 580h9.2v3.5h-9.2zM649.2 580h9.2v3.5h-9.2zM932.6 580h9.2v3.5h-9.2zM941.7 580h9.2v3.5h-9.2zM969.2 580h9.2v3.5h-9.2zM1142.8 580h9.2v3.5h-9.2zM1188.5 580h9.2v3.5h-9.2zM1261.7 580h9.2v3.5h-9.2zM1270.8 580h9.2v3.5h-9.2zM731.5 583.5h9.2v3.5h-9.2zM1115.4 583.5h9.2v3.5h-9.2zM1124.5 583.5h9.2v3.5h-9.2zM1252.5 583.5h9.2v3.5h-9.2zM1343.9 583.5h9.2v3.5h-9.2zM1353.1 583.5h9.2v3.5h-9.2zM1407.9 583.5h9.2v3.5h-9.2zM1444.5 583.5h9.2v3.5h-9.2zM1462.8 583.5h9.2v3.5h-9.2zM457.3 586.9h9.2v3.5h-9.2zM585.2 586.9h9.2v3.5h-9.2zM640.1 586.9h9.2v3.5h-9.2zM667.5 586.9h9.2v3.5h-9.2zM713.2 586.9h9.2v3.5h-9.2zM722.4 586.9h9.2v3.5h-9.2zM923.5 586.9h9.2v3.5h-9.2zM960 586.9h9.2v3.5h-9.2zM969.2 586.9h9.2v3.5h-9.2zM1206.8 586.9h9.2v3.5h-9.2zM1325.6 586.9h9.2v3.5h-9.2zM1453.6 586.9h9.2v3.5h-9.2zM420.7 590.4h9.2v3.5h-9.2zM457.3 590.4h9.2v3.5h-9.2zM722.4 590.4h9.2v3.5h-9.2zM740.6 590.4h9.2v3.5h-9.2zM1216 590.4h9.2v3.5h-9.2zM1334.8 590.4h9.2v3.5h-9.2zM1343.9 590.4h9.2v3.5h-9.2zM1353.1 590.4h9.2v3.5h-9.2zM1371.4 590.4h9.2v3.5h-9.2zM1407.9 590.4h9.2v3.5h-9.2zM1435.3 590.4h9.2v3.5h-9.2zM448.1 593.8h9.2v3.5h-9.2zM630.9 593.8h9.2v3.5h-9.2zM704.1 593.8h9.2v3.5h-9.2zM777.2 593.8h9.2v3.5h-9.2zM941.7 593.8h9.2v3.5h-9.2zM1024 593.8h9.2v3.5h-9.2zM1243.4 593.8h9.2v3.5h-9.2zM1371.4 593.8h9.2v3.5h-9.2zM503 597.3h9.2v3.5h-9.2zM539.5 597.3h9.2v3.5h-9.2zM612.7 597.3h9.2v3.5h-9.2zM841.2 597.3h9.2v3.5h-9.2zM1069.7 597.3h9.2v3.5h-9.2zM1078.8 597.3h9.2v3.5h-9.2zM1106.3 597.3h9.2v3.5h-9.2zM1170.3 597.3h9.2v3.5h-9.2zM1188.5 597.3h9.2v3.5h-9.2zM1216 597.3h9.2v3.5h-9.2zM1380.5 597.3h9.2v3.5h-9.2zM393.3 600.7h9.2v3.5h-9.2zM484.7 600.7h9.2v3.5h-9.2zM585.2 600.7h9.2v3.5h-9.2zM612.7 600.7h9.2v3.5h-9.2zM850.3 600.7h9.2v3.5h-9.2zM868.6 600.7h9.2v3.5h-9.2zM1142.8 600.7h9.2v3.5h-9.2zM1353.1 600.7h9.2v3.5h-9.2zM1362.2 600.7h9.2v3.5h-9.2zM375 604.2h9.2v3.5h-9.2zM493.8 604.2h9.2v3.5h-9.2zM512.1 604.2h9.2v3.5h-9.2zM557.8 604.2h9.2v3.5h-9.2zM567 604.2h9.2v3.5h-9.2zM640.1 604.2h9.2v3.5h-9.2zM704.1 604.2h9.2v3.5h-9.2zM795.5 604.2h9.2v3.5h-9.2zM841.2 604.2h9.2v3.5h-9.2zM1152 604.2h9.2v3.5h-9.2zM1161.1 604.2h9.2v3.5h-9.2zM1234.2 604.2h9.2v3.5h-9.2zM493.8 607.6h9.2v3.5h-9.2zM786.3 607.6h9.2v3.5h-9.2zM841.2 607.6h9.2v3.5h-9.2zM850.3 607.6h9.2v3.5h-9.2zM877.7 607.6h9.2v3.5h-9.2zM886.9 607.6h9.2v3.5h-9.2zM996.6 607.6h9.2v3.5h-9.2zM1069.7 607.6h9.2v3.5h-9.2zM1179.4 607.6h9.2v3.5h-9.2zM1252.5 607.6h9.2v3.5h-9.2zM1426.2 607.6h9.2v3.5h-9.2zM1462.8 607.6h9.2v3.5h-9.2zM393.3 611.1h9.2v3.5h-9.2zM539.5 611.1h9.2v3.5h-9.2zM749.8 611.1h9.2v3.5h-9.2zM758.9 611.1h9.2v3.5h-9.2zM978.3 611.1h9.2v3.5h-9.2zM1124.5 611.1h9.2v3.5h-9.2zM1197.7 611.1h9.2v3.5h-9.2zM1206.8 611.1h9.2v3.5h-9.2zM1261.7 611.1h9.2v3.5h-9.2zM1334.8 611.1h9.2v3.5h-9.2zM1444.5 611.1h9.2v3.5h-9.2zM1462.8 611.1h9.2v3.5h-9.2zM503 614.5h9.2v3.5h-9.2zM585.2 614.5h9.2v3.5h-9.2zM594.4 614.5h9.2v3.5h-9.2zM640.1 614.5h9.2v3.5h-9.2zM649.2 614.5h9.2v3.5h-9.2zM704.1 614.5h9.2v3.5h-9.2zM713.2 614.5h9.2v3.5h-9.2zM786.3 614.5h9.2v3.5h-9.2zM804.6 614.5h9.2v3.5h-9.2zM1097.1 614.5h9.2v3.5h-9.2zM1325.6 614.5h9.2v3.5h-9.2zM1343.9 614.5h9.2v3.5h-9.2zM795.5 618h9.2v3.5h-9.2zM960 618h9.2v3.5h-9.2zM978.3 618h9.2v3.5h-9.2zM1024 618h9.2v3.5h-9.2zM1170.3 618h9.2v3.5h-9.2zM1188.5 618h9.2v3.5h-9.2zM1197.7 618h9.2v3.5h-9.2zM375 621.4h9.2v3.5h-9.2zM384.1 621.4h9.2v3.5h-9.2zM521.3 621.4h9.2v3.5h-9.2zM557.8 621.4h9.2v3.5h-9.2zM612.7 621.4h9.2v3.5h-9.2zM704.1 621.4h9.2v3.5h-9.2zM804.6 621.4h9.2v3.5h-9.2zM813.8 621.4h9.2v3.5h-9.2zM832 621.4h9.2v3.5h-9.2zM923.5 621.4h9.2v3.5h-9.2zM941.7 621.4h9.2v3.5h-9.2zM1014.9 621.4h9.2v3.5h-9.2zM1033.1 621.4h9.2v3.5h-9.2zM1088 621.4h9.2v3.5h-9.2zM1097.1 621.4h9.2v3.5h-9.2zM1206.8 621.4h9.2v3.5h-9.2zM1435.3 621.4h9.2v3.5h-9.2zM475.5 624.9h9.2v3.5h-9.2zM621.8 624.9h9.2v3.5h-9.2zM777.2 624.9h9.2v3.5h-9.2zM950.9 624.9h9.2v3.5h-9.2zM960 624.9h9.2v3.5h-9.2zM1444.5 624.9h9.2v3.5h-9.2zM1453.6 624.9h9.2v3.5h-9.2zM503 628.3h9.2v3.5h-9.2zM594.4 628.3h9.2v3.5h-9.2zM1270.8 628.3h9.2v3.5h-9.2zM1325.6 628.3h9.2v3.5h-9.2zM630.9 631.8h9.2v3.5h-9.2zM704.1 631.8h9.2v3.5h-9.2zM877.7 631.8h9.2v3.5h-9.2zM896 631.8h9.2v3.5h-9.2zM996.6 631.8h9.2v3.5h-9.2zM1051.4 631.8h9.2v3.5h-9.2zM594.4 635.2h9.2v3.5h-9.2zM603.5 635.2h9.2v3.5h-9.2zM640.1 635.2h9.2v3.5h-9.2zM694.9 635.2h9.2v3.5h-9.2zM740.6 635.2h9.2v3.5h-9.2zM941.7 635.2h9.2v3.5h-9.2zM1069.7 635.2h9.2v3.5h-9.2zM1097.1 635.2h9.2v3.5h-9.2zM1216 635.2h9.2v3.5h-9.2zM1325.6 635.2h9.2v3.5h-9.2zM411.6 638.7h9.2v3.5h-9.2zM457.3 638.7h9.2v3.5h-9.2zM539.5 638.7h9.2v3.5h-9.2zM576.1 638.7h9.2v3.5h-9.2zM612.7 638.7h9.2v3.5h-9.2zM722.4 638.7h9.2v3.5h-9.2zM850.3 638.7h9.2v3.5h-9.2zM1252.5 638.7h9.2v3.5h-9.2zM493.8 642.1h9.2v3.5h-9.2zM1014.9 642.1h9.2v3.5h-9.2zM1225.1 642.1h9.2v3.5h-9.2zM1234.2 642.1h9.2v3.5h-9.2zM1389.6 642.1h9.2v3.5h-9.2zM1398.8 642.1h9.2v3.5h-9.2zM475.5 645.6h9.2v3.5h-9.2zM493.8 645.6h9.2v3.5h-9.2zM621.8 645.6h9.2v3.5h-9.2zM630.9 645.6h9.2v3.5h-9.2zM640.1 645.6h9.2v3.5h-9.2zM667.5 645.6h9.2v3.5h-9.2zM822.9 645.6h9.2v3.5h-9.2zM850.3 645.6h9.2v3.5h-9.2zM950.9 645.6h9.2v3.5h-9.2zM960 645.6h9.2v3.5h-9.2zM1042.3 645.6h9.2v3.5h-9.2zM1252.5 645.6h9.2v3.5h-9.2zM375 649h9.2v3.5h-9.2zM576.1 649h9.2v3.5h-9.2zM640.1 649h9.2v3.5h-9.2zM713.2 649h9.2v3.5h-9.2zM731.5 649h9.2v3.5h-9.2zM795.5 649h9.2v3.5h-9.2zM868.6 649h9.2v3.5h-9.2zM905.2 649h9.2v3.5h-9.2zM722.4 652.5h9.2v3.5h-9.2zM1060.6 652.5h9.2v3.5h-9.2zM1088 652.5h9.2v3.5h-9.2zM1188.5 652.5h9.2v3.5h-9.2zM1197.7 652.5h9.2v3.5h-9.2zM411.6 655.9h9.2v3.5h-9.2zM740.6 655.9h9.2v3.5h-9.2zM786.3 655.9h9.2v3.5h-9.2zM868.6 655.9h9.2v3.5h-9.2zM886.9 655.9h9.2v3.5h-9.2zM950.9 655.9h9.2v3.5h-9.2zM1115.4 655.9h9.2v3.5h-9.2zM1206.8 655.9h9.2v3.5h-9.2zM1261.7 655.9h9.2v3.5h-9.2zM1270.8 655.9h9.2v3.5h-9.2zM1417.1 655.9h9.2v3.5h-9.2zM795.5 659.4h9.2v3.5h-9.2zM832 659.4h9.2v3.5h-9.2zM859.5 659.4h9.2v3.5h-9.2zM932.6 659.4h9.2v3.5h-9.2zM941.7 659.4h9.2v3.5h-9.2zM960 659.4h9.2v3.5h-9.2zM1069.7 659.4h9.2v3.5h-9.2zM1279.9 659.4h9.2v3.5h-9.2zM1298.2 659.4h9.2v3.5h-9.2zM1435.3 659.4h9.2v3.5h-9.2zM667.5 662.8h9.2v3.5h-9.2zM676.6 662.8h9.2v3.5h-9.2zM722.4 662.8h9.2v3.5h-9.2zM758.9 662.8h9.2v3.5h-9.2zM914.3 662.8h9.2v3.5h-9.2zM923.5 662.8h9.2v3.5h-9.2zM941.7 662.8h9.2v3.5h-9.2zM950.9 662.8h9.2v3.5h-9.2zM1069.7 662.8h9.2v3.5h-9.2zM1088 662.8h9.2v3.5h-9.2zM1142.8 662.8h9.2v3.5h-9.2zM1152 662.8h9.2v3.5h-9.2zM475.5 666.3h9.2v3.5h-9.2zM603.5 666.3h9.2v3.5h-9.2zM731.5 666.3h9.2v3.5h-9.2zM740.6 666.3h9.2v3.5h-9.2zM832 666.3h9.2v3.5h-9.2zM996.6 666.3h9.2v3.5h-9.2zM1005.7 666.3h9.2v3.5h-9.2zM1014.9 666.3h9.2v3.5h-9.2zM630.9 669.7h9.2v3.5h-9.2zM749.8 669.7h9.2v3.5h-9.2zM868.6 669.7h9.2v3.5h-9.2zM1216 669.7h9.2v3.5h-9.2zM1343.9 669.7h9.2v3.5h-9.2zM1371.4 669.7h9.2v3.5h-9.2zM393.3 673.2h9.2v3.5h-9.2zM585.2 673.2h9.2v3.5h-9.2zM722.4 673.2h9.2v3.5h-9.2zM1142.8 673.2h9.2v3.5h-9.2zM1243.4 673.2h9.2v3.5h-9.2zM1252.5 673.2h9.2v3.5h-9.2zM1270.8 673.2h9.2v3.5h-9.2zM1371.4 673.2h9.2v3.5h-9.2zM594.4 676.6h9.2v3.5h-9.2zM804.6 676.6h9.2v3.5h-9.2zM850.3 676.6h9.2v3.5h-9.2zM932.6 676.6h9.2v3.5h-9.2zM375 680.1h9.2v3.5h-9.2zM384.1 680.1h9.2v3.5h-9.2zM448.1 680.1h9.2v3.5h-9.2zM576.1 680.1h9.2v3.5h-9.2zM685.8 680.1h9.2v3.5h-9.2zM987.4 680.1h9.2v3.5h-9.2zM1088 680.1h9.2v3.5h-9.2zM1371.4 680.1h9.2v3.5h-9.2zM448.1 683.5h9.2v3.5h-9.2zM475.5 683.5h9.2v3.5h-9.2zM503 683.5h9.2v3.5h-9.2zM667.5 683.5h9.2v3.5h-9.2zM850.3 683.5h9.2v3.5h-9.2zM1060.6 683.5h9.2v3.5h-9.2zM1252.5 683.5h9.2v3.5h-9.2zM1261.7 683.5h9.2v3.5h-9.2zM1279.9 683.5h9.2v3.5h-9.2zM676.6 687h9.2v3.5h-9.2zM923.5 687h9.2v3.5h-9.2zM960 687h9.2v3.5h-9.2zM1005.7 687h9.2v3.5h-9.2zM1014.9 687h9.2v3.5h-9.2zM1042.3 687h9.2v3.5h-9.2zM1161.1 687h9.2v3.5h-9.2zM1225.1 687h9.2v3.5h-9.2zM1279.9 687h9.2v3.5h-9.2zM1353.1 687h9.2v3.5h-9.2zM621.8 690.4h9.2v3.5h-9.2zM640.1 690.4h9.2v3.5h-9.2zM813.8 690.4h9.2v3.5h-9.2zM923.5 690.4h9.2v3.5h-9.2zM978.3 690.4h9.2v3.5h-9.2zM1106.3 690.4h9.2v3.5h-9.2zM1152 690.4h9.2v3.5h-9.2zM1243.4 690.4h9.2v3.5h-9.2zM1270.8 690.4h9.2v3.5h-9.2zM375 693.9h9.2v3.5h-9.2zM420.7 693.9h9.2v3.5h-9.2zM439 693.9h9.2v3.5h-9.2zM832 693.9h9.2v3.5h-9.2zM914.3 693.9h9.2v3.5h-9.2zM1042.3 693.9h9.2v3.5h-9.2zM1051.4 693.9h9.2v3.5h-9.2zM1206.8 693.9h9.2v3.5h-9.2zM1298.2 693.9h9.2v3.5h-9.2zM1353.1 693.9h9.2v3.5h-9.2zM1362.2 693.9h9.2v3.5h-9.2zM375 697.3h9.2v3.5h-9.2zM448.1 697.3h9.2v3.5h-9.2zM475.5 697.3h9.2v3.5h-9.2zM484.7 697.3h9.2v3.5h-9.2zM493.8 697.3h9.2v3.5h-9.2zM530.4 697.3h9.2v3.5h-9.2zM539.5 697.3h9.2v3.5h-9.2zM667.5 697.3h9.2v3.5h-9.2zM1188.5 697.3h9.2v3.5h-9.2zM1362.2 697.3h9.2v3.5h-9.2zM429.8 700.8h9.2v3.5h-9.2zM439 700.8h9.2v3.5h-9.2zM704.1 700.8h9.2v3.5h-9.2zM749.8 700.8h9.2v3.5h-9.2zM1106.3 700.8h9.2v3.5h-9.2zM1124.5 700.8h9.2v3.5h-9.2zM1152 700.8h9.2v3.5h-9.2zM1161.1 700.8h9.2v3.5h-9.2zM1216 700.8h9.2v3.5h-9.2zM621.8 704.2h9.2v3.5h-9.2zM749.8 704.2h9.2v3.5h-9.2zM1234.2 704.2h9.2v3.5h-9.2zM1279.9 704.2h9.2v3.5h-9.2zM1371.4 704.2h9.2v3.5h-9.2zM493.8 707.7h9.2v3.5h-9.2zM503 707.7h9.2v3.5h-9.2zM585.2 707.7h9.2v3.5h-9.2zM667.5 707.7h9.2v3.5h-9.2zM676.6 707.7h9.2v3.5h-9.2zM905.2 707.7h9.2v3.5h-9.2zM960 707.7h9.2v3.5h-9.2zM1078.8 707.7h9.2v3.5h-9.2zM1161.1 707.7h9.2v3.5h-9.2zM1398.8 707.7h9.2v3.5h-9.2zM466.4 711.1h9.2v3.5h-9.2zM685.8 711.1h9.2v3.5h-9.2zM1042.3 711.1h9.2v3.5h-9.2zM1307.4 711.1h9.2v3.5h-9.2zM1353.1 711.1h9.2v3.5h-9.2zM466.4 714.6h9.2v3.5h-9.2zM1024 714.6h9.2v3.5h-9.2zM1371.4 714.6h9.2v3.5h-9.2zM1426.2 714.6h9.2v3.5h-9.2zM411.6 718h9.2v3.5h-9.2zM466.4 718h9.2v3.5h-9.2zM475.5 718h9.2v3.5h-9.2zM795.5 718h9.2v3.5h-9.2zM950.9 718h9.2v3.5h-9.2zM1142.8 718h9.2v3.5h-9.2zM1225.1 718h9.2v3.5h-9.2zM375 721.5h9.2v3.5h-9.2zM393.3 721.5h9.2v3.5h-9.2zM484.7 721.5h9.2v3.5h-9.2zM585.2 721.5h9.2v3.5h-9.2zM649.2 721.5h9.2v3.5h-9.2zM685.8 721.5h9.2v3.5h-9.2zM795.5 721.5h9.2v3.5h-9.2zM841.2 721.5h9.2v3.5h-9.2zM886.9 721.5h9.2v3.5h-9.2zM1161.1 721.5h9.2v3.5h-9.2zM1216 721.5h9.2v3.5h-9.2zM1417.1 721.5h9.2v3.5h-9.2zM1435.3 721.5h9.2v3.5h-9.2zM1462.8 721.5h9.2v3.5h-9.2zM439 724.9h9.2v3.5h-9.2zM457.3 724.9h9.2v3.5h-9.2zM567 724.9h9.2v3.5h-9.2zM795.5 724.9h9.2v3.5h-9.2zM896 724.9h9.2v3.5h-9.2zM1078.8 724.9h9.2v3.5h-9.2zM1088 724.9h9.2v3.5h-9.2zM1216 724.9h9.2v3.5h-9.2zM1398.8 724.9h9.2v3.5h-9.2zM393.3 728.4h9.2v3.5h-9.2zM493.8 728.4h9.2v3.5h-9.2zM649.2 728.4h9.2v3.5h-9.2zM694.9 728.4h9.2v3.5h-9.2zM713.2 728.4h9.2v3.5h-9.2zM731.5 728.4h9.2v3.5h-9.2zM749.8 728.4h9.2v3.5h-9.2zM758.9 728.4h9.2v3.5h-9.2zM804.6 728.4h9.2v3.5h-9.2zM813.8 728.4h9.2v3.5h-9.2zM905.2 728.4h9.2v3.5h-9.2zM914.3 728.4h9.2v3.5h-9.2zM941.7 728.4h9.2v3.5h-9.2zM1024 728.4h9.2v3.5h-9.2zM1243.4 728.4h9.2v3.5h-9.2zM1307.4 728.4h9.2v3.5h-9.2zM1343.9 728.4h9.2v3.5h-9.2zM1353.1 728.4h9.2v3.5h-9.2zM1453.6 728.4h9.2v3.5h-9.2zM1462.8 728.4h9.2v3.5h-9.2zM375 731.8h9.2v3.5h-9.2zM466.4 731.8h9.2v3.5h-9.2zM630.9 731.8h9.2v3.5h-9.2zM658.4 731.8h9.2v3.5h-9.2zM676.6 731.8h9.2v3.5h-9.2zM868.6 731.8h9.2v3.5h-9.2zM877.7 731.8h9.2v3.5h-9.2zM886.9 731.8h9.2v3.5h-9.2zM1179.4 731.8h9.2v3.5h-9.2zM1407.9 731.8h9.2v3.5h-9.2zM1462.8 731.8h9.2v3.5h-9.2zM493.8 735.3h9.2v3.5h-9.2zM594.4 735.3h9.2v3.5h-9.2zM749.8 735.3h9.2v3.5h-9.2zM795.5 735.3h9.2v3.5h-9.2zM950.9 735.3h9.2v3.5h-9.2zM1005.7 735.3h9.2v3.5h-9.2zM1051.4 735.3h9.2v3.5h-9.2zM1142.8 735.3h9.2v3.5h-9.2zM1197.7 735.3h9.2v3.5h-9.2zM1343.9 735.3h9.2v3.5h-9.2zM1417.1 735.3h9.2v3.5h-9.2zM1444.5 735.3h9.2v3.5h-9.2zM420.7 738.7h9.2v3.5h-9.2zM457.3 738.7h9.2v3.5h-9.2zM466.4 738.7h9.2v3.5h-9.2zM503 738.7h9.2v3.5h-9.2zM548.7 738.7h9.2v3.5h-9.2zM557.8 738.7h9.2v3.5h-9.2zM713.2 738.7h9.2v3.5h-9.2zM804.6 738.7h9.2v3.5h-9.2zM850.3 738.7h9.2v3.5h-9.2zM886.9 738.7h9.2v3.5h-9.2zM950.9 738.7h9.2v3.5h-9.2zM1124.5 738.7h9.2v3.5h-9.2zM1142.8 738.7h9.2v3.5h-9.2zM1206.8 738.7h9.2v3.5h-9.2zM1216 738.7h9.2v3.5h-9.2zM1270.8 738.7h9.2v3.5h-9.2zM1389.6 738.7h9.2v3.5h-9.2zM1398.8 738.7h9.2v3.5h-9.2zM393.3 742.2h9.2v3.5h-9.2zM448.1 742.2h9.2v3.5h-9.2zM521.3 742.2h9.2v3.5h-9.2zM603.5 742.2h9.2v3.5h-9.2zM813.8 742.2h9.2v3.5h-9.2zM987.4 742.2h9.2v3.5h-9.2zM1078.8 742.2h9.2v3.5h-9.2zM1106.3 742.2h9.2v3.5h-9.2zM1426.2 742.2h9.2v3.5h-9.2zM429.8 745.6h9.2v3.5h-9.2zM484.7 745.6h9.2v3.5h-9.2zM612.7 745.6h9.2v3.5h-9.2zM649.2 745.6h9.2v3.5h-9.2zM1097.1 745.6h9.2v3.5h-9.2zM1179.4 745.6h9.2v3.5h-9.2zM1270.8 745.6h9.2v3.5h-9.2zM1371.4 745.6h9.2v3.5h-9.2zM457.3 749.1h9.2v3.5h-9.2zM521.3 749.1h9.2v3.5h-9.2zM694.9 749.1h9.2v3.5h-9.2zM1014.9 749.1h9.2v3.5h-9.2zM1033.1 749.1h9.2v3.5h-9.2zM1261.7 749.1h9.2v3.5h-9.2zM1270.8 749.1h9.2v3.5h-9.2zM1325.6 749.1h9.2v3.5h-9.2zM1462.8 749.1h9.2v3.5h-9.2zM493.8 752.5h9.2v3.5h-9.2zM503 752.5h9.2v3.5h-9.2zM557.8 752.5h9.2v3.5h-9.2zM658.4 752.5h9.2v3.5h-9.2zM676.6 752.5h9.2v3.5h-9.2zM923.5 752.5h9.2v3.5h-9.2zM932.6 752.5h9.2v3.5h-9.2zM1024 752.5h9.2v3.5h-9.2zM1042.3 752.5h9.2v3.5h-9.2zM731.5 756h9.2v3.5h-9.2zM758.9 756h9.2v3.5h-9.2zM1069.7 756h9.2v3.5h-9.2zM1142.8 756h9.2v3.5h-9.2zM1444.5 756h9.2v3.5h-9.2zM457.3 759.4h9.2v3.5h-9.2zM484.7 759.4h9.2v3.5h-9.2zM493.8 759.4h9.2v3.5h-9.2zM512.1 759.4h9.2v3.5h-9.2zM521.3 759.4h9.2v3.5h-9.2zM567 759.4h9.2v3.5h-9.2zM576.1 759.4h9.2v3.5h-9.2zM905.2 759.4h9.2v3.5h-9.2zM914.3 759.4h9.2v3.5h-9.2zM923.5 759.4h9.2v3.5h-9.2zM1316.5 759.4h9.2v3.5h-9.2zM676.6 762.9h9.2v3.5h-9.2zM1097.1 762.9h9.2v3.5h-9.2zM1106.3 762.9h9.2v3.5h-9.2zM1124.5 762.9h9.2v3.5h-9.2zM1142.8 762.9h9.2v3.5h-9.2zM1161.1 762.9h9.2v3.5h-9.2zM1170.3 762.9h9.2v3.5h-9.2zM1179.4 762.9h9.2v3.5h-9.2zM1197.7 762.9h9.2v3.5h-9.2zM1371.4 762.9h9.2v3.5h-9.2zM1462.8 762.9h9.2v3.5h-9.2zM539.5 766.3h9.2v3.5h-9.2zM548.7 766.3h9.2v3.5h-9.2zM896 766.3h9.2v3.5h-9.2zM1152 766.3h9.2v3.5h-9.2zM1389.6 766.3h9.2v3.5h-9.2zM1417.1 766.3h9.2v3.5h-9.2zM384.1 769.8h9.2v3.9h-9.2zM429.8 769.8h9.2v3.9h-9.2zM439 769.8h9.2v3.9h-9.2zM530.4 769.8h9.2v3.9h-9.2zM630.9 769.8h9.2v3.9h-9.2zM731.5 769.8h9.2v3.9h-9.2zM795.5 769.8h9.2v3.9h-9.2zM841.2 769.8h9.2v3.9h-9.2zM850.3 769.8h9.2v3.9h-9.2zM960 769.8h9.2v3.9h-9.2zM1042.3 769.8h9.2v3.9h-9.2zM1334.8 769.8h9.2v3.9h-9.2zM1453.6 769.8h9.2v3.9h-9.2zM439 773.7h9.2v4.5h-9.2zM466.4 773.7h9.2v4.5h-9.2zM475.5 773.7h9.2v4.5h-9.2zM493.8 773.7h9.2v4.5h-9.2zM521.3 773.7h9.2v4.5h-9.2zM539.5 773.7h9.2v4.5h-9.2zM594.4 773.7h9.2v4.5h-9.2zM612.7 773.7h9.2v4.5h-9.2zM640.1 773.7h9.2v4.5h-9.2zM731.5 773.7h9.2v4.5h-9.2zM786.3 773.7h9.2v4.5h-9.2zM795.5 773.7h9.2v4.5h-9.2zM996.6 773.7h9.2v4.5h-9.2zM1014.9 773.7h9.2v4.5h-9.2zM1197.7 773.7h9.2v4.5h-9.2zM1407.9 773.7h9.2v4.5h-9.2zM1417.1 773.7h9.2v4.5h-9.2zM448.1 778.1h9.2v5h-9.2zM530.4 778.1h9.2v5h-9.2zM567 778.1h9.2v5h-9.2zM603.5 778.1h9.2v5h-9.2zM795.5 778.1h9.2v5h-9.2zM804.6 778.1h9.2v5h-9.2zM1060.6 778.1h9.2v5h-9.2zM1289.1 778.1h9.2v5h-9.2zM420.7 783h9.2v5.7h-9.2zM448.1 783h9.2v5.7h-9.2zM731.5 783h9.2v5.7h-9.2zM1014.9 783h9.2v5.7h-9.2zM1124.5 783h9.2v5.7h-9.2zM475.5 788.7h9.2v6.4h-9.2zM548.7 788.7h9.2v6.4h-9.2zM630.9 788.7h9.2v6.4h-9.2zM832 788.7h9.2v6.4h-9.2zM841.2 788.7h9.2v6.4h-9.2zM850.3 788.7h9.2v6.4h-9.2zM1078.8 788.7h9.2v6.4h-9.2zM1088 788.7h9.2v6.4h-9.2zM1106.3 788.7h9.2v6.4h-9.2zM1216 788.7h9.2v6.4h-9.2zM1417.1 788.7h9.2v6.4h-9.2zM402.4 795h9.2v7.2h-9.2zM685.8 795h9.2v7.2h-9.2zM777.2 795h9.2v7.2h-9.2zM941.7 795h9.2v7.2h-9.2zM969.2 795h9.2v7.2h-9.2zM1051.4 795h9.2v7.2h-9.2zM1069.7 795h9.2v7.2h-9.2zM1097.1 795h9.2v7.2h-9.2zM1124.5 795h9.2v7.2h-9.2zM1142.8 795h9.2v7.2h-9.2zM1243.4 795h9.2v7.2h-9.2zM503 802.2h9.2v8.2h-9.2zM667.5 802.2h9.2v8.2h-9.2zM676.6 802.2h9.2v8.2h-9.2zM786.3 802.2h9.2v8.2h-9.2zM795.5 802.2h9.2v8.2h-9.2zM960 802.2h9.2v8.2h-9.2zM987.4 802.2h9.2v8.2h-9.2zM1005.7 802.2h9.2v8.2h-9.2zM1161.1 802.2h9.2v8.2h-9.2zM1170.3 802.2h9.2v8.2h-9.2zM1453.6 802.2h9.2v8.2h-9.2zM667.5 810.3h9.2v9.2h-9.2zM941.7 810.3h9.2v9.2h-9.2zM950.9 810.3h9.2v9.2h-9.2zM969.2 810.3h9.2v9.2h-9.2zM1051.4 810.3h9.2v9.2h-9.2zM1106.3 810.3h9.2v9.2h-9.2zM1261.7 810.3h9.2v9.2h-9.2zM1307.4 810.3h9.2v9.2h-9.2zM1353.1 810.3h9.2v9.2h-9.2zM1362.2 810.3h9.2v9.2h-9.2zM1380.5 810.3h9.2v9.2h-9.2zM1435.3 810.3h9.2v9.2h-9.2zM429.8 819.5h9.2v9.6h-9.2zM493.8 819.5h9.2v9.6h-9.2zM548.7 819.5h9.2v9.6h-9.2zM557.8 819.5h9.2v9.6h-9.2zM567 819.5h9.2v9.6h-9.2zM649.2 819.5h9.2v9.6h-9.2zM685.8 819.5h9.2v9.6h-9.2zM740.6 819.5h9.2v9.6h-9.2zM758.9 819.5h9.2v9.6h-9.2zM804.6 819.5h9.2v9.6h-9.2zM859.5 819.5h9.2v9.6h-9.2zM868.6 819.5h9.2v9.6h-9.2zM978.3 819.5h9.2v9.6h-9.2zM1069.7 819.5h9.2v9.6h-9.2zM1197.7 819.5h9.2v9.6h-9.2zM1279.9 819.5h9.2v9.6h-9.2zM1343.9 819.5h9.2v9.6h-9.2zM1426.2 819.5h9.2v9.6h-9.2zM402.4 829h9.2v9.6h-9.2zM1124.5 829h9.2v9.6h-9.2zM1152 829h9.2v9.6h-9.2zM1225.1 829h9.2v9.6h-9.2zM658.4 838.5h9.2v4.5h-9.2zM987.4 838.5h9.2v4.5h-9.2zM1161.1 838.5h9.2v4.5h-9.2zM1307.4 838.5h9.2v4.5h-9.2zM1316.5 838.5h9.2v4.5h-9.2zM1407.9 838.5h9.2v4.5h-9.2z"/>
<path fill="#2c0df4" d="M749.8 580h9.2v3.5h-9.2zM1179.4 580h9.2v3.5h-9.2zM576.1 583.5h9.2v3.5h-9.2zM621.8 583.5h9.2v3.5h-9.2zM786.3 583.5h9.2v3.5h-9.2zM1398.8 583.5h9.2v3.5h-9.2zM1453.6 583.5h9.2v3.5h-9.2zM694.9 586.9h9.2v3.5h-9.2zM932.6 586.9h9.2v3.5h-9.2zM1371.4 586.9h9.2v3.5h-9.2zM1426.2 586.9h9.2v3.5h-9.2zM612.7 590.4h9.2v3.5h-9.2zM658.4 590.4h9.2v3.5h-9.2zM923.5 590.4h9.2v3.5h-9.2zM1042.3 590.4h9.2v3.5h-9.2zM1124.5 590.4h9.2v3.5h-9.2zM1243.4 590.4h9.2v3.5h-9.2zM1380.5 590.4h9.2v3.5h-9.2zM384.1 593.8h9.2v3.5h-9.2zM493.8 593.8h9.2v3.5h-9.2zM503 593.8h9.2v3.5h-9.2zM530.4 593.8h9.2v3.5h-9.2zM1033.1 593.8h9.2v3.5h-9.2zM1078.8 593.8h9.2v3.5h-9.2zM1380.5 593.8h9.2v3.5h-9.2zM621.8 597.3h9.2v3.5h-9.2zM1371.4 597.3h9.2v3.5h-9.2zM439 600.7h9.2v3.5h-9.2zM859.5 600.7h9.2v3.5h-9.2zM1051.4 600.7h9.2v3.5h-9.2zM1206.8 600.7h9.2v3.5h-9.2zM1225.1 600.7h9.2v3.5h-9.2zM1407.9 600.7h9.2v3.5h-9.2zM1417.1 600.7h9.2v3.5h-9.2zM713.2 604.2h9.2v3.5h-9.2zM859.5 604.2h9.2v3.5h-9.2zM960 604.2h9.2v3.5h-9.2zM1225.1 604.2h9.2v3.5h-9.2zM1298.2 604.2h9.2v3.5h-9.2zM1307.4 604.2h9.2v3.5h-9.2zM1343.9 604.2h9.2v3.5h-9.2zM576.1 607.6h9.2v3.5h-9.2zM1325.6 607.6h9.2v3.5h-9.2zM402.4 611.1h9.2v3.5h-9.2zM420.7 611.1h9.2v3.5h-9.2zM548.7 611.1h9.2v3.5h-9.2zM694.9 611.1h9.2v3.5h-9.2zM731.5 611.1h9.2v3.5h-9.2zM1170.3 611.1h9.2v3.5h-9.2zM1325.6 611.1h9.2v3.5h-9.2zM375 614.5h9.2v3.5h-9.2zM722.4 614.5h9.2v3.5h-9.2zM841.2 614.5h9.2v3.5h-9.2zM1188.5 614.5h9.2v3.5h-9.2zM1088 618h9.2v3.5h-9.2zM1124.5 618h9.2v3.5h-9.2zM1353.1 618h9.2v3.5h-9.2zM576.1 621.4h9.2v3.5h-9.2zM713.2 621.4h9.2v3.5h-9.2zM795.5 621.4h9.2v3.5h-9.2zM822.9 621.4h9.2v3.5h-9.2zM896 621.4h9.2v3.5h-9.2zM1042.3 621.4h9.2v3.5h-9.2zM557.8 624.9h9.2v3.5h-9.2zM768.1 624.9h9.2v3.5h-9.2zM1115.4 624.9h9.2v3.5h-9.2zM1188.5 624.9h9.2v3.5h-9.2zM1389.6 624.9h9.2v3.5h-9.2zM694.9 628.3h9.2v3.5h-9.2zM950.9 628.3h9.2v3.5h-9.2zM969.2 628.3h9.2v3.5h-9.2zM978.3 628.3h9.2v3.5h-9.2zM1033.1 628.3h9.2v3.5h-9.2zM1462.8 628.3h9.2v3.5h-9.2zM1078.8 631.8h9.2v3.5h-9.2zM1088 631.8h9.2v3.5h-9.2zM1225.1 631.8h9.2v3.5h-9.2zM1060.6 638.7h9.2v3.5h-9.2zM1142.8 638.7h9.2v3.5h-9.2zM1161.1 638.7h9.2v3.5h-9.2zM411.6 642.1h9.2v3.5h-9.2zM640.1 642.1h9.2v3.5h-9.2zM923.5 642.1h9.2v3.5h-9.2zM932.6 642.1h9.2v3.5h-9.2zM941.7 642.1h9.2v3.5h-9.2zM411.6 645.6h9.2v3.5h-9.2zM649.2 645.6h9.2v3.5h-9.2zM841.2 645.6h9.2v3.5h-9.2zM1033.1 645.6h9.2v3.5h-9.2zM1206.8 645.6h9.2v3.5h-9.2zM630.9 649h9.2v3.5h-9.2zM877.7 649h9.2v3.5h-9.2zM1453.6 649h9.2v3.5h-9.2zM786.3 652.5h9.2v3.5h-9.2zM1270.8 652.5h9.2v3.5h-9.2zM1362.2 652.5h9.2v3.5h-9.2zM905.2 655.9h9.2v3.5h-9.2zM1014.9 655.9h9.2v3.5h-9.2zM475.5 659.4h9.2v3.5h-9.2zM557.8 659.4h9.2v3.5h-9.2zM567 659.4h9.2v3.5h-9.2zM630.9 659.4h9.2v3.5h-9.2zM685.8 659.4h9.2v3.5h-9.2zM777.2 659.4h9.2v3.5h-9.2zM804.6 659.4h9.2v3.5h-9.2zM978.3 659.4h9.2v3.5h-9.2zM1078.8 659.4h9.2v3.5h-9.2zM1216 659.4h9.2v3.5h-9.2zM1389.6 659.4h9.2v3.5h-9.2zM1417.1 659.4h9.2v3.5h-9.2zM1444.5 659.4h9.2v3.5h-9.2zM822.9 662.8h9.2v3.5h-9.2zM978.3 662.8h9.2v3.5h-9.2zM1380.5 662.8h9.2v3.5h-9.2zM612.7 666.3h9.2v3.5h-9.2zM630.9 666.3h9.2v3.5h-9.2zM621.8 669.7h9.2v3.5h-9.2zM1042.3 669.7h9.2v3.5h-9.2zM1334.8 669.7h9.2v3.5h-9.2zM503 673.2h9.2v3.5h-9.2zM1133.7 673.2h9.2v3.5h-9.2zM1316.5 673.2h9.2v3.5h-9.2zM402.4 676.6h9.2v3.5h-9.2zM612.7 676.6h9.2v3.5h-9.2zM859.5 676.6h9.2v3.5h-9.2zM914.3 676.6h9.2v3.5h-9.2zM1371.4 676.6h9.2v3.5h-9.2zM439 680.1h9.2v3.5h-9.2zM594.4 680.1h9.2v3.5h-9.2zM960 680.1h9.2v3.5h-9.2zM978.3 680.1h9.2v3.5h-9.2zM1033.1 680.1h9.2v3.5h-9.2zM439 683.5h9.2v3.5h-9.2zM512.1 683.5h9.2v3.5h-9.2zM521.3 683.5h9.2v3.5h-9.2zM905.2 683.5h9.2v3.5h-9.2zM1005.7 683.5h9.2v3.5h-9.2zM1179.4 683.5h9.2v3.5h-9.2zM448.1 687h9.2v3.5h-9.2zM667.5 687h9.2v3.5h-9.2zM1170.3 687h9.2v3.5h-9.2zM1234.2 687h9.2v3.5h-9.2zM630.9 690.4h9.2v3.5h-9.2zM969.2 690.4h9.2v3.5h-9.2zM1161.1 690.4h9.2v3.5h-9.2zM1298.2 690.4h9.2v3.5h-9.2zM411.6 693.9h9.2v3.5h-9.2zM685.8 693.9h9.2v3.5h-9.2zM1170.3 693.9h9.2v3.5h-9.2zM503 697.3h9.2v3.5h-9.2zM822.9 697.3h9.2v3.5h-9.2zM832 697.3h9.2v3.5h-9.2zM914.3 697.3h9.2v3.5h-9.2zM1042.3 697.3h9.2v3.5h-9.2zM557.8 700.8h9.2v3.5h-9.2zM685.8 700.8h9.2v3.5h-9.2zM1170.3 700.8h9.2v3.5h-9.2zM1179.4 700.8h9.2v3.5h-9.2zM1188.5 700.8h9.2v3.5h-9.2zM1462.8 700.8h9.2v3.5h-9.2zM685.8 704.2h9.2v3.5h-9.2zM713.2 704.2h9.2v3.5h-9.2zM914.3 704.2h9.2v3.5h-9.2zM1216 704.2h9.2v3.5h-9.2zM658.4 707.7h9.2v3.5h-9.2zM1024 707.7h9.2v3.5h-9.2zM786.3 711.1h9.2v3.5h-9.2zM932.6 711.1h9.2v3.5h-9.2zM941.7 711.1h9.2v3.5h-9.2zM969.2 711.1h9.2v3.5h-9.2zM585.2 714.6h9.2v3.5h-9.2zM1234.2 714.6h9.2v3.5h-9.2zM448.1 718h9.2v3.5h-9.2zM731.5 718h9.2v3.5h-9.2zM905.2 718h9.2v3.5h-9.2zM1088 718h9.2v3.5h-9.2zM1216 718h9.2v3.5h-9.2zM1252.5 718h9.2v3.5h-9.2zM1444.5 718h9.2v3.5h-9.2zM521.3 721.5h9.2v3.5h-9.2zM530.4 721.5h9.2v3.5h-9.2zM557.8 721.5h9.2v3.5h-9.2zM676.6 721.5h9.2v3.5h-9.2zM1115.4 721.5h9.2v3.5h-9.2zM484.7 724.9h9.2v3.5h-9.2zM603.5 724.9h9.2v3.5h-9.2zM731.5 724.9h9.2v3.5h-9.2zM804.6 724.9h9.2v3.5h-9.2zM1115.4 724.9h9.2v3.5h-9.2zM1206.8 724.9h9.2v3.5h-9.2zM1407.9 724.9h9.2v3.5h-9.2zM576.1 728.4h9.2v3.5h-9.2zM658.4 728.4h9.2v3.5h-9.2zM704.1 728.4h9.2v3.5h-9.2zM722.4 728.4h9.2v3.5h-9.2zM1033.1 728.4h9.2v3.5h-9.2zM1042.3 728.4h9.2v3.5h-9.2zM1234.2 728.4h9.2v3.5h-9.2zM621.8 731.8h9.2v3.5h-9.2zM685.8 731.8h9.2v3.5h-9.2zM1106.3 731.8h9.2v3.5h-9.2zM1353.1 731.8h9.2v3.5h-9.2zM1206.8 735.3h9.2v3.5h-9.2zM1216 735.3h9.2v3.5h-9.2zM1462.8 735.3h9.2v3.5h-9.2zM585.2 738.7h9.2v3.5h-9.2zM768.1 738.7h9.2v3.5h-9.2zM868.6 738.7h9.2v3.5h-9.2zM877.7 738.7h9.2v3.5h-9.2zM969.2 738.7h9.2v3.5h-9.2zM1261.7 738.7h9.2v3.5h-9.2zM1289.1 738.7h9.2v3.5h-9.2zM1334.8 738.7h9.2v3.5h-9.2zM402.4 742.2h9.2v3.5h-9.2zM1444.5 742.2h9.2v3.5h-9.2zM950.9 745.6h9.2v3.5h-9.2zM1362.2 745.6h9.2v3.5h-9.2zM466.4 749.1h9.2v3.5h-9.2zM530.4 749.1h9.2v3.5h-9.2zM567 752.5h9.2v3.5h-9.2zM777.2 752.5h9.2v3.5h-9.2zM914.3 752.5h9.2v3.5h-9.2zM1142.8 752.5h9.2v3.5h-9.2zM1243.4 752.5h9.2v3.5h-9.2zM548.7 756h9.2v3.5h-9.2zM749.8 756h9.2v3.5h-9.2zM832 756h9.2v3.5h-9.2zM1088 756h9.2v3.5h-9.2zM1216 756h9.2v3.5h-9.2zM1435.3 756h9.2v3.5h-9.2zM822.9 759.4h9.2v3.5h-9.2zM859.5 759.4h9.2v3.5h-9.2zM1462.8 759.4h9.2v3.5h-9.2zM567 762.9h9.2v3.5h-9.2zM896 762.9h9.2v3.5h-9.2zM1362.2 762.9h9.2v3.5h-9.2zM1435.3 762.9h9.2v3.5h-9.2zM429.8 766.3h9.2v3.5h-9.2zM457.3 766.3h9.2v3.5h-9.2zM630.9 766.3h9.2v3.5h-9.2zM905.2 766.3h9.2v3.5h-9.2zM1024 766.3h9.2v3.5h-9.2zM1188.5 766.3h9.2v3.5h-9.2zM1371.4 766.3h9.2v3.5h-9.2zM1380.5 766.3h9.2v3.5h-9.2zM1407.9 766.3h9.2v3.5h-9.2zM1426.2 766.3h9.2v3.5h-9.2zM612.7 769.8h9.2v3.9h-9.2zM859.5 769.8h9.2v3.9h-9.2zM448.1 773.7h9.2v4.5h-9.2zM987.4 773.7h9.2v4.5h-9.2zM1024 773.7h9.2v4.5h-9.2zM1234.2 773.7h9.2v4.5h-9.2zM1362.2 773.7h9.2v4.5h-9.2zM1398.8 773.7h9.2v4.5h-9.2zM539.5 778.1h9.2v5h-9.2zM850.3 778.1h9.2v5h-9.2zM987.4 778.1h9.2v5h-9.2zM1252.5 778.1h9.2v5h-9.2zM1343.9 778.1h9.2v5h-9.2zM439 783h9.2v5.7h-9.2zM484.7 783h9.2v5.7h-9.2zM1024 783h9.2v5.7h-9.2zM1069.7 783h9.2v5.7h-9.2zM1334.8 783h9.2v5.7h-9.2zM448.1 788.7h9.2v6.4h-9.2zM457.3 788.7h9.2v6.4h-9.2zM466.4 788.7h9.2v6.4h-9.2zM493.8 788.7h9.2v6.4h-9.2zM567 788.7h9.2v6.4h-9.2zM594.4 788.7h9.2v6.4h-9.2zM822.9 788.7h9.2v6.4h-9.2zM914.3 788.7h9.2v6.4h-9.2zM1051.4 788.7h9.2v6.4h-9.2zM1380.5 788.7h9.2v6.4h-9.2zM429.8 795h9.2v7.2h-9.2zM786.3 795h9.2v7.2h-9.2zM1078.8 795h9.2v7.2h-9.2zM1088 795h9.2v7.2h-9.2zM1133.7 795h9.2v7.2h-9.2zM1252.5 795h9.2v7.2h-9.2zM621.8 802.2h9.2v8.2h-9.2zM685.8 802.2h9.2v8.2h-9.2zM1426.2 802.2h9.2v8.2h-9.2zM1170.3 810.3h9.2v9.2h-9.2zM1279.9 810.3h9.2v9.2h-9.2zM1289.1 810.3h9.2v9.2h-9.2zM1343.9 810.3h9.2v9.2h-9.2zM603.5 819.5h9.2v9.6h-9.2zM722.4 819.5h9.2v9.6h-9.2zM950.9 819.5h9.2v9.6h-9.2zM1225.1 819.5h9.2v9.6h-9.2zM384.1 829h9.2v9.6h-9.2zM457.3 829h9.2v9.6h-9.2zM786.3 829h9.2v9.6h-9.2zM1033.1 829h9.2v9.6h-9.2zM1289.1 829h9.2v9.6h-9.2zM1389.6 829h9.2v9.6h-9.2zM429.8 838.5h9.2v4.5h-9.2zM512.1 838.5h9.2v4.5h-9.2zM548.7 838.5h9.2v4.5h-9.2zM713.2 838.5h9.2v4.5h-9.2zM877.7 838.5h9.2v4.5h-9.2zM1188.5 838.5h9.2v4.5h-9.2zM1216 838.5h9.2v4.5h-9.2zM1298.2 838.5h9.2v4.5h-9.2zM1398.8 838.5h9.2v4.5h-9.2z"/>
<path fill="#400ff2" d="M521.3 580h9.2v3.5h-9.2zM886.9 580h9.2v3.5h-9.2zM1334.8 580h9.2v3.5h-9.2zM1353.1 580h9.2v3.5h-9.2zM1389.6 580h9.2v3.5h-9.2zM1444.5 580h9.2v3.5h-9.2zM448.1 583.5h9.2v3.5h-9.2zM457.3 583.5h9.2v3.5h-9.2zM923.5 583.5h9.2v3.5h-9.2zM950.9 583.5h9.2v3.5h-9.2zM969.2 583.5h9.2v3.5h-9.2zM1069.7 583.5h9.2v3.5h-9.2zM1188.5 583.5h9.2v3.5h-9.2zM393.3 586.9h9.2v3.5h-9.2zM1042.3 586.9h9.2v3.5h-9.2zM1097.1 586.9h9.2v3.5h-9.2zM594.4 590.4h9.2v3.5h-9.2zM777.2 590.4h9.2v3.5h-9.2zM850.3 590.4h9.2v3.5h-9.2zM1142.8 590.4h9.2v3.5h-9.2zM1307.4 590.4h9.2v3.5h-9.2zM1453.6 590.4h9.2v3.5h-9.2zM1462.8 590.4h9.2v3.5h-9.2zM402.4 593.8h9.2v3.5h-9.2zM475.5 593.8h9.2v3.5h-9.2zM813.8 593.8h9.2v3.5h-9.2zM1014.9 593.8h9.2v3.5h-9.2zM567 597.3h9.2v3.5h-9.2zM676.6 597.3h9.2v3.5h-9.2zM832 597.3h9.2v3.5h-9.2zM950.9 597.3h9.2v3.5h-9.2zM969.2 597.3h9.2v3.5h-9.2zM978.3 597.3h9.2v3.5h-9.2zM1051.4 597.3h9.2v3.5h-9.2zM1133.7 597.3h9.2v3.5h-9.2zM722.4 600.7h9.2v3.5h-9.2zM877.7 600.7h9.2v3.5h-9.2zM923.5 600.7h9.2v3.5h-9.2zM1060.6 600.7h9.2v3.5h-9.2zM1234.2 600.7h9.2v3.5h-9.2zM1298.2 600.7h9.2v3.5h-9.2zM1307.4 600.7h9.2v3.5h-9.2zM1435.3 600.7h9.2v3.5h-9.2zM475.5 604.2h9.2v3.5h-9.2zM667.5 604.2h9.2v3.5h-9.2zM850.3 604.2h9.2v3.5h-9.2zM950.9 604.2h9.2v3.5h-9.2zM1407.9 604.2h9.2v3.5h-9.2zM375 607.6h9.2v3.5h-9.2zM384.1 607.6h9.2v3.5h-9.2zM393.3 607.6h9.2v3.5h-9.2zM567 607.6h9.2v3.5h-9.2zM640.1 607.6h9.2v3.5h-9.2zM905.2 607.6h9.2v3.5h-9.2zM1133.7 607.6h9.2v3.5h-9.2zM1289.1 607.6h9.2v3.5h-9.2zM1343.9 607.6h9.2v3.5h-9.2zM457.3 611.1h9.2v3.5h-9.2zM493.8 611.1h9.2v3.5h-9.2zM557.8 611.1h9.2v3.5h-9.2zM941.7 611.1h9.2v3.5h-9.2zM1298.2 614.5h9.2v3.5h-9.2zM429.8 618h9.2v3.5h-9.2zM493.8 618h9.2v3.5h-9.2zM503 618h9.2v3.5h-9.2zM521.3 618h9.2v3.5h-9.2zM539.5 618h9.2v3.5h-9.2zM640.1 618h9.2v3.5h-9.2zM658.4 618h9.2v3.5h-9.2zM667.5 618h9.2v3.5h-9.2zM786.3 618h9.2v3.5h-9.2zM850.3 618h9.2v3.5h-9.2zM996.6 618h9.2v3.5h-9.2zM1234.2 618h9.2v3.5h-9.2zM1343.9 618h9.2v3.5h-9.2zM512.1 621.4h9.2v3.5h-9.2zM530.4 621.4h9.2v3.5h-9.2zM676.6 621.4h9.2v3.5h-9.2zM749.8 621.4h9.2v3.5h-9.2zM758.9 621.4h9.2v3.5h-9.2zM786.3 621.4h9.2v3.5h-9.2zM996.6 621.4h9.2v3.5h-9.2zM1462.8 621.4h9.2v3.5h-9.2zM429.8 624.9h9.2v3.5h-9.2zM795.5 624.9h9.2v3.5h-9.2zM521.3 628.3h9.2v3.5h-9.2zM658.4 628.3h9.2v3.5h-9.2zM822.9 628.3h9.2v3.5h-9.2zM886.9 628.3h9.2v3.5h-9.2zM923.5 628.3h9.2v3.5h-9.2zM941.7 628.3h9.2v3.5h-9.2zM1014.9 628.3h9.2v3.5h-9.2zM1179.4 628.3h9.2v3.5h-9.2zM1307.4 628.3h9.2v3.5h-9.2zM1407.9 628.3h9.2v3.5h-9.2zM484.7 631.8h9.2v3.5h-9.2zM749.8 631.8h9.2v3.5h-9.2zM795.5 631.8h9.2v3.5h-9.2zM960 631.8h9.2v3.5h-9.2zM1142.8 631.8h9.2v3.5h-9.2zM1435.3 631.8h9.2v3.5h-9.2zM1444.5 631.8h9.2v3.5h-9.2zM448.1 635.2h9.2v3.5h-9.2zM667.5 635.2h9.2v3.5h-9.2zM704.1 635.2h9.2v3.5h-9.2zM768.1 635.2h9.2v3.5h-9.2zM905.2 635.2h9.2v3.5h-9.2zM914.3 635.2h9.2v3.5h-9.2zM932.6 635.2h9.2v3.5h-9.2zM1115.4 635.2h9.2v3.5h-9.2zM420.7 638.7h9.2v3.5h-9.2zM877.7 638.7h9.2v3.5h-9.2zM1078.8 638.7h9.2v3.5h-9.2zM1225.1 638.7h9.2v3.5h-9.2zM1426.2 638.7h9.2v3.5h-9.2zM1444.5 638.7h9.2v3.5h-9.2zM475.5 642.1h9.2v3.5h-9.2zM749.8 642.1h9.2v3.5h-9.2zM768.1 642.1h9.2v3.5h-9.2zM1106.3 642.1h9.2v3.5h-9.2zM1362.2 642.1h9.2v3.5h-9.2zM503 645.6h9.2v3.5h-9.2zM694.9 645.6h9.2v3.5h-9.2zM1225.1 645.6h9.2v3.5h-9.2zM859.5 649h9.2v3.5h-9.2zM1152 649h9.2v3.5h-9.2zM493.8 652.5h9.2v3.5h-9.2zM567 652.5h9.2v3.5h-9.2zM749.8 652.5h9.2v3.5h-9.2zM777.2 652.5h9.2v3.5h-9.2zM896 652.5h9.2v3.5h-9.2zM1005.7 652.5h9.2v3.5h-9.2zM1152 652.5h9.2v3.5h-9.2zM1216 652.5h9.2v3.5h-9.2zM1417.1 652.5h9.2v3.5h-9.2zM548.7 655.9h9.2v3.5h-9.2zM630.9 655.9h9.2v3.5h-9.2zM731.5 655.9h9.2v3.5h-9.2zM1024 655.9h9.2v3.5h-9.2zM1197.7 655.9h9.2v3.5h-9.2zM1225.1 655.9h9.2v3.5h-9.2zM1444.5 655.9h9.2v3.5h-9.2zM484.7 659.4h9.2v3.5h-9.2zM521.3 659.4h9.2v3.5h-9.2zM576.1 659.4h9.2v3.5h-9.2zM1033.1 659.4h9.2v3.5h-9.2zM1453.6 659.4h9.2v3.5h-9.2zM521.3 662.8h9.2v3.5h-9.2zM576.1 662.8h9.2v3.5h-9.2zM804.6 662.8h9.2v3.5h-9.2zM841.2 662.8h9.2v3.5h-9.2zM850.3 662.8h9.2v3.5h-9.2zM932.6 662.8h9.2v3.5h-9.2zM969.2 662.8h9.2v3.5h-9.2zM1279.9 662.8h9.2v3.5h-9.2zM1307.4 662.8h9.2v3.5h-9.2zM1435.3 662.8h9.2v3.5h-9.2zM1024 666.3h9.2v3.5h-9.2zM1106.3 666.3h9.2v3.5h-9.2zM1206.8 666.3h9.2v3.5h-9.2zM1407.9 666.3h9.2v3.5h-9.2zM457.3 669.7h9.2v3.5h-9.2zM530.4 669.7h9.2v3.5h-9.2zM548.7 669.7h9.2v3.5h-9.2zM987.4 669.7h9.2v3.5h-9.2zM1407.9 669.7h9.2v3.5h-9.2zM1444.5 669.7h9.2v3.5h-9.2zM603.5 673.2h9.2v3.5h-9.2zM612.7 673.2h9.2v3.5h-9.2zM667.5 673.2h9.2v3.5h-9.2zM457.3 676.6h9.2v3.5h-9.2zM521.3 676.6h9.2v3.5h-9.2zM713.2 676.6h9.2v3.5h-9.2zM1042.3 676.6h9.2v3.5h-9.2zM1106.3 676.6h9.2v3.5h-9.2zM1216 676.6h9.2v3.5h-9.2zM1225.1 676.6h9.2v3.5h-9.2zM1252.5 676.6h9.2v3.5h-9.2zM503 680.1h9.2v3.5h-9.2zM768.1 680.1h9.2v3.5h-9.2zM923.5 680.1h9.2v3.5h-9.2zM722.4 683.5h9.2v3.5h-9.2zM786.3 683.5h9.2v3.5h-9.2zM795.5 683.5h9.2v3.5h-9.2zM960 683.5h9.2v3.5h-9.2zM1216 683.5h9.2v3.5h-9.2zM1234.2 683.5h9.2v3.5h-9.2zM1353.1 683.5h9.2v3.5h-9.2zM1371.4 683.5h9.2v3.5h-9.2zM1462.8 683.5h9.2v3.5h-9.2zM539.5 687h9.2v3.5h-9.2zM585.2 687h9.2v3.5h-9.2zM630.9 687h9.2v3.5h-9.2zM640.1 687h9.2v3.5h-9.2zM731.5 687h9.2v3.5h-9.2zM758.9 687h9.2v3.5h-9.2zM1106.3 687h9.2v3.5h-9.2zM1179.4 687h9.2v3.5h-9.2zM475.5 690.4h9.2v3.5h-9.2zM740.6 690.4h9.2v3.5h-9.2zM804.6 690.4h9.2v3.5h-9.2zM932.6 690.4h9.2v3.5h-9.2zM1170.3 690.4h9.2v3.5h-9.2zM1261.7 690.4h9.2v3.5h-9.2zM1362.2 690.4h9.2v3.5h-9.2zM1417.1 690.4h9.2v3.5h-9.2zM539.5 693.9h9.2v3.5h-9.2zM603.5 693.9h9.2v3.5h-9.2zM667.5 693.9h9.2v3.5h-9.2zM859.5 693.9h9.2v3.5h-9.2zM896 693.9h9.2v3.5h-9.2zM1334.8 693.9h9.2v3.5h-9.2zM1343.9 693.9h9.2v3.5h-9.2zM1380.5 693.9h9.2v3.5h-9.2zM1444.5 693.9h9.2v3.5h-9.2zM384.1 697.3h9.2v3.5h-9.2zM567 697.3h9.2v3.5h-9.2zM640.1 697.3h9.2v3.5h-9.2zM685.8 697.3h9.2v3.5h-9.2zM768.1 697.3h9.2v3.5h-9.2zM667.5 700.8h9.2v3.5h-9.2zM768.1 700.8h9.2v3.5h-9.2zM813.8 700.8h9.2v3.5h-9.2zM877.7 700.8h9.2v3.5h-9.2zM978.3 700.8h9.2v3.5h-9.2zM1033.1 700.8h9.2v3.5h-9.2zM1225.1 700.8h9.2v3.5h-9.2zM1243.4 700.8h9.2v3.5h-9.2zM1371.4 700.8h9.2v3.5h-9.2zM557.8 704.2h9.2v3.5h-9.2zM758.9 704.2h9.2v3.5h-9.2zM768.1 704.2h9.2v3.5h-9.2zM1042.3 704.2h9.2v3.5h-9.2zM1152 704.2h9.2v3.5h-9.2zM429.8 707.7h9.2v3.5h-9.2zM457.3 707.7h9.2v3.5h-9.2zM512.1 707.7h9.2v3.5h-9.2zM576.1 707.7h9.2v3.5h-9.2zM777.2 707.7h9.2v3.5h-9.2zM786.3 707.7h9.2v3.5h-9.2zM877.7 707.7h9.2v3.5h-9.2zM978.3 707.7h9.2v3.5h-9.2zM1033.1 707.7h9.2v3.5h-9.2zM1133.7 707.7h9.2v3.5h-9.2zM1316.5 707.7h9.2v3.5h-9.2zM402.4 711.1h9.2v3.5h-9.2zM411.6 711.1h9.2v3.5h-9.2zM493.8 711.1h9.2v3.5h-9.2zM585.2 711.1h9.2v3.5h-9.2zM630.9 711.1h9.2v3.5h-9.2zM832 711.1h9.2v3.5h-9.2zM1270.8 711.1h9.2v3.5h-9.2zM1407.9 711.1h9.2v3.5h-9.2zM1435.3 711.1h9.2v3.5h-9.2zM630.9 714.6h9.2v3.5h-9.2zM722.4 714.6h9.2v3.5h-9.2zM841.2 714.6h9.2v3.5h-9.2zM987.4 714.6h9.2v3.5h-9.2zM1005.7 714.6h9.2v3.5h-9.2zM1014.9 714.6h9.2v3.5h-9.2zM1124.5 714.6h9.2v3.5h-9.2zM1398.8 714.6h9.2v3.5h-9.2zM1444.5 714.6h9.2v3.5h-9.2zM1453.6 714.6h9.2v3.5h-9.2zM722.4 718h9.2v3.5h-9.2zM740.6 718h9.2v3.5h-9.2zM786.3 718h9.2v3.5h-9.2zM868.6 718h9.2v3.5h-9.2zM941.7 718h9.2v3.5h-9.2zM1060.6 718h9.2v3.5h-9.2zM1270.8 718h9.2v3.5h-9.2zM1279.9 718h9.2v3.5h-9.2zM1289.1 718h9.2v3.5h-9.2zM1298.2 718h9.2v3.5h-9.2zM1307.4 718h9.2v3.5h-9.2zM1316.5 718h9.2v3.5h-9.2zM1453.6 718h9.2v3.5h-9.2zM503 721.5h9.2v3.5h-9.2zM850.3 721.5h9.2v3.5h-9.2zM978.3 721.5h9.2v3.5h-9.2zM1024 721.5h9.2v3.5h-9.2zM539.5 724.9h9.2v3.5h-9.2zM685.8 724.9h9.2v3.5h-9.2zM1261.7 724.9h9.2v3.5h-9.2zM1334.8 724.9h9.2v3.5h-9.2zM1362.2 724.9h9.2v3.5h-9.2zM402.4 728.4h9.2v3.5h-9.2zM512.1 728.4h9.2v3.5h-9.2zM630.9 728.4h9.2v3.5h-9.2zM740.6 728.4h9.2v3.5h-9.2zM896 728.4h9.2v3.5h-9.2zM1161.1 728.4h9.2v3.5h-9.2zM493.8 731.8h9.2v3.5h-9.2zM713.2 731.8h9.2v3.5h-9.2zM768.1 731.8h9.2v3.5h-9.2zM813.8 731.8h9.2v3.5h-9.2zM905.2 731.8h9.2v3.5h-9.2zM1042.3 731.8h9.2v3.5h-9.2zM1197.7 731.8h9.2v3.5h-9.2zM1398.8 731.8h9.2v3.5h-9.2zM1435.3 731.8h9.2v3.5h-9.2zM475.5 735.3h9.2v3.5h-9.2zM877.7 735.3h9.2v3.5h-9.2zM905.2 735.3h9.2v3.5h-9.2zM1435.3 735.3h9.2v3.5h-9.2zM393.3 738.7h9.2v3.5h-9.2zM484.7 738.7h9.2v3.5h-9.2zM521.3 738.7h9.2v3.5h-9.2zM667.5 738.7h9.2v3.5h-9.2zM704.1 738.7h9.2v3.5h-9.2zM1069.7 738.7h9.2v3.5h-9.2zM1234.2 738.7h9.2v3.5h-9.2zM1243.4 738.7h9.2v3.5h-9.2zM1380.5 738.7h9.2v3.5h-9.2zM612.7 742.2h9.2v3.5h-9.2zM740.6 742.2h9.2v3.5h-9.2zM804.6 742.2h9.2v3.5h-9.2zM658.4 745.6h9.2v3.5h-9.2zM758.9 745.6h9.2v3.5h-9.2zM813.8 745.6h9.2v3.5h-9.2zM932.6 745.6h9.2v3.5h-9.2zM1051.4 745.6h9.2v3.5h-9.2zM1088 745.6h9.2v3.5h-9.2zM429.8 749.1h9.2v3.5h-9.2zM512.1 749.1h9.2v3.5h-9.2zM960 749.1h9.2v3.5h-9.2zM1088 749.1h9.2v3.5h-9.2zM1097.1 749.1h9.2v3.5h-9.2zM1307.4 749.1h9.2v3.5h-9.2zM393.3 752.5h9.2v3.5h-9.2zM411.6 752.5h9.2v3.5h-9.2zM585.2 752.5h9.2v3.5h-9.2zM621.8 752.5h9.2v3.5h-9.2zM630.9 752.5h9.2v3.5h-9.2zM950.9 752.5h9.2v3.5h-9.2zM1444.5 752.5h9.2v3.5h-9.2zM411.6 756h9.2v3.5h-9.2zM640.1 756h9.2v3.5h-9.2zM768.1 756h9.2v3.5h-9.2zM777.2 756h9.2v3.5h-9.2zM786.3 756h9.2v3.5h-9.2zM795.5 756h9.2v3.5h-9.2zM822.9 756h9.2v3.5h-9.2zM978.3 756h9.2v3.5h-9.2zM1051.4 756h9.2v3.5h-9.2zM1179.4 756h9.2v3.5h-9.2zM1197.7 756h9.2v3.5h-9.2zM813.8 759.4h9.2v3.5h-9.2zM877.7 759.4h9.2v3.5h-9.2zM402.4 762.9h9.2v3.5h-9.2zM457.3 762.9h9.2v3.5h-9.2zM1206.8 762.9h9.2v3.5h-9.2zM1252.5 762.9h9.2v3.5h-9.2zM1261.7 762.9h9.2v3.5h-9.2zM1279.9 762.9h9.2v3.5h-9.2zM1334.8 762.9h9.2v3.5h-9.2zM722.4 766.3h9.2v3.5h-9.2zM832 766.3h9.2v3.5h-9.2zM877.7 766.3h9.2v3.5h-9.2zM1042.3 766.3h9.2v3.5h-9.2zM420.7 769.8h9.2v3.9h-9.2zM457.3 769.8h9.2v3.9h-9.2zM914.3 769.8h9.2v3.9h-9.2zM1371.4 769.8h9.2v3.9h-9.2zM1462.8 769.8h9.2v3.9h-9.2zM393.3 773.7h9.2v4.5h-9.2zM402.4 773.7h9.2v4.5h-9.2zM886.9 773.7h9.2v4.5h-9.2zM905.2 773.7h9.2v4.5h-9.2zM1033.1 773.7h9.2v4.5h-9.2zM1289.1 773.7h9.2v4.5h-9.2zM503 778.1h9.2v5h-9.2zM548.7 778.1h9.2v5h-9.2zM758.9 778.1h9.2v5h-9.2zM768.1 778.1h9.2v5h-9.2zM576.1 783h9.2v5.7h-9.2zM603.5 783h9.2v5.7h-9.2zM658.4 783h9.2v5.7h-9.2zM713.2 783h9.2v5.7h-9.2zM841.2 783h9.2v5.7h-9.2zM1170.3 783h9.2v5.7h-9.2zM1197.7 783h9.2v5.7h-9.2zM1216 783h9.2v5.7h-9.2zM1380.5 783h9.2v5.7h-9.2zM612.7 788.7h9.2v6.4h-9.2zM795.5 788.7h9.2v6.4h-9.2zM905.2 788.7h9.2v6.4h-9.2zM1188.5 788.7h9.2v6.4h-9.2zM1389.6 788.7h9.2v6.4h-9.2zM512.1 795h9.2v7.2h-9.2zM576.1 795h9.2v7.2h-9.2zM841.2 795h9.2v7.2h-9.2zM1206.8 795h9.2v7.2h-9.2zM1225.1 795h9.2v7.2h-9.2zM1261.7 795h9.2v7.2h-9.2zM1289.1 795h9.2v7.2h-9.2zM630.9 802.2h9.2v8.2h-9.2zM822.9 802.2h9.2v8.2h-9.2zM941.7 802.2h9.2v8.2h-9.2zM1270.8 802.2h9.2v8.2h-9.2zM1279.9 802.2h9.2v8.2h-9.2zM603.5 810.3h9.2v9.2h-9.2zM694.9 810.3h9.2v9.2h-9.2zM1033.1 810.3h9.2v9.2h-9.2zM1206.8 810.3h9.2v9.2h-9.2zM576.1 819.5h9.2v9.6h-9.2zM1380.5 819.5h9.2v9.6h-9.2zM1407.9 819.5h9.2v9.6h-9.2zM530.4 829h9.2v9.6h-9.2zM557.8 829h9.2v9.6h-9.2zM777.2 829h9.2v9.6h-9.2zM850.3 829h9.2v9.6h-9.2zM1206.8 829h9.2v9.6h-9.2zM1216 829h9.2v9.6h-9.2zM1362.2 829h9.2v9.6h-9.2zM1444.5 829h9.2v9.6h-9.2zM375 838.5h9.2v4.5h-9.2zM539.5 838.5h9.2v4.5h-9.2zM722.4 838.5h9.2v4.5h-9.2zM1051.4 838.5h9.2v4.5h-9.2zM1371.4 838.5h9.2v4.5h-9.2z"/>
<path fill="#5211ef" d="M429.8 580h9.2v3.5h-9.2zM667.5 580h9.2v3.5h-9.2zM713.2 580h9.2v3.5h-9.2zM722.4 580h9.2v3.5h-9.2zM786.3 580h9.2v3.5h-9.2zM813.8 580h9.2v3.5h-9.2zM822.9 580h9.2v3.5h-9.2zM832 580h9.2v3.5h-9.2zM841.2 580h9.2v3.5h-9.2zM978.3 580h9.2v3.5h-9.2zM1033.1 580h9.2v3.5h-9.2zM1042.3 580h9.2v3.5h-9.2zM1206.8 580h9.2v3.5h-9.2zM1216 580h9.2v3.5h-9.2zM1307.4 580h9.2v3.5h-9.2zM1316.5 580h9.2v3.5h-9.2zM1325.6 580h9.2v3.5h-9.2zM1343.9 580h9.2v3.5h-9.2zM384.1 583.5h9.2v3.5h-9.2zM411.6 583.5h9.2v3.5h-9.2zM420.7 583.5h9.2v3.5h-9.2zM512.1 583.5h9.2v3.5h-9.2zM567 583.5h9.2v3.5h-9.2zM640.1 583.5h9.2v3.5h-9.2zM777.2 583.5h9.2v3.5h-9.2zM868.6 583.5h9.2v3.5h-9.2zM877.7 583.5h9.2v3.5h-9.2zM886.9 583.5h9.2v3.5h-9.2zM941.7 583.5h9.2v3.5h-9.2zM1005.7 583.5h9.2v3.5h-9.2zM1060.6 583.5h9.2v3.5h-9.2zM1152 583.5h9.2v3.5h-9.2zM1161.1 583.5h9.2v3.5h-9.2zM1170.3 583.5h9.2v3.5h-9.2zM1179.4 583.5h9.2v3.5h-9.2zM1270.8 583.5h9.2v3.5h-9.2zM1279.9 583.5h9.2v3.5h-9.2zM1307.4 583.5h9.2v3.5h-9.2zM1325.6 583.5h9.2v3.5h-9.2zM420.7 586.9h9.2v3.5h-9.2zM429.8 586.9h9.2v3.5h-9.2zM439 586.9h9.2v3.5h-9.2zM475.5 586.9h9.2v3.5h-9.2zM530.4 586.9h9.2v3.5h-9.2zM594.4 586.9h9.2v3.5h-9.2zM786.3 586.9h9.2v3.5h-9.2zM795.5 586.9h9.2v3.5h-9.2zM813.8 586.9h9.2v3.5h-9.2zM896 586.9h9.2v3.5h-9.2zM1024 586.9h9.2v3.5h-9.2zM1033.1 586.9h9.2v3.5h-9.2zM1106.3 586.9h9.2v3.5h-9.2zM1142.8 586.9h9.2v3.5h-9.2zM1243.4 586.9h9.2v3.5h-9.2zM1252.5 586.9h9.2v3.5h-9.2zM1307.4 586.9h9.2v3.5h-9.2zM1362.2 586.9h9.2v3.5h-9.2zM1380.5 586.9h9.2v3.5h-9.2zM1435.3 586.9h9.2v3.5h-9.2zM393.3 590.4h9.2v3.5h-9.2zM402.4 590.4h9.2v3.5h-9.2zM411.6 590.4h9.2v3.5h-9.2zM475.5 590.4h9.2v3.5h-9.2zM484.7 590.4h9.2v3.5h-9.2zM548.7 590.4h9.2v3.5h-9.2zM758.9 590.4h9.2v3.5h-9.2zM768.1 590.4h9.2v3.5h-9.2zM786.3 590.4h9.2v3.5h-9.2zM841.2 590.4h9.2v3.5h-9.2zM868.6 590.4h9.2v3.5h-9.2zM886.9 590.4h9.2v3.5h-9.2zM905.2 590.4h9.2v3.5h-9.2zM969.2 590.4h9.2v3.5h-9.2zM1152 590.4h9.2v3.5h-9.2zM1161.1 590.4h9.2v3.5h-9.2zM1188.5 590.4h9.2v3.5h-9.2zM1252.5 590.4h9.2v3.5h-9.2zM1298.2 590.4h9.2v3.5h-9.2zM1316.5 590.4h9.2v3.5h-9.2zM1325.6 590.4h9.2v3.5h-9.2zM411.6 593.8h9.2v3.5h-9.2zM420.7 593.8h9.2v3.5h-9.2zM429.8 593.8h9.2v3.5h-9.2zM466.4 593.8h9.2v3.5h-9.2zM484.7 593.8h9.2v3.5h-9.2zM557.8 593.8h9.2v3.5h-9.2zM640.1 593.8h9.2v3.5h-9.2zM722.4 593.8h9.2v3.5h-9.2zM804.6 593.8h9.2v3.5h-9.2zM905.2 593.8h9.2v3.5h-9.2zM969.2 593.8h9.2v3.5h-9.2zM996.6 593.8h9.2v3.5h-9.2zM1005.7 593.8h9.2v3.5h-9.2zM1042.3 593.8h9.2v3.5h-9.2zM1051.4 593.8h9.2v3.5h-9.2zM1115.4 593.8h9.2v3.5h-9.2zM1216 593.8h9.2v3.5h-9.2zM1298.2 593.8h9.2v3.5h-9.2zM1389.6 593.8h9.2v3.5h-9.2zM1407.9 593.8h9.2v3.5h-9.2zM1417.1 593.8h9.2v3.5h-9.2zM1444.5 593.8h9.2v3.5h-9.2zM402.4 597.3h9.2v3.5h-9.2zM411.6 597.3h9.2v3.5h-9.2zM429.8 597.3h9.2v3.5h-9.2zM484.7 597.3h9.2v3.5h-9.2zM548.7 597.3h9.2v3.5h-9.2zM603.5 597.3h9.2v3.5h-9.2zM630.9 597.3h9.2v3.5h-9.2zM658.4 597.3h9.2v3.5h-9.2zM685.8 597.3h9.2v3.5h-9.2zM694.9 597.3h9.2v3.5h-9.2zM813.8 597.3h9.2v3.5h-9.2zM896 597.3h9.2v3.5h-9.2zM987.4 597.3h9.2v3.5h-9.2zM1088 597.3h9.2v3.5h-9.2zM1152 597.3h9.2v3.5h-9.2zM1307.4 597.3h9.2v3.5h-9.2zM1325.6 597.3h9.2v3.5h-9.2zM1426.2 597.3h9.2v3.5h-9.2zM384.1 600.7h9.2v3.5h-9.2zM466.4 600.7h9.2v3.5h-9.2zM503 600.7h9.2v3.5h-9.2zM512.1 600.7h9.2v3.5h-9.2zM576.1 600.7h9.2v3.5h-9.2zM603.5 600.7h9.2v3.5h-9.2zM786.3 600.7h9.2v3.5h-9.2zM941.7 600.7h9.2v3.5h-9.2zM978.3 600.7h9.2v3.5h-9.2zM987.4 600.7h9.2v3.5h-9.2zM1042.3 600.7h9.2v3.5h-9.2zM1097.1 600.7h9.2v3.5h-9.2zM1179.4 600.7h9.2v3.5h-9.2zM1188.5 600.7h9.2v3.5h-9.2zM1216 600.7h9.2v3.5h-9.2zM1252.5 600.7h9.2v3.5h-9.2zM1261.7 600.7h9.2v3.5h-9.2zM1316.5 600.7h9.2v3.5h-9.2zM1325.6 600.7h9.2v3.5h-9.2zM1389.6 600.7h9.2v3.5h-9.2zM1444.5 600.7h9.2v3.5h-9.2zM1462.8 600.7h9.2v3.5h-9.2zM384.1 604.2h9.2v3.5h-9.2zM484.7 604.2h9.2v3.5h-9.2zM539.5 604.2h9.2v3.5h-9.2zM621.8 604.2h9.2v3.5h-9.2zM630.9 604.2h9.2v3.5h-9.2zM731.5 604.2h9.2v3.5h-9.2zM740.6 604.2h9.2v3.5h-9.2zM758.9 604.2h9.2v3.5h-9.2zM923.5 604.2h9.2v3.5h-9.2zM932.6 604.2h9.2v3.5h-9.2zM987.4 604.2h9.2v3.5h-9.2zM1115.4 604.2h9.2v3.5h-9.2zM1124.5 604.2h9.2v3.5h-9.2zM1252.5 604.2h9.2v3.5h-9.2zM1261.7 604.2h9.2v3.5h-9.2zM402.4 607.6h9.2v3.5h-9.2zM420.7 607.6h9.2v3.5h-9.2zM429.8 607.6h9.2v3.5h-9.2zM448.1 607.6h9.2v3.5h-9.2zM466.4 607.6h9.2v3.5h-9.2zM475.5 607.6h9.2v3.5h-9.2zM548.7 607.6h9.2v3.5h-9.2zM731.5 607.6h9.2v3.5h-9.2zM813.8 607.6h9.2v3.5h-9.2zM822.9 607.6h9.2v3.5h-9.2zM914.3 607.6h9.2v3.5h-9.2zM923.5 607.6h9.2v3.5h-9.2zM932.6 607.6h9.2v3.5h-9.2zM978.3 607.6h9.2v3.5h-9.2zM1005.7 607.6h9.2v3.5h-9.2zM1279.9 607.6h9.2v3.5h-9.2zM1307.4 607.6h9.2v3.5h-9.2zM1316.5 607.6h9.2v3.5h-9.2zM1353.1 607.6h9.2v3.5h-9.2zM1371.4 607.6h9.2v3.5h-9.2zM1407.9 607.6h9.2v3.5h-9.2zM1453.6 607.6h9.2v3.5h-9.2zM448.1 611.1h9.2v3.5h-9.2zM503 611.1h9.2v3.5h-9.2zM512.1 611.1h9.2v3.5h-9.2zM521.3 611.1h9.2v3.5h-9.2zM567 611.1h9.2v3.5h-9.2zM594.4 611.1h9.2v3.5h-9.2zM612.7 611.1h9.2v3.5h-9.2zM621.8 611.1h9.2v3.5h-9.2zM658.4 611.1h9.2v3.5h-9.2zM777.2 611.1h9.2v3.5h-9.2zM786.3 611.1h9.2v3.5h-9.2zM850.3 611.1h9.2v3.5h-9.2zM868.6 611.1h9.2v3.5h-9.2zM914.3 611.1h9.2v3.5h-9.2zM932.6 611.1h9.2v3.5h-9.2zM950.9 611.1h9.2v3.5h-9.2zM969.2 611.1h9.2v3.5h-9.2zM1024 611.1h9.2v3.5h-9.2zM1069.7 611.1h9.2v3.5h-9.2zM1106.3 611.1h9.2v3.5h-9.2zM1307.4 611.1h9.2v3.5h-9.2zM1316.5 611.1h9.2v3.5h-9.2zM1343.9 611.1h9.2v3.5h-9.2zM402.4 614.5h9.2v3.5h-9.2zM466.4 614.5h9.2v3.5h-9.2zM567 614.5h9.2v3.5h-9.2zM576.1 614.5h9.2v3.5h-9.2zM676.6 614.5h9.2v3.5h-9.2zM768.1 614.5h9.2v3.5h-9.2zM777.2 614.5h9.2v3.5h-9.2zM822.9 614.5h9.2v3.5h-9.2zM886.9 614.5h9.2v3.5h-9.2zM896 614.5h9.2v3.5h-9.2zM905.2 614.5h9.2v3.5h-9.2zM987.4 614.5h9.2v3.5h-9.2zM996.6 614.5h9.2v3.5h-9.2zM1005.7 614.5h9.2v3.5h-9.2zM1142.8 614.5h9.2v3.5h-9.2zM1152 614.5h9.2v3.5h-9.2zM1161.1 614.5h9.2v3.5h-9.2zM1197.7 614.5h9.2v3.5h-9.2zM1206.8 614.5h9.2v3.5h-9.2zM1353.1 614.5h9.2v3.5h-9.2zM1398.8 614.5h9.2v3.5h-9.2zM402.4 618h9.2v3.5h-9.2zM411.6 618h9.2v3.5h-9.2zM466.4 618h9.2v3.5h-9.2zM512.1 618h9.2v3.5h-9.2zM530.4 618h9.2v3.5h-9.2zM722.4 618h9.2v3.5h-9.2zM740.6 618h9.2v3.5h-9.2zM859.5 618h9.2v3.5h-9.2zM1005.7 618h9.2v3.5h-9.2zM1014.9 618h9.2v3.5h-9.2zM1069.7 618h9.2v3.5h-9.2zM1078.8 618h9.2v3.5h-9.2zM1243.4 618h9.2v3.5h-9.2zM1307.4 618h9.2v3.5h-9.2zM1417.1 618h9.2v3.5h-9.2zM1462.8 618h9.2v3.5h-9.2zM402.4 621.4h9.2v3.5h-9.2zM475.5 621.4h9.2v3.5h-9.2zM493.8 621.4h9.2v3.5h-9.2zM548.7 621.4h9.2v3.5h-9.2zM621.8 621.4h9.2v3.5h-9.2zM630.9 621.4h9.2v3.5h-9.2zM640.1 621.4h9.2v3.5h-9.2zM649.2 621.4h9.2v3.5h-9.2zM667.5 621.4h9.2v3.5h-9.2zM740.6 621.4h9.2v3.5h-9.2zM960 621.4h9.2v3.5h-9.2zM978.3 621.4h9.2v3.5h-9.2zM1133.7 621.4h9.2v3.5h-9.2zM1142.8 621.4h9.2v3.5h-9.2zM1161.1 621.4h9.2v3.5h-9.2zM1179.4 621.4h9.2v3.5h-9.2zM1197.7 621.4h9.2v3.5h-9.2zM1243.4 621.4h9.2v3.5h-9.2zM1252.5 621.4h9.2v3.5h-9.2zM1307.4 621.4h9.2v3.5h-9.2zM1325.6 621.4h9.2v3.5h-9.2zM1362.2 621.4h9.2v3.5h-9.2zM1371.4 621.4h9.2v3.5h-9.2zM375 624.9h9.2v3.5h-9.2zM402.4 624.9h9.2v3.5h-9.2zM411.6 624.9h9.2v3.5h-9.2zM439 624.9h9.2v3.5h-9.2zM503 624.9h9.2v3.5h-9.2zM521.3 624.9h9.2v3.5h-9.2zM530.4 624.9h9.2v3.5h-9.2zM548.7 624.9h9.2v3.5h-9.2zM630.9 624.9h9.2v3.5h-9.2zM658.4 624.9h9.2v3.5h-9.2zM667.5 624.9h9.2v3.5h-9.2zM704.1 624.9h9.2v3.5h-9.2zM740.6 624.9h9.2v3.5h-9.2zM923.5 624.9h9.2v3.5h-9.2zM978.3 624.9h9.2v3.5h-9.2zM1005.7 624.9h9.2v3.5h-9.2zM1042.3 624.9h9.2v3.5h-9.2zM1051.4 624.9h9.2v3.5h-9.2zM1197.7 624.9h9.2v3.5h-9.2zM1216 624.9h9.2v3.5h-9.2zM1243.4 624.9h9.2v3.5h-9.2zM1316.5 624.9h9.2v3.5h-9.2zM1371.4 624.9h9.2v3.5h-9.2zM1426.2 624.9h9.2v3.5h-9.2zM429.8 628.3h9.2v3.5h-9.2zM667.5 628.3h9.2v3.5h-9.2zM676.6 628.3h9.2v3.5h-9.2zM685.8 628.3h9.2v3.5h-9.2zM777.2 628.3h9.2v3.5h-9.2zM795.5 628.3h9.2v3.5h-9.2zM832 628.3h9.2v3.5h-9.2zM868.6 628.3h9.2v3.5h-9.2zM1024 628.3h9.2v3.5h-9.2zM1060.6 628.3h9.2v3.5h-9.2zM1106.3 628.3h9.2v3.5h-9.2zM1124.5 628.3h9.2v3.5h-9.2zM1133.7 628.3h9.2v3.5h-9.2zM1197.7 628.3h9.2v3.5h-9.2zM1225.1 628.3h9.2v3.5h-9.2zM1316.5 628.3h9.2v3.5h-9.2zM475.5 631.8h9.2v3.5h-9.2zM530.4 631.8h9.2v3.5h-9.2zM649.2 631.8h9.2v3.5h-9.2zM722.4 631.8h9.2v3.5h-9.2zM758.9 631.8h9.2v3.5h-9.2zM768.1 631.8h9.2v3.5h-9.2zM932.6 631.8h9.2v3.5h-9.2zM1005.7 631.8h9.2v3.5h-9.2zM1024 631.8h9.2v3.5h-9.2zM1152 631.8h9.2v3.5h-9.2zM1170.3 631.8h9.2v3.5h-9.2zM1179.4 631.8h9.2v3.5h-9.2zM1188.5 631.8h9.2v3.5h-9.2zM1298.2 631.8h9.2v3.5h-9.2zM1353.1 631.8h9.2v3.5h-9.2zM1362.2 631.8h9.2v3.5h-9.2zM1453.6 631.8h9.2v3.5h-9.2zM384.1 635.2h9.2v3.5h-9.2zM402.4 635.2h9.2v3.5h-9.2zM457.3 635.2h9.2v3.5h-9.2zM493.8 635.2h9.2v3.5h-9.2zM530.4 635.2h9.2v3.5h-9.2zM576.1 635.2h9.2v3.5h-9.2zM621.8 635.2h9.2v3.5h-9.2zM786.3 635.2h9.2v3.5h-9.2zM896 635.2h9.2v3.5h-9.2zM923.5 635.2h9.2v3.5h-9.2zM1033.1 635.2h9.2v3.5h-9.2zM1042.3 635.2h9.2v3.5h-9.2zM1152 635.2h9.2v3.5h-9.2zM1161.1 635.2h9.2v3.5h-9.2zM1453.6 635.2h9.2v3.5h-9.2zM640.1 638.7h9.2v3.5h-9.2zM649.2 638.7h9.2v3.5h-9.2zM658.4 638.7h9.2v3.5h-9.2zM667.5 638.7h9.2v3.5h-9.2zM749.8 638.7h9.2v3.5h-9.2zM768.1 638.7h9.2v3.5h-9.2zM777.2 638.7h9.2v3.5h-9.2zM987.4 638.7h9.2v3.5h-9.2zM996.6 638.7h9.2v3.5h-9.2zM1051.4 638.7h9.2v3.5h-9.2zM1069.7 638.7h9.2v3.5h-9.2zM1088 638.7h9.2v3.5h-9.2zM1115.4 638.7h9.2v3.5h-9.2zM1170.3 638.7h9.2v3.5h-9.2zM1179.4 638.7h9.2v3.5h-9.2zM1206.8 638.7h9.2v3.5h-9.2zM1261.7 638.7h9.2v3.5h-9.2zM1325.6 638.7h9.2v3.5h-9.2zM1343.9 638.7h9.2v3.5h-9.2zM1389.6 638.7h9.2v3.5h-9.2zM1407.9 638.7h9.2v3.5h-9.2zM1417.1 638.7h9.2v3.5h-9.2zM402.4 642.1h9.2v3.5h-9.2zM429.8 642.1h9.2v3.5h-9.2zM439 642.1h9.2v3.5h-9.2zM448.1 642.1h9.2v3.5h-9.2zM539.5 642.1h9.2v3.5h-9.2zM621.8 642.1h9.2v3.5h-9.2zM630.9 642.1h9.2v3.5h-9.2zM758.9 642.1h9.2v3.5h-9.2zM777.2 642.1h9.2v3.5h-9.2zM813.8 642.1h9.2v3.5h-9.2zM859.5 642.1h9.2v3.5h-9.2zM868.6 642.1h9.2v3.5h-9.2zM950.9 642.1h9.2v3.5h-9.2zM1088 642.1h9.2v3.5h-9.2zM1325.6 642.1h9.2v3.5h-9.2zM1334.8 642.1h9.2v3.5h-9.2zM1343.9 642.1h9.2v3.5h-9.2zM384.1 645.6h9.2v3.5h-9.2zM466.4 645.6h9.2v3.5h-9.2zM512.1 645.6h9.2v3.5h-9.2zM521.3 645.6h9.2v3.5h-9.2zM539.5 645.6h9.2v3.5h-9.2zM704.1 645.6h9.2v3.5h-9.2zM740.6 645.6h9.2v3.5h-9.2zM813.8 645.6h9.2v3.5h-9.2zM886.9 645.6h9.2v3.5h-9.2zM896 645.6h9.2v3.5h-9.2zM905.2 645.6h9.2v3.5h-9.2zM923.5 645.6h9.2v3.5h-9.2zM987.4 645.6h9.2v3.5h-9.2zM996.6 645.6h9.2v3.5h-9.2zM1106.3 645.6h9.2v3.5h-9.2zM1279.9 645.6h9.2v3.5h-9.2zM1380.5 645.6h9.2v3.5h-9.2zM521.3 649h9.2v3.5h-9.2zM548.7 649h9.2v3.5h-9.2zM621.8 649h9.2v3.5h-9.2zM704.1 649h9.2v3.5h-9.2zM758.9 649h9.2v3.5h-9.2zM768.1 649h9.2v3.5h-9.2zM850.3 649h9.2v3.5h-9.2zM987.4 649h9.2v3.5h-9.2zM996.6 649h9.2v3.5h-9.2zM1014.9 649h9.2v3.5h-9.2zM1024 649h9.2v3.5h-9.2zM1042.3 649h9.2v3.5h-9.2zM1380.5 649h9.2v3.5h-9.2zM1398.8 649h9.2v3.5h-9.2zM1435.3 649h9.2v3.5h-9.2zM457.3 652.5h9.2v3.5h-9.2zM466.4 652.5h9.2v3.5h-9.2zM475.5 652.5h9.2v3.5h-9.2zM512.1 652.5h9.2v3.5h-9.2zM585.2 652.5h9.2v3.5h-9.2zM621.8 652.5h9.2v3.5h-9.2zM640.1 652.5h9.2v3.5h-9.2zM649.2 652.5h9.2v3.5h-9.2zM740.6 652.5h9.2v3.5h-9.2zM822.9 652.5h9.2v3.5h-9.2zM832 652.5h9.2v3.5h-9.2zM877.7 652.5h9.2v3.5h-9.2zM1024 652.5h9.2v3.5h-9.2zM1033.1 652.5h9.2v3.5h-9.2zM1115.4 652.5h9.2v3.5h-9.2zM1124.5 652.5h9.2v3.5h-9.2zM1133.7 652.5h9.2v3.5h-9.2zM1142.8 652.5h9.2v3.5h-9.2zM1225.1 652.5h9.2v3.5h-9.2zM1234.2 652.5h9.2v3.5h-9.2zM1243.4 652.5h9.2v3.5h-9.2zM1261.7 652.5h9.2v3.5h-9.2zM1307.4 652.5h9.2v3.5h-9.2zM1380.5 652.5h9.2v3.5h-9.2zM1426.2 652.5h9.2v3.5h-9.2zM1435.3 652.5h9.2v3.5h-9.2zM1444.5 652.5h9.2v3.5h-9.2zM1462.8 652.5h9.2v3.5h-9.2zM375 655.9h9.2v3.5h-9.2zM539.5 655.9h9.2v3.5h-9.2zM557.8 655.9h9.2v3.5h-9.2zM640.1 655.9h9.2v3.5h-9.2zM722.4 655.9h9.2v3.5h-9.2zM813.8 655.9h9.2v3.5h-9.2zM941.7 655.9h9.2v3.5h-9.2zM1088 655.9h9.2v3.5h-9.2zM1097.1 655.9h9.2v3.5h-9.2zM1106.3 655.9h9.2v3.5h-9.2zM1325.6 655.9h9.2v3.5h-9.2zM1334.8 655.9h9.2v3.5h-9.2zM1435.3 655.9h9.2v3.5h-9.2zM1453.6 655.9h9.2v3.5h-9.2zM420.7 659.4h9.2v3.5h-9.2zM530.4 659.4h9.2v3.5h-9.2zM585.2 659.4h9.2v3.5h-9.2zM749.8 659.4h9.2v3.5h-9.2zM813.8 659.4h9.2v3.5h-9.2zM822.9 659.4h9.2v3.5h-9.2zM868.6 659.4h9.2v3.5h-9.2zM905.2 659.4h9.2v3.5h-9.2zM1060.6 659.4h9.2v3.5h-9.2zM1152 659.4h9.2v3.5h-9.2zM1234.2 659.4h9.2v3.5h-9.2zM1243.4 659.4h9.2v3.5h-9.2zM567 662.8h9.2v3.5h-9.2zM585.2 662.8h9.2v3.5h-9.2zM603.5 662.8h9.2v3.5h-9.2zM612.7 662.8h9.2v3.5h-9.2zM621.8 662.8h9.2v3.5h-9.2zM630.9 662.8h9.2v3.5h-9.2zM859.5 662.8h9.2v3.5h-9.2zM868.6 662.8h9.2v3.5h-9.2zM1024 662.8h9.2v3.5h-9.2zM1124.5 662.8h9.2v3.5h-9.2zM1179.4 662.8h9.2v3.5h-9.2zM1234.2 662.8h9.2v3.5h-9.2zM1270.8 662.8h9.2v3.5h-9.2zM1298.2 662.8h9.2v3.5h-9.2zM1316.5 662.8h9.2v3.5h-9.2zM1325.6 662.8h9.2v3.5h-9.2zM1343.9 662.8h9.2v3.5h-9.2zM411.6 666.3h9.2v3.5h-9.2zM466.4 666.3h9.2v3.5h-9.2zM503 666.3h9.2v3.5h-9.2zM576.1 666.3h9.2v3.5h-9.2zM585.2 666.3h9.2v3.5h-9.2zM667.5 666.3h9.2v3.5h-9.2zM676.6 666.3h9.2v3.5h-9.2zM685.8 666.3h9.2v3.5h-9.2zM841.2 666.3h9.2v3.5h-9.2zM905.2 666.3h9.2v3.5h-9.2zM923.5 666.3h9.2v3.5h-9.2zM978.3 666.3h9.2v3.5h-9.2zM1097.1 666.3h9.2v3.5h-9.2zM1179.4 666.3h9.2v3.5h-9.2zM1197.7 666.3h9.2v3.5h-9.2zM1353.1 666.3h9.2v3.5h-9.2zM1362.2 666.3h9.2v3.5h-9.2zM1371.4 666.3h9.2v3.5h-9.2zM1398.8 666.3h9.2v3.5h-9.2zM1453.6 666.3h9.2v3.5h-9.2zM1462.8 666.3h9.2v3.5h-9.2zM448.1 669.7h9.2v3.5h-9.2zM466.4 669.7h9.2v3.5h-9.2zM557.8 669.7h9.2v3.5h-9.2zM567 669.7h9.2v3.5h-9.2zM576.1 669.7h9.2v3.5h-9.2zM585.2 669.7h9.2v3.5h-9.2zM594.4 669.7h9.2v3.5h-9.2zM649.2 669.7h9.2v3.5h-9.2zM713.2 669.7h9.2v3.5h-9.2zM978.3 669.7h9.2v3.5h-9.2zM1279.9 669.7h9.2v3.5h-9.2zM1289.1 669.7h9.2v3.5h-9.2zM1298.2 669.7h9.2v3.5h-9.2zM1316.5 669.7h9.2v3.5h-9.2zM1353.1 669.7h9.2v3.5h-9.2zM1453.6 669.7h9.2v3.5h-9.2zM512.1 673.2h9.2v3.5h-9.2zM557.8 673.2h9.2v3.5h-9.2zM621.8 673.2h9.2v3.5h-9.2zM658.4 673.2h9.2v3.5h-9.2zM932.6 673.2h9.2v3.5h-9.2zM969.2 673.2h9.2v3.5h-9.2zM987.4 673.2h9.2v3.5h-9.2zM1042.3 673.2h9.2v3.5h-9.2zM1051.4 673.2h9.2v3.5h-9.2zM1069.7 673.2h9.2v3.5h-9.2zM1078.8 673.2h9.2v3.5h-9.2zM1088 673.2h9.2v3.5h-9.2zM1179.4 673.2h9.2v3.5h-9.2zM1234.2 673.2h9.2v3.5h-9.2zM1261.7 673.2h9.2v3.5h-9.2zM1307.4 673.2h9.2v3.5h-9.2zM439 676.6h9.2v3.5h-9.2zM448.1 676.6h9.2v3.5h-9.2zM466.4 676.6h9.2v3.5h-9.2zM603.5 676.6h9.2v3.5h-9.2zM649.2 676.6h9.2v3.5h-9.2zM740.6 676.6h9.2v3.5h-9.2zM786.3 676.6h9.2v3.5h-9.2zM841.2 676.6h9.2v3.5h-9.2zM950.9 676.6h9.2v3.5h-9.2zM1097.1 676.6h9.2v3.5h-9.2zM1115.4 676.6h9.2v3.5h-9.2zM1124.5 676.6h9.2v3.5h-9.2zM1142.8 676.6h9.2v3.5h-9.2zM1179.4 676.6h9.2v3.5h-9.2zM1188.5 676.6h9.2v3.5h-9.2zM1197.7 676.6h9.2v3.5h-9.2zM1261.7 676.6h9.2v3.5h-9.2zM1270.8 676.6h9.2v3.5h-9.2zM1316.5 676.6h9.2v3.5h-9.2zM1325.6 676.6h9.2v3.5h-9.2zM1444.5 676.6h9.2v3.5h-9.2zM393.3 680.1h9.2v3.5h-9.2zM493.8 680.1h9.2v3.5h-9.2zM512.1 680.1h9.2v3.5h-9.2zM539.5 680.1h9.2v3.5h-9.2zM548.7 680.1h9.2v3.5h-9.2zM585.2 680.1h9.2v3.5h-9.2zM640.1 680.1h9.2v3.5h-9.2zM676.6 680.1h9.2v3.5h-9.2zM731.5 680.1h9.2v3.5h-9.2zM777.2 680.1h9.2v3.5h-9.2zM841.2 680.1h9.2v3.5h-9.2zM850.3 680.1h9.2v3.5h-9.2zM932.6 680.1h9.2v3.5h-9.2zM1024 680.1h9.2v3.5h-9.2zM1051.4 680.1h9.2v3.5h-9.2zM1106.3 680.1h9.2v3.5h-9.2zM1115.4 680.1h9.2v3.5h-9.2zM1124.5 680.1h9.2v3.5h-9.2zM1133.7 680.1h9.2v3.5h-9.2zM1142.8 680.1h9.2v3.5h-9.2zM1188.5 680.1h9.2v3.5h-9.2zM1197.7 680.1h9.2v3.5h-9.2zM1316.5 680.1h9.2v3.5h-9.2zM1398.8 680.1h9.2v3.5h-9.2zM1407.9 680.1h9.2v3.5h-9.2zM1417.1 680.1h9.2v3.5h-9.2zM1462.8 680.1h9.2v3.5h-9.2zM530.4 683.5h9.2v3.5h-9.2zM548.7 683.5h9.2v3.5h-9.2zM576.1 683.5h9.2v3.5h-9.2zM704.1 683.5h9.2v3.5h-9.2zM713.2 683.5h9.2v3.5h-9.2zM832 683.5h9.2v3.5h-9.2zM841.2 683.5h9.2v3.5h-9.2zM941.7 683.5h9.2v3.5h-9.2zM1142.8 683.5h9.2v3.5h-9.2zM1161.1 683.5h9.2v3.5h-9.2zM1188.5 683.5h9.2v3.5h-9.2zM1197.7 683.5h9.2v3.5h-9.2zM1206.8 683.5h9.2v3.5h-9.2zM1307.4 683.5h9.2v3.5h-9.2zM1426.2 683.5h9.2v3.5h-9.2zM1435.3 683.5h9.2v3.5h-9.2zM1453.6 683.5h9.2v3.5h-9.2zM375 687h9.2v3.5h-9.2zM384.1 687h9.2v3.5h-9.2zM393.3 687h9.2v3.5h-9.2zM466.4 687h9.2v3.5h-9.2zM512.1 687h9.2v3.5h-9.2zM530.4 687h9.2v3.5h-9.2zM576.1 687h9.2v3.5h-9.2zM603.5 687h9.2v3.5h-9.2zM740.6 687h9.2v3.5h-9.2zM749.8 687h9.2v3.5h-9.2zM768.1 687h9.2v3.5h-9.2zM886.9 687h9.2v3.5h-9.2zM896 687h9.2v3.5h-9.2zM905.2 687h9.2v3.5h-9.2zM932.6 687h9.2v3.5h-9.2zM941.7 687h9.2v3.5h-9.2zM950.9 687h9.2v3.5h-9.2zM1033.1 687h9.2v3.5h-9.2zM1097.1 687h9.2v3.5h-9.2zM1188.5 687h9.2v3.5h-9.2zM1206.8 687h9.2v3.5h-9.2zM1289.1 687h9.2v3.5h-9.2zM1298.2 687h9.2v3.5h-9.2zM1407.9 687h9.2v3.5h-9.2zM1417.1 687h9.2v3.5h-9.2zM402.4 690.4h9.2v3.5h-9.2zM439 690.4h9.2v3.5h-9.2zM484.7 690.4h9.2v3.5h-9.2zM503 690.4h9.2v3.5h-9.2zM576.1 690.4h9.2v3.5h-9.2zM685.8 690.4h9.2v3.5h-9.2zM694.9 690.4h9.2v3.5h-9.2zM749.8 690.4h9.2v3.5h-9.2zM758.9 690.4h9.2v3.5h-9.2zM777.2 690.4h9.2v3.5h-9.2zM786.3 690.4h9.2v3.5h-9.2zM795.5 690.4h9.2v3.5h-9.2zM868.6 690.4h9.2v3.5h-9.2zM877.7 690.4h9.2v3.5h-9.2zM886.9 690.4h9.2v3.5h-9.2zM1060.6 690.4h9.2v3.5h-9.2zM1142.8 690.4h9.2v3.5h-9.2zM1188.5 690.4h9.2v3.5h-9.2zM1407.9 690.4h9.2v3.5h-9.2zM1462.8 690.4h9.2v3.5h-9.2zM384.1 693.9h9.2v3.5h-9.2zM393.3 693.9h9.2v3.5h-9.2zM448.1 693.9h9.2v3.5h-9.2zM484.7 693.9h9.2v3.5h-9.2zM567 693.9h9.2v3.5h-9.2zM576.1 693.9h9.2v3.5h-9.2zM594.4 693.9h9.2v3.5h-9.2zM658.4 693.9h9.2v3.5h-9.2zM740.6 693.9h9.2v3.5h-9.2zM749.8 693.9h9.2v3.5h-9.2zM758.9 693.9h9.2v3.5h-9.2zM768.1 693.9h9.2v3.5h-9.2zM786.3 693.9h9.2v3.5h-9.2zM804.6 693.9h9.2v3.5h-9.2zM822.9 693.9h9.2v3.5h-9.2zM868.6 693.9h9.2v3.5h-9.2zM905.2 693.9h9.2v3.5h-9.2zM1024 693.9h9.2v3.5h-9.2zM1234.2 693.9h9.2v3.5h-9.2zM1316.5 693.9h9.2v3.5h-9.2zM1325.6 693.9h9.2v3.5h-9.2zM1389.6 693.9h9.2v3.5h-9.2zM1453.6 693.9h9.2v3.5h-9.2zM393.3 697.3h9.2v3.5h-9.2zM457.3 697.3h9.2v3.5h-9.2zM576.1 697.3h9.2v3.5h-9.2zM694.9 697.3h9.2v3.5h-9.2zM704.1 697.3h9.2v3.5h-9.2zM713.2 697.3h9.2v3.5h-9.2zM777.2 697.3h9.2v3.5h-9.2zM841.2 697.3h9.2v3.5h-9.2zM877.7 697.3h9.2v3.5h-9.2zM960 697.3h9.2v3.5h-9.2zM978.3 697.3h9.2v3.5h-9.2zM1005.7 697.3h9.2v3.5h-9.2zM1088 697.3h9.2v3.5h-9.2zM1106.3 697.3h9.2v3.5h-9.2zM1115.4 697.3h9.2v3.5h-9.2zM1152 697.3h9.2v3.5h-9.2zM1216 697.3h9.2v3.5h-9.2zM1225.1 697.3h9.2v3.5h-9.2zM1389.6 697.3h9.2v3.5h-9.2zM1426.2 697.3h9.2v3.5h-9.2zM393.3 700.8h9.2v3.5h-9.2zM457.3 700.8h9.2v3.5h-9.2zM484.7 700.8h9.2v3.5h-9.2zM493.8 700.8h9.2v3.5h-9.2zM576.1 700.8h9.2v3.5h-9.2zM621.8 700.8h9.2v3.5h-9.2zM658.4 700.8h9.2v3.5h-9.2zM713.2 700.8h9.2v3.5h-9.2zM722.4 700.8h9.2v3.5h-9.2zM731.5 700.8h9.2v3.5h-9.2zM758.9 700.8h9.2v3.5h-9.2zM777.2 700.8h9.2v3.5h-9.2zM822.9 700.8h9.2v3.5h-9.2zM987.4 700.8h9.2v3.5h-9.2zM996.6 700.8h9.2v3.5h-9.2zM1005.7 700.8h9.2v3.5h-9.2zM1051.4 700.8h9.2v3.5h-9.2zM1078.8 700.8h9.2v3.5h-9.2zM1088 700.8h9.2v3.5h-9.2zM1206.8 700.8h9.2v3.5h-9.2zM1298.2 700.8h9.2v3.5h-9.2zM1353.1 700.8h9.2v3.5h-9.2zM475.5 704.2h9.2v3.5h-9.2zM676.6 704.2h9.2v3.5h-9.2zM731.5 704.2h9.2v3.5h-9.2zM777.2 704.2h9.2v3.5h-9.2zM804.6 704.2h9.2v3.5h-9.2zM850.3 704.2h9.2v3.5h-9.2zM932.6 704.2h9.2v3.5h-9.2zM941.7 704.2h9.2v3.5h-9.2zM1024 704.2h9.2v3.5h-9.2zM1033.1 704.2h9.2v3.5h-9.2zM1133.7 704.2h9.2v3.5h-9.2zM1398.8 704.2h9.2v3.5h-9.2zM402.4 707.7h9.2v3.5h-9.2zM411.6 707.7h9.2v3.5h-9.2zM420.7 707.7h9.2v3.5h-9.2zM439 707.7h9.2v3.5h-9.2zM448.1 707.7h9.2v3.5h-9.2zM475.5 707.7h9.2v3.5h-9.2zM603.5 707.7h9.2v3.5h-9.2zM612.7 707.7h9.2v3.5h-9.2zM758.9 707.7h9.2v3.5h-9.2zM768.1 707.7h9.2v3.5h-9.2zM868.6 707.7h9.2v3.5h-9.2zM932.6 707.7h9.2v3.5h-9.2zM1042.3 707.7h9.2v3.5h-9.2zM1051.4 707.7h9.2v3.5h-9.2zM1188.5 707.7h9.2v3.5h-9.2zM1197.7 707.7h9.2v3.5h-9.2zM1216 707.7h9.2v3.5h-9.2zM1234.2 707.7h9.2v3.5h-9.2zM1289.1 707.7h9.2v3.5h-9.2zM384.1 711.1h9.2v3.5h-9.2zM484.7 711.1h9.2v3.5h-9.2zM539.5 711.1h9.2v3.5h-9.2zM557.8 711.1h9.2v3.5h-9.2zM640.1 711.1h9.2v3.5h-9.2zM649.2 711.1h9.2v3.5h-9.2zM658.4 711.1h9.2v3.5h-9.2zM722.4 711.1h9.2v3.5h-9.2zM731.5 711.1h9.2v3.5h-9.2zM740.6 711.1h9.2v3.5h-9.2zM795.5 711.1h9.2v3.5h-9.2zM923.5 711.1h9.2v3.5h-9.2zM987.4 711.1h9.2v3.5h-9.2zM1005.7 711.1h9.2v3.5h-9.2zM1078.8 711.1h9.2v3.5h-9.2zM1133.7 711.1h9.2v3.5h-9.2zM1142.8 711.1h9.2v3.5h-9.2zM1152 711.1h9.2v3.5h-9.2zM1179.4 711.1h9.2v3.5h-9.2zM1188.5 711.1h9.2v3.5h-9.2zM1243.4 711.1h9.2v3.5h-9.2zM1279.9 711.1h9.2v3.5h-9.2zM1389.6 711.1h9.2v3.5h-9.2zM1417.1 711.1h9.2v3.5h-9.2zM1426.2 711.1h9.2v3.5h-9.2zM1453.6 711.1h9.2v3.5h-9.2zM402.4 714.6h9.2v3.5h-9.2zM420.7 714.6h9.2v3.5h-9.2zM429.8 714.6h9.2v3.5h-9.2zM548.7 714.6h9.2v3.5h-9.2zM557.8 714.6h9.2v3.5h-9.2zM567 714.6h9.2v3.5h-9.2zM594.4 714.6h9.2v3.5h-9.2zM640.1 714.6h9.2v3.5h-9.2zM649.2 714.6h9.2v3.5h-9.2zM694.9 714.6h9.2v3.5h-9.2zM713.2 714.6h9.2v3.5h-9.2zM905.2 714.6h9.2v3.5h-9.2zM914.3 714.6h9.2v3.5h-9.2zM923.5 714.6h9.2v3.5h-9.2zM950.9 714.6h9.2v3.5h-9.2zM969.2 714.6h9.2v3.5h-9.2zM978.3 714.6h9.2v3.5h-9.2zM1152 714.6h9.2v3.5h-9.2zM1206.8 714.6h9.2v3.5h-9.2zM1216 714.6h9.2v3.5h-9.2zM1261.7 714.6h9.2v3.5h-9.2zM1298.2 714.6h9.2v3.5h-9.2zM1325.6 714.6h9.2v3.5h-9.2zM1343.9 714.6h9.2v3.5h-9.2zM1389.6 714.6h9.2v3.5h-9.2zM1407.9 714.6h9.2v3.5h-9.2zM375 718h9.2v3.5h-9.2zM402.4 718h9.2v3.5h-9.2zM420.7 718h9.2v3.5h-9.2zM429.8 718h9.2v3.5h-9.2zM521.3 718h9.2v3.5h-9.2zM649.2 718h9.2v3.5h-9.2zM704.1 718h9.2v3.5h-9.2zM749.8 718h9.2v3.5h-9.2zM758.9 718h9.2v3.5h-9.2zM850.3 718h9.2v3.5h-9.2zM859.5 718h9.2v3.5h-9.2zM978.3 718h9.2v3.5h-9.2zM1042.3 718h9.2v3.5h-9.2zM1097.1 718h9.2v3.5h-9.2zM1170.3 718h9.2v3.5h-9.2zM1179.4 718h9.2v3.5h-9.2zM1206.8 718h9.2v3.5h-9.2zM457.3 721.5h9.2v3.5h-9.2zM539.5 721.5h9.2v3.5h-9.2zM621.8 721.5h9.2v3.5h-9.2zM658.4 721.5h9.2v3.5h-9.2zM740.6 721.5h9.2v3.5h-9.2zM923.5 721.5h9.2v3.5h-9.2zM950.9 721.5h9.2v3.5h-9.2zM1005.7 721.5h9.2v3.5h-9.2zM1051.4 721.5h9.2v3.5h-9.2zM1307.4 721.5h9.2v3.5h-9.2zM1343.9 721.5h9.2v3.5h-9.2zM384.1 724.9h9.2v3.5h-9.2zM411.6 724.9h9.2v3.5h-9.2zM530.4 724.9h9.2v3.5h-9.2zM548.7 724.9h9.2v3.5h-9.2zM640.1 724.9h9.2v3.5h-9.2zM676.6 724.9h9.2v3.5h-9.2zM749.8 724.9h9.2v3.5h-9.2zM758.9 724.9h9.2v3.5h-9.2zM868.6 724.9h9.2v3.5h-9.2zM877.7 724.9h9.2v3.5h-9.2zM886.9 724.9h9.2v3.5h-9.2zM914.3 724.9h9.2v3.5h-9.2zM960 724.9h9.2v3.5h-9.2zM969.2 724.9h9.2v3.5h-9.2zM1014.9 724.9h9.2v3.5h-9.2zM1069.7 724.9h9.2v3.5h-9.2zM1124.5 724.9h9.2v3.5h-9.2zM1142.8 724.9h9.2v3.5h-9.2zM1152 724.9h9.2v3.5h-9.2zM1161.1 724.9h9.2v3.5h-9.2zM1179.4 724.9h9.2v3.5h-9.2zM1188.5 724.9h9.2v3.5h-9.2zM1289.1 724.9h9.2v3.5h-9.2zM375 728.4h9.2v3.5h-9.2zM530.4 728.4h9.2v3.5h-9.2zM567 728.4h9.2v3.5h-9.2zM603.5 728.4h9.2v3.5h-9.2zM612.7 728.4h9.2v3.5h-9.2zM621.8 728.4h9.2v3.5h-9.2zM676.6 728.4h9.2v3.5h-9.2zM996.6 728.4h9.2v3.5h-9.2zM1088 728.4h9.2v3.5h-9.2zM1197.7 728.4h9.2v3.5h-9.2zM1206.8 728.4h9.2v3.5h-9.2zM1325.6 728.4h9.2v3.5h-9.2zM1371.4 728.4h9.2v3.5h-9.2zM1398.8 728.4h9.2v3.5h-9.2zM393.3 731.8h9.2v3.5h-9.2zM402.4 731.8h9.2v3.5h-9.2zM411.6 731.8h9.2v3.5h-9.2zM420.7 731.8h9.2v3.5h-9.2zM448.1 731.8h9.2v3.5h-9.2zM503 731.8h9.2v3.5h-9.2zM512.1 731.8h9.2v3.5h-9.2zM539.5 731.8h9.2v3.5h-9.2zM548.7 731.8h9.2v3.5h-9.2zM749.8 731.8h9.2v3.5h-9.2zM758.9 731.8h9.2v3.5h-9.2zM786.3 731.8h9.2v3.5h-9.2zM804.6 731.8h9.2v3.5h-9.2zM941.7 731.8h9.2v3.5h-9.2zM960 731.8h9.2v3.5h-9.2zM969.2 731.8h9.2v3.5h-9.2zM1133.7 731.8h9.2v3.5h-9.2zM1243.4 731.8h9.2v3.5h-9.2zM1279.9 731.8h9.2v3.5h-9.2zM1316.5 731.8h9.2v3.5h-9.2zM1325.6 731.8h9.2v3.5h-9.2zM1334.8 731.8h9.2v3.5h-9.2zM1343.9 731.8h9.2v3.5h-9.2zM1371.4 731.8h9.2v3.5h-9.2zM1417.1 731.8h9.2v3.5h-9.2zM375 735.3h9.2v3.5h-9.2zM466.4 735.3h9.2v3.5h-9.2zM484.7 735.3h9.2v3.5h-9.2zM503 735.3h9.2v3.5h-9.2zM640.1 735.3h9.2v3.5h-9.2zM649.2 735.3h9.2v3.5h-9.2zM758.9 735.3h9.2v3.5h-9.2zM804.6 735.3h9.2v3.5h-9.2zM841.2 735.3h9.2v3.5h-9.2zM914.3 735.3h9.2v3.5h-9.2zM987.4 735.3h9.2v3.5h-9.2zM996.6 735.3h9.2v3.5h-9.2zM1078.8 735.3h9.2v3.5h-9.2zM402.4 738.7h9.2v3.5h-9.2zM448.1 738.7h9.2v3.5h-9.2zM493.8 738.7h9.2v3.5h-9.2zM658.4 738.7h9.2v3.5h-9.2zM905.2 738.7h9.2v3.5h-9.2zM914.3 738.7h9.2v3.5h-9.2zM923.5 738.7h9.2v3.5h-9.2zM932.6 738.7h9.2v3.5h-9.2zM941.7 738.7h9.2v3.5h-9.2zM1060.6 738.7h9.2v3.5h-9.2zM1088 738.7h9.2v3.5h-9.2zM1298.2 738.7h9.2v3.5h-9.2zM1316.5 738.7h9.2v3.5h-9.2zM1325.6 738.7h9.2v3.5h-9.2zM439 742.2h9.2v3.5h-9.2zM466.4 742.2h9.2v3.5h-9.2zM530.4 742.2h9.2v3.5h-9.2zM539.5 742.2h9.2v3.5h-9.2zM585.2 742.2h9.2v3.5h-9.2zM594.4 742.2h9.2v3.5h-9.2zM621.8 742.2h9.2v3.5h-9.2zM731.5 742.2h9.2v3.5h-9.2zM795.5 742.2h9.2v3.5h-9.2zM832 742.2h9.2v3.5h-9.2zM859.5 742.2h9.2v3.5h-9.2zM896 742.2h9.2v3.5h-9.2zM905.2 742.2h9.2v3.5h-9.2zM941.7 742.2h9.2v3.5h-9.2zM1115.4 742.2h9.2v3.5h-9.2zM1124.5 742.2h9.2v3.5h-9.2zM1161.1 742.2h9.2v3.5h-9.2zM1188.5 742.2h9.2v3.5h-9.2zM1197.7 742.2h9.2v3.5h-9.2zM393.3 745.6h9.2v3.5h-9.2zM420.7 745.6h9.2v3.5h-9.2zM466.4 745.6h9.2v3.5h-9.2zM475.5 745.6h9.2v3.5h-9.2zM503 745.6h9.2v3.5h-9.2zM530.4 745.6h9.2v3.5h-9.2zM548.7 745.6h9.2v3.5h-9.2zM557.8 745.6h9.2v3.5h-9.2zM585.2 745.6h9.2v3.5h-9.2zM667.5 745.6h9.2v3.5h-9.2zM722.4 745.6h9.2v3.5h-9.2zM768.1 745.6h9.2v3.5h-9.2zM822.9 745.6h9.2v3.5h-9.2zM987.4 745.6h9.2v3.5h-9.2zM1014.9 745.6h9.2v3.5h-9.2zM1024 745.6h9.2v3.5h-9.2zM1069.7 745.6h9.2v3.5h-9.2zM1115.4 745.6h9.2v3.5h-9.2zM1133.7 745.6h9.2v3.5h-9.2zM1142.8 745.6h9.2v3.5h-9.2zM1307.4 745.6h9.2v3.5h-9.2zM1325.6 745.6h9.2v3.5h-9.2zM1398.8 745.6h9.2v3.5h-9.2zM1444.5 745.6h9.2v3.5h-9.2zM393.3 749.1h9.2v3.5h-9.2zM420.7 749.1h9.2v3.5h-9.2zM722.4 749.1h9.2v3.5h-9.2zM731.5 749.1h9.2v3.5h-9.2zM804.6 749.1h9.2v3.5h-9.2zM832 749.1h9.2v3.5h-9.2zM886.9 749.1h9.2v3.5h-9.2zM969.2 749.1h9.2v3.5h-9.2zM978.3 749.1h9.2v3.5h-9.2zM1069.7 749.1h9.2v3.5h-9.2zM1142.8 749.1h9.2v3.5h-9.2zM1152 749.1h9.2v3.5h-9.2zM1316.5 749.1h9.2v3.5h-9.2zM1371.4 749.1h9.2v3.5h-9.2zM1435.3 749.1h9.2v3.5h-9.2zM1453.6 749.1h9.2v3.5h-9.2zM429.8 752.5h9.2v3.5h-9.2zM704.1 752.5h9.2v3.5h-9.2zM713.2 752.5h9.2v3.5h-9.2zM1060.6 752.5h9.2v3.5h-9.2zM1106.3 752.5h9.2v3.5h-9.2zM1170.3 752.5h9.2v3.5h-9.2zM1371.4 752.5h9.2v3.5h-9.2zM420.7 756h9.2v3.5h-9.2zM429.8 756h9.2v3.5h-9.2zM457.3 756h9.2v3.5h-9.2zM466.4 756h9.2v3.5h-9.2zM512.1 756h9.2v3.5h-9.2zM621.8 756h9.2v3.5h-9.2zM630.9 756h9.2v3.5h-9.2zM658.4 756h9.2v3.5h-9.2zM667.5 756h9.2v3.5h-9.2zM676.6 756h9.2v3.5h-9.2zM804.6 756h9.2v3.5h-9.2zM813.8 756h9.2v3.5h-9.2zM850.3 756h9.2v3.5h-9.2zM877.7 756h9.2v3.5h-9.2zM896 756h9.2v3.5h-9.2zM905.2 756h9.2v3.5h-9.2zM923.5 756h9.2v3.5h-9.2zM996.6 756h9.2v3.5h-9.2zM1106.3 756h9.2v3.5h-9.2zM1124.5 756h9.2v3.5h-9.2zM1161.1 756h9.2v3.5h-9.2zM1170.3 756h9.2v3.5h-9.2zM1188.5 756h9.2v3.5h-9.2zM1225.1 756h9.2v3.5h-9.2zM1289.1 756h9.2v3.5h-9.2zM1353.1 756h9.2v3.5h-9.2zM1362.2 756h9.2v3.5h-9.2zM1371.4 756h9.2v3.5h-9.2zM1380.5 756h9.2v3.5h-9.2zM1398.8 756h9.2v3.5h-9.2zM384.1 759.4h9.2v3.5h-9.2zM420.7 759.4h9.2v3.5h-9.2zM503 759.4h9.2v3.5h-9.2zM530.4 759.4h9.2v3.5h-9.2zM539.5 759.4h9.2v3.5h-9.2zM731.5 759.4h9.2v3.5h-9.2zM740.6 759.4h9.2v3.5h-9.2zM777.2 759.4h9.2v3.5h-9.2zM786.3 759.4h9.2v3.5h-9.2zM1005.7 759.4h9.2v3.5h-9.2zM1024 759.4h9.2v3.5h-9.2zM1243.4 759.4h9.2v3.5h-9.2zM1261.7 759.4h9.2v3.5h-9.2zM1307.4 759.4h9.2v3.5h-9.2zM1343.9 759.4h9.2v3.5h-9.2zM1407.9 759.4h9.2v3.5h-9.2zM1435.3 759.4h9.2v3.5h-9.2zM1453.6 759.4h9.2v3.5h-9.2zM393.3 762.9h9.2v3.5h-9.2zM429.8 762.9h9.2v3.5h-9.2zM493.8 762.9h9.2v3.5h-9.2zM557.8 762.9h9.2v3.5h-9.2zM649.2 762.9h9.2v3.5h-9.2zM658.4 762.9h9.2v3.5h-9.2zM832 762.9h9.2v3.5h-9.2zM877.7 762.9h9.2v3.5h-9.2zM886.9 762.9h9.2v3.5h-9.2zM923.5 762.9h9.2v3.5h-9.2zM1005.7 762.9h9.2v3.5h-9.2zM1051.4 762.9h9.2v3.5h-9.2zM1270.8 762.9h9.2v3.5h-9.2zM1307.4 762.9h9.2v3.5h-9.2zM1343.9 762.9h9.2v3.5h-9.2zM375 766.3h9.2v3.5h-9.2zM384.1 766.3h9.2v3.5h-9.2zM420.7 766.3h9.2v3.5h-9.2zM576.1 766.3h9.2v3.5h-9.2zM594.4 766.3h9.2v3.5h-9.2zM603.5 766.3h9.2v3.5h-9.2zM658.4 766.3h9.2v3.5h-9.2zM667.5 766.3h9.2v3.5h-9.2zM749.8 766.3h9.2v3.5h-9.2zM768.1 766.3h9.2v3.5h-9.2zM795.5 766.3h9.2v3.5h-9.2zM804.6 766.3h9.2v3.5h-9.2zM822.9 766.3h9.2v3.5h-9.2zM868.6 766.3h9.2v3.5h-9.2zM914.3 766.3h9.2v3.5h-9.2zM996.6 766.3h9.2v3.5h-9.2zM1014.9 766.3h9.2v3.5h-9.2zM1033.1 766.3h9.2v3.5h-9.2zM1115.4 766.3h9.2v3.5h-9.2zM1197.7 766.3h9.2v3.5h-9.2zM1444.5 766.3h9.2v3.5h-9.2zM475.5 769.8h9.2v3.9h-9.2zM484.7 769.8h9.2v3.9h-9.2zM493.8 769.8h9.2v3.9h-9.2zM503 769.8h9.2v3.9h-9.2zM548.7 769.8h9.2v3.9h-9.2zM557.8 769.8h9.2v3.9h-9.2zM658.4 769.8h9.2v3.9h-9.2zM667.5 769.8h9.2v3.9h-9.2zM758.9 769.8h9.2v3.9h-9.2zM804.6 769.8h9.2v3.9h-9.2zM877.7 769.8h9.2v3.9h-9.2zM905.2 769.8h9.2v3.9h-9.2zM1060.6 769.8h9.2v3.9h-9.2zM1078.8 769.8h9.2v3.9h-9.2zM1133.7 769.8h9.2v3.9h-9.2zM1142.8 769.8h9.2v3.9h-9.2zM1152 769.8h9.2v3.9h-9.2zM1197.7 769.8h9.2v3.9h-9.2zM1216 769.8h9.2v3.9h-9.2zM1252.5 769.8h9.2v3.9h-9.2zM1426.2 769.8h9.2v3.9h-9.2zM384.1 773.7h9.2v4.5h-9.2zM822.9 773.7h9.2v4.5h-9.2zM960 773.7h9.2v4.5h-9.2zM969.2 773.7h9.2v4.5h-9.2zM1042.3 773.7h9.2v4.5h-9.2zM1051.4 773.7h9.2v4.5h-9.2zM1069.7 773.7h9.2v4.5h-9.2zM1161.1 773.7h9.2v4.5h-9.2zM1426.2 773.7h9.2v4.5h-9.2zM1453.6 773.7h9.2v4.5h-9.2zM429.8 778.1h9.2v5h-9.2zM439 778.1h9.2v5h-9.2zM630.9 778.1h9.2v5h-9.2zM667.5 778.1h9.2v5h-9.2zM676.6 778.1h9.2v5h-9.2zM749.8 778.1h9.2v5h-9.2zM777.2 778.1h9.2v5h-9.2zM786.3 778.1h9.2v5h-9.2zM822.9 778.1h9.2v5h-9.2zM832 778.1h9.2v5h-9.2zM877.7 778.1h9.2v5h-9.2zM941.7 778.1h9.2v5h-9.2zM950.9 778.1h9.2v5h-9.2zM996.6 778.1h9.2v5h-9.2zM1051.4 778.1h9.2v5h-9.2zM1170.3 778.1h9.2v5h-9.2zM1197.7 778.1h9.2v5h-9.2zM1353.1 778.1h9.2v5h-9.2zM1417.1 778.1h9.2v5h-9.2zM1462.8 778.1h9.2v5h-9.2zM375 783h9.2v5.7h-9.2zM384.1 783h9.2v5.7h-9.2zM548.7 783h9.2v5.7h-9.2zM567 783h9.2v5.7h-9.2zM649.2 783h9.2v5.7h-9.2zM676.6 783h9.2v5.7h-9.2zM704.1 783h9.2v5.7h-9.2zM722.4 783h9.2v5.7h-9.2zM768.1 783h9.2v5.7h-9.2zM777.2 783h9.2v5.7h-9.2zM832 783h9.2v5.7h-9.2zM896 783h9.2v5.7h-9.2zM905.2 783h9.2v5.7h-9.2zM914.3 783h9.2v5.7h-9.2zM978.3 783h9.2v5.7h-9.2zM1133.7 783h9.2v5.7h-9.2zM1152 783h9.2v5.7h-9.2zM1188.5 783h9.2v5.7h-9.2zM1206.8 783h9.2v5.7h-9.2zM1353.1 783h9.2v5.7h-9.2zM1389.6 783h9.2v5.7h-9.2zM1426.2 783h9.2v5.7h-9.2zM384.1 788.7h9.2v6.4h-9.2zM576.1 788.7h9.2v6.4h-9.2zM585.2 788.7h9.2v6.4h-9.2zM658.4 788.7h9.2v6.4h-9.2zM694.9 788.7h9.2v6.4h-9.2zM722.4 788.7h9.2v6.4h-9.2zM932.6 788.7h9.2v6.4h-9.2zM941.7 788.7h9.2v6.4h-9.2zM950.9 788.7h9.2v6.4h-9.2zM960 788.7h9.2v6.4h-9.2zM1005.7 788.7h9.2v6.4h-9.2zM1033.1 788.7h9.2v6.4h-9.2zM1042.3 788.7h9.2v6.4h-9.2zM1252.5 788.7h9.2v6.4h-9.2zM1325.6 788.7h9.2v6.4h-9.2zM375 795h9.2v7.2h-9.2zM484.7 795h9.2v7.2h-9.2zM749.8 795h9.2v7.2h-9.2zM813.8 795h9.2v7.2h-9.2zM850.3 795h9.2v7.2h-9.2zM859.5 795h9.2v7.2h-9.2zM868.6 795h9.2v7.2h-9.2zM886.9 795h9.2v7.2h-9.2zM1042.3 795h9.2v7.2h-9.2zM1060.6 795h9.2v7.2h-9.2zM1270.8 795h9.2v7.2h-9.2zM1279.9 795h9.2v7.2h-9.2zM1298.2 795h9.2v7.2h-9.2zM1380.5 795h9.2v7.2h-9.2zM448.1 802.2h9.2v8.2h-9.2zM484.7 802.2h9.2v8.2h-9.2zM493.8 802.2h9.2v8.2h-9.2zM512.1 802.2h9.2v8.2h-9.2zM585.2 802.2h9.2v8.2h-9.2zM914.3 802.2h9.2v8.2h-9.2zM978.3 802.2h9.2v8.2h-9.2zM1024 802.2h9.2v8.2h-9.2zM1133.7 802.2h9.2v8.2h-9.2zM1179.4 802.2h9.2v8.2h-9.2zM1234.2 802.2h9.2v8.2h-9.2zM1243.4 802.2h9.2v8.2h-9.2zM1261.7 802.2h9.2v8.2h-9.2zM1417.1 802.2h9.2v8.2h-9.2zM402.4 810.3h9.2v9.2h-9.2zM612.7 810.3h9.2v9.2h-9.2zM649.2 810.3h9.2v9.2h-9.2zM704.1 810.3h9.2v9.2h-9.2zM731.5 810.3h9.2v9.2h-9.2zM758.9 810.3h9.2v9.2h-9.2zM859.5 810.3h9.2v9.2h-9.2zM868.6 810.3h9.2v9.2h-9.2zM923.5 810.3h9.2v9.2h-9.2zM932.6 810.3h9.2v9.2h-9.2zM1124.5 810.3h9.2v9.2h-9.2zM1133.7 810.3h9.2v9.2h-9.2zM1152 810.3h9.2v9.2h-9.2zM1270.8 810.3h9.2v9.2h-9.2zM1334.8 810.3h9.2v9.2h-9.2zM1444.5 810.3h9.2v9.2h-9.2zM439 819.5h9.2v9.6h-9.2zM503 819.5h9.2v9.6h-9.2zM521.3 819.5h9.2v9.6h-9.2zM585.2 819.5h9.2v9.6h-9.2zM594.4 819.5h9.2v9.6h-9.2zM612.7 819.5h9.2v9.6h-9.2zM731.5 819.5h9.2v9.6h-9.2zM786.3 819.5h9.2v9.6h-9.2zM795.5 819.5h9.2v9.6h-9.2zM896 819.5h9.2v9.6h-9.2zM905.2 819.5h9.2v9.6h-9.2zM960 819.5h9.2v9.6h-9.2zM969.2 819.5h9.2v9.6h-9.2zM1124.5 819.5h9.2v9.6h-9.2zM1179.4 819.5h9.2v9.6h-9.2zM1188.5 819.5h9.2v9.6h-9.2zM1216 819.5h9.2v9.6h-9.2zM1261.7 819.5h9.2v9.6h-9.2zM1316.5 819.5h9.2v9.6h-9.2zM1389.6 819.5h9.2v9.6h-9.2zM429.8 829h9.2v9.6h-9.2zM439 829h9.2v9.6h-9.2zM466.4 829h9.2v9.6h-9.2zM484.7 829h9.2v9.6h-9.2zM503 829h9.2v9.6h-9.2zM585.2 829h9.2v9.6h-9.2zM594.4 829h9.2v9.6h-9.2zM612.7 829h9.2v9.6h-9.2zM640.1 829h9.2v9.6h-9.2zM649.2 829h9.2v9.6h-9.2zM667.5 829h9.2v9.6h-9.2zM676.6 829h9.2v9.6h-9.2zM822.9 829h9.2v9.6h-9.2zM905.2 829h9.2v9.6h-9.2zM914.3 829h9.2v9.6h-9.2zM969.2 829h9.2v9.6h-9.2zM1005.7 829h9.2v9.6h-9.2zM1088 829h9.2v9.6h-9.2zM1133.7 829h9.2v9.6h-9.2zM1142.8 829h9.2v9.6h-9.2zM1188.5 829h9.2v9.6h-9.2zM1197.7 829h9.2v9.6h-9.2zM1353.1 829h9.2v9.6h-9.2zM384.1 838.5h9.2v4.5h-9.2zM393.3 838.5h9.2v4.5h-9.2zM594.4 838.5h9.2v4.5h-9.2zM731.5 838.5h9.2v4.5h-9.2zM740.6 838.5h9.2v4.5h-9.2zM786.3 838.5h9.2v4.5h-9.2zM832 838.5h9.2v4.5h-9.2zM841.2 838.5h9.2v4.5h-9.2zM896 838.5h9.2v4.5h-9.2zM905.2 838.5h9.2v4.5h-9.2zM950.9 838.5h9.2v4.5h-9.2zM1042.3 838.5h9.2v4.5h-9.2zM1060.6 838.5h9.2v4.5h-9.2zM1069.7 838.5h9.2v4.5h-9.2zM1179.4 838.5h9.2v4.5h-9.2zM1289.1 838.5h9.2v4.5h-9.2zM1426.2 838.5h9.2v4.5h-9.2zM1453.6 838.5h9.2v4.5h-9.2z"/>
<path fill="#5d18ec" d="M439 580h9.2v3.5h-9.2zM530.4 580h9.2v3.5h-9.2zM539.5 580h9.2v3.5h-9.2zM557.8 580h9.2v3.5h-9.2zM567 580h9.2v3.5h-9.2zM658.4 580h9.2v3.5h-9.2zM777.2 580h9.2v3.5h-9.2zM1014.9 580h9.2v3.5h-9.2zM1051.4 580h9.2v3.5h-9.2zM1115.4 580h9.2v3.5h-9.2zM1124.5 580h9.2v3.5h-9.2zM1133.7 580h9.2v3.5h-9.2zM393.3 583.5h9.2v3.5h-9.2zM557.8 583.5h9.2v3.5h-9.2zM649.2 583.5h9.2v3.5h-9.2zM859.5 583.5h9.2v3.5h-9.2zM896 583.5h9.2v3.5h-9.2zM960 583.5h9.2v3.5h-9.2zM1289.1 583.5h9.2v3.5h-9.2zM1316.5 583.5h9.2v3.5h-9.2zM1426.2 583.5h9.2v3.5h-9.2zM1435.3 583.5h9.2v3.5h-9.2zM521.3 586.9h9.2v3.5h-9.2zM557.8 586.9h9.2v3.5h-9.2zM567 586.9h9.2v3.5h-9.2zM576.1 586.9h9.2v3.5h-9.2zM777.2 586.9h9.2v3.5h-9.2zM1005.7 586.9h9.2v3.5h-9.2zM1014.9 586.9h9.2v3.5h-9.2zM1261.7 586.9h9.2v3.5h-9.2zM1353.1 586.9h9.2v3.5h-9.2zM1389.6 586.9h9.2v3.5h-9.2zM1407.9 586.9h9.2v3.5h-9.2zM1417.1 586.9h9.2v3.5h-9.2zM466.4 590.4h9.2v3.5h-9.2zM859.5 590.4h9.2v3.5h-9.2zM877.7 590.4h9.2v3.5h-9.2zM896 590.4h9.2v3.5h-9.2zM987.4 590.4h9.2v3.5h-9.2zM1014.9 590.4h9.2v3.5h-9.2zM1088 590.4h9.2v3.5h-9.2zM1115.4 590.4h9.2v3.5h-9.2zM1225.1 590.4h9.2v3.5h-9.2zM1289.1 590.4h9.2v3.5h-9.2zM457.3 593.8h9.2v3.5h-9.2zM649.2 593.8h9.2v3.5h-9.2zM713.2 593.8h9.2v3.5h-9.2zM822.9 593.8h9.2v3.5h-9.2zM914.3 593.8h9.2v3.5h-9.2zM1234.2 593.8h9.2v3.5h-9.2zM1398.8 593.8h9.2v3.5h-9.2zM1426.2 593.8h9.2v3.5h-9.2zM1435.3 593.8h9.2v3.5h-9.2zM393.3 597.3h9.2v3.5h-9.2zM420.7 597.3h9.2v3.5h-9.2zM448.1 597.3h9.2v3.5h-9.2zM667.5 597.3h9.2v3.5h-9.2zM822.9 597.3h9.2v3.5h-9.2zM1124.5 597.3h9.2v3.5h-9.2zM1142.8 597.3h9.2v3.5h-9.2zM1316.5 597.3h9.2v3.5h-9.2zM1407.9 597.3h9.2v3.5h-9.2zM375 600.7h9.2v3.5h-9.2zM621.8 600.7h9.2v3.5h-9.2zM731.5 600.7h9.2v3.5h-9.2zM749.8 600.7h9.2v3.5h-9.2zM932.6 600.7h9.2v3.5h-9.2zM960 600.7h9.2v3.5h-9.2zM1106.3 600.7h9.2v3.5h-9.2zM1170.3 600.7h9.2v3.5h-9.2zM1197.7 600.7h9.2v3.5h-9.2zM1243.4 600.7h9.2v3.5h-9.2zM411.6 604.2h9.2v3.5h-9.2zM420.7 604.2h9.2v3.5h-9.2zM612.7 604.2h9.2v3.5h-9.2zM685.8 604.2h9.2v3.5h-9.2zM722.4 604.2h9.2v3.5h-9.2zM749.8 604.2h9.2v3.5h-9.2zM941.7 604.2h9.2v3.5h-9.2zM1133.7 604.2h9.2v3.5h-9.2zM1270.8 604.2h9.2v3.5h-9.2zM1389.6 604.2h9.2v3.5h-9.2zM557.8 607.6h9.2v3.5h-9.2zM704.1 607.6h9.2v3.5h-9.2zM1206.8 607.6h9.2v3.5h-9.2zM1216 607.6h9.2v3.5h-9.2zM1380.5 607.6h9.2v3.5h-9.2zM439 611.1h9.2v3.5h-9.2zM530.4 611.1h9.2v3.5h-9.2zM603.5 611.1h9.2v3.5h-9.2zM640.1 611.1h9.2v3.5h-9.2zM667.5 611.1h9.2v3.5h-9.2zM859.5 611.1h9.2v3.5h-9.2zM923.5 611.1h9.2v3.5h-9.2zM960 611.1h9.2v3.5h-9.2zM1033.1 611.1h9.2v3.5h-9.2zM1060.6 611.1h9.2v3.5h-9.2zM1097.1 611.1h9.2v3.5h-9.2zM1115.4 611.1h9.2v3.5h-9.2zM1133.7 611.1h9.2v3.5h-9.2zM1142.8 611.1h9.2v3.5h-9.2zM1353.1 611.1h9.2v3.5h-9.2zM685.8 614.5h9.2v3.5h-9.2zM749.8 614.5h9.2v3.5h-9.2zM868.6 614.5h9.2v3.5h-9.2zM877.7 614.5h9.2v3.5h-9.2zM914.3 614.5h9.2v3.5h-9.2zM1014.9 614.5h9.2v3.5h-9.2zM1133.7 614.5h9.2v3.5h-9.2zM1170.3 614.5h9.2v3.5h-9.2zM1307.4 614.5h9.2v3.5h-9.2zM420.7 618h9.2v3.5h-9.2zM484.7 618h9.2v3.5h-9.2zM612.7 618h9.2v3.5h-9.2zM621.8 618h9.2v3.5h-9.2zM1444.5 618h9.2v3.5h-9.2zM448.1 621.4h9.2v3.5h-9.2zM466.4 621.4h9.2v3.5h-9.2zM685.8 621.4h9.2v3.5h-9.2zM859.5 621.4h9.2v3.5h-9.2zM868.6 621.4h9.2v3.5h-9.2zM877.7 621.4h9.2v3.5h-9.2zM1152 621.4h9.2v3.5h-9.2zM1261.7 621.4h9.2v3.5h-9.2zM1316.5 621.4h9.2v3.5h-9.2zM393.3 624.9h9.2v3.5h-9.2zM512.1 624.9h9.2v3.5h-9.2zM685.8 624.9h9.2v3.5h-9.2zM694.9 624.9h9.2v3.5h-9.2zM804.6 624.9h9.2v3.5h-9.2zM914.3 624.9h9.2v3.5h-9.2zM1206.8 624.9h9.2v3.5h-9.2zM1325.6 624.9h9.2v3.5h-9.2zM1353.1 624.9h9.2v3.5h-9.2zM1380.5 624.9h9.2v3.5h-9.2zM1435.3 624.9h9.2v3.5h-9.2zM585.2 628.3h9.2v3.5h-9.2zM786.3 628.3h9.2v3.5h-9.2zM804.6 628.3h9.2v3.5h-9.2zM859.5 628.3h9.2v3.5h-9.2zM932.6 628.3h9.2v3.5h-9.2zM1042.3 628.3h9.2v3.5h-9.2zM1069.7 628.3h9.2v3.5h-9.2zM1115.4 628.3h9.2v3.5h-9.2zM1234.2 628.3h9.2v3.5h-9.2zM1243.4 628.3h9.2v3.5h-9.2zM521.3 631.8h9.2v3.5h-9.2zM731.5 631.8h9.2v3.5h-9.2zM813.8 631.8h9.2v3.5h-9.2zM1014.9 631.8h9.2v3.5h-9.2zM1161.1 631.8h9.2v3.5h-9.2zM1234.2 631.8h9.2v3.5h-9.2zM1307.4 631.8h9.2v3.5h-9.2zM375 635.2h9.2v3.5h-9.2zM393.3 635.2h9.2v3.5h-9.2zM420.7 635.2h9.2v3.5h-9.2zM439 635.2h9.2v3.5h-9.2zM484.7 635.2h9.2v3.5h-9.2zM676.6 635.2h9.2v3.5h-9.2zM713.2 635.2h9.2v3.5h-9.2zM886.9 635.2h9.2v3.5h-9.2zM1024 635.2h9.2v3.5h-9.2zM1051.4 635.2h9.2v3.5h-9.2zM1060.6 635.2h9.2v3.5h-9.2zM1106.3 635.2h9.2v3.5h-9.2zM1188.5 635.2h9.2v3.5h-9.2zM1243.4 635.2h9.2v3.5h-9.2zM1279.9 635.2h9.2v3.5h-9.2zM1289.1 635.2h9.2v3.5h-9.2zM1298.2 635.2h9.2v3.5h-9.2zM1380.5 635.2h9.2v3.5h-9.2zM713.2 638.7h9.2v3.5h-9.2zM740.6 638.7h9.2v3.5h-9.2zM868.6 638.7h9.2v3.5h-9.2zM886.9 638.7h9.2v3.5h-9.2zM896 638.7h9.2v3.5h-9.2zM1307.4 638.7h9.2v3.5h-9.2zM1316.5 638.7h9.2v3.5h-9.2zM1398.8 638.7h9.2v3.5h-9.2zM384.1 642.1h9.2v3.5h-9.2zM393.3 642.1h9.2v3.5h-9.2zM420.7 642.1h9.2v3.5h-9.2zM548.7 642.1h9.2v3.5h-9.2zM786.3 642.1h9.2v3.5h-9.2zM822.9 642.1h9.2v3.5h-9.2zM969.2 642.1h9.2v3.5h-9.2zM1078.8 642.1h9.2v3.5h-9.2zM1316.5 642.1h9.2v3.5h-9.2zM1371.4 642.1h9.2v3.5h-9.2zM1426.2 642.1h9.2v3.5h-9.2zM1435.3 642.1h9.2v3.5h-9.2zM393.3 645.6h9.2v3.5h-9.2zM530.4 645.6h9.2v3.5h-9.2zM877.7 645.6h9.2v3.5h-9.2zM914.3 645.6h9.2v3.5h-9.2zM1051.4 645.6h9.2v3.5h-9.2zM1088 645.6h9.2v3.5h-9.2zM1097.1 645.6h9.2v3.5h-9.2zM1115.4 645.6h9.2v3.5h-9.2zM402.4 649h9.2v3.5h-9.2zM493.8 649h9.2v3.5h-9.2zM503 649h9.2v3.5h-9.2zM557.8 649h9.2v3.5h-9.2zM585.2 649h9.2v3.5h-9.2zM612.7 649h9.2v3.5h-9.2zM1005.7 649h9.2v3.5h-9.2zM1142.8 649h9.2v3.5h-9.2zM503 652.5h9.2v3.5h-9.2zM576.1 652.5h9.2v3.5h-9.2zM768.1 652.5h9.2v3.5h-9.2zM813.8 652.5h9.2v3.5h-9.2zM886.9 652.5h9.2v3.5h-9.2zM1014.9 652.5h9.2v3.5h-9.2zM1042.3 652.5h9.2v3.5h-9.2zM1252.5 652.5h9.2v3.5h-9.2zM393.3 655.9h9.2v3.5h-9.2zM439 655.9h9.2v3.5h-9.2zM649.2 655.9h9.2v3.5h-9.2zM923.5 655.9h9.2v3.5h-9.2zM960 655.9h9.2v3.5h-9.2zM1316.5 655.9h9.2v3.5h-9.2zM1426.2 655.9h9.2v3.5h-9.2zM384.1 659.4h9.2v3.5h-9.2zM411.6 659.4h9.2v3.5h-9.2zM429.8 659.4h9.2v3.5h-9.2zM439 659.4h9.2v3.5h-9.2zM503 659.4h9.2v3.5h-9.2zM512.1 659.4h9.2v3.5h-9.2zM548.7 659.4h9.2v3.5h-9.2zM886.9 659.4h9.2v3.5h-9.2zM1005.7 659.4h9.2v3.5h-9.2zM1014.9 659.4h9.2v3.5h-9.2zM1051.4 659.4h9.2v3.5h-9.2zM1161.1 659.4h9.2v3.5h-9.2zM1225.1 659.4h9.2v3.5h-9.2zM1380.5 659.4h9.2v3.5h-9.2zM1462.8 659.4h9.2v3.5h-9.2zM731.5 662.8h9.2v3.5h-9.2zM749.8 662.8h9.2v3.5h-9.2zM813.8 662.8h9.2v3.5h-9.2zM886.9 662.8h9.2v3.5h-9.2zM1042.3 662.8h9.2v3.5h-9.2zM1051.4 662.8h9.2v3.5h-9.2zM1115.4 662.8h9.2v3.5h-9.2zM1261.7 662.8h9.2v3.5h-9.2zM1334.8 662.8h9.2v3.5h-9.2zM393.3 666.3h9.2v3.5h-9.2zM822.9 666.3h9.2v3.5h-9.2zM1152 666.3h9.2v3.5h-9.2zM1188.5 666.3h9.2v3.5h-9.2zM1289.1 666.3h9.2v3.5h-9.2zM1298.2 666.3h9.2v3.5h-9.2zM1307.4 666.3h9.2v3.5h-9.2zM1389.6 666.3h9.2v3.5h-9.2zM1444.5 666.3h9.2v3.5h-9.2zM512.1 669.7h9.2v3.5h-9.2zM722.4 669.7h9.2v3.5h-9.2zM1152 669.7h9.2v3.5h-9.2zM1307.4 669.7h9.2v3.5h-9.2zM1417.1 669.7h9.2v3.5h-9.2zM457.3 673.2h9.2v3.5h-9.2zM466.4 673.2h9.2v3.5h-9.2zM521.3 673.2h9.2v3.5h-9.2zM530.4 673.2h9.2v3.5h-9.2zM594.4 673.2h9.2v3.5h-9.2zM630.9 673.2h9.2v3.5h-9.2zM649.2 673.2h9.2v3.5h-9.2zM758.9 673.2h9.2v3.5h-9.2zM768.1 673.2h9.2v3.5h-9.2zM923.5 673.2h9.2v3.5h-9.2zM1097.1 673.2h9.2v3.5h-9.2zM1197.7 673.2h9.2v3.5h-9.2zM1216 673.2h9.2v3.5h-9.2zM420.7 676.6h9.2v3.5h-9.2zM475.5 676.6h9.2v3.5h-9.2zM503 676.6h9.2v3.5h-9.2zM512.1 676.6h9.2v3.5h-9.2zM694.9 676.6h9.2v3.5h-9.2zM704.1 676.6h9.2v3.5h-9.2zM768.1 676.6h9.2v3.5h-9.2zM886.9 676.6h9.2v3.5h-9.2zM923.5 676.6h9.2v3.5h-9.2zM1051.4 676.6h9.2v3.5h-9.2zM1133.7 676.6h9.2v3.5h-9.2zM1334.8 676.6h9.2v3.5h-9.2zM722.4 680.1h9.2v3.5h-9.2zM813.8 680.1h9.2v3.5h-9.2zM877.7 680.1h9.2v3.5h-9.2zM1060.6 680.1h9.2v3.5h-9.2zM1069.7 680.1h9.2v3.5h-9.2zM1206.8 680.1h9.2v3.5h-9.2zM1216 680.1h9.2v3.5h-9.2zM1252.5 680.1h9.2v3.5h-9.2zM1298.2 680.1h9.2v3.5h-9.2zM1307.4 680.1h9.2v3.5h-9.2zM1353.1 680.1h9.2v3.5h-9.2zM539.5 683.5h9.2v3.5h-9.2zM557.8 683.5h9.2v3.5h-9.2zM1106.3 683.5h9.2v3.5h-9.2zM1152 683.5h9.2v3.5h-9.2zM1170.3 683.5h9.2v3.5h-9.2zM1444.5 683.5h9.2v3.5h-9.2zM521.3 687h9.2v3.5h-9.2zM567 687h9.2v3.5h-9.2zM813.8 687h9.2v3.5h-9.2zM850.3 687h9.2v3.5h-9.2zM859.5 687h9.2v3.5h-9.2zM1197.7 687h9.2v3.5h-9.2zM1307.4 687h9.2v3.5h-9.2zM493.8 690.4h9.2v3.5h-9.2zM768.1 690.4h9.2v3.5h-9.2zM1398.8 690.4h9.2v3.5h-9.2zM493.8 693.9h9.2v3.5h-9.2zM557.8 693.9h9.2v3.5h-9.2zM731.5 693.9h9.2v3.5h-9.2zM777.2 693.9h9.2v3.5h-9.2zM813.8 693.9h9.2v3.5h-9.2zM877.7 693.9h9.2v3.5h-9.2zM886.9 693.9h9.2v3.5h-9.2zM969.2 693.9h9.2v3.5h-9.2zM1097.1 693.9h9.2v3.5h-9.2zM1124.5 693.9h9.2v3.5h-9.2zM1225.1 693.9h9.2v3.5h-9.2zM1307.4 693.9h9.2v3.5h-9.2zM1398.8 693.9h9.2v3.5h-9.2zM557.8 697.3h9.2v3.5h-9.2zM722.4 697.3h9.2v3.5h-9.2zM731.5 697.3h9.2v3.5h-9.2zM740.6 697.3h9.2v3.5h-9.2zM886.9 697.3h9.2v3.5h-9.2zM1097.1 697.3h9.2v3.5h-9.2zM1197.7 697.3h9.2v3.5h-9.2zM1380.5 697.3h9.2v3.5h-9.2zM375 700.8h9.2v3.5h-9.2zM466.4 700.8h9.2v3.5h-9.2zM1060.6 700.8h9.2v3.5h-9.2zM1069.7 700.8h9.2v3.5h-9.2zM1234.2 700.8h9.2v3.5h-9.2zM1307.4 700.8h9.2v3.5h-9.2zM1362.2 700.8h9.2v3.5h-9.2zM1444.5 700.8h9.2v3.5h-9.2zM429.8 704.2h9.2v3.5h-9.2zM548.7 704.2h9.2v3.5h-9.2zM740.6 704.2h9.2v3.5h-9.2zM813.8 704.2h9.2v3.5h-9.2zM923.5 704.2h9.2v3.5h-9.2zM1014.9 704.2h9.2v3.5h-9.2zM1051.4 704.2h9.2v3.5h-9.2zM1069.7 704.2h9.2v3.5h-9.2zM1078.8 704.2h9.2v3.5h-9.2zM1161.1 704.2h9.2v3.5h-9.2zM1206.8 704.2h9.2v3.5h-9.2zM1316.5 704.2h9.2v3.5h-9.2zM1325.6 704.2h9.2v3.5h-9.2zM466.4 707.7h9.2v3.5h-9.2zM567 707.7h9.2v3.5h-9.2zM713.2 707.7h9.2v3.5h-9.2zM896 707.7h9.2v3.5h-9.2zM941.7 707.7h9.2v3.5h-9.2zM1142.8 707.7h9.2v3.5h-9.2zM1225.1 707.7h9.2v3.5h-9.2zM1325.6 707.7h9.2v3.5h-9.2zM1343.9 707.7h9.2v3.5h-9.2zM621.8 711.1h9.2v3.5h-9.2zM758.9 711.1h9.2v3.5h-9.2zM822.9 711.1h9.2v3.5h-9.2zM877.7 711.1h9.2v3.5h-9.2zM1161.1 711.1h9.2v3.5h-9.2zM1206.8 711.1h9.2v3.5h-9.2zM1234.2 711.1h9.2v3.5h-9.2zM1252.5 711.1h9.2v3.5h-9.2zM1261.7 711.1h9.2v3.5h-9.2zM1444.5 711.1h9.2v3.5h-9.2zM704.1 714.6h9.2v3.5h-9.2zM896 714.6h9.2v3.5h-9.2zM1133.7 714.6h9.2v3.5h-9.2zM1161.1 714.6h9.2v3.5h-9.2zM1334.8 714.6h9.2v3.5h-9.2zM1353.1 714.6h9.2v3.5h-9.2zM1417.1 714.6h9.2v3.5h-9.2zM384.1 718h9.2v3.5h-9.2zM512.1 718h9.2v3.5h-9.2zM630.9 718h9.2v3.5h-9.2zM694.9 718h9.2v3.5h-9.2zM804.6 718h9.2v3.5h-9.2zM996.6 718h9.2v3.5h-9.2zM1051.4 718h9.2v3.5h-9.2zM1152 718h9.2v3.5h-9.2zM1161.1 718h9.2v3.5h-9.2zM1261.7 718h9.2v3.5h-9.2zM630.9 721.5h9.2v3.5h-9.2zM640.1 721.5h9.2v3.5h-9.2zM694.9 721.5h9.2v3.5h-9.2zM813.8 721.5h9.2v3.5h-9.2zM1234.2 721.5h9.2v3.5h-9.2zM1298.2 721.5h9.2v3.5h-9.2zM1334.8 721.5h9.2v3.5h-9.2zM1371.4 721.5h9.2v3.5h-9.2zM1407.9 721.5h9.2v3.5h-9.2zM448.1 724.9h9.2v3.5h-9.2zM521.3 724.9h9.2v3.5h-9.2zM630.9 724.9h9.2v3.5h-9.2zM667.5 724.9h9.2v3.5h-9.2zM1042.3 724.9h9.2v3.5h-9.2zM1197.7 724.9h9.2v3.5h-9.2zM1225.1 724.9h9.2v3.5h-9.2zM1234.2 724.9h9.2v3.5h-9.2zM1353.1 724.9h9.2v3.5h-9.2zM411.6 728.4h9.2v3.5h-9.2zM420.7 728.4h9.2v3.5h-9.2zM594.4 728.4h9.2v3.5h-9.2zM978.3 728.4h9.2v3.5h-9.2zM987.4 728.4h9.2v3.5h-9.2zM1106.3 728.4h9.2v3.5h-9.2zM1252.5 728.4h9.2v3.5h-9.2zM1435.3 728.4h9.2v3.5h-9.2zM722.4 731.8h9.2v3.5h-9.2zM731.5 731.8h9.2v3.5h-9.2zM832 731.8h9.2v3.5h-9.2zM978.3 731.8h9.2v3.5h-9.2zM987.4 731.8h9.2v3.5h-9.2zM1033.1 731.8h9.2v3.5h-9.2zM1078.8 731.8h9.2v3.5h-9.2zM1142.8 731.8h9.2v3.5h-9.2zM1206.8 731.8h9.2v3.5h-9.2zM1216 731.8h9.2v3.5h-9.2zM1380.5 731.8h9.2v3.5h-9.2zM1426.2 731.8h9.2v3.5h-9.2zM384.1 735.3h9.2v3.5h-9.2zM512.1 735.3h9.2v3.5h-9.2zM658.4 735.3h9.2v3.5h-9.2zM740.6 735.3h9.2v3.5h-9.2zM786.3 735.3h9.2v3.5h-9.2zM850.3 735.3h9.2v3.5h-9.2zM1060.6 735.3h9.2v3.5h-9.2zM1069.7 735.3h9.2v3.5h-9.2zM1307.4 735.3h9.2v3.5h-9.2zM1371.4 735.3h9.2v3.5h-9.2zM1453.6 735.3h9.2v3.5h-9.2zM475.5 738.7h9.2v3.5h-9.2zM512.1 738.7h9.2v3.5h-9.2zM694.9 738.7h9.2v3.5h-9.2zM777.2 738.7h9.2v3.5h-9.2zM1252.5 738.7h9.2v3.5h-9.2zM1307.4 738.7h9.2v3.5h-9.2zM1462.8 738.7h9.2v3.5h-9.2zM576.1 742.2h9.2v3.5h-9.2zM713.2 742.2h9.2v3.5h-9.2zM722.4 742.2h9.2v3.5h-9.2zM868.6 742.2h9.2v3.5h-9.2zM914.3 742.2h9.2v3.5h-9.2zM1170.3 742.2h9.2v3.5h-9.2zM1179.4 742.2h9.2v3.5h-9.2zM1261.7 742.2h9.2v3.5h-9.2zM1389.6 742.2h9.2v3.5h-9.2zM621.8 745.6h9.2v3.5h-9.2zM676.6 745.6h9.2v3.5h-9.2zM685.8 745.6h9.2v3.5h-9.2zM713.2 745.6h9.2v3.5h-9.2zM877.7 745.6h9.2v3.5h-9.2zM969.2 745.6h9.2v3.5h-9.2zM1005.7 745.6h9.2v3.5h-9.2zM1033.1 745.6h9.2v3.5h-9.2zM1060.6 745.6h9.2v3.5h-9.2zM1078.8 745.6h9.2v3.5h-9.2zM1106.3 745.6h9.2v3.5h-9.2zM1316.5 745.6h9.2v3.5h-9.2zM539.5 749.1h9.2v3.5h-9.2zM603.5 749.1h9.2v3.5h-9.2zM987.4 749.1h9.2v3.5h-9.2zM1188.5 749.1h9.2v3.5h-9.2zM1225.1 749.1h9.2v3.5h-9.2zM384.1 752.5h9.2v3.5h-9.2zM402.4 752.5h9.2v3.5h-9.2zM466.4 752.5h9.2v3.5h-9.2zM603.5 752.5h9.2v3.5h-9.2zM960 752.5h9.2v3.5h-9.2zM969.2 752.5h9.2v3.5h-9.2zM978.3 752.5h9.2v3.5h-9.2zM1069.7 752.5h9.2v3.5h-9.2zM1398.8 752.5h9.2v3.5h-9.2zM475.5 756h9.2v3.5h-9.2zM484.7 756h9.2v3.5h-9.2zM567 756h9.2v3.5h-9.2zM576.1 756h9.2v3.5h-9.2zM585.2 756h9.2v3.5h-9.2zM685.8 756h9.2v3.5h-9.2zM859.5 756h9.2v3.5h-9.2zM914.3 756h9.2v3.5h-9.2zM1005.7 756h9.2v3.5h-9.2zM1097.1 756h9.2v3.5h-9.2zM1115.4 756h9.2v3.5h-9.2zM1279.9 756h9.2v3.5h-9.2zM375 759.4h9.2v3.5h-9.2zM411.6 759.4h9.2v3.5h-9.2zM630.9 759.4h9.2v3.5h-9.2zM658.4 759.4h9.2v3.5h-9.2zM950.9 759.4h9.2v3.5h-9.2zM1188.5 759.4h9.2v3.5h-9.2zM1197.7 759.4h9.2v3.5h-9.2zM1252.5 759.4h9.2v3.5h-9.2zM1362.2 759.4h9.2v3.5h-9.2zM439 762.9h9.2v3.5h-9.2zM484.7 762.9h9.2v3.5h-9.2zM685.8 762.9h9.2v3.5h-9.2zM822.9 762.9h9.2v3.5h-9.2zM1398.8 762.9h9.2v3.5h-9.2zM612.7 766.3h9.2v3.5h-9.2zM813.8 766.3h9.2v3.5h-9.2zM1005.7 766.3h9.2v3.5h-9.2zM1088 766.3h9.2v3.5h-9.2zM1206.8 766.3h9.2v3.5h-9.2zM1252.5 766.3h9.2v3.5h-9.2zM466.4 769.8h9.2v3.9h-9.2zM813.8 769.8h9.2v3.9h-9.2zM868.6 769.8h9.2v3.9h-9.2zM896 769.8h9.2v3.9h-9.2zM923.5 769.8h9.2v3.9h-9.2zM932.6 769.8h9.2v3.9h-9.2zM941.7 769.8h9.2v3.9h-9.2zM1024 769.8h9.2v3.9h-9.2zM1225.1 769.8h9.2v3.9h-9.2zM1234.2 769.8h9.2v3.9h-9.2zM1243.4 769.8h9.2v3.9h-9.2zM1261.7 769.8h9.2v3.9h-9.2zM1289.1 769.8h9.2v3.9h-9.2zM1417.1 769.8h9.2v3.9h-9.2zM375 773.7h9.2v4.5h-9.2zM768.1 773.7h9.2v4.5h-9.2zM813.8 773.7h9.2v4.5h-9.2zM914.3 773.7h9.2v4.5h-9.2zM1060.6 773.7h9.2v4.5h-9.2zM1078.8 773.7h9.2v4.5h-9.2zM1170.3 773.7h9.2v4.5h-9.2zM393.3 778.1h9.2v5h-9.2zM585.2 778.1h9.2v5h-9.2zM612.7 778.1h9.2v5h-9.2zM1179.4 778.1h9.2v5h-9.2zM1188.5 778.1h9.2v5h-9.2zM1298.2 778.1h9.2v5h-9.2zM1307.4 778.1h9.2v5h-9.2zM1362.2 778.1h9.2v5h-9.2zM1444.5 778.1h9.2v5h-9.2zM1453.6 778.1h9.2v5h-9.2zM621.8 783h9.2v5.7h-9.2zM694.9 783h9.2v5.7h-9.2zM877.7 783h9.2v5.7h-9.2zM996.6 783h9.2v5.7h-9.2zM1005.7 783h9.2v5.7h-9.2zM1179.4 783h9.2v5.7h-9.2zM1225.1 783h9.2v5.7h-9.2zM1234.2 783h9.2v5.7h-9.2zM1279.9 783h9.2v5.7h-9.2zM1371.4 783h9.2v5.7h-9.2zM1435.3 783h9.2v5.7h-9.2zM393.3 788.7h9.2v6.4h-9.2zM402.4 788.7h9.2v6.4h-9.2zM512.1 788.7h9.2v6.4h-9.2zM621.8 788.7h9.2v6.4h-9.2zM667.5 788.7h9.2v6.4h-9.2zM804.6 788.7h9.2v6.4h-9.2zM1024 788.7h9.2v6.4h-9.2zM1115.4 788.7h9.2v6.4h-9.2zM1206.8 788.7h9.2v6.4h-9.2zM1298.2 788.7h9.2v6.4h-9.2zM1334.8 788.7h9.2v6.4h-9.2zM530.4 795h9.2v7.2h-9.2zM539.5 795h9.2v7.2h-9.2zM758.9 795h9.2v7.2h-9.2zM822.9 795h9.2v7.2h-9.2zM877.7 795h9.2v7.2h-9.2zM1033.1 795h9.2v7.2h-9.2zM1161.1 795h9.2v7.2h-9.2zM1234.2 795h9.2v7.2h-9.2zM1307.4 795h9.2v7.2h-9.2zM1325.6 795h9.2v7.2h-9.2zM1426.2 795h9.2v7.2h-9.2zM877.7 802.2h9.2v8.2h-9.2zM896 802.2h9.2v8.2h-9.2zM1206.8 802.2h9.2v8.2h-9.2zM1398.8 802.2h9.2v8.2h-9.2zM439 810.3h9.2v9.2h-9.2zM557.8 810.3h9.2v9.2h-9.2zM585.2 810.3h9.2v9.2h-9.2zM621.8 810.3h9.2v9.2h-9.2zM658.4 810.3h9.2v9.2h-9.2zM722.4 810.3h9.2v9.2h-9.2zM768.1 810.3h9.2v9.2h-9.2zM1142.8 810.3h9.2v9.2h-9.2zM1389.6 810.3h9.2v9.2h-9.2zM384.1 819.5h9.2v9.6h-9.2zM393.3 819.5h9.2v9.6h-9.2zM420.7 819.5h9.2v9.6h-9.2zM850.3 819.5h9.2v9.6h-9.2zM987.4 819.5h9.2v9.6h-9.2zM996.6 819.5h9.2v9.6h-9.2zM1115.4 819.5h9.2v9.6h-9.2zM1133.7 819.5h9.2v9.6h-9.2zM1398.8 819.5h9.2v9.6h-9.2zM1435.3 819.5h9.2v9.6h-9.2zM1453.6 819.5h9.2v9.6h-9.2zM1462.8 819.5h9.2v9.6h-9.2zM420.7 829h9.2v9.6h-9.2zM493.8 829h9.2v9.6h-9.2zM512.1 829h9.2v9.6h-9.2zM521.3 829h9.2v9.6h-9.2zM804.6 829h9.2v9.6h-9.2zM813.8 829h9.2v9.6h-9.2zM950.9 829h9.2v9.6h-9.2zM1014.9 829h9.2v9.6h-9.2zM1316.5 829h9.2v9.6h-9.2zM530.4 838.5h9.2v4.5h-9.2zM585.2 838.5h9.2v4.5h-9.2zM795.5 838.5h9.2v4.5h-9.2zM1243.4 838.5h9.2v4.5h-9.2zM1279.9 838.5h9.2v4.5h-9.2zM1417.1 838.5h9.2v4.5h-9.2zM1435.3 838.5h9.2v4.5h-9.2z"/>
<path fill="#00e6f0" d="M472.8 657.5h9v3.5h-9zM619.6 657.5h9v3.5h-9zM766.4 657.5h9v3.5h-9zM913.2 657.5h9v3.5h-9zM1060 657.5h9v3.5h-9zM1206.8 657.5h9v3.5h-9zM1353.6 657.5h9v3.5h-9z"/>
<path fill="#00e834" d="M483.3 655.2h10.5v6.5h-10.5zM776.9 655.2h10.5v6.5h-10.5zM1070.5 655.2h10.5v6.5h-10.5zM1364.1 655.2h10.5v6.5h-10.5z"/>
<path fill="#00e84d" d="M475.8 675h9.5v11.5h-9.5zM1063 675h9.5v11.5h-9.5zM1356.6 675h9.5v11.5h-9.5z"/>
<path fill="#00e867" d="M630.1 655.2h10.5v6.5h-10.5zM923.7 655.2h10.5v6.5h-10.5zM1217.3 655.2h10.5v6.5h-10.5z"/>
<path fill="#00e880" d="M622.6 675h9.5v11.5h-9.5zM916.2 675h9.5v11.5h-9.5z"/>
<path fill="#f02010" d="M486.8 679.2h6.5v3h-6.5zM633.6 679.2h6.5v3h-6.5zM780.4 679.2h6.5v3h-6.5zM927.2 679.2h6.5v3h-6.5zM1074 679.2h6.5v3h-6.5zM1220.8 679.2h6.5v3h-6.5zM1367.6 679.2h6.5v3h-6.5z"/>
<path fill="#f3f00f" d="M484.8 674h10v13h-10zM631.6 674h10v13h-10zM778.4 674h10v13h-10zM925.2 674h10v13h-10zM1072 674h10v13h-10zM1218.8 674h10v13h-10zM1365.6 674h10v13h-10z"/>
<path fill="#fe8f02" d="M485.8 677h8.5v7h-8.5zM632.6 677h8.5v7h-8.5zM779.4 677h8.5v7h-8.5zM926.2 677h8.5v7h-8.5zM1073 677h8.5v7h-8.5zM1219.8 677h8.5v7h-8.5zM1366.6 677h8.5v7h-8.5z"/>
</g>
<path d="M372 755.3L1471.9 755.3" stroke="#000" stroke-width="2.8" fill="none"/>
<path d="M360 547L1483.9 547" stroke="#000" stroke-width="2" fill="none"/>
<path d="M360 844.3L1483.9 844.3" stroke="#000" stroke-width="2.4" fill="none"/>
<path d="M372 547L372 844.3" stroke="#000" stroke-width="2" fill="none"/>
<path d="M1471.9 547L1471.9 844.3" stroke="#000" stroke-width="2" fill="none"/>
<path d="M419.4 547v8M466.4 547v8M512.1 547v8M559.2 547v8M606.2 547v8M694.8 547v8M741.8 547v8M787.5 547v8M834.6 547v8M881.6 547v8M970.2 547v8M1017.2 547v8M1062.9 547v8M1110 547v8M1157 547v8M1247.9 547v8M1294.9 547v8M1340.6 547v8M1387.7 547v8M1434.7 547v8" stroke="#000" stroke-width="2.5" fill="none"/>
<path d="M652.1 547v11.5M927.5 547v11.5M1205.2 547v11.5" stroke="#000" stroke-width="2.5" fill="none"/>
<path d="M419.4 844.3v-8M466.4 844.3v-8M512.1 844.3v-8M559.2 844.3v-8M606.2 844.3v-8M694.8 844.3v-8M741.8 844.3v-8M787.5 844.3v-8M834.6 844.3v-8M881.6 844.3v-8M970.2 844.3v-8M1017.2 844.3v-8M1062.9 844.3v-8M1110 844.3v-8M1157 844.3v-8M1247.9 844.3v-8M1294.9 844.3v-8M1340.6 844.3v-8M1387.7 844.3v-8M1434.7 844.3v-8" stroke="#000" stroke-width="2.5" fill="none"/>
<path d="M652.1 844.3v-11.5M927.5 844.3v-11.5M1205.2 844.3v-11.5" stroke="#000" stroke-width="2.5" fill="none"/>
<path d="M372 841.5h-8.5M372 835.5h-8.5M372 830.5h-8.5M372 826.2h-8.5M372 822.3h-8.5M372 796.3h-8.5M372 783.1h-8.5M372 773.7h-8.5M372 766.5h-8.5M372 760.5h-8.5M372 755.5h-8.5M372 751.2h-8.5M372 747.3h-8.5M372 721.3h-8.5M372 708.1h-8.5M372 698.7h-8.5M372 691.5h-8.5M372 685.5h-8.5M372 680.5h-8.5M372 676.2h-8.5M372 672.3h-8.5M372 646.3h-8.5M372 633.1h-8.5M372 623.7h-8.5M372 616.5h-8.5M372 610.5h-8.5M372 605.5h-8.5M372 601.2h-8.5M372 597.3h-8.5M372 571.3h-8.5M372 558.1h-8.5M372 548.7h-8.5" stroke="#000" stroke-width="2.2" fill="none"/>
<path d="M372 818.9h-11M372 743.9h-11M372 668.9h-11M372 593.9h-11" stroke="#000" stroke-width="3.2" fill="none"/>
<text transform="translate(344.9,599.7) scale(0.950,1)" font-size="15.5" text-anchor="end" fill="#000">10</text>
<text transform="translate(345.9,591.9) scale(0.950,1)" font-size="11" text-anchor="start" fill="#000">4</text>
<text transform="translate(344.9,674.6) scale(0.950,1)" font-size="15.5" text-anchor="end" fill="#000">10</text>
<text transform="translate(345.9,666.8) scale(0.950,1)" font-size="11" text-anchor="start" fill="#000">3</text>
<text transform="translate(344.9,749.6) scale(0.950,1)" font-size="15.5" text-anchor="end" fill="#000">10</text>
<text transform="translate(345.9,741.8) scale(0.950,1)" font-size="11" text-anchor="start" fill="#000">2</text>
<path d="M1471.9 552.4h9M1471.9 557.8h9M1471.9 563.3h9M1471.9 568.7h9M1471.9 574.1h9M1471.9 579.5h9M1471.9 584.9h9M1471.9 590.4h9M1471.9 595.8h9M1471.9 601.2h9M1471.9 606.6h9M1471.9 612h9M1471.9 617.5h9M1471.9 622.9h9M1471.9 628.3h9M1471.9 633.7h9M1471.9 639.1h9M1471.9 644.6h9M1471.9 650h9M1471.9 655.4h9M1471.9 660.8h9M1471.9 666.2h9M1471.9 671.7h9M1471.9 677.1h9M1471.9 682.5h9M1471.9 687.9h9M1471.9 693.3h9M1471.9 698.8h9M1471.9 704.2h9M1471.9 709.6h9M1471.9 715h9M1471.9 720.4h9M1471.9 725.9h9M1471.9 731.3h9M1471.9 736.7h9M1471.9 742.1h9M1471.9 747.5h9M1471.9 753h9M1471.9 758.4h9M1471.9 763.8h9M1471.9 769.2h9M1471.9 774.6h9M1471.9 780.1h9M1471.9 785.5h9M1471.9 790.9h9M1471.9 796.3h9M1471.9 801.7h9M1471.9 807.2h9M1471.9 812.6h9M1471.9 818h9M1471.9 823.4h9M1471.9 828.8h9M1471.9 834.3h9M1471.9 839.7h9" stroke="#000" stroke-width="2.2" fill="none"/>
<path d="M1471.9 547h12M1471.9 606.6h12M1471.9 666.2h12M1471.9 725.8h12M1471.9 785.4h12" stroke="#000" stroke-width="2.5" fill="none"/>
<text transform="translate(1489.5,553.9)" font-size="16" text-anchor="start" fill="#000">9</text>
<text transform="translate(1489.5,611.1)" font-size="16" text-anchor="start" fill="#000">7</text>
<text transform="translate(1489.5,672.4)" font-size="16" text-anchor="start" fill="#000">5</text>
<text transform="translate(1489.5,731.8)" font-size="16" text-anchor="start" fill="#000">3</text>
<text transform="translate(1489.5,792)" font-size="16" text-anchor="start" fill="#000">1</text>
<text transform="translate(373,539.5) scale(1.045,1)" font-size="21" text-anchor="start" fill="#000">MEx IMA-00</text>
<text transform="translate(280.5,697) rotate(-90) scale(1.045,1)" font-size="21" text-anchor="middle" fill="#000">Electron Volts</text>
<text transform="translate(302.5,697) rotate(-90) scale(1.045,1)" font-size="21" text-anchor="middle" fill="#000">eV</text>
<text transform="translate(1599,697.5) rotate(90) scale(1.045,1)" font-size="21" text-anchor="middle" fill="#000">Sensor Data</text>
<text transform="translate(1579.5,697.5) rotate(90) scale(1.045,1)" font-size="21" text-anchor="middle" fill="#000">Boundary</text>
<text transform="translate(1556,697.5) rotate(90) scale(1.045,1)" font-size="21" text-anchor="middle" fill="#000">Transitions</text>
<text transform="translate(1532,697.5) rotate(90) scale(1.045,1)" font-size="21" text-anchor="middle" fill="#000">unitless</text>
<path d="M380 920.7L395 920.7L398 923.8L431 923.8L434 926.9L464 926.9L467 930L494 930L497 933.1L524 933.1L527 936.2L551 936.2L554 939.3L578 939.3L581 942.4L602 942.4L605 945.5L626 945.5L629 948.6L650 948.6L653 951.7L671 951.7L674 954.8L692 954.8L695 957.9L713 957.9L716 961L734 961L737 964.1L752 964.1L755 967.2L773 967.2L776 970.3L794 970.3L797 973.4L812 973.4L815 976.5L833 976.5L836 979.6L851 979.6L854 982.7L869 982.7L872 985.8L890 985.8L893 988.9L908 988.9L911 992L926 992L929 995.1L944 995.1L947 998.2L962 998.2L965 1001.3L980 1001.3L983 1004.4L998 1004.4L1001 1007.5L1013 1007.5L1016 1010.6L1031 1010.6L1034 1013.7L1046 1013.7L1049 1016.8L1061 1016.8L1064 1019.9L1076 1019.9L1079 1023L1091 1023L1094 1026.1L1106 1026.1L1109 1029.2L1121 1029.2L1124 1032.3L1136 1032.3L1139 1035.4L1151 1035.4L1154 1038.5L1166 1038.5L1169 1041.6L1178 1041.6L1181 1044.7L1193 1044.7L1196 1047.8L1208 1047.8L1211 1050.9L1220 1050.9L1223 1054L1235 1054L1238 1057.1L1247 1057.1L1250 1060.2L1259 1060.2L1262 1063.3L1274 1063.3L1277 1066.4L1286 1066.4L1289 1069.5L1298 1069.5L1301 1072.6L1310 1072.6L1313 1075.7L1325 1075.7L1328 1078.8L1337 1078.8L1340 1081.9L1349 1081.9L1352 1085L1361 1085L1364 1088.1L1373 1088.1L1376 1091.2L1385 1091.2L1388 1094.3L1397 1094.3L1400 1097.4L1409 1097.4L1412 1100.5L1421 1100.5L1424 1103.6L1433 1103.6L1436 1106.7L1445 1106.7L1448 1109.8L1454 1109.8L1457 1112.9L1466 1112.9L1469 1116L1472.9 1116" stroke="#000" stroke-width="2.9" fill="none" stroke-linejoin="round"/>
<path d="M380 978.2L604 978.2L608 980.6L1472.9 980.6" stroke="#c8161a" stroke-width="3.0" fill="none"/>
<path d="M363.5 869.4L1489.4 869.4" stroke="#000" stroke-width="2.7" fill="none"/>
<path d="M363.5 1164L1489.4 1164" stroke="#000" stroke-width="2" fill="none"/>
<path d="M378 869.4L378 1164" stroke="#000" stroke-width="2" fill="none"/>
<path d="M1474.9 869.4L1474.9 1164" stroke="#000" stroke-width="2" fill="none"/>
<path d="M422.7 869.4v8M469.7 869.4v8M515.4 869.4v8M562.5 869.4v8M609.5 869.4v8M698.4 869.4v8M745.4 869.4v8M791.1 869.4v8M838.2 869.4v8M885.2 869.4v8M975.2 869.4v8M1022.2 869.4v8M1067.9 869.4v8M1115 869.4v8M1162 869.4v8M1251.2 869.4v8M1298.2 869.4v8M1343.9 869.4v8M1391 869.4v8M1438 869.4v8" stroke="#000" stroke-width="2.6" fill="none"/>
<path d="M655.7 869.4v12M932.5 869.4v12M1208.5 869.4v12" stroke="#000" stroke-width="2.6" fill="none"/>
<path d="M422.7 1164v-5.5M469.7 1164v-5.5M515.4 1164v-5.5M562.5 1164v-5.5M609.5 1164v-5.5M698.4 1164v-5.5M745.4 1164v-5.5M791.1 1164v-5.5M838.2 1164v-5.5M885.2 1164v-5.5M975.2 1164v-5.5M1022.2 1164v-5.5M1067.9 1164v-5.5M1115 1164v-5.5M1162 1164v-5.5M1251.2 1164v-5.5M1298.2 1164v-5.5M1343.9 1164v-5.5M1391 1164v-5.5M1438 1164v-5.5" stroke="#000" stroke-width="2.6" fill="none"/>
<path d="M655.7 1164v-11.5M932.5 1164v-11.5M1208.5 1164v-11.5" stroke="#000" stroke-width="2.6" fill="none"/>
<path d="M378 874.8h-9M378 880.1h-9M378 885.5h-9M378 890.8h-9M378 896.2h-9M378 901.5h-9M378 906.9h-9M378 912.3h-9M378 917.6h-9M378 923h-9M378 928.3h-9M378 933.7h-9M378 939h-9M378 944.4h-9M378 949.7h-9M378 955.1h-9M378 960.5h-9M378 965.8h-9M378 971.2h-9M378 976.5h-9M378 981.9h-9M378 987.2h-9M378 992.6h-9M378 998h-9M378 1003.3h-9M378 1008.7h-9M378 1014h-9M378 1019.4h-9M378 1024.7h-9M378 1030.1h-9M378 1035.4h-9M378 1040.8h-9M378 1046.2h-9M378 1051.5h-9M378 1056.9h-9M378 1062.2h-9M378 1067.6h-9M378 1072.9h-9M378 1078.3h-9M378 1083.7h-9M378 1089h-9M378 1094.4h-9M378 1099.7h-9M378 1105.1h-9M378 1110.4h-9M378 1115.8h-9M378 1121.1h-9M378 1126.5h-9M378 1131.9h-9M378 1137.2h-9M378 1142.6h-9M378 1147.9h-9M378 1153.3h-9M378 1158.6h-9" stroke="#000" stroke-width="2.4" fill="none"/>
<path d="M378 869.4h-14.5M378 928.3h-14.5M378 987.2h-14.5M378 1046.2h-14.5M378 1105.1h-14.5M378 1164h-14.5" stroke="#000" stroke-width="2.4" fill="none"/>
<path d="M1474.9 874.8h9M1474.9 880.1h9M1474.9 885.5h9M1474.9 890.8h9M1474.9 896.2h9M1474.9 901.5h9M1474.9 906.9h9M1474.9 912.3h9M1474.9 917.6h9M1474.9 923h9M1474.9 928.3h9M1474.9 933.7h9M1474.9 939h9M1474.9 944.4h9M1474.9 949.7h9M1474.9 955.1h9M1474.9 960.5h9M1474.9 965.8h9M1474.9 971.2h9M1474.9 976.5h9M1474.9 981.9h9M1474.9 987.2h9M1474.9 992.6h9M1474.9 998h9M1474.9 1003.3h9M1474.9 1008.7h9M1474.9 1014h9M1474.9 1019.4h9M1474.9 1024.7h9M1474.9 1030.1h9M1474.9 1035.4h9M1474.9 1040.8h9M1474.9 1046.2h9M1474.9 1051.5h9M1474.9 1056.9h9M1474.9 1062.2h9M1474.9 1067.6h9M1474.9 1072.9h9M1474.9 1078.3h9M1474.9 1083.7h9M1474.9 1089h9M1474.9 1094.4h9M1474.9 1099.7h9M1474.9 1105.1h9M1474.9 1110.4h9M1474.9 1115.8h9M1474.9 1121.1h9M1474.9 1126.5h9M1474.9 1131.9h9M1474.9 1137.2h9M1474.9 1142.6h9M1474.9 1147.9h9M1474.9 1153.3h9M1474.9 1158.6h9" stroke="#000" stroke-width="2.3" fill="none"/>
<path d="M1474.9 869.4h14M1474.9 928.3h14M1474.9 987.2h14M1474.9 1046.2h14M1474.9 1105.1h14M1474.9 1164h14" stroke="#000" stroke-width="2.6" fill="none"/>
<text transform="translate(357.3,873.9)" font-size="16" text-anchor="end" fill="#000">10575</text>
<text transform="translate(357.3,932.8)" font-size="16" text-anchor="end" fill="#000">10500</text>
<text transform="translate(357.3,991.7)" font-size="16" text-anchor="end" fill="#000">10425</text>
<text transform="translate(357.3,1050.7)" font-size="16" text-anchor="end" fill="#000">10350</text>
<text transform="translate(357.3,1109.6)" font-size="16" text-anchor="end" fill="#000">10275</text>
<text transform="translate(357.3,1168.5)" font-size="16" text-anchor="end" fill="#000">10200</text>
<text transform="translate(1495,873.9)" font-size="16" text-anchor="start" fill="#000">180</text>
<text transform="translate(1495,932.8)" font-size="16" text-anchor="start" fill="#000">144</text>
<text transform="translate(1495,991.7)" font-size="16" text-anchor="start" fill="#000">108</text>
<text transform="translate(1495,1050.7)" font-size="16" text-anchor="start" fill="#000">72</text>
<text transform="translate(1495,1109.6)" font-size="16" text-anchor="start" fill="#000">36</text>
<text transform="translate(1495,1168.5)" font-size="16" text-anchor="start" fill="#000">0</text>
<text transform="translate(217.4,1015.6) rotate(-90) scale(1.045,1)" font-size="21" text-anchor="middle" fill="#000">Sensor Data</text>
<text transform="translate(236.8,1015.6) rotate(-90) scale(1.045,1)" font-size="21" text-anchor="middle" fill="#000">MEx Alt/Mars/Pd</text>
<text transform="translate(258,1015.6) rotate(-90) scale(1.045,1)" font-size="21" text-anchor="middle" fill="#000">Distance</text>
<text transform="translate(281,1015.6) rotate(-90) scale(1.045,1)" font-size="21" text-anchor="middle" fill="#000">km</text>
<text transform="translate(1614,1016.5) rotate(90) scale(1.045,1)" font-size="21" text-anchor="middle" fill="#c8161a">Sensor Data</text>
<text transform="translate(1592.5,1016.5) rotate(90) scale(1.045,1)" font-size="21" text-anchor="middle" fill="#c8161a">MEx SZA</text>
<text transform="translate(1568,1016.5) rotate(90) scale(1.045,1)" font-size="21" text-anchor="middle" fill="#c8161a">Angle</text>
<text transform="translate(1548,1016.5) rotate(90) scale(1.045,1)" font-size="21" text-anchor="middle" fill="#c8161a">degrees</text>
<text transform="translate(310,1188.6) scale(1.045,1)" font-size="21" text-anchor="end" fill="#000">2017/060</text>
<text transform="translate(377.5,1188.6) scale(1.045,1)" font-size="21" text-anchor="middle" fill="#000">22:06</text>
<text transform="translate(655.3,1188.6) scale(1.045,1)" font-size="21" text-anchor="middle" fill="#000">22:12</text>
<text transform="translate(933,1188.6) scale(1.045,1)" font-size="21" text-anchor="middle" fill="#000">22:18</text>
<text transform="translate(1208.5,1188.6) scale(1.045,1)" font-size="21" text-anchor="middle" fill="#000">22:24</text>
<text transform="translate(1480.5,1188.6) scale(1.045,1)" font-size="21" text-anchor="middle" fill="#000">22:30</text>
<text transform="translate(310,1216.6) scale(1.045,1)" font-size="21" text-anchor="end" fill="#000">PdLat (deg)</text>
<text transform="translate(377.5,1216.6) scale(1.045,1)" font-size="21" text-anchor="middle" fill="#000">12.12</text>
<text transform="translate(655.3,1216.6) scale(1.045,1)" font-size="21" text-anchor="middle" fill="#000">10.42</text>
<text transform="translate(933,1216.6) scale(1.045,1)" font-size="21" text-anchor="middle" fill="#000">8.71</text>
<text transform="translate(1208.5,1216.6) scale(1.045,1)" font-size="21" text-anchor="middle" fill="#000">6.98</text>
<text transform="translate(1480.5,1216.6) scale(1.045,1)" font-size="21" text-anchor="middle" fill="#000">5.23</text>
<text transform="translate(310,1242.2) scale(1.045,1)" font-size="21" text-anchor="end" fill="#000">PdLon (deg)</text>
<text transform="translate(377.5,1242.2) scale(1.045,1)" font-size="21" text-anchor="middle" fill="#000">333.66</text>
<text transform="translate(655.3,1242.2) scale(1.045,1)" font-size="21" text-anchor="middle" fill="#000">332.29</text>
<text transform="translate(933,1242.2) scale(1.045,1)" font-size="21" text-anchor="middle" fill="#000">330.92</text>
<text transform="translate(1208.5,1242.2) scale(1.045,1)" font-size="21" text-anchor="middle" fill="#000">329.56</text>
<text transform="translate(1480.5,1242.2) scale(1.045,1)" font-size="21" text-anchor="middle" fill="#000">328.19</text>
<text transform="translate(310,1268.8) scale(1.045,1)" font-size="21" text-anchor="end" fill="#000">LST (hr)</text>
<text transform="translate(377.5,1268.8) scale(1.045,1)" font-size="21" text-anchor="middle" fill="#000">4.23</text>
<text transform="translate(655.3,1268.8) scale(1.045,1)" font-size="21" text-anchor="middle" fill="#000">4.29</text>
<text transform="translate(933,1268.8) scale(1.045,1)" font-size="21" text-anchor="middle" fill="#000">4.34</text>
<text transform="translate(1208.5,1268.8) scale(1.045,1)" font-size="21" text-anchor="middle" fill="#000">4.39</text>
<text transform="translate(1480.5,1268.8) scale(1.045,1)" font-size="21" text-anchor="middle" fill="#000">4.44</text>
<text transform="translate(310,1296.8) scale(1.045,1)" font-size="21" text-anchor="end" fill="#000">F10.7 (sfu)</text>
<text transform="translate(377.5,1296.8) scale(1.045,1)" font-size="21" text-anchor="middle" fill="#000">77.92</text>
<text transform="translate(655.3,1296.8) scale(1.045,1)" font-size="21" text-anchor="middle" fill="#000">77.91</text>
<text transform="translate(933,1296.8) scale(1.045,1)" font-size="21" text-anchor="middle" fill="#000">77.91</text>
<text transform="translate(1208.5,1296.8) scale(1.045,1)" font-size="21" text-anchor="middle" fill="#000">77.90</text>
<text transform="translate(1480.5,1296.8) scale(1.045,1)" font-size="21" text-anchor="middle" fill="#000">77.89</text>
<text transform="translate(310,1324.8) scale(1.045,1)" font-size="21" text-anchor="end" fill="#000">M-E Ang (deg)</text>
<text transform="translate(377.5,1324.8) scale(1.045,1)" font-size="21" text-anchor="middle" fill="#000">110.31</text>
<text transform="translate(655.3,1324.8) scale(1.045,1)" font-size="21" text-anchor="middle" fill="#000">110.31</text>
<text transform="translate(933,1324.8) scale(1.045,1)" font-size="21" text-anchor="middle" fill="#000">110.32</text>
<text transform="translate(1208.5,1324.8) scale(1.045,1)" font-size="21" text-anchor="middle" fill="#000">110.32</text>
<text transform="translate(1480.5,1324.8) scale(1.045,1)" font-size="21" text-anchor="middle" fill="#000">110.32</text>
<text transform="translate(310,1349.8) scale(1.045,1)" font-size="21" text-anchor="end" fill="#000">X-rays (W/m**2)</text>
<text transform="translate(377.5,1349.8) scale(1.045,1)" font-size="21" text-anchor="middle" fill="#000">7.1e-08</text>
<text transform="translate(655.3,1349.8) scale(1.045,1)" font-size="21" text-anchor="middle" fill="#000">7.0e-08</text>
<text transform="translate(933,1349.8) scale(1.045,1)" font-size="21" text-anchor="middle" fill="#000">7.1e-08</text>
<text transform="translate(1208.5,1349.8) scale(1.045,1)" font-size="21" text-anchor="middle" fill="#000">7.4e-08</text>
<text transform="translate(1480.5,1349.8) scale(1.045,1)" font-size="21" text-anchor="middle" fill="#000">7.7e-08</text>
<text transform="translate(310,1377.6) scale(1.045,1)" font-size="21" text-anchor="end" fill="#000">MSOX (km)</text>
<text transform="translate(377.5,1377.6) scale(1.045,1)" font-size="21" text-anchor="middle" fill="#000">-5578.13</text>
<text transform="translate(655.3,1377.6) scale(1.045,1)" font-size="21" text-anchor="middle" fill="#000">-5476.00</text>
<text transform="translate(933,1377.6) scale(1.045,1)" font-size="21" text-anchor="middle" fill="#000">-5362.62</text>
<text transform="translate(1208.5,1377.6) scale(1.045,1)" font-size="21" text-anchor="middle" fill="#000">-5237.83</text>
<text transform="translate(1480.5,1377.6) scale(1.045,1)" font-size="21" text-anchor="middle" fill="#000">-5101.80</text>
<text transform="translate(310,1405.6) scale(1.045,1)" font-size="21" text-anchor="end" fill="#000">MSOY (km)</text>
<text transform="translate(377.5,1405.6) scale(1.045,1)" font-size="21" text-anchor="middle" fill="#000">-1.1e+04</text>
<text transform="translate(655.3,1405.6) scale(1.045,1)" font-size="21" text-anchor="middle" fill="#000">-1.1e+04</text>
<text transform="translate(933,1405.6) scale(1.045,1)" font-size="21" text-anchor="middle" fill="#000">-1.2e+04</text>
<text transform="translate(1208.5,1405.6) scale(1.045,1)" font-size="21" text-anchor="middle" fill="#000">-1.2e+04</text>
<text transform="translate(1480.5,1405.6) scale(1.045,1)" font-size="21" text-anchor="middle" fill="#000">-1.2e+04</text>
<text transform="translate(310,1433.2) scale(1.045,1)" font-size="21" text-anchor="end" fill="#000">MSOZ (km)</text>
<text transform="translate(377.5,1433.2) scale(1.045,1)" font-size="21" text-anchor="middle" fill="#000">6105.69</text>
<text transform="translate(655.3,1433.2) scale(1.045,1)" font-size="21" text-anchor="middle" fill="#000">5753.16</text>
<text transform="translate(933,1433.2) scale(1.045,1)" font-size="21" text-anchor="middle" fill="#000">5389.13</text>
<text transform="translate(1208.5,1433.2) scale(1.045,1)" font-size="21" text-anchor="middle" fill="#000">5013.32</text>
<text transform="translate(1480.5,1433.2) scale(1.045,1)" font-size="21" text-anchor="middle" fill="#000">4626.73</text>
<defs><linearGradient id="rb" x1="0" y1="1" x2="0" y2="0">
<stop offset="0.000" stop-color="#802ce0"/>
<stop offset="0.104" stop-color="#5010f0"/>
<stop offset="0.194" stop-color="#0a0af8"/>
<stop offset="0.305" stop-color="#1090f0"/>
<stop offset="0.402" stop-color="#00e8f0"/>
<stop offset="0.500" stop-color="#00e880"/>
<stop offset="0.610" stop-color="#00e810"/>
<stop offset="0.715" stop-color="#80f000"/>
<stop offset="0.804" stop-color="#f8f010"/>
<stop offset="0.886" stop-color="#ff8000"/>
<stop offset="1.000" stop-color="#f02010"/>
</linearGradient></defs>
<rect x="1693.3" y="216.3" width="74.5" height="248.7" fill="url(#rb)"/>
<rect x="1691.8" y="214.8" width="77.5" height="251.7" fill="none" stroke="#000" stroke-width="3"/>
<rect x="1693.7" y="216.7" width="73.7" height="247.9" fill="none" stroke="#fff" stroke-width="0.8" stroke-opacity="0.85"/>
<path d="M1769.8 303.2h-7.5M1769.8 281.3h-7.5M1769.8 265.7h-7.5M1769.8 253.6h-7.5M1769.8 243.7h-7.5M1769.8 235.3h-7.5M1769.8 228.1h-7.5M1769.8 221.7h-7.5M1769.8 428h-7.5M1769.8 406.1h-7.5M1769.8 390.5h-7.5M1769.8 378.4h-7.5M1769.8 368.5h-7.5M1769.8 360.1h-7.5M1769.8 352.9h-7.5M1769.8 346.5h-7.5" stroke="#000" stroke-width="1.8" fill="none"/>
<path d="M1769.8 340.8h-12.5" stroke="#000" stroke-width="2.4" fill="none"/>
<text transform="translate(1730.5,207) scale(1.045,1)" font-size="17.5" text-anchor="middle" fill="#000">DEF</text>
<text transform="translate(1782.5,216.1) scale(0.880,1)" font-size="11.5" text-anchor="start" fill="#000">10</text>
<text transform="translate(1794,210.8) scale(0.950,1)" font-size="9.2" text-anchor="start" fill="#000">-4</text>
<text transform="translate(1782.5,343.6) scale(0.880,1)" font-size="11.5" text-anchor="start" fill="#000">10</text>
<text transform="translate(1794,338.3) scale(0.950,1)" font-size="9.2" text-anchor="start" fill="#000">-5</text>
<text transform="translate(1782.5,468.3) scale(0.880,1)" font-size="11.5" text-anchor="start" fill="#000">10</text>
<text transform="translate(1794,463) scale(0.950,1)" font-size="9.2" text-anchor="start" fill="#000">-6</text>
<text transform="translate(1846.5,341.8) rotate(90) scale(1.105,1)" font-size="17.5" text-anchor="middle" fill="#000">ergs/(cm**2-sr-sec-eV)</text>
<rect x="1693.3" y="568.3" width="74.5" height="246.5" fill="url(#rb)"/>
<rect x="1691.8" y="566.8" width="77.5" height="249.5" fill="none" stroke="#000" stroke-width="3"/>
<rect x="1693.7" y="568.7" width="73.7" height="245.7" fill="none" stroke="#fff" stroke-width="0.8" stroke-opacity="0.85"/>
<path d="M1769.8 655.2h-7.5M1769.8 633.3h-7.5M1769.8 617.7h-7.5M1769.8 605.6h-7.5M1769.8 595.7h-7.5M1769.8 587.3h-7.5M1769.8 580.1h-7.5M1769.8 573.7h-7.5M1769.8 780h-7.5M1769.8 758.1h-7.5M1769.8 742.5h-7.5M1769.8 730.4h-7.5M1769.8 720.5h-7.5M1769.8 712.1h-7.5M1769.8 704.9h-7.5M1769.8 698.5h-7.5" stroke="#000" stroke-width="1.8" fill="none"/>
<path d="M1769.8 692.8h-12.5" stroke="#000" stroke-width="2.4" fill="none"/>
<text transform="translate(1730.5,559) scale(1.045,1)" font-size="17.5" text-anchor="middle" fill="#000">DEF</text>
<text transform="translate(1782.5,568.4) scale(0.880,1)" font-size="11.5" text-anchor="start" fill="#000">10</text>
<text transform="translate(1794,563.1) scale(0.950,1)" font-size="9.2" text-anchor="start" fill="#000">-5</text>
<text transform="translate(1782.5,693.5) scale(0.880,1)" font-size="11.5" text-anchor="start" fill="#000">10</text>
<text transform="translate(1794,688.2) scale(0.950,1)" font-size="9.2" text-anchor="start" fill="#000">-6</text>
<text transform="translate(1782.5,817.6) scale(0.880,1)" font-size="11.5" text-anchor="start" fill="#000">10</text>
<text transform="translate(1794,812.3) scale(0.950,1)" font-size="9.2" text-anchor="start" fill="#000">-7</text>
<text transform="translate(1846.5,692.8) rotate(90) scale(1.105,1)" font-size="17.5" text-anchor="middle" fill="#000">ergs/(cm**2-sr-sec-eV)</text>
</svg>
</body></html>
